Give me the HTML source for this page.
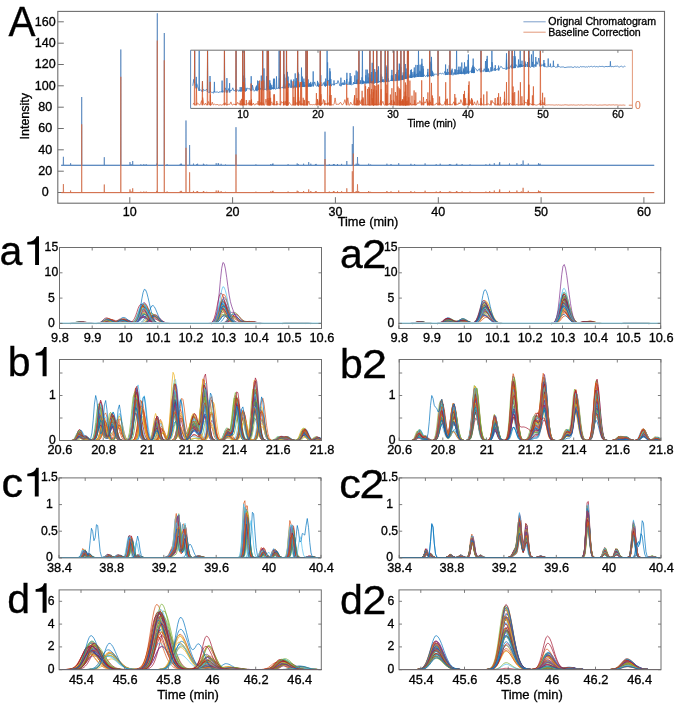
<!DOCTYPE html><html><head><meta charset="utf-8"><style>html,body{margin:0;padding:0;background:#fff;width:675px;height:703px;overflow:hidden}svg{display:block;will-change:transform;filter:blur(.35px)}text{font-family:"Liberation Sans",sans-serif;stroke:#000;stroke-width:.32px}</style></head><body>
<svg width="675" height="703" viewBox="0 0 675 703">
<rect width="675" height="703" fill="#fff"/>
<rect x="57.8" y="11.4" width="606.7" height="191.8" fill="none" stroke="#6e6e6e" stroke-width="1.1"/>
<path d="M57.8 192.5h6" stroke="#6e6e6e"/>
<text x="45.3" y="196.4" font-size="12.5" text-anchor="middle">0</text>
<path d="M57.8 171.2h6" stroke="#6e6e6e"/>
<text x="45.3" y="175.1" font-size="12.5" text-anchor="middle">20</text>
<path d="M57.8 149.8h6" stroke="#6e6e6e"/>
<text x="45.3" y="153.7" font-size="12.5" text-anchor="middle">40</text>
<path d="M57.8 128.5h6" stroke="#6e6e6e"/>
<text x="45.3" y="132.4" font-size="12.5" text-anchor="middle">60</text>
<path d="M57.8 107.2h6" stroke="#6e6e6e"/>
<text x="45.3" y="111.1" font-size="12.5" text-anchor="middle">80</text>
<path d="M57.8 85.8h6" stroke="#6e6e6e"/>
<text x="45.3" y="89.7" font-size="12.5" text-anchor="middle">100</text>
<path d="M57.8 64.5h6" stroke="#6e6e6e"/>
<text x="45.3" y="68.4" font-size="12.5" text-anchor="middle">120</text>
<path d="M57.8 43.2h6" stroke="#6e6e6e"/>
<text x="45.3" y="47.1" font-size="12.5" text-anchor="middle">140</text>
<path d="M57.8 21.8h6" stroke="#6e6e6e"/>
<text x="45.3" y="25.7" font-size="12.5" text-anchor="middle">160</text>
<path d="M129.8 203.2v-6" stroke="#6e6e6e"/>
<text x="129.8" y="215.8" font-size="12.5" text-anchor="middle">10</text>
<path d="M232.6 203.2v-6" stroke="#6e6e6e"/>
<text x="232.6" y="215.8" font-size="12.5" text-anchor="middle">20</text>
<path d="M335.4 203.2v-6" stroke="#6e6e6e"/>
<text x="335.4" y="215.8" font-size="12.5" text-anchor="middle">30</text>
<path d="M438.3 203.2v-6" stroke="#6e6e6e"/>
<text x="438.3" y="215.8" font-size="12.5" text-anchor="middle">40</text>
<path d="M541.1 203.2v-6" stroke="#6e6e6e"/>
<text x="541.1" y="215.8" font-size="12.5" text-anchor="middle">50</text>
<path d="M643.9 203.2v-6" stroke="#6e6e6e"/>
<text x="643.9" y="215.8" font-size="12.5" text-anchor="middle">60</text>
<text x="368" y="226.4" font-size="12.8" text-anchor="middle">Time (min)</text>
<text transform="translate(29.2 116.2) rotate(-90)" x="0" y="0" font-size="12.5" text-anchor="middle">Intensity</text>
<path d="M61.2 165.3l2 0 .2-8.5 .2 8.5 6.8 0 .2-2.1 .2 2.1 10.7 0 .2-68.3 .2 68.3 22.2 0 .2-8.1 .2 8.1 16.1 0 .2-115.8 .2 115.8 8.8 0 .2-3.2 .2 3.2 .7 0 .2-1.2 .2 1.2 1.2 0 .2-4.3 .2 4.3 7.7 0 .2-.9 .2 .9 2.6 0 .2-1.1 .2 1.1 2 0 .2-1.1 .2 1.1 10.2 0 .2-1.7 .2 1.7 .1 0 .2-152 .2 152 6.6 0 .2-132.3 .2 132.3 2.4 0 .2-1.1 .2 1.1 12.7 0 .2-1.3 .2 1.3 .5 0 .2-1.8 .2 1.8 .1 0 .2-1.1 .2 1.1 4 0 .2-44.8 .2 44.8 3.2 0 .2-20.3 .2 20.3 3.5 0 .2-1.7 .2 1.7 2.7 0 .2-1.1 .2 1.1 .6 0 .2-1.6 .2 1.6 5.4 0 .2-1.6 .2 1.6 .3 0 .2-.9 .2 .9 2.2 0 .2-.8 .2 .8 9.1 0 .2-2.1 .2 2.1 1.6 0 .2-2.1 .2 2.1 0 0 .2-1.7 .2 1.7 2.1 0 .2-1.5 .2 1.5 4 0 .2-.8 .2 .8 10.1 0 .2-38.1 .2 38.1 19.5 0 .2-.9 .2 .9 14.5 0 .2-1.3 .2 1.3 1.2 0 .2-1.4 .2 1.4 .2 0 .2-1.8 .2 1.8 14.7 0 .2-1.1 .2 1.1 8.7 0 .2-1.9 .2 1.9 .7 0 .2-1.2 .2 1.2 4.9 0 .2-1.6 .2 1.6 4.7 0 .2-3.2 .2 3.2 1.7 0 .2-1.6 .2 1.6 4.2 0 .2-1.2 .2 1.2 .4 0 .2-1.4 .2 1.4 8.4 0 .2-33.6 .2 33.6 3.9 0 .2-1.1 .2 1.1 3.7 0 .2-1.3 .2 1.3 0 0 .2-1.3 .2 1.3 .2 0 .2-.9 .2 .9 2.7 0 .2-1.1 .2 1.1-.4 0 .2-1 .2 1 3.7 0 .2-1.4 .2 1.4 4.8 0 .2-4.3 .2 4.3 5.1 0 .2-21.3 .2 21.3 .6 0 .2-39 .2 39 2.5 0 .2-1.6 .2 1.6 .9 0 .2-8.3 .2 8.3 .8 0 .2-1.5 .2 1.5 9.6 0 .2-1.6 .2 1.6 1.5 0 .2-.8 .2 .8 15.9 0 .2-1.6 .2 1.6 3.7 0 .2-1.3 .2 1.3 7.3 0 .2-2.1 .2 2.1 11.8 0 .2-1.5 .2 1.5 3.3 0 .2-1.1 .2 1.1 10.1 0 .2-1.9 .2 1.9 10.7 0 .2-1.1 .2 1.1 3.6 0 .2-1.6 .2 1.6 8.8 0 .2-1.2 .2 1.2 .9 0 .2-1 .2 1 5.2 0 .2-1 .2 1 .1 0 .2-1.6 .2 1.6 4.9 0 .2-1.3 .2 1.3 7.5 0 .2-1 .2 1 15.5 0 .2-1 .2 1 3.4 0 .2-1.5 .2 1.5 4.2 0 .2-2.1 .2 2.1 4.7 0 .2-1.9 .2 1.9-.1 0 .2-3.2 .2 3.2 9.4 0 .2-1.8 .2 1.8 7 0 .2-2.1 .2 2.1 4 0 .2-1.2 .2 1.2 1.4 0 .2-4.8 .2 4.8 4.8 0 .2-1.8 .2 1.8 9.8 0 .2-2.1 .2 2.1 .1 0 .2-1.2 .2 1.2 .7 0 .2-1.6 .2 1.6 113.9 0" fill="none" stroke="#4a7db8" stroke-width=".7" stroke-linejoin="round"/>
<path d="M61.2 165.3H654.2" stroke="#4a7db8" stroke-width=".9"/>
<path d="M61.2 192.6l2 0 .2-8.5 .2 8.5 6.8 0 .2-2.1 .2 2.1 10.7 0 .2-68.3 .2 68.3 22.2 0 .2-8.1 .2 8.1 16.1 0 .2-115.8 .2 115.8 8.8 0 .2-3.2 .2 3.2 .7 0 .2-1.2 .2 1.2 1.2 0 .2-4.3 .2 4.3 7.7 0 .2-.9 .2 .9 2.6 0 .2-1.1 .2 1.1 2 0 .2-1.1 .2 1.1 10.2 0 .2-1.7 .2 1.7 .1 0 .2-152 .2 152 6.6 0 .2-132.3 .2 132.3 2.4 0 .2-1.1 .2 1.1 12.7 0 .2-1.3 .2 1.3 .5 0 .2-1.8 .2 1.8 .1 0 .2-1.1 .2 1.1 4 0 .2-44.8 .2 44.8 3.2 0 .2-20.3 .2 20.3 3.5 0 .2-1.7 .2 1.7 2.7 0 .2-1.1 .2 1.1 .6 0 .2-1.6 .2 1.6 5.4 0 .2-1.6 .2 1.6 .3 0 .2-.9 .2 .9 2.2 0 .2-.8 .2 .8 9.1 0 .2-2.1 .2 2.1 1.6 0 .2-2.1 .2 2.1 0 0 .2-1.7 .2 1.7 2.1 0 .2-1.5 .2 1.5 4 0 .2-.8 .2 .8 10.1 0 .2-38.1 .2 38.1 19.5 0 .2-.9 .2 .9 14.5 0 .2-1.3 .2 1.3 1.2 0 .2-1.4 .2 1.4 .2 0 .2-1.8 .2 1.8 14.7 0 .2-1.1 .2 1.1 8.7 0 .2-1.9 .2 1.9 .7 0 .2-1.2 .2 1.2 4.9 0 .2-1.6 .2 1.6 4.7 0 .2-3.2 .2 3.2 1.7 0 .2-1.6 .2 1.6 4.2 0 .2-1.2 .2 1.2 .4 0 .2-1.4 .2 1.4 8.4 0 .2-33.6 .2 33.6 3.9 0 .2-1.1 .2 1.1 3.7 0 .2-1.3 .2 1.3 0 0 .2-1.3 .2 1.3 .2 0 .2-.9 .2 .9 2.7 0 .2-1.1 .2 1.1-.4 0 .2-1 .2 1 3.7 0 .2-1.4 .2 1.4 4.8 0 .2-4.3 .2 4.3 5.1 0 .2-21.3 .2 21.3 .6 0 .2-39 .2 39 2.5 0 .2-1.6 .2 1.6 .9 0 .2-8.3 .2 8.3 .8 0 .2-1.5 .2 1.5 9.6 0 .2-1.6 .2 1.6 1.5 0 .2-.8 .2 .8 15.9 0 .2-1.6 .2 1.6 3.7 0 .2-1.3 .2 1.3 7.3 0 .2-2.1 .2 2.1 11.8 0 .2-1.5 .2 1.5 3.3 0 .2-1.1 .2 1.1 10.1 0 .2-1.9 .2 1.9 10.7 0 .2-1.1 .2 1.1 3.6 0 .2-1.6 .2 1.6 8.8 0 .2-1.2 .2 1.2 .9 0 .2-1 .2 1 5.2 0 .2-1 .2 1 .1 0 .2-1.6 .2 1.6 4.9 0 .2-1.3 .2 1.3 7.5 0 .2-1 .2 1 15.5 0 .2-1 .2 1 3.4 0 .2-1.5 .2 1.5 4.2 0 .2-2.1 .2 2.1 4.7 0 .2-1.9 .2 1.9-.1 0 .2-3.2 .2 3.2 9.4 0 .2-1.8 .2 1.8 7 0 .2-2.1 .2 2.1 4 0 .2-1.2 .2 1.2 1.4 0 .2-4.8 .2 4.8 4.8 0 .2-1.8 .2 1.8 9.8 0 .2-2.1 .2 2.1 .1 0 .2-1.2 .2 1.2 .7 0 .2-1.6 .2 1.6 113.9 0" fill="none" stroke="#d06a45" stroke-width=".7" stroke-linejoin="round"/>
<path d="M61.2 192.6H654.2" stroke="#d06a45" stroke-width=".9"/>
<rect x="190.6" y="50.2" width="441.8" height="58.2" fill="#fff"/>
<clipPath id="ci"><rect x="190.6" y="50.7" width="441.8" height="57.7"/></clipPath>
<g clip-path="url(#ci)" fill="none" stroke-width=".8" stroke-linejoin="round">
<path d="M192.8 85.8l1-6.5 .6 3.8 .3-35.9 .3 35.9-.2-.4 1 3.2 .2 2.5 .3-11.5 .3 11.5 .1-4.8 1 3.1 1 2.9 .2 1.2 .3-43.6 .3 43.6 .2-.5 .9-.4 1 .5 .6 1.5 .3-10.7 .3 10.7-.2-.5 1-2 .9 1.1 1-.1 1-1.2 1 1.9-.2 .9 .3-44.8 .3 44.8 .5 .1 1 1 .3-1.1 .3-16 .3 16 .1-.7 1 1 .9 0 1 1 1-2.2-.2 1.1 .3-10.3 .3 10.3 .6-.1 .9 .2 1-.8 1 1.3 1-1.1 .9 .8 1-1.2 .7 1 .3-11.7 .3 11.7-.3-1.1 1-.5 .9 1.1 .2 .6 .3-45.2 .3 45.2 .2-4.6 1 1.9 .6 2.8 .3-14.4 .3 14.4-.2-1.5 .9-.1 1-2.5 .4 4 .3-9.2 .3 9.2 0-2.2 1 .5 .9-.3 1-2.6 1 3 1-.3 .9-1.3 .1 2.5 .3-44.5 .3 44.5 .3-.9 1-1.1 .9 1.7 1-1.5 .3 1.4 .3-4.2 .3 4.2 .1-.4 .7 .3 .3-4 .3 4-.3-.1 .9-.7 0 .6 .3-43.8 .3 43.8-.6 0 .3-8.8 .3 8.8-.4 0 .3-2.5 .3 2.5 .2-2.7 0 2.7 .3-15.4 .3 15.4 .4-.8-.3 .7 .3-43.7 .3 43.7-.5 0 .3-7.3 .3 7.3-.5 0 .3-13 .3 13 .5 .6 .3-.7 .3-2.9 .3 2.9 0-.5 1-2.2 1 .6 1-.3 .9 1.7 .5 .4 .3-2.1 .3 2.1-.5 0 .3-14.3 .3 14.3-.2 .6 .1-.7 .3-4.6 .3 4.6 .3-5.4 1 3.7 .9 2.6 1-1.2 .5 0 .3-2.5 .3 2.5-.1-1.2-.3 1.2 .3-3.6 .3 3.6-.3 0 .3-3.9 .3 3.9-.4 0 .3-2.7 .3 2.7-.6 0 .3-4.6 .3 4.6 .2 1.1 .1-1.2 .3-9.4 .3 9.4 .2-.6 .4 .5 .3-2.3 .3 2.3-.5 0 .3-8.9 .3 8.9-.1-3.3 1 2.2 1-.3-.1 1.3 .3-14.2 .3 14.2 .4-3.1 .5 3 .3-42.5 .3 42.5-.1 .5 1-.3-.3-.3 .3-21.2 .3 21.2 .7-.3 .9 0 .3 .1 .3-13.2 .3 13.2 .1 1.1 .1-1.1 .3-42.2 .3 42.2 .3-.5 .3 .4 .3-42.1 .3 42.1 .1 .6-.2-.6 .3-3.5 .3 3.5-.2-.1 .3-2.6 .3 2.6-.2 0 .3-8.9 .3 8.9-.3 1 .4-1 .3-5.9 .3 5.9-.4 0 .3-4.9 .3 4.9-.2 .7 1-4.7-.1 3.9 .3-2 .3 2 .5-1.3 .4 1.2 .3-10.3 .3 10.3-.5 0 .3-7.3 .3 7.3-.2 0 .5-.1 .3-10.2 .3 10.2-.1-.5 1 .9 .5-.6 .3-12.3 .3 12.3-.1-.1 .9-.2 1-1.1 .2 1.3 .3-41.4 .3 41.4-.3-.1 .3-10.1 .3 10.1-.1-2.9 .2 2.9 .3-41.3 .3 41.3 .2 0 .9-.9 1 0 1-1.2-.3 1.8 .3-3.6 .3 3.6-.4 0 .3-41 .3 41 .4-1.3-.2 1.3 .3-13.8 .3 13.8 .6 0 .5-.2 .3-10.3 .3 10.3-.1-1.9-.3 1.9 .3-40.8 .3 40.8 .7-2.7-.3 2.6 .3-16 .3 16 .1 0 .3-11.3 .3 11.3-.1-4.3-.2 4.3 .3-4.5 .3 4.5 .6-4.4 1 3.3 .5 .9 .3-8.1 .3 8.1-.1-6.9 .9 5.1 1 2.4 .3-.8 .3-8.1 .3 8.1 .1-1 1-1.2-.3 2.1 .3-14 .3 14 .6-6.2 .1 6.1 .3-9.1 .3 9.1 .3-.6 .2 .5 .3-40 .3 40-.1 0 .3-2.5 .3 2.5-.3-1.9-.1 1.8 .3-14.6 .3 14.6-.4 0 .3-5.7 .3 5.7-.4 0 .3-13.1 .3 13.1 .1-1.3-.3 1.3 .3-2.9 .3 2.9 .6-4.7 1 3.6 .2 .9 .3-19.3 .3 19.3 .2 .1 0-.1 .3-10.3 .3 10.3-.1-.1 .3-6 .3 6-.1-.1 .1 .1 .3-4.8 .3 4.8 .2-8.2-.1 8.1 .3-4.7 .3 4.7-.5 0 .3-2.1 .3 2.1 .4-1 1-.1-.2 1 .3-39.4 .3 39.4 .1 0 .3-10.7 .3 10.7-.1-.3-.1 .3 .3-3.3 .3 3.3-.4 0 .3-39.4 .3 39.4 .2-.9-.3 .9 .3-3.9 .3 3.9-.3-.1 .3-7.1 .3 7.1 .4-2 .2 2 .3-2.3 .3 2.3 .2-3.5 .2 3.4 .3-2 .3 2-.2 0 .3-4.5 .3 4.5-.2-1.7-.1 1.7 .3-2 .3 2 .4-2.1 1-1.8 .2 3.8 .3-14.9 .3 14.9 .2-.9 1-3.5 .9 3.3 1 1.1 .6-.2 .3-5.2 .3 5.2-.2-2.5 .2 2.4 .3-3.5 .3 3.5 .2 .9 .9-3 .5 2 .3-38.7 .3 38.7-.1 .1 0-.1 .3-10.7 .3 10.7 .4-.6 1 .1 .9-2.8 1 3.2 .1-.1 .3-4.1 .3 4.1-.3 0 .3-2.1 .3 2.1 0 1-.1-1.1 .3-2 .3 2-.5 0 .3-7 .3 7 .4-.8 .4 .8 .3-38.4 .3 38.4-.1-2 0 1.9 .3-23.1 .3 23.1 .4-5.2 1 1.3 0 3.8 .3-5.2 .3 5.2-.4 0 .3-17.1 .3 17.1-.5 0 .3-6.8 .3 6.8-.3 0 .3-14 .3 14-.2-2.9 .3 2.9 .3-6.2 .3 6.2 0 .8 1-2.4 1 1 .5 .4 .3-4.8 .3 4.8-.2-1.2 1 .2 1-1.1 1 .7 .9-3.3 1 2.6 1 2.9 .6-1.1 .3-7.2 .3 7.2-.2 1.4 .9-3.3 1 1.2-.2 .6 .3-2.4 .3 2.4 .6-1.5 .3 1.4 .3-4.7 .3 4.7 .1-.4 .9-.6 1-4.7-.2 5.6 .3-11.8 .3 11.8 .6-.3 1-.3 .1 .4 .3-2.7 .3 2.7 .2-.2 .1 .2 .3-11.4 .3 11.4-.4-.1 .3-6 .3 6 .1-3.3 0 3.3 .3-8.2 .3 8.2 .4 .8 1-.9 .5-.1 .3-2.1 .3 2.1-.2 0 1-.8-.1 .7 .3-8.6 .3 8.6 .5-.8 .3 .8 .3-13.4 .3 13.4 .1-1.5 .1 1.4 .3-3.9 .3 3.9-.5 0 .3-4.3 .3 4.3 .1-3.9-.1 3.9 .3-3.4 .3 3.4-.5-.1 .3-12.2 .3 12.2 .4-2.2 .2 2.2 .3-36.6 .3 36.6 .2-.3 1-1.1-.2 1.3 .3-3.4 .3 3.4 .5 .5 .3-.6 .3-6.3 .3 6.3-.2-.1 .3-36.3 .3 36.3-.3 .1 0-.1 .3-2.2 .3 2.2-.4 0 .3-2.9 .3 2.9 .2-2.7 .4 2.6 .3-2.1 .3 2.1 0-1.4 .9-.4 .2 1.7 .3-8 .3 8-.4 0 .3-13.7 .3 13.7 0-1 1-.9-.3 1.8 .3-13.5 .3 13.5 0 0 .3-2.1 .3 2.1 .1-.7 .3 .6 .3-9.7 .3 9.7 0-6.2-.2 6.2 .3-5.1 .3 5.1-.3 0 .3-8.9 .3 8.9-.4-.1 .3-35.8 .3 35.8 .1-2.1-.1 2.1 .3-2.3 .3 2.3 0 0 .3-4.9 .3 4.9-.5 0 .3-8.4 .3 8.4-.2-.6-.1 .5 .3-10.9 .3 10.9-.4 0 .3-3.2 .3 3.2-.4 0 .3-3.3 .3 3.3 .1-.3-.3 .3 .3-20.1 .3 20.1 .6 .8 0-.9 .3-35.6 .3 35.6-.6 0 .3-12 .3 12-.5 0 .3-6.9 .3 6.9-.6 0 .3-13.4 .3 13.4 .3 .9 .3-1 .3-13.5 .3 13.5 .1-.7 .3 .7 .3-10.8 .3 10.8 .1-.4 .4 .3 .3-3.2 .3 3.2-.6 0 .3-35.4 .3 35.4-.4 0 .3-3.7 .3 3.7-.3-5.4 .5 5.3 .3-12.4 .3 12.4-.1-.6 .2 .5 .3-16 .3 16 .2-1.1 .9 .4 1-1.9-.3 2.4 .3-35 .3 35-.5 0 .3-7.8 .3 7.8 .6-5.5 .2 5.3 .3-2.1 .3 2.1 .2-2.4 0 2.3 .3-2.6 .3 2.6 .3 .4 1-.9 0 .3 .3-34.5 .3 34.5-.3 0 .3-5 .3 5-.4 0 .3-12.5 .3 12.5-.1-2-.2 1.9 .3-16.3 .3 16.3-.2 0 .3-8.6 .3 8.6 .2-.1-.2 0 .3-5.8 .3 5.8-.6 0 .3-14.8 .3 14.8-.1-.1 .3-12.6 .3 12.6-.4 0 .3-2.7 .3 2.7-.2 .3-.1-.3 .3-34.2 .3 34.2-.3 0 .3-3 .3 3 .2 .2 1-.6 1-.7 .4 .7 .3-5.5 .3 5.5-.1-.3 0 .3 .3-11.1 .3 11.1-.3-.1 .3-5.6 .3 5.6 .1-3 1 1.2-.1 1.6 .3-33.5 .3 33.5 .5-.4 .9 .5-.1-.3 .3-6.5 .3 6.5 .5-.9-.2 .8 .3-5.2 .3 5.2-.3 0 .3-8 .3 8-.2 0 .3-33.2 .3 33.2-.1-.3 .4 .2 .3-10.4 .3 10.4 0-2-.2 1.9 .3-4.3 .3 4.3 .1-.1 .3-16.5 .3 16.5-.5 0 .3-3.1 .3 3.1-.3-5.1 0 5.1 .3-2.3 .3 2.3-.2-.1 .3-13.6 .3 13.6-.6 0 .3-15.7 .3 15.7 0-2.3 .1 2.2 .3-12.8 .3 12.8-.5 0 .3-32.7 .3 32.7 .2-1.7-.3 1.6 .3-3.9 .3 3.9-.4-.1 .3-3.4 .3 3.4 0-.1 .3-4.1 .3 4.1-.5-.1 .3-3.6 .3 3.6-.2-1.1 .3 .9 .3-3.9 .3 3.9-.5 0 .3-2.3 .3 2.3-.5 0 .3-6.9 .3 6.9-.2-1.5-.1 1.4 .3-4.8 .3 4.8 .1-.2 .3-31.8 .3 31.8-.2-.2 .7 0 .3-6.8 .3 6.8-.3-.9-.3 .9 .3-14.8 .3 14.8-.2-.1 .3-6.6 .3 6.6-.3-.1 .3-2 .3 2-.4-.1 .3-10 .3 10-.2-.1 .9-1.9 .1 1.7 .3-31 .3 31-.6 0 .3-3.9 .3 3.9 .3-.7-.3 .5 .3-30.8 .3 30.8 0-.1 .3-3.6 .3 3.6 .1-1.8 1 0 .2 1.4 .3-2.1 .3 2.1-.5 0 .3-7.5 .3 7.5 0-2.3 0 2.2 .3-8 .3 8-.5 0 .3-4.9 .3 4.9-.3 0 .3-3.6 .3 3.6-.4 0 .3-5.4 .3 5.4-.2-1.1 1-.1 .7 1 .3-5.6 .3 5.6-.3-2.8-.1 2.8 .3-9.7 .3 9.7-.2 0 .3-4.8 .3 4.8 0-2.3 .6 2.2 .3-12.2 .3 12.2-.2-2.5 1-.4 .4 2.8 .3-12 .3 12 0-3.9 .2 3.8 .3-29.7 .3 29.7 .1-2 1-4.1-.1 6 .3-12.1 .3 12.1-.1-.1 .3-5.1 .3 5.1 0-1 .3 1 .3-7.5 .3 7.5-.3-.1 .3-12.9 .3 12.9-.2-2.6-.3 2.6 .3-17.8 .3 17.8 .6-4.2-.1 4.2 .3-10.6 .3 10.6-.3-.1 .3-7.8 .3 7.8 .2-2 1 1.3 .9 .8 1-1.2 .6 .8 .3-3.8 .3 3.8-.2 .9-.1-.9 .3-7.3 .3 7.3 .5-1.2 .9 1.9-.1-.9 .3-28.8 .3 28.8-.3 0 .3-14.3 .3 14.3 .2-1.8 .5 1.7 .3-12.2 .3 12.2-.5 0 .3-19 .3 19-.2 .6 .4-.6 .3-5.1 .3 5.1 0-3.4 .1 3.3 .3-3.2 .3 3.2 .2 .4 1-2.2 1 .2 1 0 .9 .7 .4 .6 .3-28.3 .3 28.3 0-1.6 1-.2 1-.6 .9 1 1-.9 1 .8 1-.8 .9-2.1 .1 3.9 .3-10.5 .3 10.5-.3 0 .3-2.3 .3 2.3 0-2.8 1 2.5 0 .2 .3-6 .3 6 .4-2.8 .9 2-.1 .6 .3-9.4 .3 9.4 0 0 .3-27.5 .3 27.5-.1-1.1 .4 1 .3-3 .3 3 0 .1-.1-.1 .3-4.4 .3 4.4 .5-5.9 .9 6.6 1-2.8 .6 1.9 .3-5.2 .3 5.2-.2-1.3 .4 1.2 .3-4.6 .3 4.6 0-.1 .3 .1 .3-27.1 .3 27.1 0 0 1-1.7-.2 1.6 .3-4.3 .3 4.3 .2-.1 .3-7.4 .3 7.4-.2-3.4 1-1 0 4.3 .3-7.3 .3 7.3 .3-1.8 .6 1.7 .3-3.2 .3 3.2-.5 0 .3-11.4 .3 11.4-.3-2.1 1 1.8 .6 .1 .3-5.2 .3 5.2-.2-3.8 .4 3.7 .3-2.8 .3 2.8-.6 0 .3-11.2 .3 11.2-.1 .8 1-.8-.2-.1 .3-6.7 .3 6.7-.2 0 .3-6.8 .3 6.8 .2-1.1 1-1.7 0 2.6 .3-13.4 .3 13.4-.2 0 .3-18.8 .3 18.8-.6 0 .3-7.8 .3 7.8-.1-1 1-.2 1-1.2 1-.7-.2 2.7 .3-3.3 .3 3.3-.3 0 .3-5.4 .3 5.4 .2-3.5 0 3.5 .3-7.3 .3 7.3-.2-.1 .3-14.2 .3 14.2-.5 0 .3-5.5 .3 5.5-.1-3.9 .3 3.8 .3-5.9 .3 5.9-.5 0 .3-2.7 .3 2.7 0-3 .9-1 1 .7 1 1.8 1-1.5 .9-1 1 2.9 .3 .5 .3-24.9 .3 24.9-.4 0 .3-4.2 .3 4.2-.1-1.6 1 .1 .9 1.1 1-3 1 2.6 0 .4 .3-10.7 .3 10.7 .4-.3-.1 .2 .3-4.9 .3 4.9-.5 0 .3-2.2 .3 2.2-.3-.1 .3-12.4 .3 12.4 0-.2-.2 .2 .3-15.6 .3 15.6 .6-.2 0 .1 .3-2.9 .3 2.9-.4 0 .3-2.2 .3 2.2 .2 .4 1 0 .5-.6 .3-4 .3 4-.2 0 .6-.1 .3-23.9 .3 23.9-.2-9 1 7 1 1.5 .9-2.6 .1 2.7 .3-5.5 .3 5.5 .3-.5 1-1.1 1-.3 .4 1.6 .3-4.8 .3 4.8-.1-.4 1-2 1-1.7 1 .6 .9 1.6 1 0 1-.2 1 1.1 .5-.2 .3-15.9 .3 15.9-.6 0 .3-9.7 .3 9.7-.2-.2 1-.8 1-1.4 0 2 .3-21.6 .3 21.6 .4-1.2 .9-.5 1-2.6 .3 3.8 .3-21.1 .3 21.1 .1-.5 .1 .4 .3-12.2 .3 12.2 .3-1.4 .9-.6-.1 1.7 .3-20.7 .3 20.7-.3 0 .3-10.4 .3 10.4-.5 0 .3-11.8 .3 11.8 .1-3.2 1 .1 1 2.4 .9-.6-.1 .7 .3-7.8 .3 7.8 .5-1.8 .4 1.6 .3-3 .3 3-.4-.1 .3-18.2 .3 18.2-.2-.6 .1 .6 .3-3 .3 3-.4 0 .3-2.4 .3 2.4 0-2.7 .5 2.7 .3-6.3 .3 6.3-.1-.4 1-1.6 1 1.3-.2 .6 .3-19.7 .3 19.7 .2 0 .3-5.4 .3 5.4-.3-.9-.2 .9 .3-3.3 .3 3.3 .6-2.6 1 1.3 .1 1.2 .3-4.8 .3 4.8 .3-1.4 .3 1.3 .3-17.3 .3 17.3-.4 0 .3-19.5 .3 19.5-.6 0 .3-8.9 .3 8.9-.2-1 1 1.6 1-.2 .2-.4 .3-12.2 .3 12.2 .2-.4 .3 .3 .3-4.7 .3 4.7 0-.7 0 .7 .3-16.2 .3 16.2 .4 .9 1-3.1 .6 2.1 .3-9.5 .3 9.5-.2-.8 .9-4 1 2.6 1-6.3 1 5.5 .2 2.9 .3-19.2 .3 19.2-.3 0 .3-3.3 .3 3.3-.2 .2 1-1.8 1 .5 1-1.5-.1 2.5 .3-6.3 .3 6.3 .4 .8-.2-.7 .3-3.2 .3 3.2 .6 .2 1 .3 1-.1 .3-.3 .3-8 .3 8 0 .2 1-.2 .6 .1 .3-3 .3 3-.2 .1 1 .4 .9-.4 .7 0 .3-6 .3 6-.3-.4 1 .1 1 .9 .9-.3 1 .3 .3-.4 .3-3 .3 3 .1-.3 1 0 .9 .6 1-.2 1 0 1-.2 .9 .6 1 .1 1-.1 .9-.3 1 0 1-.1 1 .1 .9-.2 1 .1 1 .5 1-.2 .9-.7 1 .5 1 .2 1-.5 .9 .5 1 0 1-.9 1 .5 .9-.2 1 0 1 .1 1 .3 .9-.3 1 .3 1-.7 1 .5 .9-.4 1-.2 1 .6 1-.3 .9-.4 1 .7 1-.4 1 .2 .9 .3 1-.7 1 .2 1 0 .9-.2 1 .2 1 .5 1-.3 .9-.4 1 .4 1-.1 1-.2 .9 .3 .2-.2 .3-5.2 .3 5.2 .2-.1 1 .4 .9-.4 1 .4 1-.5 1-.1 .9 .1 1-.2 1 .8 1 .1 .9-.6 1-.2 1 .7 1 0 .9-.7 .9 .3" stroke="#3a78bd"/>
<path d="M192.8 104.1l1-.9 .5 2 .3-58 .3 58-.1-.1 1-.2 .4 .3 .3-17.6 .3 17.6-.1-2.1 1 .2 1 .6 1 1.3 .9-1.5 1-3.1 .5 4.6 .3-24 .3 24-.1-7.7 1 6.3 .9 1.3 1-2.1 1 1.9 1-.9-.3 1.2 .3-58 .3 58 .6-3.7 1 2.2 .5 1.5 .3-23.3 .3 23.3-.4 0 .3-10.5 .3 10.5-.3-.2 1-.2 .9-2.6 1 2.8 1-.9 1 .5 .9 .4 1-1 1 1.1 1 0 .9-.5 1 .5 1 0 1-.9 .9-.6 .1 1.6 .3-58 .3 58 .3-2.5 1 2.3 .6 .2 .3-15 .3 15-.2-.7 .9 .2 1-.6 1 .3 1-2.5 .9 2.7 1 .5 1-1.3 1 1.2 .9-1 0 1.2 .3-58 .3 58 .4-.8 1-2.1 .9 1.9 1-.9 .4 1.9 .3-4.7 .3 4.7 0-.6 .6 .6 .3-6.3 .3 6.3-.2-1.6 .9 1-.1 .6 .3-58 .3 58-.4 0 .3-13 .3 13-.6 0 .3-5.9 .3 5.9 .3-2.8-.2 2.8 .3-23.1 .3 23.1 .1 0 .3-58 .3 58-.1-1.5 1 1.2 .5 .3 .3-5.2 .3 5.2-.2-.5 1-.4 1-1.8 .6 2.7 .3-4.9 .3 4.9-.2-.4 .9-2.1 .5 2.5 .3-4.8 .3 4.8-.6 0 .3-21.7 .3 21.7-.1-2.1-.1 2.1 .3-5.9 .3 5.9 .5-.2 1-2 .9 2 1-.1 1-1.5 1 1.3 .9-3.7 .7 4.2 .3-21.7 .3 21.7-.3-1.3 .3 1.3 .3-24.7 .3 24.7 .1-.8 1-2.4-.2 3.2 .3-15.8 .3 15.8-.2 0 .3-24 .3 24 .1-.1 .3 .1 .3-58 .3 58 .1-2.6 .5 2.6 .3-24.8 .3 24.8-.1-.1 1-.2 .9-5.8 1 3.8 0 2.3 .3-58 .3 58 .4-.5-.2 .5 .3-7.2 .3 7.2-.3 0 .3-58 .3 58-.1 0 .3-5.2 .3 5.2-.2-.2-.1 .2 .3-4.3 .3 4.3 .1 0 .3-13.8 .3 13.8-.6 0 .3-15.8 .3 15.8-.3-7.2 .5 7.2 .3-7.4 .3 7.4-.1-2.2 1-1.2 1 3.1 .9-1.7-.2 2 .3-10.8 .3 10.8 .1 0 .3-10.8 .3 10.8-.1-.9 1 .4 1-.3-.2 .8 .3-4.2 .3 4.2 .5-1.9 1 1 1-.1 .4 1 .3-58 .3 58 0-.3 .9-3.3 1 1.5 1-1.2-.1 3.3 .3-4.1 .3 4.1-.4 0 .3-58 .3 58 .2-1.1 1-2.7 .6 3.8 .3-20.8 .3 20.8-.6 0 .3-19 .3 19-.2-1.5-.1 1.5 .3-58 .3 58 0 0 .3-13.2 .3 13.2-.6 0 .3-4.2 .3 4.2-.1-1.8-.1 1.8 .3-24.4 .3 24.4-.2 0 .3-18.1 .3 18.1 0-1.7 1-1 1 1.7 1 .8 .9 .1 .5 .1 .3-24 .3 24-.1-.5 .3 .5 .3-8.2 .3 8.2 .1-.1 .7 .1 .3-18.7 .3 18.7-.3-4.4-.1 4.4 .3-17.8 .3 17.8 .4-1.3 1-1.6 .3 2.9 .3-58 .3 58 .1 0 0 0 .3-21.3 .3 21.3-.6 0 .3-24.1 .3 24.1-.4 0 .3-7.9 .3 7.9 .2-1.3 .9-3.1 .4 4.4 .3-23.2 .3 23.2 0-1.9 .3 1.9 .3-23.4 .3 23.4 .1-1.1 1-.2-.1 1.3 .3-7.4 .3 7.4 .4-.2-.1 .2 .3-5.4 .3 5.4-.5 0 .3-5 .3 5 .4-.3 1 0-.2 .3 .3-58 .3 58 .1 0 .3-25.9 .3 25.9-.1-.9-.1 .9 .3-4.2 .3 4.2-.4 0 .3-58 .3 58 .2-1 1-3.2 1 3.9 1-.3 .9 0 1 .2 1-.3 1 .2 .9-.8 .5 1.3 .3-12.1 .3 12.1-.1-.1 .6 .1 .3-6.2 .3 6.2-.2-5.2 1 4.3 .5 .9 .3-20.2 .3 20.2-.2-5.6 .4 5.6 .3-58 .3 58 0-2.3-.1 2.3 .3-9.5 .3 9.5-.5 0 .3-23.1 .3 23.1-.5 0 .3-11.1 .3 11.1 .3-2.2 1 .9 .9-4.5 1 5.5 .1 .3 .3-4.8 .3 4.8 .3-2.2 1 1.5 .9-1.5 0 2.2 .3-24.3 .3 24.3 .4-2.6 1 2.2 .2 .4 .3-19 .3 19-.4 0 .3-9.8 .3 9.8 0-.4-.3 .4 .3-20.8 .3 20.8 .2 0 .3-10.2 .3 10.2-.2-.1 1-.4 1 .3 .9-.8 1-6.3 1 6.4 1 .2 .9-.6 1 .6 1-1.9 1 .1 .9 2.1 1-.2 1-1.6 1-3.4 .9 3.5 .6 2.1 .3-21 .3 21-.2-1.1 1-6.3 1 7.4 .9-.1 1-2.9 1 1.9 1 1 .9-1.5 1-7.5-.3 9.1 .3-10.2 .3 10.2 .7-1.5 .2 1.5 .3-17.3 .3 17.3 .2-.9 0 .9 .3-7.1 .3 7.1 .3-.2-.3 .2 .3-5 .3 5 0 0 .3-25.6 .3 25.6 .1-.1 .1 .1 .3-58 .3 58 .3-4.6 1 3.2 .9-4.1 .4 5.5 .3-14.4 .3 14.4 0-.1 .3 .1 .3-7.9 .3 7.9-.5 0 .3-6.7 .3 6.7 0-.6 1 .5 .3 .1 .3-21.5 .3 21.5 0-1 0 1 .3-19 .3 19 .4-.1 1-.5-.1 .6 .3-16.3 .3 16.3 .5-1 .2 1 .3-18.2 .3 18.2 .1-.7-.1 .7 .3-16.6 .3 16.6-.2 0 .3-10.9 .3 10.9-.4 0 .3-58 .3 58-.1-.1 1 0 .1 .1 .3-16.2 .3 16.2-.1 0 .3-24.1 .3 24.1-.2-7.1 .9 6.7 0 .4 .3-13.2 .3 13.2-.6 0 .3-12.4 .3 12.4-.6 0 .3-58 .3 58-.3 0 .3-15.6 .3 15.6 .1-1.4 .1 1.4 .3-19.9 .3 19.9 .3-1 .4 1 .3-19.3 .3 19.3 0-1.5 0 1.5 .3-14.9 .3 14.9-.2 0 .3-58 .3 58-.1-.2 1-.6-.3 .8 .3-20.3 .3 20.3 0 0 .3-20.7 .3 20.7 .1-.2 .9-1.4 1-3.5-.2 5.1 .3-58 .3 58-.5 0 .3-16.1 .3 16.1 .5-1.8 1-2.1 .9 3.4 1 .5 .2 0 .3-58 .3 58-.1 0 .3-24.5 .3 24.5-.3-1.6 .6 1.6 .3-12 .3 12-.2-1.3-.2 1.3 .3-20.5 .3 20.5 .5-1.7-.2 1.7 .3-58 .3 58 .6-.9 1-1.1 .4 2 .3-10.7 .3 10.7 0-2.6 .9-2.3 0 4.9 .3-17 .3 17 .4-.7 .6 .7 .3-5.3 .3 5.3-.2-1.2-.1 1.2 .3-58 .3 58 .5-3.5 .5 3.5 .3-13.2 .3 13.2-.2-.5 1 .3 0 .2 .3-9.5 .3 9.5-.2 0 .3-58 .3 58 0-.7 .2 .7 .3-18.6 .3 18.6 .2-.2 .4 .2 .3-17 .3 17-.5 0 .3-5.2 .3 5.2-.2-3 .3 3 .3-15 .3 15-.3 0 .3-16 .3 16-.2-3.4 .2 3.4 .3-58 .3 58 .2-.8-.1 .8 .3-4.1 .3 4.1 .2 0 .3-6 .3 6-.3-.3-.3 .3 .3-4.9 .3 4.9-.1 0 .3-5.4 .3 5.4-.3 0 .3-4.1 .3 4.1-.2-.2 .4 .2 .3-8.7 .3 8.7-.6 0 .3-58 .3 58 0-.6 .5 .6 .3-13.5 .3 13.5-.1-.2-.1 .2 .3-22.7 .3 22.7-.6 0 .3-9.2 .3 9.2-.2 0 .3-9.3 .3 9.3-.5 0 .3-20.4 .3 20.4 0-1.1 0 1.1 .3-4.1 .3 4.1 .3-1.7-.1 1.7 .3-58 .3 58-.2 0 .3-4.5 .3 4.5 .1-.6-.1 .6 .3-58 .3 58-.2 0 .3-7.9 .3 7.9 .1-.1 .4 .1 .3-24.6 .3 24.6 0-2.4 .9 2.3 .6 .1 .3-9.5 .3 9.5-.2-.4 1-.3 1-.2-.3 .9 .3-14.8 .3 14.8 0 0 .3-5 .3 5 0-.2 .5 .2 .3-12.8 .3 12.8-.1-1.1 1 .3 1-2 .9 1.2 1-2.9 1 2.4 .5 2.1 .3-24.9 .3 24.9-.1-2.9 .9 1.2 .4 1.7 .3-8.1 .3 8.1 0-1.2 1-2.2 .9 1.3 1-4.1 .7 6.2 .3-4 .3 4-.3-2.6-.1 2.6 .3-12.8 .3 12.8 .5-2.4 .9 1.8-.2 .6 .3-5 .3 5-.6 0 .3-58 .3 58 .6-3.3 .6 3.3 .3-22.3 .3 22.3-.2-1 .5 1 .3-9.7 .3 9.7-.1-.3 0 .3 .3-7.1 .3 7.1 .3-.1 1-.3 1-.2 1-1.7 .9 1.6 .3 .7 .3-58 .3 58 .1-.1 1-2.8-.1 2.9 .3-8.7 .3 8.7 .5-1.6 .9 1.5 1 0 1-.2 1-.6 .9-3 .2 3.9 .3-23 .3 23 .2-6 1 4.1-.1 1.9 .3-6.5 .3 6.5 .5-.5 .9-.6 .6 1.1 .3-58 .3 58-.2-.9 1 .1 1 .8 .9-1.8 1-1.7 .5 3.5 .3-11.2 .3 11.2-.1-2.6 .5 2.6 .3-7.5 .3 7.5-.1-.2 .9-1.3 1 1.1 1-2.1 1 1.3 .9-4.4 1 2.4 1 2.9 .5 .3 .3-11.1 .3 11.1-.1-.8 .2 .8 .3-10.7 .3 10.7-.4 0 .3-14.3 .3 14.3-.1-4.9 .6 4.9 .3-7.1 .3 7.1-.2-1.2 1 .1 1-.1 .5 1.2 .3-20.2 .3 20.2-.6 0 .3-12 .3 12-.2-2.9 .2 2.9 .3-23.8 .3 23.8 .2-5.5 1 4 1-5.5 0 7 .3-6.3 .3 6.3 0 0 .3-5.1 .3 5.1-.3-1.8 1 1.6 1-3.2 .9 2.7 1 .6 1-4.5 1 4.6 .9-1 1 .2 .3 .8 .3-7.1 .3 7.1-.4 0 .3-58 .3 58-.1-2.6 1 2 .9 .3 .2 .3 .3-10.7 .3 10.7 .2-.4 1 .1 1-.7 .4 1 .3-13.8 .3 13.8-.1-.5 1-1.2 1 1.4 1-.2 .5 .5 .3-4.7 .3 4.7-.2-.3 1-4.5 1 2.6 1-.1 .9 1.1 0 1.2 .3-7.2 .3 7.2 .4-.6 1 .4 .3 .2 .3-7.8 .3 7.8 .1-2.1 .4 2.1 .3-12 .3 12-.1-.8 1 .8 .3 0 .3-8.3 .3 8.3 .1-.2 1 .1 .9-1.4 1-1.3 .5 2.8 .3-13.5 .3 13.5-.5 0 .3-6.4 .3 6.4-.2-.3 1-1.6 .5 1.9 .3-23.1 .3 23.1-.2-.5 1-.9 1-1 0 2.4 .3-58 .3 58 .4-1.2 .9-.7 1 1.3 .4 .6 .3-58 .3 58 0 0 .2 0 .3-12.3 .3 12.3-.5 0 .3-18.7 .3 18.7 .1-.9 .9-.2 0 1.1 .3-13.1 .3 13.1 .4-.2 1-.4 1 .1 .9 .5-.2 0 .3-14.6 .3 14.6 .6-.4 1-.2-.2 .6 .3-23 .3 23 .5-.8 .4 .8 .3-8.9 .3 8.9 0-1.5 1 .9 .7 .6 .3-58 .3 58-.3-4.8 .9 2.8 1-1.1 1 1.7 .2 1.4 .3-5.6 .3 5.6 .2-1.3 .2 1.3 .3-20.3 .3 20.3-.5 0 .3-58 .3 58-.4 0 .3-20.5 .3 20.5-.2-.9 1-1 1 1.4 1-.6 .1 1.1 .3-9.8 .3 9.8 .2-1.4 .2 1.4 .3-18.8 .3 18.8 .2-.9 1 .5 1 .3 .9 0 1-.4 1-.5 1-.7 .3 1.7 .3-58 .3 58-.3 0 .3-5 .3 5-.3-1.5 1 1.1 .6 .4 .3-12.4 .3 12.4-.2-3.2 1 2.8 .9-1.1-.2 1.5 .3-7.7 .3 7.7 .6 0 1-.3 1 0 .9-.1 1 0 1 .1 1 0 .9 0 1 .1 1 .1 1-.1 .9-.2 1 .3 1-.3 1 .2 .9 0 1 .2 1-.2 1 .1 .9-.2 1-.1 1 0 .9 .2 1 0 1 .2 1-.3 .9 .1 1-.1 1 .2 1-.3 .9 .3 1 0 1 0 1-.1 .9-.2 1 .3 1-.2 1 0 .9 .2 1 .1 1-.2 1-.1 .9-.1 1 .1 1 .1 1 0 .9 0 1-.2 1 .3 1 0 .9-.1 1-.2 1 .3 1 .1 .9 0 1-.2 1 0 1 .1 .9 0 1-.1 1-.1 1 0 .9 0 1 .3 1-.2 1-.1 .9-.1 1 .3 1-.2 .9 0 1-.1 1 .3 1-.2 .9 0 1 .1 1 .2 1-.1 .9 0 1 .1 1-.1 1-.1 .9 .2 .9 0" stroke="#d4572a" stroke-width=".7"/>
</g>
<path d="M190.6 50.2H632.4M190.6 108.4H632.4" stroke="#6e6e6e"/>
<path d="M190.6 50.2V108.4" stroke="#5f86b4"/>
<path d="M632.4 50.2V108.4" stroke="#e49a7a"/>
<path d="M243.1 108.4v-2.6M243.1 50.2v2.6" stroke="#6e6e6e" stroke-width=".9"/>
<text x="243.1" y="117.8" font-size="10.3" text-anchor="middle">10</text>
<path d="M318 108.4v-2.6M318 50.2v2.6" stroke="#6e6e6e" stroke-width=".9"/>
<text x="318" y="117.8" font-size="10.3" text-anchor="middle">20</text>
<path d="M393 108.4v-2.6M393 50.2v2.6" stroke="#6e6e6e" stroke-width=".9"/>
<text x="393" y="117.8" font-size="10.3" text-anchor="middle">30</text>
<path d="M468 108.4v-2.6M468 50.2v2.6" stroke="#6e6e6e" stroke-width=".9"/>
<text x="468" y="117.8" font-size="10.3" text-anchor="middle">40</text>
<path d="M542.9 108.4v-2.6M542.9 50.2v2.6" stroke="#6e6e6e" stroke-width=".9"/>
<text x="542.9" y="117.8" font-size="10.3" text-anchor="middle">50</text>
<path d="M617.9 108.4v-2.6M617.9 50.2v2.6" stroke="#6e6e6e" stroke-width=".9"/>
<text x="617.9" y="117.8" font-size="10.3" text-anchor="middle">60</text>
<path d="M628.8 105.2H632.4" stroke="#dd8a66"/>
<text x="635" y="108.6" font-size="10.3" text-anchor="start" style="fill:#dc7f58;stroke:#dc7f58;stroke-width:.1px">0</text>
<text x="431.8" y="127.2" font-size="10.3" text-anchor="middle">Time (min)</text>
<path d="M523.4 21.8H545.7" stroke="#7c9fca"/>
<path d="M523.4 32.2H545.7" stroke="#e3987a"/>
<text x="548.3" y="25.3" font-size="10.6" text-anchor="start">Orignal Chromatogram</text>
<text x="548.3" y="35.8" font-size="10.6" text-anchor="start">Baseline Correction</text>
<clipPath id="ca1"><rect x="59.5" y="248" width="262" height="80.5"/></clipPath>
<g clip-path="url(#ca1)"><g transform="translate(59.5 323.50) scale(1.2476 -.2)" fill="none" stroke-width="0.7" stroke-linejoin="round">
<path d="M0 0h11l1 1 1 0 1 1 1 1 1 1 1 0 1 0 1 0 1-1 1-1 1 0 1-1 1 0 1-1h8l1 1 1 0 1 1 1 1 1 1 1 1 1 0 1 0 1-1 1 0 1-1 1-1 1 0 1 0 1 1 1 1 1 1 1 0 1 0 1 0 1-1 1-1 1-1 1 0 1-1 1 0 1 0 1 1 1 2 1 3 1 5 1 7 1 6 1 6 1 4 1 0 1-3 1-3 1-5 1-5 1-5 1-4 1-4 1-2 1-2 1-1 1 0 1-1h41l1 1 1 1 1 3 1 6 1 10 1 14 1 17 1 15 1 10 1 2 1-4 1-9 1-12 1-13 1-12 1-10 1-7 1-5 1-3 1-2 1-1 1 0 1 0 1 0 1 1 1 0 1 0 1 1 1 0 1 0 1 0 1 0 1 0 1 0 1-1 1 0 1-1 1 0 1 0 1-1h19l1 1 1 0 1 0 1 0 1 1 1 0 1 0 1 0 1 1 1-1 1 0 1 0 1 0 1 0 1 0 1-1 1 0 1 0 1 0 1-1h9" stroke="#0072BD" vector-effect="non-scaling-stroke"/>
<path d="M0 0h10l1 1 1 0 1 1 1 1 1 1 1 1 1 0 1 0 1-1 1-1 1 0 1-1 1-1 1 0 1-1h9l1 1 1 0 1 1 1 0 1 1 1 0 1-1 1 0 1 0 1-1 1 0 1 0 1 0 1 1 1 0 1 0 1 1 1-1 1 0 1 0 1 0 1-1 1 0 1 0 1 0 1 1 1 2 1 4 1 7 1 8 1 9 1 9 1 6 1 1 1-2 1-4 1-7 1-7 1-7 1-6 1-5 1-4 1-2 1-2 1-1 1 0 1-1h41l1 1 1 1 1 2 1 4 1 5 1 8 1 8 1 7 1 3 1-1 1-3 1-6 1-6 1-6 1-5 1-4 1-3 1-2 1-2 1 0 1 0 1 0 1 0 1 1 1 0 1 1 1 1 1 0 1 0 1 0 1 0 1-1 1 0 1 0 1-1 1 0 1-1 1 0 1-1h20l1 1 1 0 1 0 1 0 1 0 1 1 1 0 1 0 1 0 1 0 1 0 1-1 1 0 1 0 1 0 1 0 1 0 1-1h11" stroke="#D95319" vector-effect="non-scaling-stroke"/>
<path d="M0 0h12l1 1 1 0 1 1 1 1 1 1 1 1 1 0 1 0 1 0 1-1 1-1 1-1 1 0 1-1 1 0 1-1h4l1 1 1 0 1 2 1 2 1 2 1 3 1 3 1 1 1 0 1-1 1-2 1-2 1-1 1-1 1 2 1 2 1 4 1 3 1 2 1 0 1-1 1-3 1-3 1-3 1-3 1-2 1-2 1 0 1 1 1 4 1 7 1 11 1 14 1 16 1 15 1 9 1 2 1-3 1-8 1-11 1-13 1-11 1-11 1-8 1-7 1-4 1-3 1-1 1-1 1-1h40l1 1 1 2 1 3 1 7 1 12 1 16 1 20 1 20 1 12 1 3 1-5 1-11 1-14 1-16 1-14 1-12 1-9 1-6 1-4 1-3 1-1 1 0 1 0 1 1 1 1 1 1 1 2 1 1 1 1 1 0 1 1 1 0 1 0 1-1 1-2 1-1 1-2 1-1 1-1 1 0 1-1h18l1 1 1 0 1 0 1 1 1 0 1 0 1 1 1 0 1 0 1 0 1 0 1 0 1-1 1 0 1 0 1 0 1-1 1 0 1 0 1 0 1-1h8" stroke="#EDB120" vector-effect="non-scaling-stroke"/>
<path d="M0 0h10l1 1 1 1 1 1 1 1 1 1 1 1 1 0 1 0 1-1 1-1 1-1 1-1 1-1 1 0 1 0 1-1h5l1 1 1 1 1 2 1 3 1 4 1 4 1 4 1 2 1 0 1-2 1-2 1-3 1-3 1-2 1-1 1 2 1 2 1 3 1 2 1 1 1-1 1-2 1-3 1-2 1-3 1-2 1-1 1 0 1 1 1 5 1 8 1 14 1 18 1 20 1 19 1 13 1 3 1-5 1-10 1-13 1-16 1-15 1-13 1-11 1-8 1-6 1-4 1-2 1-1 1 0 1-1h39l1 1 1 1 1 4 1 7 1 13 1 19 1 24 1 25 1 19 1 7 1-4 1-11 1-17 1-19 1-19 1-16 1-12 1-9 1-6 1-3 1-2 1-1 1 0 1 1 1 1 1 1 1 1 1 1 1 1 1 0 1 0 1 1 1-1 1 0 1-1 1-2 1-1 1-1 1-1 1 0 1-1h17l1 1 1 0 1 0 1 1 1 0 1 1 1 0 1 0 1 0 1 0 1 0 1 0 1 0 1-1 1 0 1 0 1-1 1 0 1 0 1 0 1-1h10" stroke="#7E2F8E" vector-effect="non-scaling-stroke"/>
<path d="M0 0h11l1 1 1 0 1 1 1 2 1 1 1 1 1 0 1 0 1-1 1-1 1-1 1-1 1 0 1-1 1 0 1-1h5l1 1 1 0 1 2 1 1 1 3 1 2 1 2 1 1 1-1 1-1 1-1 1-2 1-1 1 0 1 0 1 2 1 2 1 2 1 1 1 0 1-1 1-2 1-2 1-2 1-1 1-1 1 0 1 1 1 5 1 8 1 12 1 16 1 17 1 15 1 9 1 1 1-5 1-9 1-12 1-14 1-12 1-11 1-9 1-6 1-4 1-3 1-1 1-1 1-1h41l1 1 1 1 1 4 1 6 1 9 1 14 1 15 1 14 1 9 1 0 1-5 1-9 1-11 1-12 1-11 1-8 1-7 1-4 1-3 1-1 1-1 1 0 1 1 1 0 1 2 1 1 1 1 1 0 1 0 1 1 1 0 1 0 1 0 1-1 1-1 1-1 1-1 1-1 1-1 1-1h19l1 1 1 0 1 0 1 1 1 0 1 0 1 1 1 0 1 0 1 0 1 0 1-1 1 0 1 0 1 0 1-1 1 0 1 0 1 0 1 0 1-1h8" stroke="#77AC30" vector-effect="non-scaling-stroke"/>
<path d="M0 0h9l1 1 1 0 1 2 1 1 1 2 1 1 1 0 1 0 1-1 1-1 1-1 1-1 1-1 1-1 1 0 1-1h5l1 1 1 1 1 2 1 3 1 4 1 5 1 5 1 3 1 0 1-1 1-3 1-4 1-3 1-3 1-1 1 0 1 2 1 3 1 3 1 2 1 0 1-1 1-3 1-3 1-3 1-2 1-2 1-1 1 1 1 3 1 6 1 11 1 15 1 18 1 18 1 13 1 6 1-3 1-8 1-11 1-14 1-14 1-12 1-11 1-8 1-5 1-4 1-2 1-2 1 0 1-1h39l1 1 1 1 1 3 1 6 1 11 1 18 1 22 1 23 1 19 1 8 1-2 1-11 1-15 1-18 1-17 1-16 1-12 1-8 1-6 1-3 1-2 1-1 1 0 1 1 1 1 1 2 1 1 1 2 1 1 1 0 1 1 1 0 1 0 1-1 1-1 1-2 1-2 1-1 1-1 1-1 1-1h18l1 1 1 0 1 0 1 1 1 0 1 0 1 1 1 0 1 0 1 0 1 0 1 0 1-1 1 0 1 0 1 0 1-1 1 0 1 0 1 0 1-1h10" stroke="#4DBEEE" vector-effect="non-scaling-stroke"/>
<path d="M0 0h9l1 1 1 1 1 1 1 1 1 1 1 0 1 0 1 0 1-1 1-1 1-1 1 0 1-1 1 0 1-1h6l1 1 1 0 1 1 1 2 1 2 1 3 1 2 1 0 1 0 1-1 1-2 1-1 1-2 1-1 1 0 1 0 1 2 1 2 1 2 1 1 1 0 1 0 1-2 1-1 1-2 1-2 1-1 1 0 1 1 1 2 1 4 1 6 1 8 1 7 1 6 1 3 1-1 1-3 1-4 1-6 1-6 1-5 1-5 1-4 1-2 1-2 1-1 1 0 1-1h41l1 1 1 1 1 2 1 6 1 9 1 13 1 17 1 17 1 13 1 4 1-4 1-8 1-12 1-13 1-13 1-11 1-8 1-6 1-3 1-3 1-1 1 0 1 0 1 0 1 1 1 1 1 0 1 1 1 0 1 0 1 0 1 0 1 0 1 0 1-1 1 0 1-1 1-1 1 0 1-1h21l1 1 1 0 1 0 1 0 1 0 1 0 1 0 1 0 1 0 1 0 1 0 1 0 1 0 1 0 1 0 1-1h13" stroke="#A2142F" vector-effect="non-scaling-stroke"/>
<path d="M0 0h11l1 1 1 0 1 1 1 1 1 1 1 1 1 0 1-1 1 0 1-1 1-1 1 0 1-1 1 0 1-1h7l1 1 1 0 1 1 1 1 1 2 1 1 1 0 1 0 1 0 1-1 1-1 1-1 1 0 1 0 1 0 1 1 1 0 1 1 1 0 1 0 1-1 1-1 1 0 1-1 1-1 1 0 1 0 1 1 1 3 1 4 1 6 1 8 1 8 1 8 1 5 1 0 1-2 1-5 1-6 1-7 1-6 1-5 1-5 1-3 1-2 1-1 1-1 1-1h42l1 1 1 0 1 2 1 4 1 6 1 8 1 10 1 8 1 5 1 0 1-3 1-6 1-6 1-8 1-6 1-5 1-4 1-3 1-1 1-1 1 0 1 0 1 0 1 1 1 1 1 0 1 1 1 0 1 0 1 0 1 0 1 1 1-1 1 0 1-1 1-1 1-1 1 0 1-1h21l1 1 1 0 1 0 1 0 1 0 1 0 1 0 1 0 1 0 1 0 1 0 1 0 1 0 1 0 1 0 1-1h11" stroke="#0072BD" vector-effect="non-scaling-stroke"/>
<path d="M0 0h10l1 1 1 0 1 1 1 1 1 1 1 0 1 1 1-1 1 0 1-1 1-1 1 0 1-1 1 0 1-1h7l1 1 1 0 1 1 1 1 1 2 1 1 1 1 1 0 1-1 1 0 1-1 1-1 1-1 1 0 1 0 1 2 1 2 1 2 1 2 1 1 1 0 1-1 1-2 1-2 1-1 1-2 1 0 1 0 1 3 1 5 1 8 1 10 1 11 1 10 1 5 1 0 1-3 1-6 1-8 1-8 1-8 1-7 1-6 1-4 1-2 1-2 1-1 1 0 1-1h41l1 1 1 1 1 2 1 4 1 7 1 10 1 13 1 12 1 8 1 1 1-3 1-6 1-9 1-10 1-9 1-7 1-6 1-4 1-2 1-1 1-1 1 0 1 1 1 1 1 1 1 0 1 1 1 0 1 0 1-1 1 0 1 0 1-1 1 0 1-1 1 0 1-1 1 0 1-1h21l1 1 1 0 1 0 1 0 1 0 1 1 1 0 1 0 1 0 1 0 1-1 1 0 1 0 1 0 1 0 1 0 1 0 1-1h10" stroke="#D95319" vector-effect="non-scaling-stroke"/>
<path d="M0 0h11l1 1 1 0 1 1 1 1 1 1 1 0 1 0 1 0 1-1 1 0 1-1 1-1 1 0 1 0 1-1h6l1 1 1 1 1 1 1 2 1 2 1 1 1 0 1 0 1-1 1-1 1-1 1-1 1-1 1 0 1 0 1 2 1 1 1 2 1 1 1 0 1 0 1-1 1-2 1-1 1-1 1-1 1 0 1 1 1 3 1 5 1 7 1 8 1 9 1 7 1 4 1-1 1-4 1-5 1-7 1-7 1-6 1-5 1-5 1-2 1-2 1-2 1 0 1-1h42l1 1 1 2 1 5 1 8 1 13 1 18 1 21 1 18 1 10 1 0 1-7 1-12 1-15 1-16 1-13 1-12 1-8 1-6 1-3 1-2 1-1 1 0 1 1 1 0 1 1 1 1 1 0 1 0 1 0 1 1 1 0 1 1 1 0 1-1 1-1 1-1 1-1 1-1 1 0 1-1h18l1 1 1 0 1 0 1 0 1 1 1 0 1 0 1 0 1 0 1 0 1 0 1 0 1 0 1 0 1-1 1 0 1 0 1 0 1 0 1-1h10" stroke="#EDB120" vector-effect="non-scaling-stroke"/>
<path d="M0 0h10l1 1 1 0 1 1 1 1 1 1 1 1 1 0 1 0 1-1 1 0 1-1 1-1 1-1 1 0 1 0 1-1h7l1 1 1 1 1 1 1 2 1 1 1 1 1 0 1-1 1 0 1-1 1-1 1-1 1 1 1 1 1 1 1 2 1 2 1 1 1 0 1-1 1-2 1-1 1-2 1-1 1-1 1 1 1 3 1 5 1 9 1 12 1 14 1 12 1 9 1 2 1-3 1-6 1-10 1-10 1-10 1-9 1-7 1-6 1-4 1-2 1-1 1-1 1-1h42l1 1 1 2 1 4 1 8 1 13 1 19 1 22 1 21 1 14 1 3 1-7 1-12 1-16 1-17 1-16 1-13 1-10 1-7 1-4 1-2 1-1 1-1 1 1 1 0 1 1 1 1 1 0 1 0 1 1 1 0 1 1 1 0 1 0 1-1 1-1 1-1 1-1 1-1 1 0 1-1h18l1 1 1 0 1 0 1 1 1 0 1 0 1 1 1 0 1 0 1 0 1 0 1-1 1 0 1 0 1 0 1-1 1 0 1 0 1 0 1-1h10" stroke="#7E2F8E" vector-effect="non-scaling-stroke"/>
<path d="M0 0h10l1 1 1 1 1 1 1 1 1 2 1 1 1 1 1 0 1-1 1-1 1-1 1-2 1-1 1-1 1 0 1-1h6l1 1 1 0 1 2 1 3 1 3 1 4 1 4 1 2 1 0 1-1 1-2 1-3 1-3 1-1 1-1 1 1 1 2 1 3 1 2 1 1 1-1 1-2 1-2 1-3 1-2 1-2 1-1 1 1 1 4 1 7 1 11 1 16 1 19 1 17 1 13 1 4 1-3 1-9 1-12 1-14 1-14 1-13 1-10 1-8 1-5 1-4 1-2 1-1 1 0 1-1h40l1 1 1 0 1 3 1 5 1 8 1 13 1 18 1 18 1 14 1 7 1-2 1-8 1-12 1-14 1-13 1-12 1-9 1-7 1-4 1-3 1-1 1-1 1 0 1 1 1 1 1 1 1 1 1 1 1 1 1 1 1 1 1 0 1 0 1-2 1-1 1-2 1-1 1-1 1-1 1-1h18l1 1 1 0 1 0 1 1 1 0 1 0 1 1 1 0 1 0 1 0 1 0 1-1 1 0 1 0 1 0 1-1 1 0 1 0 1 0 1 0 1-1h9" stroke="#77AC30" vector-effect="non-scaling-stroke"/>
<path d="M0 0h10l1 1 1 0 1 1 1 1 1 1 1 2 1 0 1 0 1 0 1-1 1-1 1-1 1-1 1-1 1 0 1-1h5l1 1 1 0 1 2 1 2 1 3 1 3 1 3 1 1 1 0 1-1 1-2 1-2 1-3 1-1 1-1 1 0 1 1 1 1 1 1 1 0 1 0 1-1 1-1 1-1 1-1 1-1 1-1 1 0 1 1 1 2 1 4 1 6 1 8 1 10 1 9 1 5 1 2 1-2 1-5 1-6 1-7 1-8 1-6 1-5 1-4 1-2 1-2 1-1 1 0 1-1h40l1 1 1 1 1 2 1 5 1 10 1 14 1 19 1 21 1 17 1 8 1-2 1-9 1-13 1-15 1-15 1-14 1-11 1-7 1-5 1-3 1-2 1 0 1 0 1 1 1 1 1 1 1 1 1 1 1 0 1 0 1 0 1 0 1 0 1-1 1-1 1-1 1-1 1-1 1-1 1 0 1-1h18l1 1 1 0 1 0 1 0 1 1 1 0 1 0 1 0 1 0 1 0 1 0 1 0 1 0 1-1 1 0 1 0 1 0 1 0 1-1h11" stroke="#4DBEEE" vector-effect="non-scaling-stroke"/>
<path d="M0 0h9l1 1 1 0 1 1 1 1 1 1 1 1 1 0 1 0 1-1 1 0 1-1 1-1 1-1 1 0 1 0 1-1h7l1 1 1 0 1 1 1 1 1 1 1 0 1 0 1 0 1 0 1-1 1-1 1 0 1 0 1 0 1 1 1 1 1 1 1 1 1 0 1 0 1-1 1 0 1-1 1-1 1-1 1 0 1 0 1 2 1 2 1 5 1 5 1 6 1 5 1 3 1 0 1-2 1-3 1-4 1-4 1-5 1-3 1-3 1-3 1-1 1-1 1 0 1-1h43l1 1 1 2 1 4 1 7 1 10 1 14 1 14 1 12 1 6 1-2 1-6 1-9 1-11 1-11 1-10 1-7 1-6 1-3 1-3 1-1 1 0 1 0 1 1 1 1 1 1 1 1 1 0 1 0 1 0 1 0 1 0 1-1 1-1 1 0 1-1 1-1 1 0 1-1h22l1 1 1 0 1 0 1 0 1 0 1 1 1 0 1 0 1 0 1 0 1 0 1-1 1 0 1 0 1 0 1 0 1 0 1-1h10" stroke="#A2142F" vector-effect="non-scaling-stroke"/>
<path d="M0 0h12l1 1 1 0 1 1 1 0 1 0 1 1 1-1 1 0 1 0 1-1 1 0 1 0 1-1h6l1 1 1 0 1 2 1 1 1 3 1 2 1 2 1 0 1 0 1-1 1-2 1-2 1-1 1-1 1-1 1 1 1 1 1 2 1 3 1 2 1 1 1 0 1-2 1-1 1-2 1-2 1-2 1-1 1 0 1 2 1 3 1 6 1 8 1 9 1 8 1 5 1 1 1-2 1-4 1-6 1-7 1-6 1-6 1-5 1-3 1-3 1-1 1-1 1-1h43l1 1 1 1 1 2 1 4 1 7 1 8 1 8 1 6 1 2 1-1 1-4 1-6 1-6 1-6 1-5 1-4 1-3 1-2 1-1 1 0 1 0 1 0 1 1 1 1 1 1 1 1 1 0 1 0 1 1 1 0 1 0 1 0 1-1 1-1 1-1 1-1 1-1 1 0 1-1h19l1 1 1 0 1 0 1 0 1 0 1 1 1 0 1 0 1 0 1 0 1-1 1 0 1 0 1 0 1 0 1 0 1 0 1-1h11" stroke="#0072BD" vector-effect="non-scaling-stroke"/>
<path d="M0 0h11l1 1 1 1 1 1 1 1 1 1 1 1 1 0 1 0 1-1 1-1 1-1 1-1 1-1 1 0 1 0 1-1h5l1 1 1 0 1 1 1 1 1 1 1 0 1 0 1 0 1 0 1-1 1 0 1 0 1 0 1 1 1 2 1 1 1 2 1 0 1 0 1-1 1-2 1-1 1-1 1-2 1 0 1-1 1-1h6l1 1 1 1 1 2 1 3 1 5 1 6 1 6 1 4 1 2 1 0 1-2 1-4 1-4 1-5 1-4 1-3 1-3 1-2 1-1 1-1 1-1h44l1 1 1 1 1 3 1 4 1 5 1 5 1 5 1 2 1 0 1-2 1-4 1-3 1-4 1-4 1-2 1-1 1-1 1 0 1 0 1 0 1 0 1 0 1 0 1-1 1 0 1-1 1-1 1-1 1 0 1-1h21l1 1 1 0 1 0 1 0 1 1 1 0 1 0 1 0 1 0 1 0 1 0 1 0 1 0 1 0 1-1 1 0 1 0 1 0 1 0 1-1h9" stroke="#D95319" vector-effect="non-scaling-stroke"/>
<path d="M0 0h8l1 1 1 0 1 1 1 1 1 1 1 1 1 1 1 0 1-1 1-1 1-1 1 0 1-1 1-1 1 0 1-1h6l1 1 1 1 1 1 1 3 1 2 1 3 1 2 1 1 1 0 1-2 1-2 1-2 1-2 1-1 1 0 1 2 1 2 1 4 1 4 1 2 1 1 1-1 1-2 1-3 1-3 1-3 1-2 1 0 1 2 1 4 1 9 1 12 1 15 1 15 1 11 1 4 1-2 1-6 1-10 1-11 1-11 1-11 1-9 1-6 1-5 1-3 1-2 1-1 1 0 1-1h41l1 1 1 2 1 5 1 9 1 15 1 20 1 24 1 21 1 13 1 1 1-8 1-13 1-17 1-18 1-16 1-13 1-10 1-7 1-4 1-2 1-1 1 0 1 1 1 1 1 1 1 1 1 1 1 1 1 0 1 0 1 0 1-1 1 0 1-1 1-2 1-1 1-1 1-1 1 0 1-1h18l1 1 1 0 1 0 1 0 1 1 1 0 1 0 1 0 1 0 1 0 1 0 1 0 1 0 1 0 1-1 1 0 1 0 1 0 1 0 1-1h11" stroke="#EDB120" vector-effect="non-scaling-stroke"/>
<path d="M0 0h11l1 1 1 0 1 1 1 0 1 1 1 0 1 0 1 0 1-1 1 0 1-1 1 0 1 0 1-1h6l1 1 1 0 1 1 1 2 1 2 1 2 1 1 1 1 1-1 1-1 1-1 1-2 1-1 1-1 1 0 1 0 1 1 1 1 1 0 1 0 1-1 1 0 1-1 1-1 1 0 1-1 1 0 1 0 1 1 1 2 1 3 1 5 1 6 1 7 1 5 1 3 1 0 1-3 1-3 1-5 1-5 1-4 1-4 1-3 1-3 1-1 1-1 1 0 1-1h42l1 1 1 2 1 3 1 8 1 11 1 16 1 17 1 16 1 10 1 0 1-6 1-10 1-13 1-14 1-12 1-10 1-7 1-5 1-3 1-2 1-1 1 0 1 1 1 0 1 1 1 2 1 0 1 1 1 0 1 1 1 0 1 0 1-1 1-1 1-1 1-1 1-1 1-1 1 0 1-1h19l1 1 1 0 1 0 1 0 1 0 1 1 1 0 1 0 1 0 1 0 1 0 1 0 1-1 1 0 1 0 1 0 1 0 1-1h11" stroke="#7E2F8E" vector-effect="non-scaling-stroke"/>
<path d="M0 0h10l1 1 1 0 1 2 1 1 1 2 1 2 1 1 1 0 1-1 1-1 1-1 1-2 1-1 1-1 1-1 1 0 1-1h4l1 1 1 1 1 2 1 3 1 3 1 3 1 2 1 0 1 0 1-2 1-3 1-2 1-2 1-1 1 1 1 2 1 3 1 5 1 4 1 2 1 1 1-2 1-3 1-3 1-4 1-3 1-3 1-2 1-1 1-1 1 0 1-1 1 1 1 0 1 2 1 3 1 6 1 7 1 10 1 10 1 9 1 4 1 0 1-4 1-6 1-7 1-8 1-7 1-6 1-5 1-3 1-3 1-1 1-1 1-1h45l1 1 1 1 1 4 1 5 1 8 1 11 1 12 1 9 1 4 1-1 1-4 1-7 1-8 1-8 1-6 1-5 1-3 1-2 1-1 1-1 1 0 1 0 1-1 1-1 1-2 1-1 1-2 1-1 1 0 1-1h19l1 1 1 0 1 0 1 0 1 1 1 0 1 1 1 0 1 0 1 0 1 0 1 0 1-1 1 0 1 0 1 0 1-1 1 0 1 0 1 0 1-1h9" stroke="#77AC30" vector-effect="non-scaling-stroke"/>
<path d="M0 0h9l1 1 1 0 1 1 1 2 1 1 1 1 1 1 1 0 1-1 1 0 1-2 1-1 1-1 1-1 1 0 1 0 1-1h5l1 1 1 0 1 1 1 2 1 3 1 2 1 2 1 1 1 0 1-1 1-2 1-2 1-1 1-1 1-1 1 1 1 2 1 2 1 3 1 1 1 0 1-1 1-2 1-2 1-2 1-1 1-1 1 0 1 2 1 5 1 8 1 11 1 15 1 14 1 12 1 6 1-1 1-6 1-9 1-11 1-11 1-11 1-9 1-7 1-4 1-4 1-2 1-1 1 0 1-1h40l1 1 1 1 1 2 1 5 1 10 1 15 1 20 1 21 1 18 1 10 1-2 1-8 1-14 1-16 1-16 1-15 1-11 1-8 1-6 1-3 1-2 1-1 1 0 1 1 1 1 1 1 1 1 1 0 1 1 1 0 1 0 1 0 1 0 1-1 1-1 1-1 1-1 1-1 1 0 1-1h20l1 1 1 0 1 0 1 1 1 0 1 0 1 0 1 1 1 0 1 0 1-1 1 0 1 0 1 0 1-1 1 0 1 0 1 0 1 0 1-1h9" stroke="#4DBEEE" vector-effect="non-scaling-stroke"/>
<path d="M0 0h10l1 1 1 1 1 1 1 1 1 1 1 0 1 0 1 0 1-1 1-1 1 0 1-1 1-1 1 0 1-1h6l1 1 1 1 1 1 1 2 1 2 1 3 1 1 1 0 1 0 1-1 1-2 1-2 1-1 1 0 1 1 1 2 1 3 1 2 1 2 1 0 1-1 1-2 1-3 1-2 1-2 1-2 1-1 1-1 1 0 1-1h6l1 1 1 2 1 2 1 5 1 5 1 7 1 7 1 5 1 2 1-1 1-3 1-4 1-5 1-6 1-5 1-4 1-3 1-2 1-1 1-1 1-1h43l1 1 1 0 1 2 1 4 1 5 1 6 1 8 1 6 1 2 1 0 1-3 1-4 1-5 1-5 1-4 1-2 1-2 1-1 1 0 1 0 1 0 1-1 1 0 1-1 1-2 1-1 1-1 1-1 1 0 1-1h19l1 1 1 0 1 0 1 1 1 0 1 0 1 0 1 1 1 0 1 0 1-1 1 0 1 0 1 0 1 0 1-1 1 0 1 0 1 0 1-1h10" stroke="#A2142F" vector-effect="non-scaling-stroke"/>
<path d="M0 0h11l1 1 1 1 1 0 1 1 1 1 1 1 1 0 1-1 1 0 1-1 1-1 1-1 1 0 1 0 1-1h5l1 1 1 1 1 1 1 2 1 2 1 2 1 2 1 0 1-1 1-1 1-1 1-2 1-1 1-1 1 0 1 2 1 2 1 3 1 3 1 2 1 0 1-1 1-2 1-2 1-3 1-2 1-1 1 0 1 2 1 5 1 8 1 13 1 16 1 17 1 13 1 6 1-1 1-6 1-10 1-12 1-13 1-11 1-10 1-8 1-5 1-4 1-2 1-2 1 0 1-1h40l1 1 1 2 1 4 1 8 1 13 1 19 1 23 1 21 1 15 1 3 1-6 1-13 1-16 1-17 1-16 1-14 1-10 1-7 1-5 1-2 1-1 1-1 1 1 1 1 1 1 1 2 1 1 1 1 1 0 1 0 1 0 1 1 1 0 1-1 1-2 1-1 1-1 1-2 1-1 1 0 1-1h18l1 1 1 0 1 0 1 0 1 1 1 0 1 0 1 0 1 0 1 0 1 0 1 0 1 0 1 0 1-1 1 0 1 0 1 0 1 0 1-1h10" stroke="#0072BD" vector-effect="non-scaling-stroke"/>
<path d="M0 0h9l1 1 1 0 1 1 1 1 1 1 1 1 1 0 1 0 1-1 1-1 1 0 1-1 1-1 1 0 1-1h6l1 1 1 0 1 1 1 2 1 2 1 3 1 1 1 1 1-1 1-1 1-1 1-2 1-1 1-2 1 0 1 0 1 1 1 1 1 2 1 0 1 0 1 0 1-1 1-2 1-1 1-1 1 0 1-1 1 0 1-1h6l1 1 1 1 1 1 1 3 1 4 1 6 1 6 1 6 1 3 1 0 1-2 1-3 1-4 1-5 1-4 1-4 1-3 1-2 1-2 1-1 1 0 1-1h42l1 1 1 2 1 2 1 5 1 7 1 7 1 7 1 4 1 0 1-2 1-4 1-5 1-5 1-5 1-3 1-2 1-1 1 0 1-1 1 0 1 0 1 0 1 0 1-1 1-1 1-1 1-1 1-1 1-1 1 0 1-1h18l1 1 1 0 1 0 1 1 1 0 1 0 1 0 1 1 1 0 1-1 1 0 1 0 1 0 1 0 1-1 1 0 1 0 1 0 1 0 1-1h11" stroke="#D95319" vector-effect="non-scaling-stroke"/>
<path d="M0 0h8l1 1 1 0 1 1 1 1 1 2 1 1 1 1 1 0 1-1 1 0 1-1 1-2 1-1 1 0 1-1 1 0 1-1h6l1 1 1 0 1 2 1 2 1 2 1 2 1 2 1 0 1 0 1-1 1-2 1-1 1-1 1-1 1 1 1 1 1 2 1 1 1 1 1-1 1-1 1-1 1-2 1-1 1-2 1 0 1 0 1 2 1 4 1 8 1 12 1 16 1 18 1 15 1 10 1 1 1-4 1-9 1-12 1-14 1-12 1-12 1-9 1-6 1-5 1-3 1-1 1-1 1-1h41l1 1 1 2 1 5 1 9 1 14 1 21 1 24 1 23 1 14 1 2 1-7 1-13 1-18 1-18 1-17 1-14 1-11 1-7 1-5 1-2 1-1 1-1 1 1 1 1 1 1 1 1 1 0 1 1 1 0 1 0 1 0 1 0 1-1 1-1 1-1 1-1 1 0 1-1 1-1h19l1 1 1 0 1 0 1 0 1 1 1 0 1 1 1 0 1 0 1 0 1 0 1 0 1-1 1 0 1 0 1 0 1-1 1 0 1 0 1 0 1-1h10" stroke="#EDB120" vector-effect="non-scaling-stroke"/>
<path d="M0 0h12l1 1 1 1 1 0 1 1 1 1 1 0 1 0 1-1 1 0 1-1 1-1 1 0 1 0 1-1h7l1 1 1 0 1 1 1 1 1 1 1 1 1 0 1-1 1 0 1-1 1 0 1-1 1 0 1 0 1 1 1 1 1 1 1 0 1 0 1 0 1-1 1-1 1-1 1 0 1-1 1 0 1-1h7l1 1 1 0 1 2 1 2 1 4 1 4 1 4 1 3 1 2 1 0 1-2 1-3 1-3 1-3 1-3 1-3 1-1 1-2 1-1 1 0 1-1h41l1 1 1 0 1 1 1 3 1 2 1 4 1 2 1 2 1 0 1-1 1-2 1-2 1-3 1-2 1-1 1-1 1 0 1 0 1 1 1 0 1 1 1 0 1 0 1 0 1 0 1 0 1-1 1-1 1-1 1-1 1 0 1-1h20l1 1 1 0 1 0 1 0 1 1 1 0 1 0 1 0 1 0 1 0 1 0 1 0 1 0 1-1 1 0 1 0 1 0 1 0 1-1h10" stroke="#7E2F8E" vector-effect="non-scaling-stroke"/>
<path d="M0 0h10l1 1 1 0 1 1 1 1 1 1 1 0 1 0 1-1 1 0 1-1 1 0 1-1 1 0 1-1h6l1 1 1 0 1 2 1 2 1 3 1 3 1 2 1 1 1 0 1-1 1-2 1-2 1-2 1-2 1-1 1 1 1 1 1 3 1 2 1 2 1 0 1 0 1-2 1-2 1-2 1-2 1-1 1 1 1 2 1 5 1 9 1 13 1 16 1 17 1 14 1 7 1 0 1-7 1-10 1-12 1-13 1-13 1-10 1-8 1-6 1-4 1-2 1-2 1 0 1-1h40l1 1 1 1 1 2 1 5 1 8 1 11 1 13 1 13 1 9 1 2 1-3 1-8 1-9 1-11 1-9 1-9 1-6 1-4 1-3 1-1 1-1 1 0 1 0 1 1 1 1 1 0 1 1 1 1 1 0 1 1 1 0 1 0 1 0 1 0 1-1 1-2 1-1 1 0 1-1 1-1h21l1 1 1 0 1 0 1 0 1 1 1 0 1 0 1 0 1 0 1 0 1 0 1-1 1 0 1 0 1 0 1 0 1 0 1-1h11" stroke="#77AC30" vector-effect="non-scaling-stroke"/>
<path d="M0 0h10l1 1 1 1 1 1 1 1 1 1 1 1 1 0 1 0 1-1 1-1 1-1 1-1 1-1 1 0 1 0 1-1h4l1 1 1 0 1 2 1 2 1 3 1 3 1 3 1 1 1-1 1-1 1-2 1-2 1-2 1-2 1 0 1 0 1 2 1 2 1 2 1 1 1 0 1 0 1-2 1-2 1-2 1-1 1-2 1 0 1 0 1 2 1 4 1 7 1 9 1 12 1 12 1 9 1 4 1-1 1-5 1-7 1-9 1-9 1-9 1-7 1-5 1-4 1-3 1-1 1-1 1-1h41l1 1 1 2 1 4 1 7 1 12 1 17 1 20 1 19 1 12 1 1 1-5 1-11 1-15 1-15 1-14 1-12 1-9 1-6 1-4 1-2 1-1 1 0 1 1 1 1 1 1 1 2 1 1 1 1 1 0 1 1 1 0 1 0 1-1 1-1 1-2 1-1 1-1 1-2 1 0 1-1h19l1 1 1 0 1 0 1 1 1 0 1 0 1 0 1 0 1 0 1 0 1 0 1 0 1 0 1 0 1-1 1 0 1 0 1 0 1 0 1-1h10" stroke="#4DBEEE" vector-effect="non-scaling-stroke"/>
<path d="M0 0h10l1 1 1 1 1 1 1 1 1 1 1 1 1 0 1 0 1-1 1-1 1-1 1-1 1 0 1-1 1 0 1-1h5l1 1 1 1 1 2 1 2 1 4 1 4 1 3 1 2 1-1 1-1 1-3 1-3 1-2 1-1 1-1 1 2 1 2 1 3 1 2 1 1 1-1 1-2 1-2 1-3 1-2 1-2 1-1 1 1 1 4 1 7 1 11 1 15 1 17 1 16 1 11 1 2 1-3 1-9 1-11 1-13 1-13 1-11 1-10 1-6 1-5 1-3 1-2 1-1 1-1h41l1 1 1 1 1 4 1 7 1 12 1 18 1 23 1 22 1 17 1 5 1-5 1-11 1-16 1-17 1-17 1-14 1-11 1-8 1-5 1-3 1-1 1 0 1 1 1 1 1 2 1 1 1 1 1 0 1 1 1 0 1 0 1 0 1 0 1-1 1-2 1-1 1-2 1-1 1-1 1 0 1-1h16l1 1 1 0 1 0 1 0 1 1 1 0 1 1 1 0 1 0 1 0 1 0 1 0 1 0 1 0 1-1 1 0 1 0 1-1 1 0 1 0 1 0 1-1h10" stroke="#A2142F" vector-effect="non-scaling-stroke"/>
<path d="M0 0h9l1 1 1 0 1 2 1 1 1 1 1 1 1 1 1 0 1-1 1-1 1-1 1-1 1-1 1-1 1 0 1-1h6l1 1 1 1 1 1 1 3 1 3 1 4 1 3 1 2 1 0 1-2 1-2 1-2 1-2 1-1 1 1 1 2 1 4 1 2 1 2 1-1 1-1 1-3 1-3 1-3 1-3 1-2 1 0 1 1 1 3 1 7 1 11 1 15 1 18 1 18 1 14 1 5 1-3 1-8 1-12 1-14 1-14 1-12 1-11 1-8 1-6 1-3 1-2 1-2 1 0 1-1h39l1 1 1 1 1 2 1 6 1 10 1 15 1 20 1 20 1 17 1 7 1-3 1-9 1-14 1-15 1-16 1-13 1-10 1-8 1-5 1-3 1-1 1-1 1 0 1 1 1 1 1 1 1 1 1 1 1 1 1 0 1 1 1 0 1 0 1-1 1-1 1-2 1-1 1-1 1-1 1 0 1-1h19l1 1 1 0 1 0 1 1 1 0 1 0 1 0 1 0 1 0 1 0 1 0 1 0 1 0 1 0 1-1 1 0 1 0 1 0 1 0 1-1h10" stroke="#0072BD" vector-effect="non-scaling-stroke"/>
<path d="M0 0h9l1 1 1 0 1 1 1 1 1 1 1 1 1 1 1 0 1-1 1-1 1-1 1 0 1-1 1-1 1 0 1-1h6l1 1 1 1 1 2 1 2 1 2 1 2 1 1 1 0 1-1 1-2 1-1 1-2 1-1 1 0 1 1 1 2 1 3 1 3 1 2 1 0 1 0 1-2 1-2 1-3 1-2 1-2 1-1 1-1 1-1 1-1h4l1 1 1 1 1 3 1 4 1 6 1 7 1 9 1 6 1 4 1 0 1-2 1-5 1-6 1-6 1-6 1-5 1-4 1-2 1-2 1-2 1 0 1-1h43l1 1 1 2 1 3 1 5 1 8 1 9 1 7 1 5 1 1 1-3 1-4 1-6 1-7 1-5 1-4 1-3 1-1 1-1 1-1 1 0 1 0 1 1 1 0 1 0 1-1 1-1 1-1 1-2 1-1 1 0 1-1h18l1 1 1 0 1 0 1 0 1 1 1 0 1 1 1 0 1 0 1 0 1 0 1 0 1-1 1 0 1 0 1 0 1-1 1 0 1 0 1 0 1-1h10" stroke="#D95319" vector-effect="non-scaling-stroke"/>
<path d="M0 0h10l1 1 1 0 1 1 1 1 1 1 1 1 1 0 1 0 1-1 1-1 1 0 1-1 1-1 1 0 1-1h6l1 1 1 1 1 2 1 3 1 4 1 3 1 2 1 0 1-1 1-2 1-2 1-2 1-2 1 0 1 0 1 2 1 2 1 1 1 1 1-1 1-1 1-2 1-2 1-2 1-2 1 0 1 0 1 1 1 3 1 7 1 10 1 14 1 16 1 15 1 11 1 3 1-3 1-8 1-10 1-12 1-12 1-11 1-9 1-7 1-4 1-3 1-2 1-1 1-1h42l1 1 1 3 1 4 1 8 1 12 1 16 1 16 1 13 1 6 1-2 1-7 1-11 1-12 1-13 1-11 1-8 1-6 1-4 1-2 1-1 1-1 1 1 1 1 1 1 1 2 1 1 1 0 1 1 1 0 1 0 1 0 1-1 1-1 1-2 1-1 1-1 1-1 1 0 1-1h18l1 1 1 0 1 0 1 1 1 0 1 1 1 0 1 0 1 0 1 0 1 0 1 0 1 0 1-1 1 0 1 0 1-1 1 0 1 0 1 0 1-1h10" stroke="#EDB120" vector-effect="non-scaling-stroke"/>
<path d="M0 0h9l1 1 1 0 1 1 1 1 1 0 1 1 1 0 1 0 1-1 1-1 1 0 1-1 1 0 1 0 1-1h7l1 1 1 0 1 1 1 2 1 1 1 2 1 0 1 0 1 0 1-1 1-1 1-1 1 0 1 0 1 1 1 2 1 2 1 1 1 1 1-1 1-1 1-1 1-2 1-2 1-1 1-1 1 0 1 0 1 2 1 3 1 5 1 6 1 6 1 6 1 4 1 0 1-2 1-4 1-4 1-5 1-5 1-4 1-4 1-2 1-2 1-1 1 0 1-1h40l1 1 1 1 1 2 1 5 1 9 1 13 1 17 1 17 1 13 1 5 1-3 1-8 1-12 1-13 1-13 1-11 1-8 1-6 1-4 1-3 1-1 1 0 1 0 1 0 1 1 1 0 1 1 1 1 1 1 1 0 1 0 1 0 1 0 1 0 1-1 1-1 1 0 1-1 1-1 1 0 1-1h21l1 1 1 0 1 0 1 0 1 0 1 0 1 0 1 0 1 0 1 0 1 0 1 0 1 0 1 0 1 0 1-1h13" stroke="#7E2F8E" vector-effect="non-scaling-stroke"/>
<path d="M0 0h11l1 1 1 0 1 1 1 1 1 0 1 0 1 0 1 0 1-1 1 0 1-1 1 0 1-1h8l1 1 1 1 1 1 1 2 1 2 1 1 1 1 1 0 1-1 1-1 1-1 1-2 1-1 1 0 1 0 1 1 1 1 1 0 1 0 1 0 1-1 1 0 1-1 1-1 1 0 1-1 1 1 1 2 1 3 1 6 1 8 1 10 1 9 1 8 1 3 1-1 1-4 1-6 1-7 1-8 1-7 1-6 1-4 1-3 1-2 1-2 1 0 1-1h42l1 1 1 1 1 3 1 4 1 8 1 9 1 9 1 8 1 3 1-1 1-4 1-6 1-8 1-7 1-6 1-5 1-4 1-2 1-1 1-1 1 0 1 0 1 0 1 1 1 0 1 1 1 0 1 0 1 0 1 0 1 0 1 0 1 0 1-1 1 0 1-1 1 0 1-1h22l1 1 1 0 1 0 1 0 1 0 1 0 1 0 1 0 1 0 1 0 1 0 1 0 1 0 1 0 1 0 1-1h12" stroke="#77AC30" vector-effect="non-scaling-stroke"/>
<path d="M0 0h9l1 1 1 1 1 1 1 2 1 1 1 1 1 0 1 0 1-1 1-1 1-1 1-1 1-1 1-1 1 0 1-1h4l1 1 1 0 1 2 1 3 1 4 1 5 1 5 1 4 1 1 1-1 1-3 1-3 1-4 1-3 1-2 1 0 1 2 1 2 1 3 1 1 1 0 1-1 1-2 1-3 1-3 1-2 1-2 1-1 1 1 1 2 1 6 1 10 1 15 1 18 1 19 1 16 1 9 1-1 1-7 1-11 1-14 1-14 1-14 1-12 1-9 1-7 1-4 1-3 1-1 1-1 1-1h40l1 1 1 1 1 4 1 7 1 13 1 18 1 23 1 24 1 18 1 6 1-4 1-12 1-16 1-18 1-18 1-15 1-12 1-8 1-5 1-4 1-1 1-1 1 1 1 0 1 2 1 1 1 2 1 1 1 1 1 1 1 0 1 1 1-1 1-1 1-1 1-2 1-2 1-1 1-1 1-1 1-1h18l1 1 1 0 1 0 1 1 1 0 1 1 1 0 1 0 1 0 1 0 1 0 1 0 1 0 1-1 1 0 1 0 1-1 1 0 1 0 1 0 1-1h10" stroke="#4DBEEE" vector-effect="non-scaling-stroke"/>
<path d="M0 0h11l1 1 1 0 1 1 1 1 1 2 1 1 1 1 1 0 1 0 1-1 1-1 1-2 1-1 1 0 1-1 1 0 1-1h5l1 1 1 1 1 1 1 3 1 4 1 4 1 4 1 2 1 0 1-2 1-2 1-3 1-3 1-2 1-2 1 1 1 2 1 2 1 3 1 2 1 0 1-1 1-1 1-3 1-2 1-3 1-2 1-2 1-1 1 0 1-1h2l1 1 1 0 1 2 1 3 1 5 1 7 1 9 1 8 1 7 1 2 1-1 1-3 1-6 1-6 1-7 1-6 1-4 1-4 1-3 1-2 1-1 1 0 1-1h43l1 1 1 1 1 3 1 5 1 7 1 10 1 9 1 8 1 3 1-2 1-4 1-7 1-7 1-7 1-5 1-4 1-3 1-1 1-1 1 0 1 0 1 0 1 0 1 0 1 0 1-1 1-1 1-1 1-1 1-1 1 0 1-1h19l1 1 1 0 1 0 1 1 1 0 1 0 1 1 1 0 1 0 1 0 1-1 1 0 1 0 1 0 1-1 1 0 1 0 1 0 1 0 1-1h7" stroke="#A2142F" vector-effect="non-scaling-stroke"/>
<path d="M0 0h12l1 1 1 1 1 1 1 1 1 1 1 1 1 0 1-1 1 0 1-1 1-1 1-1 1-1 1 0 1-1h5l1 1 1 0 1 2 1 2 1 2 1 3 1 3 1 1 1 0 1-1 1-2 1-2 1-2 1-1 1 1 1 1 1 3 1 3 1 2 1 1 1-1 1-1 1-3 1-2 1-3 1-2 1-1 1 0 1 2 1 5 1 8 1 12 1 15 1 15 1 12 1 6 1-2 1-5 1-10 1-11 1-11 1-11 1-9 1-7 1-5 1-4 1-2 1-1 1 0 1-1h40l1 1 1 2 1 4 1 9 1 14 1 22 1 26 1 27 1 19 1 6 1-6 1-13 1-19 1-21 1-20 1-16 1-13 1-9 1-6 1-3 1-1 1-1 1 1 1 1 1 2 1 2 1 1 1 0 1 0 1 1 1 0 1 0 1-1 1-1 1-2 1-2 1-1 1-1 1-1 1-1h18l1 1 1 0 1 0 1 1 1 0 1 1 1 0 1 0 1 1 1 0 1 0 1 0 1-1 1 0 1 0 1-1 1 0 1 0 1-1 1 0 1 0 1 0 1-1h7" stroke="#0072BD" vector-effect="non-scaling-stroke"/>
<path d="M0 0h10l1 1 1 0 1 1 1 2 1 1 1 1 1 1 1 0 1-1 1-1 1-1 1-1 1-1 1-1 1 0 1-1h5l1 1 1 1 1 1 1 2 1 3 1 3 1 2 1 1 1 0 1-2 1-1 1-3 1-1 1-1 1 0 1 2 1 3 1 3 1 2 1 1 1-1 1-2 1-2 1-3 1-2 1-2 1-1 1 0 1 1 1 4 1 7 1 11 1 13 1 13 1 10 1 5 1-1 1-5 1-8 1-9 1-11 1-9 1-8 1-6 1-4 1-3 1-2 1-1 1 0 1-1h41l1 1 1 2 1 3 1 7 1 12 1 16 1 19 1 18 1 11 1 1 1-6 1-10 1-14 1-14 1-14 1-11 1-8 1-5 1-4 1-1 1-1 1 0 1 1 1 2 1 1 1 2 1 0 1 0 1 0 1 0 1 0 1 0 1 0 1-1 1-2 1-1 1-1 1-1 1-1 1-1h18l1 1 1 0 1 0 1 1 1 0 1 1 1 0 1 0 1 0 1 0 1 0 1 0 1 0 1-1 1 0 1 0 1-1 1 0 1 0 1 0 1-1h9" stroke="#D95319" vector-effect="non-scaling-stroke"/>
<path d="M0 0h10l1 1 1 0 1 1 1 0 1 1 1 0 1 0 1 0 1 0 1-1 1 0 1-1 1 0 1-1h6l1 1 1 1 1 1 1 3 1 2 1 3 1 2 1 0 1-1 1-1 1-2 1-2 1-2 1-1 1-1 1 0 1 1 1 1 1 1 1 0 1 0 1 0 1-1 1-1 1-1 1-1 1 0 1 0 1 2 1 3 1 5 1 9 1 10 1 12 1 11 1 6 1 1 1-3 1-7 1-8 1-9 1-9 1-7 1-6 1-5 1-3 1-2 1-1 1 0 1-1h41l1 1 1 2 1 4 1 7 1 10 1 14 1 14 1 11 1 4 1-2 1-6 1-9 1-11 1-10 1-9 1-8 1-5 1-3 1-2 1-1 1 0 1 0 1 1 1 1 1 1 1 1 1 0 1 0 1 0 1 0 1 0 1 0 1 0 1-1 1-1 1-1 1-1 1 0 1-1h19l1 1 1 0 1 0 1 0 1 1 1 0 1 0 1 0 1 0 1 0 1 0 1 0 1 0 1 0 1-1 1 0 1 0 1 0 1 0 1-1h11" stroke="#EDB120" vector-effect="non-scaling-stroke"/>
<path d="M0 0h11l1 1 1 1 1 1 1 2 1 1 1 2 1 0 1 0 1-1 1-1 1-1 1-1 1-2 1 0 1-1 1 0 1-1h5l1 1 1 1 1 2 1 3 1 3 1 3 1 2 1 1 1-1 1-2 1-2 1-2 1-1 1 0 1 2 1 3 1 4 1 3 1 2 1-1 1-2 1-2 1-4 1-3 1-3 1-3 1-1 1-2 1 0 1-1h3l1 1 1 0 1 2 1 3 1 4 1 7 1 7 1 8 1 7 1 2 1 0 1-3 1-5 1-6 1-6 1-6 1-5 1-3 1-3 1-2 1-1 1 0 1-1h40l1 1 1 1 1 3 1 4 1 8 1 11 1 12 1 10 1 6 1 0 1-4 1-7 1-9 1-8 1-8 1-6 1-4 1-2 1 0 1 0 1 0 1 0 1 0 1 0 1 0 1 0 1 0 1-1 1-1 1-2 1-1 1-1 1-1 1-1h18l1 1 1 0 1 0 1 1 1 0 1 0 1 1 1 0 1 0 1 0 1 0 1 0 1 0 1-1 1 0 1 0 1-1 1 0 1 0 1 0 1-1h8" stroke="#7E2F8E" vector-effect="non-scaling-stroke"/>
<path d="M0 0h7l1 1 1 0 1 1 1 2 1 1 1 1 1 1 1-1 1 0 1-1 1-1 1-1 1-1 1-1 1 0 1-1h7l1 1 1 1 1 2 1 3 1 4 1 4 1 2 1 1 1-1 1-2 1-2 1-2 1-2 1-1 1 2 1 2 1 3 1 3 1 1 1-1 1-2 1-2 1-3 1-3 1-2 1-2 1-2 1-1 1 0 1-1h6l1 1 1 2 1 3 1 4 1 7 1 8 1 9 1 6 1 4 1-1 1-3 1-5 1-6 1-7 1-6 1-5 1-4 1-3 1-2 1-1 1 0 1-1h41l1 1 1 0 1 2 1 3 1 5 1 6 1 7 1 6 1 3 1 0 1-3 1-4 1-5 1-5 1-3 1-3 1-2 1-1 1 0 1 0 1 0 1 0 1 0 1-1 1-1 1-1 1-1 1-1 1-1 1 0 1-1h18l1 1 1 0 1 0 1 1 1 0 1 1 1 0 1 0 1 0 1 0 1 0 1 0 1 0 1-1 1 0 1 0 1-1 1 0 1 0 1 0 1-1h11" stroke="#77AC30" vector-effect="non-scaling-stroke"/>
<path d="M0 0h10l1 1 1 0 1 1 1 1 1 1 1 1 1 1 1 0 1-1 1-1 1-1 1 0 1-1 1-1 1 0 1-1h4l1 1 1 0 1 2 1 2 1 4 1 4 1 4 1 2 1 1 1-2 1-2 1-3 1-3 1-2 1-2 1 0 1 1 1 2 1 2 1 2 1 0 1 0 1-2 1-1 1-3 1-1 1-2 1 0 1 1 1 3 1 7 1 12 1 16 1 20 1 19 1 14 1 6 1-3 1-8 1-13 1-14 1-15 1-14 1-11 1-9 1-6 1-4 1-2 1-2 1 0 1-1h41l1 1 1 2 1 4 1 8 1 12 1 16 1 18 1 15 1 8 1-1 1-7 1-11 1-13 1-13 1-12 1-10 1-6 1-5 1-2 1-2 1 0 1 1 1 2 1 1 1 1 1 1 1 1 1-1 1 0 1 0 1 1 1-1 1 0 1-2 1-1 1-1 1-2 1-1 1 0 1-1h18l1 1 1 0 1 0 1 1 1 0 1 1 1 0 1 0 1 0 1 0 1 0 1 0 1 0 1-1 1 0 1 0 1-1 1 0 1 0 1 0 1-1h9" stroke="#4DBEEE" vector-effect="non-scaling-stroke"/>
<path d="M0 0h8l1 1 1 0 1 2 1 1 1 1 1 1 1 1 1-1 1 0 1-1 1-1 1-1 1-1 1-1 1 0 1-1h5l1 1 1 1 1 2 1 3 1 5 1 6 1 6 1 3 1 1 1-2 1-3 1-4 1-4 1-3 1-1 1 0 1 3 1 3 1 4 1 2 1-1 1-1 1-3 1-4 1-3 1-3 1-2 1 0 1 2 1 6 1 10 1 14 1 18 1 19 1 14 1 7 1-2 1-7 1-11 1-14 1-14 1-13 1-11 1-9 1-6 1-4 1-2 1-2 1 0 1-1h40l1 1 1 1 1 3 1 8 1 13 1 21 1 29 1 32 1 28 1 15 1-1 1-12 1-19 1-24 1-24 1-21 1-18 1-12 1-9 1-5 1-3 1-1 1 0 1 1 1 1 1 2 1 1 1 1 1 1 1 0 1 1 1 0 1 0 1 0 1-2 1-1 1-2 1-2 1-1 1-1 1 0 1-1h17l1 1 1 0 1 0 1 1 1 0 1 0 1 1 1 0 1 0 1 0 1 0 1 0 1-1 1 0 1 0 1 0 1-1 1 0 1 0 1 0 1-1h11" stroke="#A2142F" vector-effect="non-scaling-stroke"/>
<path d="M0 0h8l1 1 1 0 1 1 1 1 1 2 1 1 1 0 1 0 1 0 1-1 1-1 1-1 1-1 1-1 1 0 1-1h6l1 1 1 1 1 2 1 4 1 4 1 4 1 3 1 1 1-1 1-2 1-2 1-3 1-3 1-1 1 0 1 2 1 2 1 3 1 2 1 0 1-1 1-2 1-2 1-3 1-3 1-2 1-1 1-1 1-1 1-1h6l1 1 1 1 1 2 1 4 1 5 1 7 1 7 1 5 1 3 1 0 1-2 1-4 1-5 1-6 1-5 1-4 1-3 1-2 1-2 1-1 1 0 1-1h42l1 1 1 1 1 3 1 5 1 7 1 9 1 10 1 8 1 3 1-1 1-5 1-6 1-7 1-6 1-5 1-4 1-3 1-1 1-1 1 0 1 0 1 0 1-1 1-1 1-2 1-1 1-1 1-1 1 0 1-1h18l1 1 1 0 1 0 1 1 1 0 1 0 1 1 1 0 1 0 1 0 1 0 1 0 1 0 1 0 1-1 1 0 1 0 1-1 1 0 1 0 1 0 1-1h10" stroke="#0072BD" vector-effect="non-scaling-stroke"/>
<path d="M0 0h11l1 1 1 1 1 1 1 1 1 2 1 1 1 0 1-1 1-1 1-1 1-1 1-1 1 0 1-1 1 0 1-1h4l1 1 1 1 1 3 1 4 1 5 1 5 1 4 1 2 1-1 1-2 1-3 1-4 1-3 1-2 1 0 1 2 1 4 1 4 1 2 1 1 1-1 1-3 1-3 1-4 1-3 1-3 1-2 1 0 1 1 1 4 1 8 1 12 1 17 1 19 1 18 1 12 1 4 1-4 1-9 1-13 1-14 1-15 1-13 1-10 1-8 1-5 1-4 1-2 1-1 1 0 1-1h39l1 1 1 1 1 2 1 7 1 11 1 19 1 27 1 30 1 28 1 18 1 1 1-9 1-18 1-22 1-23 1-22 1-17 1-13 1-9 1-5 1-3 1-1 1 0 1 1 1 1 1 2 1 1 1 1 1 0 1 0 1 0 1 1 1 0 1-1 1-1 1-2 1-1 1-2 1-1 1-1 1-1h18l1 1 1 0 1 0 1 1 1 0 1 1 1 0 1 0 1 1 1 0 1-1 1 0 1 0 1 0 1-1 1 0 1 0 1-1 1 0 1 0 1 0 1-1h8" stroke="#D95319" vector-effect="non-scaling-stroke"/>
<path d="M0 0h43l1 1 1 1 1 3 1 4 1 6 1 7 1 6 1 2 1 0 1-3 1-5 1-5 1-4 1-5 1-3 1-1 1-1 1 3 1 7 1 15 1 24 1 33 1 38 1 32 1 16 1-3 1-15 1-24 1-28 1-28 1-24 1-19 1-13 1-8 1-4 1-3 1-1 1-1h42l1 1 1 3 1 6 1 11 1 17 1 21 1 19 1 10 1-2 1-9 1-14 1-16 1-15 1-12 1-9 1-5 1-3 1-2 1-1h68" stroke="#0072BD" vector-effect="non-scaling-stroke"/>
<path d="M0 0h63l1 1 1 2 1 5 1 7 1 9 1 9 1 8 1 10 1 12 1 14 1 11 1 2 1-6 1-12 1-15 1-15 1-14 1-11 1-7 1-5 1-3 1-1 1-1h40l1 1 1 1 1 4 1 6 1 8 1 9 1 7 1 2 1-2 1-5 1-7 1-6 1-6 1-5 1-3 1-2 1-1 1-1h66" stroke="#0072BD" vector-effect="non-scaling-stroke"/>
<path d="M0 0h58l1 1 1 1 1 2 1 5 1 8 1 11 1 14 1 13 1 7 1 1 1-5 1-8 1-11 1-10 1-9 1-8 1-5 1-3 1-2 1-1 1-1h42l1 1 1 2 1 6 1 14 1 26 1 43 1 60 1 67 1 57 1 29 1-5 1-27 1-42 1-47 1-42 1-33 1-22 1-18 1-16 1-15 1-13 1-10 1-7 1-4 1-2 1-1 1-1h62" stroke="#7E2F8E" vector-effect="non-scaling-stroke"/>
<path d="M0 0h58l1 1 1 1 1 3 1 5 1 10 1 14 1 17 1 15 1 9 1 0 1-6 1-10 1-12 1-12 1-11 1-9 1-6 1-4 1-3 1-1 1-1h42l1 1 1 1 1 4 1 8 1 15 1 26 1 36 1 41 1 35 1 17 1-3 1-17 1-25 1-31 1-30 1-26 1-19 1-14 1-9 1-5 1-3 1-1 1-1h66" stroke="#4DBEEE" vector-effect="non-scaling-stroke"/>
</g></g>
<path d="M59.5 322.50H321.5M59.5 323.50H321.5" stroke="#c4e4f0" stroke-width=".8"/>
<path d="M59.5 323.50H321.5" stroke="#6d9aa6" stroke-width=".8"/>
<rect x="59.5" y="247.5" width="262" height="81" fill="none" stroke="#6e6e6e"/>
<text x="59.9" y="342.3" font-size="12.8" text-anchor="middle">9.8</text>
<text x="92.6" y="342.3" font-size="12.8" text-anchor="middle">9.9</text>
<text x="125.4" y="342.3" font-size="12.8" text-anchor="middle">10</text>
<text x="158.2" y="342.3" font-size="12.8" text-anchor="middle">10.1</text>
<text x="190.9" y="342.3" font-size="12.8" text-anchor="middle">10.2</text>
<text x="223.7" y="342.3" font-size="12.8" text-anchor="middle">10.3</text>
<text x="256.4" y="342.3" font-size="12.8" text-anchor="middle">10.4</text>
<text x="289.2" y="342.3" font-size="12.8" text-anchor="middle">10.5</text>
<text x="321.9" y="342.3" font-size="12.8" text-anchor="middle">10.6</text>
<text x="51.4" y="326.8" font-size="12.2" text-anchor="middle">0</text>
<text x="51.4" y="301.5" font-size="12.2" text-anchor="middle">5</text>
<text x="51.4" y="276.2" font-size="12.2" text-anchor="middle">10</text>
<text x="51.4" y="250.9" font-size="12.2" text-anchor="middle">15</text>
<path d="M59.5 328.5v-3M59.5 247.5v3M92.2 328.5v-3M92.2 247.5v3M125 328.5v-3M125 247.5v3M157.8 328.5v-3M157.8 247.5v3M190.5 328.5v-3M190.5 247.5v3M223.3 328.5v-3M223.3 247.5v3M256 328.5v-3M256 247.5v3M288.8 328.5v-3M288.8 247.5v3M321.5 328.5v-3M321.5 247.5v3M59.5 323.4h3M321.5 323.4h-3M59.5 298.1h3M321.5 298.1h-3M59.5 272.8h3M321.5 272.8h-3M59.5 247.5h3M321.5 247.5h-3" stroke="#6e6e6e" stroke-width=".9"/>
<clipPath id="ca2"><rect x="398.9" y="248" width="261.8" height="80.5"/></clipPath>
<g clip-path="url(#ca2)"><g transform="translate(398.9 323.50) scale(1.2526 -.2)" fill="none" stroke-width="0.7" stroke-linejoin="round">
<path d="M0 0h10l1 1 1 0 1 1 1 2 1 1 1 1 1 1 1 0 1-1 1-1 1-1 1-1 1-1 1-1 1 0 1-1h5l1 1 1 1 1 3 1 4 1 5 1 6 1 5 1 3 1-1 1-2 1-4 1-4 1-3 1-3 1 0 1 1 1 2 1 2 1 2 1 0 1-2 1-2 1-3 1-2 1-3 1-2 1-1 1 0 1 1 1 3 1 7 1 11 1 17 1 20 1 20 1 16 1 7 1-2 1-8 1-13 1-15 1-15 1-15 1-12 1-9 1-6 1-4 1-3 1-2 1 0 1-1h40l1 1 1 3 1 5 1 10 1 17 1 23 1 26 1 24 1 14 1 0 1-8 1-16 1-19 1-20 1-18 1-14 1-11 1-7 1-5 1-2 1 0 1 0 1 1 1 2 1 1 1 1 1 0 1 0 1 0 1 1 1 0 1 0 1 0 1-2 1-1 1-2 1-1 1-2 1 0 1-1h16l1 1 1 0 1 0 1 1 1 0 1 1 1 0 1 0 1 1 1 0 1 0 1-1 1 0 1 0 1 0 1-1 1 0 1-1 1 0 1 0 1 0 1-1h9" stroke="#0072BD" vector-effect="non-scaling-stroke"/>
<path d="M0 0h11l1 1 1 0 1 1 1 1 1 0 1 1 1 0 1-1 1 0 1-1 1 0 1-1 1 0 1-1h7l1 1 1 1 1 1 1 2 1 2 1 2 1 1 1 0 1-1 1-2 1-1 1-1 1-1 1 0 1 0 1 2 1 1 1 2 1 0 1 0 1-1 1-1 1-1 1-2 1-1 1-1 1 0 1 1 1 2 1 5 1 7 1 10 1 13 1 12 1 9 1 4 1-2 1-5 1-8 1-10 1-9 1-9 1-7 1-6 1-3 1-3 1-1 1-1 1-1h41l1 1 1 1 1 2 1 4 1 9 1 12 1 14 1 16 1 11 1 3 1-3 1-7 1-11 1-12 1-11 1-9 1-8 1-5 1-3 1-2 1 0 1 0 1 0 1 1 1 0 1 1 1 0 1 0 1 0 1 1 1 0 1 0 1-1 1 0 1-1 1-1 1-1 1 0 1-1h19l1 1 1 0 1 0 1 0 1 1 1 0 1 0 1 0 1 0 1 0 1 0 1 0 1-1 1 0 1 0 1 0 1 0 1-1h11" stroke="#D95319" vector-effect="non-scaling-stroke"/>
<path d="M0 0h9l1 1 1 0 1 1 1 2 1 2 1 2 1 1 1 0 1-1 1-1 1-1 1-2 1-1 1-1 1-1 1 0 1-1h5l1 1 1 1 1 2 1 4 1 4 1 6 1 5 1 2 1 1 1-2 1-3 1-4 1-3 1-2 1-1 1 2 1 3 1 3 1 3 1 1 1-2 1-2 1-4 1-3 1-3 1-3 1-2 1-1 1 0 1 1 1 5 1 8 1 14 1 18 1 22 1 22 1 16 1 5 1-3 1-10 1-14 1-17 1-17 1-15 1-12 1-10 1-6 1-5 1-2 1-2 1 0 1-1h39l1 1 1 1 1 3 1 7 1 12 1 20 1 28 1 31 1 28 1 16 1-1 1-11 1-18 1-23 1-24 1-21 1-17 1-13 1-8 1-5 1-2 1 0 1 0 1 2 1 1 1 1 1 0 1 0 1 1 1 0 1 1 1-1 1-1 1-1 1-2 1-2 1-1 1-1 1 0 1-1h17l1 1 1 0 1 0 1 1 1 0 1 0 1 1 1 0 1 0 1 0 1 0 1 0 1 0 1-1 1 0 1 0 1-1 1 0 1 0 1 0 1 0 1-1h8" stroke="#EDB120" vector-effect="non-scaling-stroke"/>
<path d="M0 0h9l1 1 1 1 1 1 1 2 1 2 1 1 1 1 1 0 1-1 1-1 1-2 1-1 1-1 1-1 1-1 1 0 1-1h4l1 1 1 0 1 2 1 3 1 4 1 6 1 5 1 5 1 1 1-1 1-2 1-4 1-4 1-3 1-2 1 0 1 2 1 3 1 3 1 1 1 0 1-2 1-2 1-3 1-4 1-2 1-3 1-1 1-1 1 1 1 3 1 6 1 10 1 14 1 18 1 17 1 14 1 6 1-2 1-7 1-11 1-13 1-14 1-12 1-10 1-8 1-6 1-3 1-2 1-2 1 0 1-1h40l1 1 1 2 1 5 1 10 1 18 1 24 1 31 1 29 1 21 1 5 1-7 1-16 1-22 1-23 1-22 1-19 1-14 1-10 1-6 1-3 1-1 1-1 1 1 1 1 1 2 1 1 1 1 1 1 1 1 1 1 1 0 1-1 1-2 1-2 1-2 1-1 1-2 1 0 1-1h18l1 1 1 0 1 0 1 1 1 0 1 0 1 1 1 0 1 0 1 0 1 0 1 0 1 0 1 0 1-1 1 0 1 0 1-1 1 0 1 0 1 0 1-1h8" stroke="#7E2F8E" vector-effect="non-scaling-stroke"/>
<path d="M0 0h9l1 1 1 0 1 1 1 1 1 1 1 2 1 0 1 0 1 0 1-1 1-1 1-1 1-1 1-1 1 0 1-1h6l1 1 1 1 1 1 1 3 1 3 1 3 1 2 1 0 1-1 1-1 1-2 1-2 1-2 1 0 1 0 1 2 1 3 1 3 1 3 1 0 1-1 1-1 1-3 1-3 1-2 1-2 1-2 1-1 1 1 1 1 1 5 1 7 1 11 1 15 1 16 1 13 1 9 1 0 1-4 1-9 1-11 1-12 1-11 1-10 1-8 1-6 1-4 1-2 1-2 1 0 1-1h40l1 1 1 3 1 5 1 10 1 16 1 22 1 25 1 23 1 12 1 0 1-8 1-15 1-18 1-19 1-17 1-14 1-10 1-7 1-4 1-2 1-1 1 1 1 1 1 1 1 2 1 0 1 1 1-1 1 0 1 0 1 0 1-1 1-1 1-1 1-1 1-1 1-1 1 0 1-1h18l1 1 1 0 1 0 1 1 1 0 1 0 1 1 1 0 1 0 1 0 1 0 1-1 1 0 1 0 1 0 1-1 1 0 1 0 1 0 1-1h10" stroke="#77AC30" vector-effect="non-scaling-stroke"/>
<path d="M0 0h10l1 1 1 1 1 1 1 1 1 2 1 0 1 0 1 0 1-1 1-1 1-1 1-1 1-1 1 0 1 0 1-1h5l1 1 1 1 1 1 1 3 1 4 1 4 1 4 1 2 1-1 1-1 1-3 1-3 1-2 1-2 1-1 1 0 1 2 1 2 1 3 1 2 1 0 1-1 1-2 1-3 1-2 1-2 1-2 1-1 1 1 1 2 1 6 1 10 1 15 1 19 1 20 1 18 1 9 1 1 1-7 1-11 1-15 1-15 1-15 1-13 1-10 1-7 1-4 1-3 1-2 1-1 1-1h40l1 1 1 2 1 3 1 8 1 13 1 19 1 23 1 22 1 16 1 4 1-5 1-12 1-17 1-17 1-17 1-15 1-10 1-8 1-4 1-3 1-1 1 0 1 1 1 2 1 1 1 2 1 0 1 1 1 0 1 0 1 0 1-1 1-1 1-1 1-2 1-1 1-1 1-1 1 0 1-1h17l1 1 1 0 1 0 1 1 1 0 1 1 1 0 1 0 1 0 1 0 1 0 1 0 1 0 1 0 1-1 1 0 1 0 1-1 1 0 1 0 1 0 1-1h8" stroke="#4DBEEE" vector-effect="non-scaling-stroke"/>
<path d="M0 0h12l1 1 1 0 1 1 1 0 1 1 1 0 1 0 1-1 1 0 1-1 1 0 1 0 1-1h8l1 1 1 0 1 1 1 1 1 0 1 0 1 0 1 0 1-1 1 0 1 0 1-1 1 0 1 1 1 0 1 0 1 1 1 0 1-1 1 0 1 0 1-1 1 0 1 0 1 0 1 0 1 1 1 1 1 4 1 7 1 9 1 12 1 13 1 12 1 6 1 1 1-4 1-8 1-9 1-10 1-9 1-8 1-7 1-5 1-3 1-2 1-1 1 0 1-1h40l1 1 1 0 1 2 1 5 1 6 1 10 1 12 1 12 1 8 1 2 1-3 1-7 1-8 1-10 1-8 1-8 1-5 1-4 1-2 1-1 1-1 1 1 1 0 1 1 1 1 1 0 1 1 1 0 1 0 1 0 1-1 1 0 1-1 1-1 1 0 1-1 1 0 1-1h21l1 1 1 0 1 0 1 0 1 0 1 0 1 0 1 0 1 0 1 0 1 0 1 0 1 0 1 0 1-1h13" stroke="#A2142F" vector-effect="non-scaling-stroke"/>
<path d="M0 0h10l1 1 1 1 1 1 1 1 1 2 1 1 1 1 1 0 1-1 1-1 1-1 1-1 1-1 1-1 1-1 1 0 1-1h3l1 1 1 0 1 2 1 3 1 4 1 5 1 4 1 3 1 0 1-1 1-2 1-4 1-3 1-3 1-2 1-1 1 1 1 2 1 3 1 3 1 1 1 0 1-1 1-3 1-2 1-3 1-2 1-2 1-1 1 0 1 1 1 2 1 6 1 8 1 13 1 15 1 16 1 13 1 6 1-1 1-6 1-10 1-11 1-13 1-11 1-10 1-7 1-5 1-3 1-3 1-1 1 0 1-1h38l1 1 1 1 1 2 1 6 1 11 1 15 1 21 1 22 1 18 1 7 1-2 1-10 1-14 1-17 1-16 1-14 1-11 1-8 1-6 1-3 1-1 1-1 1 1 1 0 1 1 1 2 1 1 1 1 1 0 1 1 1 0 1 1 1-1 1-1 1-2 1-1 1-1 1-1 1-1 1-1h19l1 1 1 0 1 0 1 1 1 0 1 0 1 0 1 1 1 0 1 0 1-1 1 0 1 0 1 0 1-1 1 0 1 0 1 0 1 0 1-1h9" stroke="#0072BD" vector-effect="non-scaling-stroke"/>
<path d="M0 0h10l1 1 1 0 1 1 1 2 1 1 1 2 1 1 1 0 1-1 1-1 1-1 1-1 1-1 1-1 1-1 1 0 1-1h4l1 1 1 1 1 2 1 3 1 4 1 4 1 3 1 1 1-1 1-2 1-3 1-2 1-3 1-1 1 0 1 1 1 2 1 3 1 2 1 1 1-1 1-2 1-2 1-3 1-2 1-2 1-1 1-1 1 1 1 2 1 4 1 8 1 12 1 15 1 16 1 15 1 8 1 1 1-5 1-9 1-12 1-12 1-12 1-11 1-8 1-6 1-4 1-2 1-1 1-1 1-1h40l1 1 1 2 1 6 1 10 1 17 1 25 1 31 1 30 1 21 1 6 1-7 1-17 1-22 1-24 1-22 1-19 1-14 1-10 1-7 1-3 1-2 1 0 1 1 1 1 1 1 1 2 1 1 1 1 1 1 1 1 1 1 1-1 1-1 1-2 1-2 1-2 1-2 1-1 1 0 1-1h17l1 1 1 0 1 0 1 1 1 0 1 1 1 0 1 0 1 0 1 0 1 0 1 0 1-1 1 0 1 0 1-1 1 0 1 0 1 0 1 0 1-1h9" stroke="#D95319" vector-effect="non-scaling-stroke"/>
<path d="M0 0h10l1 1 1 0 1 1 1 2 1 1 1 1 1 1 1 0 1-1 1-1 1-1 1-1 1-1 1-1 1 0 1-1h5l1 1 1 1 1 2 1 2 1 3 1 3 1 2 1 1 1-1 1-2 1-2 1-2 1-2 1-1 1 0 1 1 1 3 1 2 1 2 1 1 1 0 1-2 1-2 1-2 1-2 1-2 1-1 1-1 1 0 1 1 1 4 1 5 1 9 1 12 1 12 1 11 1 6 1 1 1-4 1-6 1-9 1-9 1-9 1-8 1-6 1-5 1-3 1-2 1-1 1 0 1-1h40l1 1 1 1 1 2 1 6 1 10 1 16 1 21 1 23 1 19 1 10 1-2 1-9 1-15 1-17 1-17 1-15 1-12 1-9 1-6 1-3 1-2 1 0 1 0 1 1 1 1 1 1 1 1 1 0 1 1 1 0 1 0 1-1 1-1 1-1 1-1 1-1 1-1 1 0 1-1h19l1 1 1 0 1 0 1 1 1 0 1 0 1 0 1 0 1 0 1 0 1 0 1 0 1 0 1 0 1-1 1 0 1 0 1 0 1 0 1-1h9" stroke="#EDB120" vector-effect="non-scaling-stroke"/>
<path d="M0 0h10l1 1 1 1 1 1 1 1 1 1 1 1 1 1 1-1 1-1 1-1 1-1 1-1 1 0 1-1 1 0 1-1h6l1 1 1 1 1 1 1 3 1 2 1 3 1 2 1 0 1-1 1-1 1-1 1-2 1 0 1 1 1 2 1 2 1 2 1 1 1-1 1-1 1-2 1-3 1-2 1-2 1-2 1-1 1 0 1 2 1 4 1 6 1 10 1 13 1 15 1 13 1 8 1 1 1-4 1-7 1-10 1-12 1-10 1-9 1-8 1-5 1-4 1-2 1-2 1 0 1-1h41l1 1 1 2 1 4 1 8 1 12 1 16 1 17 1 16 1 8 1-1 1-7 1-11 1-13 1-14 1-11 1-10 1-7 1-4 1-3 1-1 1 0 1 1 1 0 1 2 1 1 1 0 1 0 1 0 1 0 1 0 1 0 1-1 1-1 1-1 1-1 1-1 1 0 1-1h18l1 1 1 0 1 0 1 0 1 1 1 0 1 1 1 0 1 0 1 0 1 0 1 0 1-1 1 0 1 0 1 0 1-1 1 0 1 0 1 0 1-1h10" stroke="#7E2F8E" vector-effect="non-scaling-stroke"/>
<path d="M0 0h10l1 1 1 1 1 1 1 2 1 1 1 2 1 0 1 0 1-1 1-1 1-1 1-2 1-1 1-1 1 0 1-1h6l1 1 1 0 1 2 1 3 1 4 1 4 1 5 1 2 1 1 1-1 1-3 1-3 1-3 1-1 1-1 1 1 1 2 1 1 1 1 1 0 1-2 1-2 1-2 1-2 1-2 1-2 1-1 1 1 1 2 1 4 1 8 1 12 1 17 1 18 1 16 1 10 1 2 1-5 1-9 1-13 1-13 1-14 1-11 1-9 1-7 1-5 1-2 1-2 1-1 1-1h40l1 1 1 2 1 5 1 9 1 16 1 25 1 32 1 32 1 25 1 10 1-6 1-15 1-22 1-25 1-25 1-20 1-17 1-11 1-7 1-4 1-2 1 0 1 0 1 2 1 1 1 1 1 1 1 1 1 0 1 0 1 0 1 0 1-1 1-2 1-2 1-1 1-1 1-1 1 0 1-1h17l1 1 1 0 1 0 1 1 1 0 1 0 1 1 1 0 1 0 1 0 1 0 1 0 1 0 1 0 1-1 1 0 1 0 1-1 1 0 1 0 1 0 1-1h8" stroke="#77AC30" vector-effect="non-scaling-stroke"/>
<path d="M0 0h11l1 1 1 1 1 1 1 1 1 1 1 0 1 0 1 0 1-1 1-1 1-1 1 0 1-1 1 0 1-1h7l1 1 1 0 1 1 1 0 1 1 1 0 1 0 1 0 1-1 1 0 1 0 1 0 1 1 1 1 1 2 1 1 1 1 1 0 1 0 1-1 1-1 1-2 1-1 1-1 1 0 1 0 1 0 1 2 1 4 1 6 1 8 1 9 1 9 1 5 1 2 1-3 1-4 1-6 1-7 1-7 1-6 1-5 1-3 1-3 1-1 1-1 1-1h42l1 1 1 1 1 2 1 5 1 7 1 12 1 13 1 13 1 9 1 2 1-3 1-7 1-10 1-11 1-9 1-9 1-6 1-4 1-3 1-1 1-1 1 0 1 1 1 0 1 1 1 0 1 0 1 1 1 0 1 0 1 1 1 0 1-1 1-1 1-1 1 0 1-1 1 0 1-1h19l1 1 1 0 1 0 1 0 1 1 1 0 1 0 1 0 1 0 1 0 1 0 1 0 1 0 1-1 1 0 1 0 1 0 1 0 1-1h10" stroke="#4DBEEE" vector-effect="non-scaling-stroke"/>
<path d="M0 0h11l1 1 1 1 1 1 1 1 1 0 1 0 1 0 1 0 1-1 1-1 1 0 1-1 1 0 1-1h6l1 1 1 0 1 1 1 2 1 1 1 2 1 0 1 0 1 0 1-1 1-1 1-1 1-1 1 0 1 0 1 1 1 1 1 1 1 0 1 0 1-1 1-1 1-1 1-1 1 0 1-1 1 0 1 0 1 0 1 1 1 2 1 4 1 5 1 7 1 8 1 6 1 4 1 0 1-2 1-4 1-6 1-5 1-6 1-4 1-4 1-3 1-2 1-1 1 0 1-1h40l1 1 1 1 1 3 1 5 1 9 1 12 1 15 1 13 1 9 1 0 1-4 1-8 1-11 1-11 1-10 1-8 1-6 1-4 1-3 1-1 1-1 1 0 1 1 1 0 1 1 1 1 1 1 1 0 1 0 1 1 1 0 1 0 1-1 1 0 1-1 1-1 1-1 1-1 1 0 1-1h19l1 1 1 0 1 0 1 0 1 0 1 0 1 1 1 0 1-1 1 0 1 0 1 0 1 0 1 0 1 0 1 0 1-1h12" stroke="#A2142F" vector-effect="non-scaling-stroke"/>
<path d="M0 0h10l1 1 1 0 1 1 1 1 1 2 1 1 1 0 1 0 1 0 1-1 1-1 1-1 1-1 1-1 1 0 1-1h4l1 1 1 0 1 2 1 3 1 4 1 4 1 4 1 2 1 1 1-2 1-2 1-3 1-3 1-3 1-2 1 0 1 0 1 1 1 2 1 1 1 0 1-1 1-1 1-2 1-1 1-2 1-1 1 0 1-1 1 1 1 1 1 4 1 6 1 9 1 12 1 14 1 13 1 7 1 2 1-4 1-7 1-9 1-11 1-10 1-9 1-7 1-5 1-3 1-2 1-2 1 0 1-1h40l1 1 1 2 1 4 1 7 1 13 1 17 1 22 1 20 1 13 1 2 1-6 1-12 1-15 1-16 1-15 1-13 1-9 1-6 1-4 1-3 1 0 1-1 1 1 1 1 1 0 1 1 1 1 1 1 1 0 1 1 1 0 1 0 1 0 1-1 1-2 1-1 1-1 1-1 1 0 1-1h17l1 1 1 0 1 0 1 0 1 1 1 0 1 0 1 1 1 0 1 0 1 0 1-1 1 0 1 0 1 0 1-1 1 0 1 0 1 0 1 0 1-1h9" stroke="#0072BD" vector-effect="non-scaling-stroke"/>
<path d="M0 0h10l1 1 1 0 1 1 1 1 1 1 1 1 1 0 1 0 1 0 1-1 1-1 1-1 1 0 1-1 1 0 1-1h5l1 1 1 0 1 1 1 2 1 3 1 2 1 2 1 1 1-1 1-1 1-1 1-2 1-2 1-1 1 0 1 1 1 0 1 1 1 1 1-1 1 0 1-1 1-1 1-1 1-1 1-1 1 0 1 0 1 1 1 2 1 4 1 7 1 10 1 13 1 13 1 12 1 7 1 0 1-5 1-7 1-10 1-11 1-9 1-9 1-7 1-4 1-4 1-2 1-1 1 0 1-1h40l1 1 1 1 1 3 1 6 1 9 1 12 1 13 1 11 1 6 1-1 1-5 1-8 1-10 1-10 1-9 1-6 1-5 1-4 1-2 1-1 1 0 1 0 1 1 1 1 1 0 1 1 1 1 1 0 1 1 1 0 1 0 1 0 1-1 1-1 1-1 1-1 1-1 1 0 1-1h19l1 1 1 0 1 0 1 0 1 1 1 0 1 0 1 0 1 0 1 0 1 0 1 0 1 0 1-1 1 0 1 0 1 0 1 0 1-1h10" stroke="#D95319" vector-effect="non-scaling-stroke"/>
<path d="M0 0h10l1 1 1 1 1 1 1 2 1 1 1 1 1 0 1 0 1-1 1-1 1-1 1-1 1-1 1-1 1 0 1-1h5l1 1 1 0 1 2 1 3 1 4 1 5 1 5 1 3 1 1 1-1 1-3 1-3 1-3 1-3 1 0 1 1 1 3 1 3 1 4 1 1 1-1 1-2 1-3 1-4 1-3 1-3 1-2 1-1 1 0 1 3 1 6 1 10 1 15 1 17 1 17 1 14 1 6 1-3 1-7 1-11 1-13 1-14 1-12 1-10 1-8 1-6 1-3 1-3 1-1 1 0 1-1h40l1 1 1 2 1 5 1 10 1 17 1 24 1 29 1 28 1 19 1 5 1-7 1-16 1-21 1-22 1-21 1-18 1-13 1-9 1-6 1-3 1-2 1 0 1 1 1 2 1 1 1 2 1 1 1 1 1 1 1 0 1 0 1-1 1-1 1-2 1-2 1-2 1-1 1-1 1 0 1-1h16l1 1 1 0 1 0 1 1 1 0 1 1 1 0 1 0 1 1 1 0 1 0 1 0 1-1 1 0 1 0 1-1 1 0 1 0 1-1 1 0 1 0 1-1h9" stroke="#EDB120" vector-effect="non-scaling-stroke"/>
<path d="M0 0h11l1 1 1 1 1 1 1 2 1 1 1 1 1 0 1 0 1-1 1-1 1-1 1-1 1-1 1-1 1 0 1-1h4l1 1 1 0 1 2 1 3 1 3 1 5 1 4 1 2 1 0 1-1 1-3 1-2 1-3 1-2 1-1 1 0 1 2 1 2 1 2 1 1 1-1 1-1 1-2 1-3 1-2 1-2 1-1 1 0 1 1 1 3 1 6 1 10 1 14 1 17 1 17 1 13 1 6 1-3 1-7 1-11 1-13 1-13 1-12 1-10 1-8 1-5 1-3 1-3 1-1 1 0 1-1h40l1 1 1 2 1 3 1 7 1 12 1 16 1 20 1 18 1 12 1 2 1-6 1-11 1-14 1-15 1-13 1-12 1-8 1-6 1-4 1-2 1 0 1 0 1 1 1 1 1 2 1 1 1 1 1 0 1 1 1 0 1 0 1 0 1-1 1-1 1-2 1-1 1-2 1-1 1 0 1-1h17l1 1 1 0 1 0 1 1 1 0 1 0 1 1 1 0 1 0 1 0 1 0 1 0 1 0 1 0 1-1 1 0 1 0 1-1 1 0 1 0 1 0 1-1h8" stroke="#7E2F8E" vector-effect="non-scaling-stroke"/>
<path d="M0 0h9l1 1 1 1 1 1 1 2 1 2 1 1 1 0 1 0 1-1 1-1 1-2 1-1 1-1 1-1 1 0 1-1h6l1 1 1 1 1 2 1 2 1 4 1 3 1 2 1 0 1 0 1-2 1-2 1-2 1-1 1 0 1 0 1 2 1 2 1 2 1 0 1-1 1-2 1-2 1-2 1-2 1-2 1-1 1 0 1 1 1 2 1 5 1 9 1 13 1 18 1 19 1 17 1 10 1 1 1-5 1-11 1-13 1-14 1-14 1-12 1-10 1-7 1-4 1-3 1-2 1-1 1-1h40l1 1 1 2 1 5 1 9 1 15 1 23 1 29 1 29 1 21 1 6 1-6 1-15 1-20 1-22 1-22 1-18 1-14 1-9 1-6 1-4 1-1 1-1 1 1 1 1 1 1 1 1 1 0 1 1 1 0 1 0 1 0 1 0 1-1 1-1 1-2 1-1 1-1 1 0 1-1h18l1 1 1 0 1 0 1 1 1 0 1 0 1 1 1 0 1 0 1 0 1 0 1 0 1-1 1 0 1 0 1 0 1-1 1 0 1 0 1 0 1-1h10" stroke="#77AC30" vector-effect="non-scaling-stroke"/>
<path d="M0 0h10l1 1 1 0 1 1 1 1 1 2 1 1 1 1 1 0 1-1 1-1 1-1 1-1 1-1 1 0 1-1 1 0 1-1h4l1 1 1 1 1 3 1 4 1 5 1 6 1 5 1 3 1-1 1-2 1-4 1-4 1-4 1-2 1-1 1 1 1 3 1 3 1 3 1 1 1-1 1-2 1-3 1-3 1-3 1-3 1-2 1 0 1 1 1 3 1 8 1 12 1 17 1 21 1 20 1 16 1 6 1-3 1-9 1-13 1-16 1-16 1-14 1-12 1-9 1-7 1-4 1-2 1-2 1 0 1-1h40l1 1 1 2 1 5 1 10 1 17 1 23 1 28 1 27 1 18 1 3 1-8 1-15 1-20 1-22 1-20 1-16 1-13 1-8 1-6 1-3 1-1 1 0 1 1 1 1 1 1 1 1 1 1 1 1 1 0 1 0 1 1 1-1 1-1 1-1 1-2 1-1 1-1 1-1 1-1h17l1 1 1 0 1 0 1 1 1 0 1 0 1 1 1 0 1 0 1 1 1-1 1 0 1 0 1 0 1-1 1 0 1 0 1-1 1 0 1 0 1 0 1-1h9" stroke="#4DBEEE" vector-effect="non-scaling-stroke"/>
<path d="M0 0h10l1 1 1 1 1 1 1 2 1 2 1 1 1 0 1 0 1-1 1-1 1-2 1-1 1-1 1-1 1 0 1-1h4l1 1 1 0 1 2 1 3 1 4 1 5 1 5 1 4 1 1 1-1 1-3 1-3 1-4 1-3 1-2 1-1 1 1 1 3 1 2 1 2 1 0 1-1 1-2 1-2 1-3 1-2 1-2 1-1 1 0 1 1 1 3 1 7 1 11 1 15 1 17 1 17 1 12 1 4 1-3 1-7 1-12 1-13 1-13 1-12 1-10 1-7 1-6 1-3 1-2 1-1 1 0 1-1h39l1 1 1 1 1 3 1 7 1 12 1 19 1 26 1 28 1 23 1 11 1-2 1-11 1-17 1-21 1-21 1-18 1-15 1-10 1-7 1-4 1-2 1 0 1 1 1 1 1 2 1 1 1 1 1 0 1 0 1 0 1 0 1-1 1 0 1-2 1-1 1-1 1-2 1-1 1 0 1-1h18l1 1 1 0 1 0 1 1 1 0 1 0 1 1 1 0 1 0 1 0 1 0 1 0 1-1 1 0 1 0 1-1 1 0 1 0 1 0 1 0 1-1h9" stroke="#A2142F" vector-effect="non-scaling-stroke"/>
<path d="M0 0h9l1 1 1 1 1 1 1 1 1 1 1 1 1 1 1-1 1 0 1-1 1-1 1-1 1-1 1-1 1 0 1-1h6l1 1 1 1 1 1 1 3 1 3 1 2 1 2 1 1 1-1 1-1 1-2 1-2 1-2 1 0 1 1 1 3 1 3 1 3 1 2 1 0 1-1 1-2 1-3 1-3 1-3 1-2 1-1 1-1 1 0 1 2 1 5 1 8 1 12 1 16 1 19 1 17 1 11 1 3 1-4 1-10 1-12 1-14 1-14 1-12 1-10 1-7 1-5 1-3 1-2 1-1 1-1h39l1 1 1 2 1 4 1 8 1 15 1 21 1 26 1 25 1 19 1 5 1-6 1-13 1-18 1-21 1-19 1-16 1-13 1-8 1-5 1-4 1-1 1-1 1 1 1 0 1 1 1 2 1 1 1 0 1 1 1 1 1 0 1 0 1-1 1-1 1-1 1-2 1-1 1-1 1 0 1-1h18l1 1 1 0 1 0 1 1 1 0 1 0 1 1 1 0 1 0 1 0 1 0 1 0 1 0 1-1 1 0 1 0 1-1 1 0 1 0 1 0 1-1h9" stroke="#0072BD" vector-effect="non-scaling-stroke"/>
<path d="M0 0h10l1 1 1 1 1 1 1 1 1 2 1 0 1 1 1-1 1-1 1-1 1-1 1-1 1-1 1 0 1 0 1-1h5l1 1 1 1 1 2 1 4 1 4 1 4 1 4 1 1 1-1 1-2 1-3 1-3 1-2 1-2 1 0 1 2 1 3 1 4 1 3 1 1 1-1 1-2 1-3 1-3 1-3 1-3 1-2 1-1 1 0 1 2 1 4 1 8 1 11 1 15 1 15 1 13 1 7 1-1 1-5 1-9 1-11 1-11 1-11 1-9 1-8 1-5 1-3 1-2 1-2 1 0 1-1h39l1 1 1 1 1 3 1 7 1 13 1 19 1 24 1 26 1 20 1 9 1-4 1-11 1-17 1-20 1-19 1-16 1-13 1-10 1-6 1-3 1-2 1 0 1 0 1 1 1 1 1 2 1 1 1 0 1 1 1 0 1 0 1 0 1-1 1-1 1-1 1-1 1-2 1-1 1 0 1-1h18l1 1 1 0 1 0 1 1 1 0 1 1 1 0 1 0 1 0 1 0 1 0 1 0 1-1 1 0 1 0 1-1 1 0 1 0 1 0 1 0 1-1h9" stroke="#D95319" vector-effect="non-scaling-stroke"/>
<path d="M0 0h10l1 1 1 0 1 2 1 1 1 2 1 1 1 1 1 0 1-1 1-1 1-1 1-2 1-1 1-1 1 0 1-1h5l1 1 1 1 1 2 1 3 1 4 1 4 1 4 1 2 1 0 1-2 1-2 1-4 1-3 1-2 1-2 1 0 1 2 1 2 1 3 1 2 1 0 1 0 1-2 1-2 1-3 1-2 1-2 1-1 1-1 1 1 1 3 1 5 1 10 1 15 1 19 1 21 1 18 1 10 1 1 1-6 1-12 1-14 1-16 1-15 1-13 1-10 1-7 1-5 1-3 1-2 1-1 1-1h39l1 1 1 1 1 4 1 8 1 13 1 21 1 27 1 28 1 21 1 9 1-4 1-13 1-19 1-21 1-20 1-18 1-14 1-10 1-6 1-4 1-2 1 0 1 0 1 1 1 1 1 2 1 1 1 1 1 1 1 1 1 0 1 0 1-1 1-1 1-2 1-2 1-1 1-1 1-1 1-1h17l1 1 1 0 1 0 1 1 1 0 1 1 1 0 1 0 1 1 1 0 1-1 1 0 1 0 1 0 1-1 1 0 1 0 1-1 1 0 1 0 1 0 1-1h8" stroke="#EDB120" vector-effect="non-scaling-stroke"/>
<path d="M0 0h10l1 1 1 0 1 1 1 1 1 1 1 1 1 0 1 0 1 0 1-1 1-1 1-1 1 0 1-1 1 0 1-1h6l1 1 1 0 1 1 1 3 1 2 1 4 1 3 1 1 1 0 1-1 1-1 1-3 1-1 1-2 1 1 1 1 1 2 1 2 1 1 1 0 1-2 1-1 1-2 1-3 1-2 1-1 1-1 1 0 1 0 1 2 1 4 1 6 1 11 1 14 1 16 1 14 1 10 1 2 1-4 1-8 1-11 1-12 1-12 1-10 1-8 1-6 1-4 1-3 1-1 1-1 1-1h39l1 1 1 1 1 3 1 7 1 12 1 19 1 24 1 25 1 19 1 8 1-3 1-12 1-16 1-19 1-19 1-16 1-12 1-9 1-6 1-3 1-2 1 0 1 0 1 1 1 1 1 1 1 0 1 0 1 0 1 1 1 0 1-1 1 0 1-1 1-1 1-1 1-1 1 0 1-1h20l1 1 1 0 1 0 1 0 1 1 1 0 1 0 1 0 1 0 1 0 1 0 1 0 1 0 1-1 1 0 1 0 1 0 1 0 1-1h9" stroke="#7E2F8E" vector-effect="non-scaling-stroke"/>
<path d="M0 0h11l1 1 1 0 1 1 1 1 1 1 1 1 1 0 1 0 1 0 1-1 1-1 1-1 1 0 1-1 1 0 1-1h5l1 1 1 1 1 2 1 3 1 4 1 4 1 3 1 1 1-1 1-2 1-2 1-3 1-3 1-2 1-1 1 0 1 0 1 2 1 1 1 0 1 0 1-1 1-1 1-1 1-1 1-1 1-1 1 0 1 0 1 2 1 3 1 6 1 9 1 12 1 12 1 10 1 6 1-1 1-4 1-6 1-9 1-9 1-9 1-8 1-5 1-4 1-3 1-2 1-1 1-1h41l1 1 1 1 1 3 1 7 1 12 1 19 1 23 1 24 1 19 1 8 1-4 1-11 1-16 1-19 1-18 1-16 1-12 1-8 1-6 1-3 1-1 1 0 1 0 1 1 1 1 1 0 1 1 1 0 1 0 1 0 1 0 1-1 1 0 1-1 1-1 1-1 1-1 1 0 1-1h19l1 1 1 0 1 0 1 0 1 1 1 0 1 0 1 0 1 0 1 0 1 0 1 0 1 0 1 0 1-1 1 0 1 0 1 0 1 0 1-1h8" stroke="#77AC30" vector-effect="non-scaling-stroke"/>
<path d="M0 0h10l1 1 1 0 1 1 1 1 1 1 1 0 1 1 1-1 1 0 1-1 1-1 1 0 1-1 1 0 1-1h6l1 1 1 1 1 1 1 3 1 3 1 4 1 3 1 1 1 0 1-1 1-3 1-2 1-3 1-2 1-1 1 0 1 1 1 1 1 1 1 0 1 0 1-1 1-1 1-2 1-1 1-1 1 0 1-1 1 1 1 2 1 4 1 6 1 9 1 10 1 10 1 8 1 3 1-2 1-4 1-7 1-8 1-8 1-7 1-6 1-4 1-3 1-2 1-2 1 0 1-1h41l1 1 1 1 1 3 1 6 1 10 1 14 1 17 1 16 1 10 1 2 1-4 1-10 1-12 1-13 1-12 1-10 1-7 1-5 1-3 1-2 1 0 1 0 1 0 1 1 1 1 1 0 1 1 1 0 1 0 1 0 1 0 1 0 1-1 1-1 1 0 1-1 1-1 1 0 1-1h19l1 1 1 0 1 0 1 0 1 1 1 0 1 0 1 0 1 0 1 0 1 0 1 0 1-1 1 0 1 0 1 0 1 0 1 0 1-1h10" stroke="#4DBEEE" vector-effect="non-scaling-stroke"/>
<path d="M0 0h10l1 1 1 1 1 1 1 1 1 1 1 1 1-1 1 0 1-1 1-1 1-1 1 0 1-1 1 0 1-1h8l1 1 1 1 1 1 1 1 1 1 1 0 1 0 1 0 1-1 1-1 1 0 1 0 1 0 1 1 1 1 1 2 1 2 1 0 1 0 1-1 1-1 1-2 1-1 1-1 1-1 1 0 1 1 1 2 1 5 1 7 1 11 1 13 1 12 1 9 1 4 1-2 1-6 1-8 1-9 1-10 1-9 1-7 1-6 1-3 1-3 1-1 1-1 1-1h40l1 1 1 2 1 3 1 7 1 11 1 16 1 17 1 16 1 10 1 0 1-6 1-10 1-13 1-14 1-12 1-10 1-7 1-5 1-3 1-1 1-1 1 0 1 0 1 0 1 1 1 1 1 1 1 1 1 0 1 0 1 1 1-1 1 0 1-1 1-1 1-1 1-1 1 0 1-1h19l1 1 1 0 1 0 1 0 1 1 1 0 1 0 1 0 1 0 1 0 1 0 1 0 1 0 1 0 1-1 1 0 1 0 1 0 1 0 1-1h10" stroke="#A2142F" vector-effect="non-scaling-stroke"/>
<path d="M0 0h9l1 1 1 0 1 1 1 2 1 2 1 1 1 1 1 0 1-1 1-1 1-1 1-1 1-2 1 0 1-1 1 0 1-1h5l1 1 1 1 1 3 1 4 1 4 1 5 1 4 1 1 1 0 1-3 1-3 1-3 1-3 1-2 1 0 1 1 1 2 1 2 1 0 1 0 1-2 1-1 1-3 1-2 1-2 1-1 1-1 1 0 1 1 1 2 1 6 1 8 1 13 1 16 1 15 1 13 1 6 1-1 1-6 1-10 1-12 1-12 1-11 1-10 1-7 1-5 1-4 1-2 1-1 1 0 1-1h39l1 1 1 1 1 3 1 7 1 12 1 20 1 27 1 29 1 26 1 13 1-2 1-11 1-18 1-22 1-22 1-20 1-15 1-12 1-7 1-5 1-2 1-1 1 0 1 1 1 1 1 1 1 1 1 0 1 1 1 1 1 0 1 0 1 0 1-2 1-1 1-2 1-1 1-1 1 0 1-1h18l1 1 1 0 1 0 1 0 1 1 1 0 1 0 1 0 1 0 1 0 1 0 1 0 1 0 1 0 1-1 1 0 1 0 1 0 1-1h11" stroke="#0072BD" vector-effect="non-scaling-stroke"/>
<path d="M0 0h12l1 1 1 0 1 1 1 0 1 0 1 1 1-1 1 0 1 0 1-1 1 0 1 0 1-1h9l1 1 1 0 1 0 1 1 1 0 1 1 1-1 1 0 1 0 1 0 1-1 1 0 1 1 1 1 1 1 1 2 1 1 1 1 1 0 1 0 1-1 1-2 1-1 1-1 1-1 1 0 1 0 1 1 1 2 1 5 1 7 1 9 1 10 1 10 1 6 1 1 1-3 1-5 1-7 1-8 1-8 1-6 1-6 1-4 1-2 1-2 1-1 1 0 1-1h41l1 1 1 2 1 3 1 4 1 7 1 8 1 8 1 4 1 1 1-3 1-4 1-6 1-6 1-6 1-4 1-4 1-2 1-1 1-1 1 0 1 1 1 0 1 1 1 1 1 0 1 0 1 0 1 0 1 0 1 0 1 0 1-1 1 0 1-1 1-1 1 0 1-1h21l1 1 1 0 1 0 1 0 1 0 1 0 1 0 1 0 1 0 1 0 1 0 1 0 1 0 1 0 1 0 1-1h11" stroke="#D95319" vector-effect="non-scaling-stroke"/>
<path d="M0 0h11l1 1 1 1 1 0 1 1 1 1 1 1 1 0 1-1 1 0 1-1 1-1 1-1 1 0 1 0 1-1h6l1 1 1 0 1 2 1 2 1 3 1 2 1 2 1 1 1 0 1-2 1-1 1-2 1-2 1-1 1 0 1 1 1 1 1 2 1 1 1-1 1 0 1-1 1-2 1-1 1-2 1-1 1-1 1 0 1 1 1 1 1 3 1 4 1 7 1 8 1 9 1 6 1 4 1-1 1-3 1-5 1-7 1-6 1-6 1-5 1-4 1-3 1-2 1-1 1 0 1-1h41l1 1 1 1 1 3 1 6 1 9 1 12 1 14 1 12 1 7 1 0 1-5 1-8 1-10 1-11 1-9 1-8 1-5 1-4 1-2 1-1 1-1 1 0 1 1 1 0 1 1 1 1 1 0 1 0 1 0 1 0 1 1 1 0 1-1 1-1 1-1 1 0 1-1 1 0 1-1h19l1 1 1 0 1 0 1 1 1 0 1 0 1 0 1 1 1-1 1 0 1 0 1 0 1 0 1 0 1-1 1 0 1 0 1 0 1 0 1-1h8" stroke="#EDB120" vector-effect="non-scaling-stroke"/>
<path d="M0 0h10l1 1 1 1 1 1 1 2 1 1 1 1 1 0 1 0 1-1 1-1 1-1 1-1 1-1 1-1 1 0 1-1h5l1 1 1 1 1 2 1 3 1 4 1 5 1 3 1 1 1-1 1-2 1-2 1-3 1-3 1-1 1-1 1 1 1 2 1 3 1 2 1 0 1-1 1-2 1-2 1-2 1-3 1-1 1-2 1 0 1 0 1 2 1 4 1 6 1 10 1 12 1 14 1 11 1 7 1 0 1-4 1-8 1-9 1-10 1-10 1-8 1-7 1-5 1-3 1-2 1-1 1 0 1-1h39l1 1 1 1 1 3 1 6 1 11 1 17 1 21 1 21 1 17 1 5 1-3 1-11 1-14 1-17 1-16 1-14 1-10 1-7 1-5 1-3 1-1 1 0 1 0 1 1 1 2 1 1 1 1 1 1 1 0 1 1 1 0 1 0 1-2 1-1 1-1 1-2 1-1 1-1 1 0 1-1h18l1 1 1 0 1 0 1 0 1 1 1 0 1 0 1 0 1 0 1 0 1 0 1 0 1 0 1 0 1-1 1 0 1 0 1 0 1 0 1-1h10" stroke="#7E2F8E" vector-effect="non-scaling-stroke"/>
<path d="M0 0h10l1 1 1 0 1 2 1 1 1 2 1 1 1 1 1 0 1-1 1-1 1-1 1-2 1-1 1 0 1-1 1 0 1-1h4l1 1 1 1 1 2 1 3 1 4 1 5 1 4 1 3 1 0 1-2 1-3 1-3 1-3 1-3 1-1 1 1 1 2 1 3 1 2 1 1 1 0 1-2 1-2 1-3 1-3 1-2 1-2 1-1 1 0 1 1 1 4 1 6 1 9 1 13 1 16 1 15 1 10 1 4 1-3 1-7 1-10 1-12 1-12 1-10 1-9 1-6 1-5 1-2 1-2 1-1 1-1h40l1 1 1 1 1 2 1 6 1 12 1 18 1 25 1 28 1 26 1 14 1 0 1-9 1-17 1-21 1-22 1-19 1-16 1-11 1-8 1-4 1-2 1-1 1 1 1 1 1 1 1 1 1 1 1 1 1 0 1 0 1 0 1-1 1-1 1-2 1-1 1-2 1-1 1 0 1-1h19l1 1 1 0 1 0 1 1 1 0 1 0 1 0 1 1 1 0 1-1 1 0 1 0 1 0 1 0 1-1 1 0 1 0 1 0 1 0 1-1h9" stroke="#77AC30" vector-effect="non-scaling-stroke"/>
<path d="M0 0h9l1 1 1 0 1 1 1 2 1 1 1 2 1 1 1 0 1-1 1-1 1-1 1-1 1-1 1-1 1-1 1 0 1-1h4l1 1 1 0 1 2 1 2 1 3 1 4 1 3 1 2 1 0 1-1 1-2 1-2 1-2 1-2 1 0 1 1 1 3 1 3 1 3 1 1 1-1 1-2 1-2 1-3 1-3 1-3 1-1 1-1 1 0 1 2 1 6 1 9 1 15 1 20 1 21 1 20 1 12 1 3 1-6 1-11 1-15 1-16 1-16 1-14 1-11 1-9 1-5 1-4 1-2 1-1 1-1h40l1 1 1 1 1 4 1 7 1 14 1 23 1 30 1 33 1 28 1 15 1-2 1-12 1-21 1-24 1-25 1-22 1-18 1-13 1-8 1-5 1-2 1-1 1 1 1 1 1 1 1 1 1 0 1 0 1 0 1 0 1 1 1-1 1 0 1-2 1-1 1-1 1-1 1-1 1 0 1-1h17l1 1 1 0 1 0 1 1 1 0 1 0 1 1 1 0 1 0 1 0 1 0 1 0 1-1 1 0 1 0 1-1 1 0 1 0 1 0 1 0 1-1h10" stroke="#4DBEEE" vector-effect="non-scaling-stroke"/>
<path d="M0 0h9l1 1 1 0 1 1 1 2 1 1 1 2 1 0 1 0 1 0 1-1 1-1 1-1 1-1 1-1 1-1 1 0 1-1h4l1 1 1 1 1 3 1 3 1 5 1 6 1 4 1 2 1 0 1-2 1-3 1-4 1-4 1-3 1-2 1 0 1 1 1 3 1 2 1 2 1 0 1 0 1-2 1-2 1-3 1-2 1-2 1-1 1 0 1 1 1 4 1 8 1 13 1 17 1 20 1 20 1 14 1 5 1-3 1-9 1-13 1-16 1-15 1-14 1-12 1-8 1-6 1-4 1-2 1-2 1 0 1-1h40l1 1 1 1 1 3 1 7 1 12 1 18 1 24 1 26 1 21 1 10 1-3 1-11 1-17 1-19 1-19 1-17 1-14 1-9 1-6 1-3 1-1 1 0 1 1 1 1 1 1 1 1 1 0 1 0 1 0 1 1 1 0 1-1 1-2 1-1 1-2 1-1 1-1 1 0 1-1h17l1 1 1 0 1 0 1 1 1 0 1 0 1 1 1 0 1 1 1 0 1 0 1-1 1 0 1 0 1 0 1-1 1 0 1-1 1 0 1 0 1 0 1-1h9" stroke="#A2142F" vector-effect="non-scaling-stroke"/>
<path d="M0 0h10l1 1 1 0 1 2 1 1 1 2 1 1 1 1 1 0 1-1 1-1 1-1 1-2 1-1 1 0 1-1 1-1h6l1 1 1 1 1 2 1 3 1 3 1 4 1 3 1 1 1-1 1-2 1-2 1-3 1-2 1-1 1 0 1 2 1 2 1 3 1 2 1 0 1-1 1-2 1-3 1-2 1-2 1-2 1-1 1-1 1 1 1 2 1 5 1 9 1 12 1 16 1 17 1 14 1 7 1 0 1-6 1-10 1-12 1-13 1-12 1-10 1-8 1-5 1-4 1-2 1-2 1 0 1-1h39l1 1 1 1 1 4 1 7 1 12 1 18 1 22 1 21 1 15 1 4 1-5 1-11 1-15 1-17 1-16 1-14 1-10 1-7 1-5 1-2 1-1 1 0 1 0 1 1 1 2 1 1 1 1 1 0 1 1 1 0 1 0 1-1 1-1 1-1 1-1 1-2 1-1 1 0 1-1h19l1 1 1 0 1 0 1 1 1 0 1 0 1 1 1 0 1 0 1 0 1-1 1 0 1 0 1 0 1-1 1 0 1 0 1 0 1 0 1-1h9" stroke="#0072BD" vector-effect="non-scaling-stroke"/>
<path d="M0 0h9l1 1 1 1 1 1 1 1 1 2 1 1 1 0 1 0 1-1 1-1 1-1 1-1 1-1 1-1 1 0 1-1h6l1 1 1 1 1 2 1 2 1 3 1 4 1 2 1 1 1-1 1-1 1-2 1-3 1-2 1-1 1-1 1 1 1 2 1 2 1 2 1 1 1 0 1-1 1-2 1-2 1-2 1-2 1-1 1-1 1 1 1 2 1 4 1 6 1 10 1 12 1 13 1 9 1 5 1-1 1-5 1-8 1-9 1-9 1-9 1-7 1-6 1-4 1-3 1-1 1-1 1-1h40l1 1 1 1 1 3 1 6 1 11 1 17 1 21 1 22 1 17 1 7 1-4 1-10 1-14 1-17 1-17 1-14 1-11 1-8 1-5 1-3 1-1 1 0 1 0 1 1 1 2 1 1 1 0 1 0 1 0 1 0 1 1 1 0 1-1 1-1 1-1 1-1 1-1 1-1 1 0 1-1h17l1 1 1 0 1 0 1 0 1 1 1 0 1 0 1 1 1 0 1 0 1 0 1-1 1 0 1 0 1 0 1-1 1 0 1 0 1 0 1 0 1-1h10" stroke="#D95319" vector-effect="non-scaling-stroke"/>
<path d="M0 0h11l1 1 1 0 1 1 1 1 1 1 1 0 1 0 1 0 1-1 1 0 1-1 1-1 1 0 1 0 1-1h6l1 1 1 0 1 1 1 2 1 2 1 1 1 1 1 1 1-1 1-1 1-1 1-1 1-1 1-1 1 0 1 0 1 1 1 1 1 1 1 0 1 0 1-1 1-1 1-1 1-1 1 0 1-1 1 0 1 1 1 3 1 4 1 8 1 10 1 13 1 12 1 9 1 3 1-2 1-5 1-8 1-9 1-10 1-8 1-7 1-6 1-3 1-3 1-1 1-1 1-1h40l1 1 1 2 1 3 1 7 1 11 1 14 1 16 1 13 1 8 1-1 1-6 1-10 1-11 1-12 1-11 1-9 1-6 1-4 1-2 1-1 1-1 1 0 1 1 1 1 1 1 1 1 1 0 1 0 1 0 1 0 1 0 1-1 1-1 1-1 1 0 1-1 1 0 1-1h21l1 1 1 0 1 0 1 0 1 1 1 0 1 0 1 0 1 0 1 0 1 0 1 0 1 0 1-1 1 0 1 0 1 0 1 0 1-1h9" stroke="#EDB120" vector-effect="non-scaling-stroke"/>
<path d="M0 0h9l1 1 1 0 1 1 1 1 1 1 1 1 1 0 1 0 1-1 1 0 1-1 1-1 1-1 1 0 1 0 1-1h6l1 1 1 1 1 1 1 3 1 3 1 2 1 2 1 0 1-1 1-1 1-2 1-2 1-2 1-1 1 0 1 0 1 1 1 1 1 1 1 0 1 0 1-1 1-1 1-1 1-1 1-1 1-1 1 0 1 1 1 1 1 3 1 4 1 7 1 8 1 7 1 6 1 3 1-1 1-3 1-5 1-6 1-6 1-6 1-4 1-4 1-2 1-2 1-1 1 0 1-1h41l1 1 1 2 1 5 1 8 1 13 1 17 1 19 1 16 1 8 1-2 1-7 1-12 1-14 1-14 1-12 1-10 1-7 1-5 1-3 1-1 1 0 1 0 1 1 1 1 1 1 1 0 1 0 1-1 1 0 1 0 1 0 1 0 1-1 1 0 1-1 1-1 1 0 1-1h19l1 1 1 0 1 0 1 0 1 1 1 0 1 0 1 0 1 0 1 0 1 0 1 0 1 0 1-1 1 0 1 0 1 0 1 0 1-1h11" stroke="#7E2F8E" vector-effect="non-scaling-stroke"/>
<path d="M0 0h11l1 1 1 1 1 1 1 1 1 0 1 1 1 0 1-1 1 0 1-1 1-1 1 0 1-1 1 0 1-1h5l1 1 1 1 1 1 1 2 1 4 1 3 1 3 1 1 1 0 1-1 1-2 1-3 1-2 1-2 1-1 1 0 1 1 1 2 1 2 1 1 1 0 1 0 1-2 1-1 1-2 1-2 1-1 1-1 1 0 1 1 1 2 1 4 1 7 1 10 1 11 1 10 1 7 1 2 1-2 1-5 1-8 1-8 1-8 1-7 1-6 1-5 1-3 1-2 1-1 1 0 1-1h41l1 1 1 2 1 5 1 8 1 12 1 16 1 18 1 15 1 8 1-2 1-7 1-11 1-14 1-13 1-12 1-9 1-7 1-4 1-3 1-1 1 0 1 0 1 1 1 1 1 1 1 0 1 1 1 0 1 1 1 0 1-1 1-1 1-1 1-1 1-1 1-1 1 0 1-1h18l1 1 1 0 1 0 1 0 1 1 1 0 1 0 1 0 1 0 1 0 1 0 1 0 1 0 1 0 1-1 1 0 1 0 1 0 1 0 1-1h10" stroke="#77AC30" vector-effect="non-scaling-stroke"/>
<path d="M0 0h11l1 1 1 0 1 1 1 1 1 0 1 1 1 0 1-1 1 0 1-1 1 0 1-1 1 0 1-1h7l1 1 1 0 1 1 1 1 1 2 1 1 1 1 1 0 1-1 1-1 1-1 1-1 1 0 1 0 1 0 1 2 1 2 1 2 1 1 1 1 1-1 1-1 1-1 1-2 1-2 1-1 1-1 1 0 1 1 1 2 1 4 1 8 1 10 1 13 1 12 1 10 1 4 1-2 1-6 1-8 1-9 1-10 1-9 1-7 1-5 1-4 1-3 1-1 1-1 1-1h40l1 1 1 1 1 2 1 5 1 9 1 14 1 17 1 18 1 14 1 6 1-3 1-8 1-12 1-14 1-13 1-12 1-9 1-7 1-4 1-2 1-1 1-1 1 1 1 0 1 1 1 1 1 0 1 0 1 0 1 0 1 0 1 0 1-1 1 0 1-1 1-1 1 0 1-1h20l1 1 1 0 1 0 1 0 1 1 1 0 1 0 1 0 1 0 1 0 1 0 1 0 1-1 1 0 1 0 1 0 1 0 1 0 1-1h10" stroke="#4DBEEE" vector-effect="non-scaling-stroke"/>
<path d="M0 0h9l1 1 1 0 1 2 1 1 1 2 1 1 1 1 1-1 1 0 1-1 1-2 1-1 1-1 1-1 1 0 1-1h6l1 1 1 1 1 2 1 3 1 4 1 6 1 4 1 3 1 1 1-2 1-3 1-3 1-4 1-2 1-1 1 0 1 2 1 2 1 2 1 0 1-1 1-2 1-2 1-3 1-2 1-2 1-1 1 0 1 3 1 5 1 10 1 15 1 20 1 23 1 21 1 13 1 3 1-5 1-12 1-15 1-17 1-17 1-15 1-12 1-9 1-6 1-3 1-3 1-1 1 0 1-1h39l1 1 1 1 1 2 1 6 1 12 1 18 1 27 1 31 1 29 1 18 1 2 1-9 1-18 1-22 1-24 1-22 1-18 1-13 1-9 1-5 1-2 1-1 1 0 1 2 1 1 1 1 1 0 1 0 1 0 1 0 1 1 1 0 1 0 1-1 1-2 1-1 1-2 1-1 1-1 1-1h17l1 1 1 0 1 0 1 1 1 0 1 1 1 0 1 0 1 1 1 0 1 0 1-1 1 0 1 0 1-1 1 0 1 0 1-1 1 0 1 0 1 0 1-1h9" stroke="#A2142F" vector-effect="non-scaling-stroke"/>
<path d="M0 0h9l1 1 1 1 1 1 1 1 1 0 1 1 1-1 1 0 1-1 1 0 1-1 1-1 1 0 1-1h8l1 1 1 0 1 2 1 1 1 3 1 2 1 2 1 1 1-1 1-1 1-2 1-1 1-2 1-1 1 0 1 1 1 1 1 1 1 1 1 0 1-1 1-1 1-1 1-1 1-1 1-1 1 0 1 0 1 1 1 3 1 5 1 7 1 8 1 9 1 6 1 3 1-1 1-3 1-5 1-7 1-6 1-6 1-5 1-4 1-3 1-2 1-1 1 0 1-1h42l1 1 1 1 1 2 1 4 1 6 1 9 1 10 1 8 1 4 1 0 1-4 1-6 1-7 1-7 1-7 1-5 1-3 1-3 1-1 1-1 1 0 1 1 1 0 1 0 1 1 1 0 1 0 1 0 1 1 1 0 1 0 1-1 1 0 1-1 1-1 1 0 1-1h20l1 1 1 0 1 0 1 0 1 1 1 0 1 0 1 0 1 0 1 0 1 0 1 0 1-1 1 0 1 0 1 0 1 0 1 0 1-1h11" stroke="#0072BD" vector-effect="non-scaling-stroke"/>
<path d="M0 0h12l1 1 1 0 1 1 1 0 1 1 1 0 1 0 1 0 1-1 1 0 1-1 1 0 1 0 1-1h6l1 1 1 0 1 1 1 2 1 1 1 1 1 1 1-1 1 0 1-1 1-1 1-1 1-1 1 0 1 1 1 1 1 2 1 2 1 2 1 1 1 0 1-1 1-2 1-1 1-2 1-2 1-1 1-1 1 0 1 1 1 1 1 3 1 4 1 5 1 6 1 6 1 3 1 0 1-1 1-3 1-5 1-4 1-4 1-4 1-3 1-2 1-2 1-1 1 0 1-1h41l1 1 1 1 1 2 1 4 1 7 1 10 1 11 1 10 1 6 1 0 1-3 1-7 1-8 1-8 1-8 1-6 1-5 1-3 1-2 1-1 1 0 1 0 1 1 1 1 1 0 1 1 1 0 1 0 1 0 1 0 1 0 1 0 1-1 1 0 1-1 1-1 1 0 1-1h22l1 1 1 0 1 0 1 0 1 0 1 0 1 0 1 0 1 0 1 0 1 0 1 0 1 0 1 0 1-1h11" stroke="#D95319" vector-effect="non-scaling-stroke"/>
<path d="M0 0h43l1 1 1 0 1 3 1 3 1 6 1 6 1 5 1 1 1-1 1-3 1-4 1-5 1-4 1-3 1-2 1-1 1 0 1 1 1 5 1 11 1 19 1 29 1 37 1 35 1 25 1 5 1-10 1-20 1-27 1-28 1-26 1-21 1-15 1-10 1-6 1-3 1-2 1 0 1-1h41l1 1 1 2 1 4 1 8 1 15 1 20 1 21 1 14 1 3 1-6 1-13 1-16 1-15 1-14 1-10 1-6 1-4 1-2 1-1 1-1h66" stroke="#0072BD" vector-effect="non-scaling-stroke"/>
<path d="M0 0h60l1 1 1 2 1 4 1 7 1 11 1 14 1 13 1 9 1 2 1-4 1-7 1-10 1-11 1-9 1-8 1-6 1-4 1-2 1-1 1-1h41l1 1 1 1 1 4 1 9 1 19 1 34 1 52 1 63 1 62 1 42 1 8 1-18 1-37 1-47 1-49 1-45 1-36 1-26 1-16 1-11 1-5 1-3 1-1 1-1h64" stroke="#7E2F8E" vector-effect="non-scaling-stroke"/>
<path d="M0 0h60l1 1 1 3 1 4 1 9 1 13 1 16 1 16 1 11 1 3 1-5 1-9 1-12 1-13 1-11 1-9 1-7 1-5 1-2 1-2 1 0 1-1h41l1 1 1 2 1 6 1 11 1 21 1 31 1 38 1 37 1 25 1 4 1-10 1-22 1-28 1-30 1-27 1-21 1-16 1-10 1-6 1-3 1-2 1 0 1-1h64" stroke="#4DBEEE" vector-effect="non-scaling-stroke"/>
</g></g>
<path d="M398.9 322.50H660.7M398.9 323.50H660.7" stroke="#c4e4f0" stroke-width=".8"/>
<path d="M398.9 323.50H660.7" stroke="#6d9aa6" stroke-width=".8"/>
<rect x="398.9" y="247.5" width="261.8" height="81" fill="none" stroke="#6e6e6e"/>
<text x="399.3" y="342.3" font-size="12.8" text-anchor="middle">9.8</text>
<text x="432" y="342.3" font-size="12.8" text-anchor="middle">9.9</text>
<text x="464.7" y="342.3" font-size="12.8" text-anchor="middle">10</text>
<text x="497.5" y="342.3" font-size="12.8" text-anchor="middle">10.1</text>
<text x="530.2" y="342.3" font-size="12.8" text-anchor="middle">10.2</text>
<text x="562.9" y="342.3" font-size="12.8" text-anchor="middle">10.3</text>
<text x="595.7" y="342.3" font-size="12.8" text-anchor="middle">10.4</text>
<text x="628.4" y="342.3" font-size="12.8" text-anchor="middle">10.5</text>
<text x="661.1" y="342.3" font-size="12.8" text-anchor="middle">10.6</text>
<text x="390.8" y="326.8" font-size="12.2" text-anchor="middle">0</text>
<text x="390.8" y="301.5" font-size="12.2" text-anchor="middle">5</text>
<text x="390.8" y="276.2" font-size="12.2" text-anchor="middle">10</text>
<text x="390.8" y="250.9" font-size="12.2" text-anchor="middle">15</text>
<path d="M398.9 328.5v-3M398.9 247.5v3M431.6 328.5v-3M431.6 247.5v3M464.3 328.5v-3M464.3 247.5v3M497.1 328.5v-3M497.1 247.5v3M529.8 328.5v-3M529.8 247.5v3M562.5 328.5v-3M562.5 247.5v3M595.3 328.5v-3M595.3 247.5v3M628 328.5v-3M628 247.5v3M660.7 328.5v-3M660.7 247.5v3M398.9 323.4h3M660.7 323.4h-3M398.9 298.1h3M660.7 298.1h-3M398.9 272.8h3M660.7 272.8h-3M398.9 247.5h3M660.7 247.5h-3" stroke="#6e6e6e" stroke-width=".9"/>
<clipPath id="cb1"><rect x="59.5" y="360" width="262" height="80.5"/></clipPath>
<g clip-path="url(#cb1)"><g transform="translate(59.5 440.50) scale(1.2476 -.2)" fill="none" stroke-width="0.7" stroke-linejoin="round">
<path d="M0 0h10l1 1 1 3 1 7 1 10 1 6 1-2 1-7 1-8 1-4 1 0 1 1 1-1 1-3 1-2 1 0 1 0 1 2 1 8 1 16 1 24 1 24 1 9 1-9 1-20 1-21 1-16 1-8 1 3 1 13 1 21 1 19 1 5 1-9 1-17 1-18 1-14 1-8 1-3 1-2h5l1 3 1 7 1 22 1 43 1 61 1 53 1 14 1-28 1-50 1-52 1-38 1-21 1-9 1-4 1-1h2l1 1 1 3 1 9 1 20 1 25 1 11 1-10 1-21 1-19 1-12 1-5 1-2h2l1 2 1 8 1 18 1 37 1 49 1 40 1 6 1-25 1-41 1-41 1-28 1-15 1-7 1-1 1 1 1 4 1 8 1 13 1 17 1 17 1 13 1 2 1-6 1-12 1-13 1-7 1 10 1 35 1 52 1 45 1 7 1-29 1-48 1-47 1-34 1-18 1-8 1-3 1-1h5l1 2 1 3 1 4 1 6 1 4 1 1 1 1 1 10 1 28 1 45 1 45 1 16 1-18 1-39 1-43 1-32 1-20 1-8 1-4 1-1 1 1 1 2 1 7 1 16 1 30 1 34 1 23 1-4 1-22 1-30 1-26 1-17 1-9 1-3 1-2h7l1 1 1 3 1 3 1 4 1 2 1-1 1-1 1 0 1 1 1 1 1-1 1-3 1-3 1-3 1-2 1 0 1-1h1l1 1 1 3 1 7 1 9 1 10 1 3 1-3 1-8 1-9 1-6 1-4 1-1 1 0 1 3 1 3 1 2 1 0 1-2 1-2 1-3 1-2" stroke="#0072BD" vector-effect="non-scaling-stroke"/>
<path d="M0 0h11l1 1 1 4 1 9 1 13 1 10 1-1 1-10 1-10 1-4 1 3 1 3 1-3 1-6 1-5 1-3 1-1h3l1 2 1 6 1 16 1 30 1 42 1 35 1 7 1-21 1-35 1-35 1-25 1-13 1-4 1 3 1 14 1 26 1 34 1 25 1 1 1-18 1-29 1-27 1-18 1-10 1-4 1-2h2l1 2 1 5 1 17 1 36 1 57 1 59 1 26 1-18 1-46 1-53 1-42 1-25 1-12 1-4 1-2h2l1 2 1 8 1 21 1 36 1 34 1 4 1-25 1-33 1-26 1-14 1-5 1-2h4l1 1 1 4 1 13 1 32 1 55 1 65 1 41 1-7 1-41 1-55 1-44 1-22 1 1 1 19 1 28 1 28 1 15 1-2 1-16 1-24 1-27 1-23 1-18 1-11 1-3 1 7 1 25 1 50 1 68 1 53 1 7 1-36 1-56 1-55 1-38 1-21 1-9 1-3 1 0 1 2 1 7 1 12 1 17 1 13 1 3 1-9 1-14 1-13 1-10 1-5 1 1 1 10 1 24 1 39 1 44 1 25 1-9 1-31 1-39 1-32 1-21 1-10 1-3 1-2 1 1 1 2 1 8 1 23 1 46 1 64 1 55 1 12 1-30 1-53 1-54 1-38 1-22 1-9 1-4 1-1h1l1 1 1 3 1 4 1 5 1 4 1 0 1-1 1-1 1 2 1 2 1-1 1-3 1-5 1-4 1-3 1-2 1-1h1l1 1 1 2 1 6 1 13 1 18 1 16 1 4 1-8 1-15 1-15 1-11 1-6 1-2 1 1 1 3 1 4 1 1 1-1 1-3 1-3" stroke="#D95319" vector-effect="non-scaling-stroke"/>
<path d="M0 0h10l1 1 1 2 1 7 1 14 1 13 1 3 1-7 1-9 1-3 1 1 1-2 1-7 1-7 1-4 1-1 1 1 1 4 1 14 1 30 1 45 1 44 1 18 1-16 1-37 1-40 1-31 1-14 1 4 1 19 1 28 1 23 1 2 1-16 1-25 1-23 1-17 1-9 1-3 1-2h5l1 2 1 7 1 20 1 45 1 68 1 68 1 28 1-23 1-55 1-62 1-49 1-29 1-13 1-5 1-2h3l1 2 1 6 1 19 1 30 1 27 1 1 1-20 1-28 1-21 1-11 1-4 1-1h1l1 2 1 8 1 22 1 44 1 66 1 60 1 19 1-27 1-54 1-56 1-43 1-24 1-11 1-4 1 1 1 3 1 9 1 16 1 23 1 28 1 25 1 14 1-3 1-13 1-19 1-12 1 10 1 42 1 65 1 50 1 0 1-42 1-64 1-60 1-40 1-22 1-9 1-3 1-1h4l1 2 1 4 1 9 1 14 1 14 1 6 1-3 1-5 1 6 1 31 1 55 1 57 1 22 1-22 1-49 1-55 1-43 1-25 1-12 1-4 1-1 1 0 1 4 1 14 1 35 1 63 1 75 1 51 1-4 1-46 1-65 1-58 1-39 1-19 1-8 1-3 1-1h6l1 2 1 2 1 4 1 5 1 2 1 0 1-1 1 0 1 1 1 2 1-1 1-3 1-4 1-4 1-3 1-1 1-1h1l1 1 1 2 1 7 1 12 1 18 1 14 1 3 1-8 1-14 1-15 1-10 1-6 1-1 1 2 1 4 1 3 1 2 1-2 1-3 1-3 1-3" stroke="#EDB120" vector-effect="non-scaling-stroke"/>
<path d="M0 0h11l1 2 1 4 1 7 1 6 1 0 1-5 1-5 1-1 1 1 1 0 1-2 1-3 1-3 1 0 1 0 1 4 1 11 1 24 1 37 1 37 1 15 1-13 1-30 1-33 1-26 1-13 1 0 1 13 1 25 1 26 1 12 1-7 1-20 1-24 1-19 1-12 1-5 1-2 1-1h4l1 1 1 5 1 14 1 34 1 57 1 64 1 37 1-11 1-44 1-56 1-48 1-30 1-15 1-6 1-1 1-1h2l1 1 1 5 1 14 1 21 1 18 1-1 1-14 1-20 1-14 1-7 1-2 1-1h1l1 1 1 3 1 12 1 29 1 52 1 64 1 42 1-3 1-38 1-55 1-48 1-33 1-16 1-7 1-1 1 1 1 4 1 8 1 12 1 16 1 15 1 10 1 1 1-7 1-10 1-9 1 4 1 27 1 52 1 58 1 27 1-17 1-48 1-55 1-44 1-27 1-13 1-5 1-2h5l1 1 1 3 1 6 1 10 1 9 1 4 1-1 1 2 1 14 1 36 1 51 1 41 1 2 1-30 1-47 1-44 1-31 1-16 1-7 1-2 1 0 1 2 1 10 1 23 1 44 1 55 1 40 1 1 1-32 1-47 1-43 1-29 1-16 1-6 1-2 1-1h7l1 2 1 2 1 4 1 4 1 3 1 0 1-1 1 0 1 0 1 0 1-2 1-3 1-4 1-2 1-2 1-1h2l1 1 1 3 1 7 1 10 1 11 1 5 1-3 1-8 1-10 1-8 1-4 1-2 1-1 1 2 1 2 1 2 1 1 1-1 1-1 1-3" stroke="#7E2F8E" vector-effect="non-scaling-stroke"/>
<path d="M0 0h10l1 1 1 2 1 5 1 6 1 4 1-1 1-5 1-4 1 0 1 1 1-1 1-3 1-2 1-2 1-1h4l1 1 1 2 1 7 1 15 1 27 1 28 1 16 1-5 1-21 1-25 1-22 1-13 1-6 1-1 1 4 1 11 1 20 1 24 1 16 1-2 1-15 1-21 1-18 1-12 1-6 1-3 1-1h3l1 1 1 2 1 8 1 19 1 32 1 37 1 22 1-6 1-25 1-32 1-27 1-17 1-9 1-4 1-1h3l1 1 1 2 1 7 1 13 1 13 1 3 1-7 1-13 1-10 1-6 1-2 1-1h1l1 1 1 1 1 5 1 11 1 16 1 15 1 5 1-6 1-12 1-14 1-8 1-3 1 5 1 11 1 13 1 13 1 7 1-1 1-7 1-11 1-12 1-11 1-7 1-6 1-2 1 0 1 7 1 17 1 34 1 45 1 35 1 3 1-23 1-38 1-36 1-25 1-14 1-5 1-2 1 2 1 4 1 6 1 7 1 3 1-2 1-5 1-6 1-5 1-3 1 0 1 2 1 10 1 20 1 33 1 33 1 14 1-10 1-26 1-30 1-24 1-14 1-6 1-3 1-1h2l1 2 1 6 1 14 1 26 1 32 1 21 1-1 1-19 1-27 1-24 1-17 1-8 1-3 1-2h1l1 1 1 1 1 2 1 2 1 1 1 0 1-1 1 1 1 2 1 2 1 1 1-2 1-3 1-3 1-2 1-1 1-1 1 1 1 1 1 3 1 7 1 10 1 8 1 2 1-4 1-8 1-9 1-5 1-4 1-1 1 1 1 2 1 3 1 3 1 1 1-1 1-3 1-3 1-2" stroke="#77AC30" vector-effect="non-scaling-stroke"/>
<path d="M0 0h10l1 1 1 4 1 10 1 16 1 13 1-2 1-11 1-12 1-5 1 1 1 1 1-4 1-5 1-4 1-2 1 0 1 1 1 7 1 17 1 32 1 41 1 31 1 2 1-23 1-34 1-32 1-20 1-2 1 15 1 30 1 31 1 13 1-11 1-25 1-29 1-22 1-13 1-7 1-2 1-1h4l1 1 1 3 1 11 1 29 1 58 1 77 1 62 1 10 1-39 1-65 1-63 1-44 1-25 1-10 1-4 1-1h2l1 2 1 9 1 23 1 40 1 35 1 2 1-26 1-36 1-28 1-14 1-5 1-2h1l1 1 1 5 1 15 1 40 1 75 1 95 1 71 1 3 1-53 1-81 1-75 1-52 1-27 1-11 1-2 1 3 1 8 1 14 1 21 1 24 1 20 1 9 1-4 1-14 1-18 1-15 1 0 1 23 1 49 1 54 1 24 1-18 1-46 1-53 1-42 1-25 1-12 1-4 1-2h4l1 1 1 2 1 6 1 11 1 14 1 10 1 0 1-4 1 2 1 22 1 49 1 63 1 40 1-7 1-43 1-57 1-50 1-33 1-17 1-6 1-2 1 0 1 5 1 15 1 39 1 70 1 86 1 59 1-3 1-51 1-74 1-66 1-44 1-23 1-10 1-3 1-1h6l1 1 1 2 1 4 1 5 1 4 1 1 1-2 1-1 1 1 1 2 1 1 1-2 1-4 1-5 1-3 1-2 1-1 1-1 1 1 1 1 1 5 1 10 1 14 1 14 1 5 1-6 1-12 1-13 1-9 1-6 1-1 1 1 1 3 1 3 1 2 1-1 1-3 1-3 1-2" stroke="#4DBEEE" vector-effect="non-scaling-stroke"/>
<path d="M0 0h10l1 1 1 2 1 8 1 14 1 14 1 4 1-8 1-12 1-8 1 1 1 1 1-2 1-6 1-5 1-3 1 0 1 2 1 7 1 18 1 35 1 42 1 32 1 0 1-25 1-36 1-33 1-21 1-5 1 13 1 30 1 36 1 24 1-4 1-23 1-32 1-28 1-18 1-10 1-3 1-2h4l1 1 1 3 1 10 1 27 1 47 1 60 1 42 1-1 1-35 1-51 1-46 1-31 1-16 1-7 1-2 1-1h2l1 2 1 8 1 21 1 33 1 26 1-2 1-23 1-29 1-21 1-10 1-4 1-1h1l1 1 1 4 1 12 1 32 1 60 1 76 1 55 1 2 1-43 1-64 1-60 1-41 1-21 1-9 1-2 1 0 1 2 1 5 1 8 1 12 1 12 1 9 1 3 1-3 1-8 1-7 1 0 1 17 1 39 1 51 1 34 1-4 1-34 1-47 1-41 1-28 1-14 1-5 1-2 1-1h4l1 1 1 1 1 5 1 8 1 9 1 7 1 1 1 0 1 10 1 29 1 48 1 45 1 13 1-23 1-44 1-45 1-33 1-19 1-9 1-3 1 0 1 2 1 9 1 24 1 46 1 64 1 53 1 9 1-31 1-53 1-53 1-37 1-21 1-9 1-3 1-1h7l1 1 1 3 1 3 1 4 1 2 1 1 1-1 1 1 1 1 1 0 1-3 1-3 1-4 1-2 1-2 1-1h2l1 1 1 4 1 7 1 10 1 11 1 5 1-3 1-9 1-10 1-8 1-5 1-1 1 0 1 2 1 3 1 2 1 1 1-1 1-2 1-3" stroke="#A2142F" vector-effect="non-scaling-stroke"/>
<path d="M0 0h11l1 1 1 3 1 7 1 11 1 9 1-1 1-8 1-7 1-2 1 4 1 0 1-4 1-6 1-4 1-2 1 2 1 9 1 21 1 41 1 51 1 38 1 1 1-29 1-43 1-41 1-26 1-10 1 6 1 24 1 36 1 32 1 9 1-15 1-31 1-31 1-23 1-13 1-6 1-2 1-1h3l1 1 1 3 1 11 1 29 1 54 1 69 1 51 1 2 1-38 1-59 1-54 1-37 1-20 1-8 1-3 1-1h2l1 1 1 3 1 12 1 29 1 41 1 26 1-8 1-31 1-35 1-23 1-10 1-4 1-1 1 1 1 3 1 10 1 29 1 54 1 72 1 56 1 7 1-37 1-61 1-58 1-40 1-22 1-9 1-3 1 1 1 4 1 8 1 13 1 18 1 19 1 14 1 4 1-6 1-12 1-14 1-4 1 16 1 48 1 71 1 60 1 8 1-39 1-64 1-63 1-44 1-25 1-10 1-4 1-1h4l1 1 1 4 1 8 1 13 1 13 1 7 1-2 1-8 1-4 1 14 1 39 1 59 1 50 1 10 1-31 1-52 1-51 1-37 1-20 1-9 1-2 1 1 1 10 1 25 1 49 1 68 1 56 1 11 1-33 1-57 1-56 1-40 1-22 1-9 1-4 1-1h7l1 2 1 2 1 5 1 6 1 3 1 0 1-1 1-1 1 0 1 0 1-2 1-3 1-4 1-3 1-2 1-1 1-1h1l1 1 1 2 1 4 1 10 1 13 1 10 1 2 1-7 1-11 1-10 1-7 1-3 1 0 1 3 1 5 1 4 1 0 1-2 1-4 1-5" stroke="#0072BD" vector-effect="non-scaling-stroke"/>
<path d="M0 0h10l1 2 1 5 1 10 1 12 1 5 1-4 1-10 1-7 1-1 1 5 1 1 1-5 1-6 1-4 1-2 1 1 1 5 1 15 1 33 1 51 1 49 1 20 1-17 1-41 1-46 1-34 1-17 1 2 1 19 1 30 1 25 1 5 1-15 1-25 1-26 1-18 1-10 1-5 1-1 1-1h4l1 3 1 8 1 25 1 51 1 77 1 73 1 26 1-29 1-63 1-68 1-52 1-30 1-14 1-5 1-2h3l1 2 1 6 1 18 1 32 1 30 1 5 1-21 1-30 1-23 1-13 1-4 1-2h1l1 2 1 7 1 20 1 41 1 61 1 58 1 20 1-24 1-50 1-54 1-41 1-24 1-10 1-3 1 1 1 5 1 10 1 18 1 26 1 28 1 22 1 8 1-6 1-17 1-18 1-5 1 26 1 65 1 85 1 55 1-10 1-61 1-81 1-71 1-46 1-23 1-10 1-3 1-1h4l1 1 1 3 1 8 1 13 1 16 1 11 1 0 1-6 1 1 1 23 1 52 1 64 1 39 1-10 1-46 1-60 1-51 1-33 1-16 1-6 1-2 1 1 1 5 1 18 1 40 1 68 1 74 1 40 1-15 1-52 1-66 1-54 1-34 1-17 1-6 1-2 1-1h6l1 2 1 3 1 4 1 6 1 3 1 0 1-2 1-1 1 1 1 2 1 1 1-3 1-5 1-4 1-4 1-2 1-1h1l1 1 1 2 1 6 1 12 1 15 1 14 1 2 1-8 1-13 1-13 1-9 1-5 1-1 1 2 1 5 1 5 1 2 1-1 1-4 1-5 1-3" stroke="#D95319" vector-effect="non-scaling-stroke"/>
<path d="M0 0h11l1 2 1 4 1 10 1 11 1 4 1-5 1-9 1-7 1-1 1 1 1-1 1-2 1-4 1-2 1 0 1 0 1 5 1 10 1 21 1 28 1 22 1 3 1-14 1-23 1-23 1-14 1-4 1 9 1 20 1 26 1 17 1-1 1-17 1-22 1-20 1-13 1-7 1-3 1-1h4l1 1 1 5 1 15 1 34 1 58 1 64 1 37 1-12 1-45 1-56 1-48 1-30 1-15 1-6 1-1 1-1h3l1 2 1 7 1 14 1 20 1 10 1-6 1-15 1-16 1-10 1-4 1-2h1l1 1 1 2 1 8 1 21 1 40 1 53 1 41 1 4 1-28 1-44 1-43 1-29 1-16 1-7 1-1 1 1 1 3 1 6 1 11 1 13 1 13 1 8 1 1 1-6 1-9 1-7 1 1 1 19 1 41 1 47 1 26 1-10 1-37 1-44 1-38 1-23 1-12 1-4 1-2h5l1 1 1 3 1 5 1 6 1 6 1 1 1-3 1-1 1 7 1 23 1 41 1 45 1 21 1-12 1-35 1-41 1-32 1-20 1-10 1-3 1-1 1 3 1 10 1 24 1 43 1 51 1 34 1-3 1-32 1-45 1-39 1-26 1-13 1-6 1-1 1-1h7l1 1 1 2 1 3 1 3 1 2 1-1 1-1 1 0 1-1 1 0 1-1 1-2 1-2 1-1 1-1 1-1h2l1 1 1 2 1 5 1 8 1 9 1 5 1-2 1-7 1-8 1-6 1-4 1-2 1 0 1 1 1 2 1 2 1 0 1-1 1-1 1-2" stroke="#EDB120" vector-effect="non-scaling-stroke"/>
<path d="M0 0h11l1 2 1 4 1 10 1 14 1 8 1-4 1-10 1-7 1 0 1 3 1-3 1-6 1-6 1-3 1-1 1 1 1 5 1 14 1 28 1 39 1 33 1 7 1-19 1-32 1-32 1-21 1-6 1 10 1 23 1 28 1 15 1-6 1-20 1-25 1-20 1-13 1-7 1-2 1-1h4l1 1 1 2 1 8 1 22 1 45 1 62 1 52 1 11 1-29 1-51 1-52 1-37 1-21 1-9 1-3 1-1h2l1 1 1 6 1 16 1 31 1 32 1 9 1-18 1-30 1-25 1-14 1-6 1-2h2l1 1 1 5 1 16 1 33 1 54 1 55 1 26 1-16 1-42 1-50 1-40 1-24 1-11 1-4 1 2 1 6 1 12 1 21 1 26 1 28 1 19 1 3 1-10 1-19 1-21 1-13 1 10 1 41 1 66 1 56 1 10 1-37 1-61 1-60 1-43 1-24 1-10 1-4 1-1h4l1 1 1 4 1 8 1 14 1 17 1 11 1 0 1-4 1 5 1 28 1 53 1 52 1 18 1-24 1-50 1-53 1-41 1-23 1-11 1-3 1-1 1 1 1 5 1 17 1 41 1 68 1 76 1 43 1-13 1-53 1-67 1-56 1-36 1-17 1-7 1-2 1-1h5l1 1 1 1 1 3 1 5 1 5 1 2 1 0 1-2 1 1 1 1 1 1 1-1 1-4 1-5 1-4 1-2 1-1 1-1h1l1 1 1 2 1 6 1 11 1 13 1 9 1 0 1-7 1-12 1-10 1-7 1-3 1 0 1 3 1 5 1 3 1 1 1-2 1-4 1-4" stroke="#7E2F8E" vector-effect="non-scaling-stroke"/>
<path d="M0 0h9l1 1 1 2 1 8 1 13 1 12 1 1 1-8 1-10 1-4 1 3 1 2 1-4 1-6 1-6 1-3 1 0 1 3 1 11 1 27 1 47 1 57 1 37 1-4 1-36 1-48 1-42 1-22 1 1 1 25 1 41 1 35 1 8 1-21 1-35 1-36 1-25 1-15 1-6 1-2 1-1h3l1 1 1 2 1 10 1 25 1 51 1 70 1 59 1 12 1-34 1-58 1-58 1-42 1-23 1-10 1-4 1-1h3l1 2 1 7 1 19 1 32 1 29 1 3 1-22 1-29 1-23 1-12 1-5 1-1h1l1 1 1 6 1 15 1 37 1 59 1 65 1 35 1-14 1-47 1-58 1-47 1-30 1-14 1-5 1 0 1 3 1 7 1 13 1 20 1 23 1 20 1 11 1-3 1-12 1-16 1-12 1 6 1 38 1 71 1 76 1 32 1-26 1-65 1-72 1-58 1-34 1-17 1-6 1-1 1-1h3l1 1 1 2 1 6 1 12 1 15 1 11 1 2 1-4 1-1 1 19 1 46 1 61 1 42 1-4 1-40 1-57 1-50 1-34 1-17 1-7 1-2 1 0 1 4 1 14 1 35 1 65 1 80 1 58 1-1 1-47 1-68 1-63 1-42 1-23 1-9 1-3 1-1h6l1 2 1 3 1 5 1 6 1 3 1 0 1-3 1-2 1-1 1 1 1 0 1-2 1-3 1-3 1-3 1-2 1-1h1l1 1 1 1 1 6 1 10 1 15 1 12 1 4 1-7 1-12 1-12 1-9 1-5 1-1 1 2 1 5 1 5 1 3 1-1 1-4 1-5 1-4 1-2" stroke="#77AC30" vector-effect="non-scaling-stroke"/>
<path d="M0 0h12l1 2 1 6 1 14 1 19 1 11 1-5 1-12 1-10 1-2 1-1 1-5 1-7 1-6 1-3 1 0 1 1 1 7 1 18 1 37 1 54 1 47 1 13 1-23 1-44 1-45 1-29 1-7 1 18 1 38 1 40 1 17 1-14 1-33 1-37 1-29 1-18 1-8 1-3 1-1h4l1 1 1 3 1 11 1 30 1 61 1 84 1 72 1 16 1-40 1-70 1-70 1-51 1-29 1-12 1-4 1-2h2l1 3 1 10 1 28 1 44 1 36 1-2 1-31 1-39 1-28 1-14 1-5 1-2h1l1 2 1 6 1 19 1 46 1 77 1 86 1 49 1-14 1-60 1-75 1-64 1-41 1-20 1-7 1-2 1 2 1 6 1 12 1 18 1 24 1 23 1 15 1 1 1-9 1-15 1-11 1 8 1 43 1 75 1 72 1 21 1-36 1-69 1-74 1-55 1-32 1-14 1-5 1-2h4l1 1 1 2 1 6 1 11 1 15 1 11 1 1 1-4 1-2 1 16 1 42 1 59 1 44 1 1 1-37 1-54 1-50 1-33 1-18 1-8 1-2 1 0 1 4 1 14 1 36 1 69 1 91 1 71 1 8 1-49 1-76 1-73 1-51 1-28 1-12 1-4 1-1h6l1 1 1 2 1 5 1 6 1 5 1 1 1-1 1-3 1 0 1 0 1-1 1-3 1-3 1-4 1-2 1-2 1-1h2l1 1 1 3 1 8 1 14 1 18 1 11 1-1 1-10 1-15 1-13 1-8 1-4 1 0 1 4 1 5 1 3 1 0 1-4 1-4" stroke="#4DBEEE" vector-effect="non-scaling-stroke"/>
<path d="M0 0h10l1 1 1 1 1 5 1 6 1 4 1-1 1-4 1-2 1 1 1 1 1-2 1-4 1-3 1-2 1-1h4l1 1 1 1 1 7 1 15 1 26 1 30 1 19 1-3 1-20 1-26 1-23 1-15 1-7 1 1 1 8 1 17 1 23 1 18 1 3 1-12 1-19 1-19 1-13 1-7 1-4 1-1h5l1 2 1 5 1 15 1 30 1 45 1 41 1 12 1-19 1-36 1-39 1-28 1-17 1-7 1-3 1-1h2l1 1 1 2 1 8 1 17 1 19 1 7 1-8 1-17 1-15 1-9 1-4 1-1h1l1 2 1 6 1 15 1 28 1 35 1 26 1 0 1-20 1-29 1-27 1-16 1-4 1 6 1 15 1 18 1 18 1 9 1-1 1-10 1-15 1-17 1-14 1-11 1-7 1-4 1-1 1 1 1 7 1 16 1 28 1 30 1 17 1-6 1-21 1-27 1-22 1-14 1-7 1-2 1 1 1 4 1 9 1 12 1 9 1 1 1-6 1-10 1-9 1-7 1-4 1-1 1 2 1 7 1 17 1 29 1 36 1 22 1-4 1-22 1-30 1-27 1-17 1-9 1-3 1 0 1 3 1 12 1 26 1 41 1 40 1 17 1-13 1-33 1-37 1-29 1-17 1-8 1-3 1-1h2l1 1 1 2 1 3 1 3 1 3 1 0 1-1 1-2 1 0 1 0 1-1 1-1 1-2 1-2 1-2 1 0 1-1h1l1 1 1 2 1 5 1 10 1 12 1 8 1-1 1-7 1-10 1-9 1-6 1-3 1-1 1 1 1 2 1 2 1 1 1-1 1-1 1-2 1-2" stroke="#A2142F" vector-effect="non-scaling-stroke"/>
<path d="M0 0h11l1 1 1 2 1 9 1 17 1 17 1 6 1-9 1-14 1-8 1-2 1-2 1-5 1-6 1-4 1-1 1 0 1 4 1 11 1 27 1 45 1 49 1 27 1-9 1-35 1-43 1-35 1-18 1 2 1 25 1 40 1 38 1 13 1-17 1-35 1-36 1-27 1-16 1-7 1-3 1-1h4l1 2 1 8 1 22 1 49 1 75 1 74 1 31 1-25 1-61 1-68 1-53 1-32 1-14 1-6 1-2h2l1 1 1 3 1 13 1 29 1 39 1 23 1-11 1-31 1-32 1-21 1-9 1-3 1-1h1l1 2 1 6 1 17 1 37 1 55 1 53 1 19 1-20 1-45 1-49 1-38 1-22 1-10 1-3 1 0 1 4 1 7 1 15 1 21 1 27 1 25 1 14 1-1 1-12 1-19 1-14 1 4 1 36 1 66 1 67 1 21 1-31 1-63 1-68 1-51 1-30 1-13 1-5 1-2h4l1 1 1 1 1 5 1 11 1 14 1 14 1 4 1-5 1-7 1 4 1 26 1 50 1 52 1 23 1-19 1-45 1-50 1-39 1-23 1-11 1-4 1-1 1 4 1 14 1 35 1 62 1 75 1 50 1-4 1-46 1-65 1-57 1-38 1-20 1-8 1-2 1-1h6l1 1 1 2 1 4 1 5 1 4 1 1 1-2 1-1 1 1 1 3 1 1 1-2 1-5 1-4 1-4 1-2 1-1 1-1 1 1 1 2 1 5 1 11 1 17 1 15 1 5 1-7 1-13 1-15 1-10 1-7 1-2 1 1 1 3 1 5 1 3 1 1 1-2 1-4" stroke="#0072BD" vector-effect="non-scaling-stroke"/>
<path d="M0 0h11l1 1 1 3 1 7 1 9 1 5 1-2 1-6 1-4 1 0 1 1 1-2 1-5 1-4 1-2 1-1h4l1 1 1 3 1 8 1 18 1 27 1 25 1 10 1-10 1-22 1-24 1-18 1-9 1 1 1 10 1 20 1 25 1 14 1-3 1-16 1-21 1-18 1-12 1-6 1-2 1-1h5l1 2 1 7 1 17 1 35 1 47 1 40 1 8 1-23 1-40 1-39 1-28 1-16 1-7 1-2 1-1h1l1 1 1 5 1 13 1 23 1 24 1 5 1-14 1-23 1-19 1-10 1-4 1-1h2l1 1 1 3 1 9 1 21 1 34 1 37 1 20 1-8 1-27 1-33 1-26 1-16 1-6 1 1 1 5 1 6 1 5 1 1 1-1 1-4 1-6 1-5 1-4 1-3 1 1 1 5 1 15 1 26 1 29 1 16 1-6 1-20 1-25 1-22 1-13 1-6 1-3 1-1h1l1 1 1 3 1 6 1 9 1 9 1 3 1-3 1-7 1-9 1-6 1-3 1 1 1 8 1 20 1 32 1 36 1 19 1-7 1-26 1-31 1-26 1-17 1-8 1-3 1-1 1 1 1 2 1 6 1 17 1 29 1 34 1 22 1-3 1-22 1-29 1-26 1-17 1-9 1-3 1-2h3l1 1 1 1 1 2 1 3 1 2 1 0 1 0 1 0 1 0 1 0 1-2 1-2 1-2 1-1 1-1 1-1h2l1 2 1 3 1 7 1 9 1 9 1 3 1-4 1-8 1-9 1-6 1-4 1-1 1 0 1 2 1 1 1 2 1 0 1-1 1-2 1-1" stroke="#D95319" vector-effect="non-scaling-stroke"/>
<path d="M0 0h12l1 2 1 3 1 5 1 5 1-1 1-3 1-4 1-1 1-1 1-1 1-1 1-2 1-1h5l1 2 1 5 1 10 1 16 1 15 1 6 1-5 1-13 1-14 1-11 1-6 1-3 1 0 1 2 1 7 1 11 1 12 1 6 1-2 1-9 1-10 1-9 1-6 1-3 1-1h5l1 2 1 5 1 13 1 23 1 27 1 18 1-1 1-17 1-24 1-21 1-14 1-7 1-3 1-1h3l1 1 1 4 1 10 1 13 1 9 1-3 1-11 1-11 1-7 1-4 1-1h3l1 2 1 4 1 8 1 14 1 13 1 6 1-4 1-11 1-12 1-8 1-3 1 3 1 9 1 13 1 14 1 11 1 4 1-4 1-10 1-12 1-12 1-10 1-7 1-4 1-1 1 1 1 7 1 14 1 21 1 17 1 4 1-9 1-17 1-17 1-13 1-7 1-3 1 0 1 0 1 1 1 2 1 3 1 3 1 1 1-1 1-3 1-3 1-2 1-1 1 0 1 0 1 4 1 10 1 21 1 28 1 24 1 6 1-13 1-24 1-24 1-17 1-10 1-4 1-1 1 0 1 1 1 5 1 11 1 19 1 21 1 12 1-3 1-15 1-18 1-16 1-10 1-5 1-2 1-1h1l1 1 1 1 1 2 1 4 1 3 1 0 1-1 1-2 1-2 1 0 1-1 1 0 1-2 1-1 1-1 1 0 1-1h2l1 1 1 2 1 4 1 9 1 10 1 8 1 0 1-7 1-9 1-8 1-5 1-3 1 0 1 1 1 2 1 1 1 0 1-1 1-1 1-2" stroke="#EDB120" vector-effect="non-scaling-stroke"/>
<path d="M0 0h11l1 2 1 5 1 12 1 15 1 7 1-5 1-11 1-9 1-3 1 1 1-2 1-5 1-4 1-2 1 0 1 1 1 5 1 14 1 28 1 38 1 31 1 5 1-18 1-32 1-30 1-20 1-4 1 15 1 31 1 36 1 20 1-6 1-26 1-32 1-27 1-17 1-8 1-4 1-1h4l1 1 1 3 1 10 1 29 1 57 1 76 1 64 1 11 1-38 1-64 1-63 1-45 1-25 1-11 1-4 1-1h3l1 3 1 8 1 23 1 36 1 28 1-2 1-26 1-31 1-23 1-11 1-4 1-1h1l1 3 1 8 1 25 1 53 1 81 1 81 1 32 1-28 1-66 1-74 1-57 1-34 1-16 1-5 1 0 1 4 1 8 1 12 1 16 1 14 1 10 1 0 1-6 1-10 1-7 1 8 1 34 1 59 1 58 1 20 1-25 1-53 1-58 1-44 1-25 1-12 1-4 1-2h4l1 1 1 1 1 5 1 9 1 11 1 9 1 1 1-5 1-4 1 7 1 30 1 52 1 56 1 24 1-17 1-45 1-52 1-41 1-24 1-12 1-4 1-1 1 2 1 9 1 24 1 48 1 66 1 57 1 12 1-31 1-55 1-56 1-40 1-22 1-10 1-4 1-1h6l1 1 1 1 1 3 1 5 1 3 1 2 1-1 1-1 1 0 1 0 1-1 1-2 1-3 1-3 1-2 1-1 1-1h2l1 2 1 3 1 9 1 15 1 15 1 9 1-4 1-11 1-14 1-11 1-7 1-3 1 1 1 3 1 4 1 3 1-1 1-3 1-4 1-3" stroke="#7E2F8E" vector-effect="non-scaling-stroke"/>
<path d="M0 0h10l1 1 1 3 1 11 1 17 1 17 1 3 1-11 1-14 1-7 1 0 1-1 1-6 1-6 1-4 1-2 1 0 1 4 1 13 1 30 1 50 1 55 1 30 1-10 1-39 1-49 1-38 1-19 1 4 1 26 1 40 1 32 1 3 1-22 1-34 1-33 1-24 1-12 1-6 1-1 1-1h3l1 1 1 3 1 10 1 29 1 56 1 76 1 62 1 10 1-38 1-63 1-62 1-44 1-25 1-10 1-4 1-1h2l1 1 1 3 1 11 1 27 1 37 1 23 1-9 1-29 1-31 1-20 1-9 1-3 1-1 1 1 1 2 1 10 1 29 1 58 1 85 1 77 1 24 1-36 1-70 1-73 1-55 1-31 1-14 1-4 1 0 1 4 1 10 1 17 1 25 1 29 1 26 1 12 1-3 1-16 1-21 1-15 1 5 1 38 1 66 1 61 1 13 1-36 1-63 1-65 1-46 1-27 1-11 1-4 1-2h4l1 2 1 5 1 11 1 18 1 18 1 9 1-3 1-7 1 4 1 31 1 61 1 64 1 27 1-24 1-55 1-63 1-48 1-29 1-14 1-5 1-1 1 0 1 3 1 12 1 30 1 60 1 79 1 63 1 9 1-41 1-66 1-65 1-45 1-24 1-11 1-4 1-1h6l1 2 1 2 1 5 1 5 1 2 1 0 1-2 1-1 1 1 1 2 1 0 1-2 1-4 1-4 1-3 1-2 1-1h1l1 1 1 2 1 7 1 13 1 19 1 16 1 5 1-9 1-15 1-16 1-12 1-6 1-2 1 1 1 4 1 3 1 2 1-1 1-3 1-3 1-3" stroke="#77AC30" vector-effect="non-scaling-stroke"/>
<path d="M0 0h11l1 1 1 2 1 4 1 4 1 1 1-2 1-2 1-1 1 2 1 1 1-2 1-3 1-3 1-1 1-1 1 2 1 5 1 12 1 22 1 27 1 20 1 0 1-16 1-24 1-20 1-12 1 1 1 16 1 26 1 27 1 10 1-11 1-23 1-24 1-19 1-11 1-5 1-2 1-1h4l1 1 1 5 1 13 1 27 1 40 1 39 1 13 1-15 1-33 1-36 1-27 1-16 1-7 1-3 1-1h3l1 2 1 7 1 17 1 26 1 19 1-3 1-20 1-22 1-15 1-8 1-2 1-1h1l1 1 1 2 1 9 1 19 1 33 1 36 1 20 1-7 1-25 1-32 1-26 1-17 1-8 1-4 1 0 1 0 1 2 1 3 1 4 1 5 1 5 1 2 1-1 1-3 1-3 1-3 1 1 1 10 1 22 1 30 1 22 1 1 1-17 1-26 1-24 1-17 1-9 1-3 1-2h5l1 1 1 1 1 2 1 4 1 4 1 2 1-1 1 2 1 10 1 25 1 39 1 36 1 11 1-17 1-33 1-35 1-26 1-15 1-7 1-2 1 0 1 2 1 10 1 24 1 43 1 56 1 40 1 1 1-32 1-47 1-43 1-30 1-16 1-6 1-2 1-1h7l1 1 1 2 1 2 1 1 1 0 1 0 1 0 1 2 1 2 1 0 1-1 1-3 1-2 1-2 1-1 1-1h1l1 1 1 1 1 4 1 7 1 10 1 8 1 2 1-6 1-8 1-8 1-6 1-3 1 0 1 1 1 2 1 3 1 1 1 0 1-3 1-2 1-2" stroke="#4DBEEE" vector-effect="non-scaling-stroke"/>
<path d="M0 0h10l1 1 1 5 1 9 1 13 1 8 1-4 1-10 1-8 1-3 1 2 1 0 1-4 1-4 1-3 1-2h3l1 1 1 4 1 9 1 19 1 28 1 24 1 7 1-12 1-23 1-23 1-18 1-9 1-5 1 0 1 4 1 9 1 17 1 19 1 13 1-2 1-13 1-17 1-15 1-9 1-5 1-2 1-1h3l1 2 1 6 1 16 1 30 1 39 1 29 1 3 1-21 1-33 1-31 1-22 1-11 1-5 1-1 1-1h3l1 1 1 3 1 11 1 20 1 19 1 4 1-12 1-18 1-15 1-9 1-3 1-1h1l1 1 1 3 1 9 1 18 1 26 1 22 1 6 1-12 1-21 1-21 1-16 1-7 1-2 1 4 1 9 1 11 1 13 1 10 1 3 1-4 1-8 1-11 1-11 1-9 1-6 1-3 1 0 1 6 1 16 1 32 1 42 1 30 1 2 1-23 1-35 1-32 1-23 1-12 1-5 1-1 1 1 1 2 1 6 1 8 1 7 1 1 1-4 1-7 1-6 1-5 1-2 1-1 1 1 1 6 1 17 1 32 1 43 1 34 1 5 1-22 1-36 1-35 1-24 1-14 1-5 1-2 1 3 1 9 1 23 1 40 1 48 1 31 1-4 1-31 1-41 1-36 1-24 1-12 1-5 1-1 1-1h1l1 1 1 3 1 4 1 4 1 3 1 0 1-2 1-1 1 0 1 2 1 0 1-2 1-4 1-3 1-3 1-1 1-1h1l1 1 1 2 1 6 1 11 1 13 1 10 1 0 1-8 1-12 1-10 1-7 1-4 1-1 1 1 1 2 1 2 1 2 1 1 1-2 1-2 1-2" stroke="#A2142F" vector-effect="non-scaling-stroke"/>
<path d="M0 0h11l1 1 1 2 1 5 1 7 1 4 1-2 1-5 1-3 1 0 1 1 1-1 1-4 1-3 1-1 1 0 1 2 1 6 1 17 1 28 1 33 1 20 1-3 1-22 1-28 1-24 1-13 1 1 1 16 1 28 1 27 1 11 1-11 1-23 1-26 1-20 1-12 1-5 1-2 1-1h4l1 1 1 5 1 14 1 31 1 48 1 48 1 22 1-16 1-38 1-44 1-35 1-21 1-10 1-4 1-1h3l1 2 1 5 1 17 1 29 1 27 1 4 1-19 1-27 1-21 1-11 1-5 1-1h1l1 1 1 5 1 13 1 31 1 52 1 57 1 31 1-11 1-41 1-50 1-42 1-26 1-13 1-5 1-1 1 1 1 2 1 5 1 9 1 10 1 11 1 8 1 2 1-4 1-7 1-7 1 2 1 17 1 39 1 48 1 31 1-6 1-34 1-44 1-39 1-25 1-13 1-5 1-1 1-1h4l1 2 1 4 1 8 1 12 1 10 1 3 1-4 1-7 1 0 1 18 1 42 1 56 1 40 1 0 1-34 1-49 1-45 1-31 1-15 1-7 1-1 1 2 1 11 1 27 1 51 1 64 1 48 1 1 1-36 1-55 1-51 1-35 1-18 1-8 1-2 1-1h7l1 1 1 3 1 3 1 3 1 1 1-1 1-1 1 0 1 1 1 0 1-1 1-2 1-3 1-2 1-1 1-1h1l1 1 1 1 1 4 1 8 1 11 1 10 1 2 1-5 1-9 1-10 1-6 1-4 1-1 1 1 1 2 1 4 1 2 1 0 1-2 1-3 1-3" stroke="#0072BD" vector-effect="non-scaling-stroke"/>
<path d="M0 0h10l1 1 1 4 1 7 1 7 1 2 1-3 1-6 1-3 1 0 1 0 1-2 1-3 1-2 1-1 1 0 1 1 1 5 1 12 1 21 1 24 1 15 1-4 1-16 1-20 1-17 1-9 1 4 1 16 1 26 1 24 1 6 1-12 1-22 1-22 1-17 1-10 1-4 1-1 1-1h4l1 1 1 4 1 10 1 25 1 42 1 44 1 24 1-10 1-32 1-40 1-33 1-20 1-10 1-3 1-2h3l1 1 1 5 1 12 1 20 1 18 1 0 1-14 1-18 1-14 1-7 1-2 1-1h1l1 2 1 8 1 21 1 44 1 66 1 61 1 21 1-26 1-53 1-58 1-44 1-25 1-11 1-4 1-1 1 2 1 4 1 9 1 13 1 17 1 17 1 12 1 1 1-6 1-12 1-12 1-4 1 13 1 31 1 37 1 19 1-11 1-31 1-37 1-30 1-19 1-9 1-4 1-1h5l1 1 1 3 1 5 1 6 1 4 1 0 1-2 1 1 1 11 1 30 1 44 1 41 1 11 1-20 1-39 1-39 1-29 1-17 1-7 1-3 1 0 1 1 1 7 1 19 1 37 1 54 1 46 1 12 1-25 1-44 1-45 1-32 1-19 1-8 1-3 1-1h7l1 1 1 2 1 3 1 3 1 1 1 0 1 0 1 1 1 2 1-1 1-2 1-3 1-3 1-2 1-1 1-1h2l1 1 1 2 1 5 1 8 1 8 1 3 1-2 1-6 1-7 1-6 1-3 1-1 1 0 1 3 1 2 1 1 1 0 1-2 1-2 1-2 1-1" stroke="#D95319" vector-effect="non-scaling-stroke"/>
<path d="M0 0h10l1 1 1 3 1 9 1 14 1 13 1 0 1-9 1-11 1-3 1 3 1 1 1-5 1-7 1-6 1-2 1 1 1 4 1 15 1 32 1 49 1 48 1 20 1-17 1-39 1-44 1-31 1-12 1 11 1 29 1 35 1 19 1-9 1-26 1-31 1-27 1-16 1-8 1-3 1-1h5l1 2 1 6 1 18 1 40 1 64 1 66 1 32 1-19 1-51 1-60 1-48 1-29 1-14 1-5 1-2h2l1 1 1 5 1 18 1 39 1 49 1 23 1-18 1-40 1-39 1-24 1-10 1-3 1-1 1 2 1 7 1 22 1 52 1 90 1 104 1 64 1-14 1-69 1-90 1-78 1-51 1-25 1-9 1-3 1 1 1 5 1 11 1 19 1 27 1 31 1 26 1 13 1-5 1-17 1-20 1-10 1 20 1 61 1 85 1 60 1-6 1-58 1-82 1-73 1-50 1-25 1-10 1-4 1-1h4l1 2 1 5 1 10 1 15 1 16 1 7 1-4 1-8 1-3 1 19 1 46 1 60 1 40 1-6 1-40 1-54 1-48 1-32 1-16 1-6 1-2 1 0 1 5 1 17 1 43 1 76 1 94 1 65 1-2 1-57 1-80 1-73 1-49 1-25 1-10 1-4 1-1h5l1 1 1 1 1 3 1 5 1 6 1 2 1-1 1-2 1-1 1 1 1 2 1-1 1-3 1-4 1-4 1-3 1-1 1-1 1 1 1 2 1 6 1 12 1 18 1 16 1 5 1-8 1-14 1-16 1-11 1-7 1-2 1 0 1 2 1 3 1 4 1 2 1-1 1-2 1-4 1-3" stroke="#EDB120" vector-effect="non-scaling-stroke"/>
<path d="M0 0h10l1 1 1 4 1 9 1 13 1 7 1-2 1-9 1-8 1-1 1 2 1-2 1-4 1-5 1-3 1-1 1 0 1 4 1 12 1 24 1 34 1 30 1 9 1-14 1-28 1-29 1-20 1-6 1 9 1 22 1 27 1 17 1-4 1-19 1-25 1-20 1-14 1-6 1-3 1-1h4l1 1 1 2 1 8 1 21 1 44 1 61 1 52 1 13 1-28 1-51 1-51 1-37 1-21 1-10 1-3 1-1h3l1 3 1 9 1 23 1 34 1 25 1-5 1-25 1-30 1-20 1-10 1-3 1-1h1l1 1 1 5 1 12 1 27 1 40 1 39 1 15 1-15 1-33 1-36 1-27 1-17 1-7 1-3 1 0 1 2 1 3 1 7 1 11 1 14 1 15 1 9 1 2 1-5 1-7 1 0 1 19 1 44 1 53 1 33 1-11 1-41 1-53 1-45 1-29 1-14 1-6 1-1 1-1h4l1 1 1 1 1 4 1 6 1 8 1 5 1 1 1-1 1 6 1 24 1 44 1 50 1 26 1-12 1-38 1-46 1-38 1-23 1-12 1-4 1-1 1 1 1 6 1 17 1 39 1 59 1 61 1 26 1-19 1-48 1-55 1-43 1-26 1-13 1-4 1-2h7l1 1 1 2 1 4 1 4 1 4 1 0 1-1 1 0 1 0 1 1 1-2 1-3 1-3 1-3 1-2 1-1 1-1h2l1 2 1 3 1 8 1 10 1 8 1 2 1-5 1-8 1-8 1-6 1-4 1-1 1 1 1 2 1 2 1 0 1 0 1-2 1-1 1-2" stroke="#7E2F8E" vector-effect="non-scaling-stroke"/>
<path d="M0 0h13l1 1 1 2 1 4 1 4 1 0 1-2 1-2 1 1 1 2 1 0 1-2 1-4 1-2 1-1 1 1 1 5 1 14 1 26 1 33 1 25 1 1 1-18 1-28 1-26 1-17 1-6 1 3 1 12 1 13 1 7 1-4 1-10 1-12 1-9 1-7 1-2 1-2h6l1 2 1 5 1 14 1 29 1 43 1 39 1 11 1-18 1-35 1-36 1-28 1-15 1-8 1-2 1-1h3l1 2 1 6 1 13 1 17 1 7 1-6 1-14 1-13 1-7 1-4 1-1h2l1 1 1 5 1 11 1 22 1 31 1 25 1 4 1-15 1-25 1-25 1-18 1-10 1-4 1-1 1-1 1 1 1 0 1 2 1 2 1 2 1 3 1 1 1 0 1-1 1-1 1 2 1 8 1 21 1 31 1 29 1 8 1-14 1-26 1-28 1-20 1-12 1-5 1-2 1-1h4l1 1 1 2 1 6 1 10 1 10 1 6 1-2 1-5 1-3 1 9 1 29 1 41 1 35 1 4 1-22 1-37 1-36 1-26 1-13 1-6 1-2 1 0 1 4 1 12 1 28 1 43 1 46 1 22 1-12 1-35 1-41 1-33 1-20 1-10 1-4 1-1h8l1 1 1 2 1 2 1 1 1 1 1-1 1 0 1-1 1 0 1 0 1-1 1-1 1-2 1 0 1-1h3l1 1 1 3 1 5 1 7 1 6 1 1 1-3 1-6 1-6 1-4 1-2 1-1 1 0 1 1 1 0 1 0 1 0 1-1" stroke="#77AC30" vector-effect="non-scaling-stroke"/>
<path d="M0 0h10l1 2 1 5 1 11 1 17 1 11 1-4 1-12 1-9 1-1 1 3 1-1 1-7 1-8 1-4 1-2 1-1h3l1 1 1 2 1 7 1 18 1 31 1 37 1 23 1-3 1-24 1-32 1-27 1-18 1-9 1 0 1 8 1 22 1 36 1 41 1 22 1-8 1-29 1-35 1-30 1-19 1-9 1-4 1-1h4l1 1 1 3 1 10 1 28 1 52 1 69 1 54 1 6 1-36 1-59 1-55 1-39 1-21 1-9 1-3 1 0 1 2 1 9 1 23 1 31 1 21 1-7 1-24 1-27 1-17 1-9 1-2 1-1h2l1 2 1 6 1 18 1 40 1 60 1 58 1 24 1-21 1-48 1-52 1-38 1-16 1 2 1 15 1 20 1 15 1 6 1-6 1-14 1-17 1-18 1-14 1-10 1-5 1 2 1 15 1 36 1 56 1 60 1 27 1-17 1-45 1-54 1-42 1-26 1-12 1-5 1-1 1 1 1 6 1 11 1 17 1 16 1 6 1-6 1-14 1-15 1-11 1-6 1-1 1 8 1 22 1 40 1 47 1 32 1-4 1-30 1-41 1-36 1-24 1-12 1-5 1-1 1 0 1 1 1 7 1 19 1 37 1 51 1 43 1 9 1-24 1-42 1-43 1-31 1-17 1-7 1-3 1-1h1l1 1 1 2 1 3 1 6 1 6 1 2 1-2 1-3 1-3 1 1 1 1 1 1 1-2 1-3 1-4 1-3 1-2 1-1h1l1 1 1 3 1 7 1 13 1 15 1 10 1-1 1-9 1-13 1-12 1-8 1-3 1-1 1 3 1 4 1 4 1 2 1-2 1-3 1-4 1-3" stroke="#4DBEEE" vector-effect="non-scaling-stroke"/>
<path d="M0 0h10l1 1 1 2 1 8 1 16 1 20 1 9 1-7 1-16 1-11 1-1 1 2 1-3 1-8 1-6 1-4 1-1 1 1 1 6 1 17 1 37 1 56 1 55 1 21 1-20 1-46 1-49 1-36 1-13 1 12 1 33 1 39 1 21 1-9 1-29 1-36 1-29 1-18 1-9 1-4 1-1h4l1 1 1 3 1 11 1 30 1 60 1 83 1 69 1 14 1-39 1-69 1-69 1-49 1-27 1-12 1-4 1-2h2l1 1 1 6 1 18 1 36 1 42 1 16 1-19 1-37 1-33 1-19 1-8 1-2 1-1 1 2 1 5 1 17 1 41 1 68 1 76 1 43 1-14 1-53 1-67 1-56 1-35 1-17 1-7 1-1 1 3 1 6 1 13 1 20 1 26 1 26 1 18 1 3 1-10 1-18 1-18 1-4 1 25 1 62 1 76 1 47 1-14 1-56 1-73 1-63 1-40 1-20 1-8 1-2 1-1h4l1 2 1 4 1 10 1 16 1 18 1 9 1-3 1-8 1-2 1 22 1 54 1 71 1 50 1-4 1-46 1-65 1-58 1-38 1-20 1-8 1-2 1 3 1 14 1 36 1 70 1 93 1 72 1 8 1-48 1-78 1-74 1-52 1-28 1-12 1-5 1-1h6l1 1 1 1 1 3 1 4 1 5 1 3 1 0 1-1 1-1 1 1 1 0 1-2 1-4 1-3 1-4 1-2 1 0 1-1h1l1 2 1 4 1 9 1 16 1 17 1 8 1-3 1-13 1-15 1-12 1-7 1-3 1 1 1 4 1 5 1 4 1 0 1-3 1-5 1-4" stroke="#A2142F" vector-effect="non-scaling-stroke"/>
<path d="M0 0h11l1 1 1 3 1 6 1 10 1 7 1-2 1-7 1-7 1-1 1 3 1 1 1-3 1-4 1-4 1-2 1 0 1 3 1 9 1 20 1 30 1 28 1 11 1-11 1-24 1-26 1-20 1-8 1 3 1 18 1 27 1 25 1 7 1-11 1-23 1-24 1-18 1-10 1-5 1-1 1-1h4l1 2 1 6 1 19 1 40 1 61 1 59 1 22 1-22 1-49 1-54 1-42 1-25 1-11 1-4 1-2h3l1 2 1 6 1 17 1 29 1 28 1 3 1-20 1-27 1-21 1-11 1-5 1-1h1l1 1 1 4 1 11 1 25 1 39 1 38 1 15 1-13 1-30 1-35 1-27 1-16 1-8 1-2 1 0 1 4 1 7 1 13 1 18 1 20 1 16 1 8 1-4 1-12 1-15 1-12 1 3 1 25 1 47 1 47 1 17 1-21 1-44 1-47 1-36 1-21 1-10 1-4 1-1h4l1 2 1 4 1 8 1 13 1 11 1 4 1-5 1-7 1-2 1 16 1 40 1 55 1 43 1 3 1-32 1-48 1-46 1-32 1-17 1-7 1-2 1 0 1 4 1 12 1 28 1 44 1 46 1 23 1-12 1-35 1-42 1-33 1-21 1-10 1-3 1-2h7l1 1 1 1 1 2 1 4 1 2 1 1 1 0 1-1 1 0 1 0 1-1 1-2 1-3 1-2 1-1 1-1h2l1 1 1 3 1 7 1 10 1 12 1 5 1-2 1-9 1-10 1-8 1-5 1-2 1-1 1 1 1 1 1 2 1 1 1 0 1-2 1-1" stroke="#0072BD" vector-effect="non-scaling-stroke"/>
<path d="M0 0h11l1 1 1 3 1 8 1 10 1 6 1-3 1-7 1-7 1-2 1 2 1 0 1-3 1-4 1-2 1-2h3l1 2 1 6 1 15 1 28 1 35 1 25 1 0 1-20 1-30 1-27 1-18 1-8 1 0 1 12 1 25 1 33 1 26 1 3 1-17 1-28 1-27 1-18 1-11 1-4 1-1 1-1h4l1 2 1 5 1 17 1 36 1 56 1 57 1 25 1-18 1-45 1-52 1-41 1-24 1-12 1-4 1-2h2l1 1 1 3 1 10 1 21 1 21 1 7 1-12 1-19 1-17 1-10 1-4 1-1h2l1 2 1 6 1 16 1 33 1 46 1 41 1 11 1-21 1-38 1-40 1-28 1-13 1-3 1 7 1 13 1 16 1 15 1 8 1-2 1-8 1-13 1-15 1-12 1-9 1-6 1-2 1 3 1 12 1 27 1 40 1 39 1 15 1-15 1-33 1-36 1-28 1-17 1-7 1-3 1 0 1 2 1 5 1 8 1 10 1 6 1-1 1-7 1-8 1-7 1-5 1-2 1 3 1 10 1 26 1 41 1 45 1 25 1-10 1-32 1-40 1-34 1-20 1-10 1-4 1-1 1 0 1 4 1 13 1 27 1 42 1 43 1 18 1-14 1-34 1-39 1-30 1-18 1-9 1-3 1-1h1l1 1 1 1 1 2 1 5 1 4 1 3 1-1 1-2 1-1 1 0 1 0 1-2 1-2 1-3 1-2 1-2 1-1h2l1 1 1 3 1 7 1 14 1 17 1 12 1 0 1-10 1-15 1-13 1-8 1-5 1 0 1 1 1 4 1 3 1 1 1-1 1-3 1-3" stroke="#D95319" vector-effect="non-scaling-stroke"/>
<path d="M0 0h11l1 2 1 6 1 12 1 15 1 6 1-6 1-11 1-10 1-1 1 3 1 0 1-5 1-5 1-4 1-1 1-1h1l1 1 1 3 1 9 1 20 1 32 1 33 1 16 1-9 1-26 1-29 1-25 1-14 1-7 1-2 1 3 1 10 1 23 1 35 1 35 1 15 1-12 1-28 1-32 1-25 1-15 1-7 1-3 1-1h2l1 1 1 2 1 8 1 21 1 39 1 50 1 38 1 2 1-28 1-42 1-40 1-28 1-14 1-6 1-2 1-1h2l1 3 1 9 1 23 1 37 1 27 1-4 1-26 1-31 1-22 1-11 1-4 1-1h2l1 1 1 3 1 9 1 22 1 37 1 41 1 23 1-7 1-28 1-36 1-28 1-15 1 0 1 13 1 23 1 27 1 23 1 11 1-5 1-16 1-23 1-23 1-20 1-14 1-9 1-5 1-1 1 3 1 13 1 31 1 52 1 58 1 33 1-10 1-41 1-51 1-43 1-27 1-13 1-3 1 4 1 10 1 16 1 14 1 4 1-7 1-13 1-14 1-10 1-5 1-1 1 3 1 12 1 27 1 41 1 40 1 16 1-15 1-33 1-37 1-28 1-17 1-8 1-3 1 0 1 2 1 8 1 21 1 39 1 53 1 40 1 4 1-27 1-44 1-42 1-30 1-15 1-7 1-2 1-1h1l1 1 1 2 1 3 1 6 1 4 1 2 1-2 1-2 1 0 1 2 1 2 1-1 1-3 1-5 1-4 1-3 1-1 1-1 1 1 1 1 1 4 1 9 1 13 1 13 1 4 1-6 1-10 1-12 1-8 1-5 1-2 1 0 1 3 1 3 1 3 1 0 1-2 1-3 1-3" stroke="#EDB120" vector-effect="non-scaling-stroke"/>
<path d="M0 0h11l1 1 1 1 1 4 1 6 1 4 1-1 1-3 1-3 1-1 1-1 1-2 1-2 1-2 1-1 1 1 1 2 1 7 1 17 1 31 1 38 1 27 1-2 1-23 1-32 1-30 1-18 1-6 1 5 1 16 1 20 1 12 1-2 1-13 1-18 1-15 1-9 1-5 1-2 1-1h4l1 1 1 3 1 10 1 22 1 37 1 41 1 23 1-8 1-29 1-37 1-30 1-19 1-9 1-4 1-1h3l1 1 1 5 1 15 1 27 1 28 1 7 1-16 1-27 1-22 1-12 1-4 1-2h1l1 1 1 2 1 7 1 21 1 40 1 55 1 46 1 8 1-27 1-46 1-46 1-32 1-18 1-7 1-3 1 1 1 1 1 5 1 7 1 9 1 11 1 8 1 3 1-3 1-6 1-7 1-2 1 10 1 26 1 34 1 24 1-3 1-24 1-32 1-29 1-19 1-9 1-4 1-2h5l1 1 1 3 1 5 1 9 1 11 1 5 1-1 1-3 1 3 1 22 1 41 1 46 1 22 1-13 1-37 1-43 1-34 1-21 1-11 1-3 1-1 1 1 1 4 1 14 1 29 1 44 1 43 1 17 1-16 1-36 1-40 1-31 1-17 1-9 1-3 1-1h7l1 1 1 2 1 4 1 3 1 1 1-1 1-2 1-1 1 0 1 0 1 0 1-2 1-1 1-2 1-1 1-1h2l1 1 1 3 1 7 1 10 1 11 1 6 1-3 1-9 1-10 1-8 1-4 1-2 1 0 1 2 1 3 1 2 1 1 1-2 1-2 1-3" stroke="#7E2F8E" vector-effect="non-scaling-stroke"/>
<path d="M0 0h10l1 1 1 4 1 9 1 10 1 5 1-4 1-8 1-7 1-2 1 1 1-1 1-2 1-3 1-2 1 0 1 2 1 9 1 19 1 31 1 35 1 20 1-7 1-25 1-31 1-25 1-14 1-1 1 12 1 25 1 30 1 18 1-5 1-20 1-26 1-23 1-14 1-7 1-3 1-1h5l1 1 1 6 1 15 1 36 1 58 1 62 1 31 1-14 1-46 1-55 1-45 1-28 1-14 1-5 1-1 1-1h2l1 3 1 7 1 18 1 25 1 14 1-6 1-19 1-20 1-13 1-6 1-2 1-1 1 2 1 5 1 15 1 31 1 45 1 42 1 13 1-18 1-38 1-39 1-29 1-17 1-8 1-3 1 0 1 2 1 5 1 10 1 16 1 21 1 22 1 16 1 4 1-7 1-15 1-16 1-8 1 13 1 42 1 61 1 48 1 1 1-37 1-57 1-54 1-36 1-20 1-8 1-3 1-1h4l1 1 1 3 1 6 1 9 1 9 1 5 1-1 1-1 1 10 1 29 1 46 1 41 1 9 1-23 1-42 1-42 1-31 1-17 1-7 1-3 1-1 1 1 1 5 1 14 1 33 1 53 1 57 1 29 1-14 1-42 1-50 1-42 1-25 1-12 1-5 1-2h6l1 1 1 1 1 2 1 4 1 4 1 1 1 0 1-1 1 1 1 1 1 0 1-1 1-4 1-3 1-3 1-2 1-1h2l1 1 1 2 1 6 1 10 1 13 1 9 1-1 1-7 1-11 1-10 1-6 1-3 1-1 1 2 1 4 1 3 1 2 1-2 1-3 1-3 1-3" stroke="#77AC30" vector-effect="non-scaling-stroke"/>
<path d="M0 0h11l1 1 1 3 1 9 1 13 1 11 1-1 1-7 1-7 1-2 1-1 1-5 1-6 1-5 1-2 1 0 1 1 1 7 1 18 1 38 1 55 1 50 1 15 1-23 1-45 1-46 1-32 1-10 1 14 1 29 1 29 1 10 1-13 1-27 1-29 1-21 1-13 1-5 1-2 1-1h4l1 1 1 4 1 13 1 30 1 53 1 60 1 38 1-8 1-40 1-53 1-45 1-30 1-15 1-5 1-2 1-1h2l1 3 1 9 1 23 1 36 1 27 1-3 1-26 1-31 1-22 1-11 1-4 1-1h1l1 1 1 5 1 17 1 39 1 67 1 76 1 47 1-11 1-51 1-67 1-57 1-37 1-19 1-7 1-1 1 2 1 5 1 11 1 19 1 24 1 25 1 18 1 5 1-9 1-16 1-17 1-5 1 22 1 55 1 73 1 47 1-9 1-52 1-69 1-60 1-40 1-19 1-9 1-2 1-1h4l1 2 1 4 1 9 1 14 1 15 1 7 1-2 1-6 1 5 1 28 1 52 1 55 1 21 1-21 1-48 1-53 1-41 1-24 1-11 1-4 1-1 1 2 1 10 1 26 1 51 1 70 1 59 1 12 1-34 1-59 1-58 1-42 1-23 1-10 1-4 1-1h6l1 1 1 1 1 3 1 5 1 3 1 1 1-1 1-2 1-1 1 1 1 2 1-1 1-3 1-3 1-3 1-1 1-1 1-1h1l1 1 1 4 1 7 1 12 1 12 1 6 1-3 1-10 1-11 1-9 1-5 1-2 1 1 1 2 1 5 1 3 1 1 1-2 1-3 1-4" stroke="#4DBEEE" vector-effect="non-scaling-stroke"/>
<path d="M0 0h11l1 1 1 2 1 7 1 10 1 9 1 0 1-6 1-8 1-4 1 0 1-1 1-4 1-3 1-2 1-1 1 1 1 2 1 7 1 14 1 22 1 22 1 9 1-8 1-18 1-20 1-14 1-6 1 3 1 14 1 21 1 18 1 2 1-10 1-18 1-17 1-13 1-7 1-3 1-1h4l1 1 1 2 1 8 1 21 1 44 1 62 1 52 1 13 1-28 1-51 1-52 1-37 1-21 1-10 1-3 1-1h2l1 1 1 3 1 9 1 20 1 22 1 8 1-10 1-20 1-17 1-10 1-4 1-2h2l1 2 1 7 1 19 1 40 1 57 1 53 1 17 1-24 1-47 1-50 1-38 1-21 1-10 1-3 1-1 1 1 1 3 1 5 1 6 1 7 1 6 1 1 1-2 1-4 1-4 1-1 1 10 1 24 1 35 1 28 1 3 1-20 1-31 1-29 1-21 1-11 1-5 1-1 1-1h5l1 1 1 2 1 5 1 6 1 5 1 2 1 1 1 7 1 24 1 44 1 53 1 31 1-9 1-38 1-48 1-40 1-26 1-13 1-5 1-1 1 0 1 3 1 10 1 25 1 48 1 59 1 44 1 1 1-34 1-51 1-47 1-32 1-17 1-7 1-2 1-1h6l1 1 1 1 1 3 1 4 1 3 1 0 1 0 1-2 1-1 1-1 1-2 1-2 1-2 1-1 1-1h4l1 2 1 3 1 6 1 9 1 8 1 1 1-4 1-7 1-8 1-5 1-3 1 0 1 1 1 2 1 3 1 1 1 0 1-2 1-2" stroke="#A2142F" vector-effect="non-scaling-stroke"/>
<path d="M0 0h12l1 2 1 4 1 7 1 8 1 2 1-4 1-5 1-2 1 0 1-1 1-4 1-4 1-2 1 0 1 1 1 5 1 14 1 27 1 35 1 29 1 4 1-18 1-30 1-29 1-20 1-9 1 3 1 13 1 21 1 21 1 7 1-8 1-18 1-20 1-15 1-8 1-4 1-1 1-1h4l1 3 1 7 1 21 1 40 1 56 1 48 1 10 1-27 1-47 1-46 1-34 1-19 1-8 1-3 1-1h3l1 2 1 6 1 14 1 17 1 10 1-6 1-14 1-14 1-9 1-4 1-2h2l1 1 1 4 1 9 1 20 1 29 1 25 1 7 1-12 1-24 1-24 1-18 1-10 1-5 1-1 1 1 1 2 1 6 1 10 1 15 1 17 1 15 1 7 1-3 1-9 1-14 1-11 1-2 1 16 1 39 1 50 1 34 1-5 1-34 1-46 1-41 1-26 1-14 1-6 1-1 1-1h3l1 1 1 2 1 6 1 10 1 11 1 7 1-1 1-6 1-3 1 10 1 31 1 48 1 44 1 10 1-23 1-43 1-43 1-32 1-17 1-8 1-3 1 0 1 3 1 11 1 28 1 49 1 59 1 40 1-3 1-36 1-51 1-46 1-30 1-16 1-6 1-2 1-1h6l1 1 1 2 1 3 1 4 1 4 1 0 1-1 1-1 1 0 1 2 1 0 1-3 1-3 1-3 1-3 1-1 1-1h1l1 1 1 3 1 6 1 11 1 13 1 7 1-2 1-8 1-11 1-10 1-5 1-3 1-1 1 1 1 1 1 2 1 1 1-1 1-1 1-1" stroke="#0072BD" vector-effect="non-scaling-stroke"/>
<path d="M0 0h10l1 1 1 3 1 8 1 9 1 6 1-3 1-7 1-6 1-1 1 4 1 1 1-3 1-6 1-4 1-1 1-1h4l1 1 1 2 1 7 1 15 1 23 1 22 1 9 1-8 1-18 1-20 1-12 1 2 1 16 1 26 1 22 1 3 1-14 1-24 1-22 1-16 1-9 1-3 1-2h5l1 1 1 2 1 9 1 22 1 41 1 54 1 41 1 3 1-30 1-45 1-43 1-30 1-15 1-7 1-2 1-1h3l1 2 1 7 1 16 1 19 1 10 1-6 1-16 1-16 1-10 1-4 1-2h3l1 1 1 3 1 10 1 22 1 32 1 32 1 13 1-11 1-26 1-27 1-17 1-5 1 8 1 14 1 15 1 8 1-1 1-8 1-13 1-15 1-13 1-9 1-6 1-4 1 0 1 5 1 16 1 37 1 57 1 59 1 26 1-18 1-46 1-53 1-42 1-26 1-12 1-3 1 0 1 5 1 9 1 12 1 9 1 0 1-6 1-11 1-9 1-6 1-3 1 1 1 7 1 20 1 35 1 44 1 30 1-1 1-26 1-38 1-34 1-22 1-12 1-5 1-1 1-1 1 1 1 3 1 9 1 23 1 38 1 44 1 26 1-7 1-29 1-39 1-32 1-21 1-10 1-4 1-1 1-1 1 1 1 2 1 3 1 4 1 2 1 0 1-2 1 0 1 0 1 2 1 0 1-2 1-2 1-4 1-2 1-1 1-1h1l1 1 1 1 1 5 1 9 1 14 1 12 1 4 1-6 1-12 1-11 1-9 1-4 1-1 1 1 1 3 1 4 1 1 1-1 1-3 1-3 1-2" stroke="#D95319" vector-effect="non-scaling-stroke"/>
<path d="M0 0h11l1 1 1 2 1 5 1 4 1 1 1-3 1-4 1-1 1 0 1 1 1-1 1-2 1-2 1-1h4l1 2 1 5 1 12 1 21 1 23 1 14 1-3 1-16 1-21 1-17 1-11 1-6 1-1 1 2 1 8 1 16 1 22 1 18 1 4 1-11 1-18 1-18 1-13 1-7 1-4 1-1h4l1 1 1 3 1 8 1 19 1 31 1 33 1 16 1-8 1-25 1-29 1-24 1-14 1-7 1-3 1-1h4l1 2 1 4 1 11 1 16 1 9 1-3 1-12 1-13 1-8 1-4 1-2h1l1 1 1 3 1 9 1 17 1 22 1 17 1 2 1-11 1-19 1-17 1-13 1-6 1-1 1 1 1 2 1 2 1 2 1 0 1-1 1-2 1-2 1-2 1-2 1-1 1 0 1 1 1 3 1 10 1 19 1 26 1 21 1 4 1-13 1-22 1-22 1-15 1-8 1-3 1-1 1 1 1 2 1 6 1 6 1 5 1 1 1-4 1-6 1-5 1-4 1-2 1-1 1 1 1 2 1 7 1 18 1 29 1 33 1 20 1-6 1-22 1-29 1-25 1-16 1-8 1-3 1 0 1 2 1 6 1 15 1 23 1 25 1 13 1-6 1-19 1-22 1-18 1-12 1-5 1-2 1-1h2l1 1 1 1 1 2 1 1 1 0 1 1 1 1 1 2 1 1 1-1 1-2 1-2 1-3 1-1 1-1h3l1 1 1 2 1 4 1 6 1 4 1 1 1-3 1-4 1-5 1-3 1-2 1 0 1 1 1 1 1 2 1 0 1 0 1-1 1-2 1-1" stroke="#EDB120" vector-effect="non-scaling-stroke"/>
<path d="M0 0h11l1 1 1 3 1 5 1 6 1 2 1-3 1-5 1-2 1 3 1 4 1 1 1-5 1-5 1-3 1-1 1 1 1 4 1 12 1 20 1 26 1 19 1 0 1-15 1-22 1-20 1-12 1 0 1 10 1 19 1 19 1 7 1-8 1-16 1-18 1-14 1-8 1-3 1-1 1-1h4l1 2 1 7 1 21 1 41 1 61 1 56 1 17 1-25 1-50 1-52 1-40 1-23 1-10 1-4 1-1h3l1 2 1 7 1 17 1 27 1 20 1-2 1-20 1-23 1-16 1-8 1-3 1-1h1l1 1 1 5 1 15 1 32 1 51 1 53 1 25 1-15 1-41 1-48 1-38 1-23 1-11 1-4 1-1 1 2 1 3 1 7 1 11 1 14 1 14 1 9 1 1 1-6 1-10 1-9 1-2 1 14 1 30 1 34 1 17 1-10 1-29 1-34 1-28 1-17 1-8 1-3 1-1h5l1 2 1 3 1 7 1 11 1 11 1 4 1-1 1 0 1 14 1 38 1 53 1 42 1 2 1-32 1-49 1-46 1-32 1-17 1-7 1-2 1 0 1 3 1 12 1 27 1 47 1 55 1 34 1-6 1-36 1-48 1-41 1-27 1-13 1-6 1-1 1-1h6l1 1 1 1 1 2 1 4 1 3 1 1 1 0 1-2 1-1 1-1 1-1 1-1 1-2 1-2 1-1 1-1h3l1 1 1 2 1 5 1 8 1 10 1 6 1-1 1-6 1-9 1-7 1-5 1-2 1 0 1 2 1 3 1 2 1 0 1-2 1-2 1-3" stroke="#7E2F8E" vector-effect="non-scaling-stroke"/>
<path d="M0 0h11l1 2 1 6 1 13 1 18 1 9 1-5 1-14 1-11 1-4 1 1 1-1 1-4 1-5 1-3 1-1 1 0 1 4 1 10 1 23 1 33 1 31 1 12 1-13 1-27 1-29 1-22 1-9 1 6 1 21 1 35 1 32 1 10 1-14 1-29 1-30 1-23 1-13 1-6 1-2 1-1h4l1 2 1 8 1 21 1 42 1 61 1 55 1 16 1-27 1-50 1-52 1-39 1-22 1-10 1-4 1-1h2l1 1 1 2 1 10 1 23 1 30 1 18 1-8 1-24 1-25 1-17 1-7 1-2 1-1 1 1 1 2 1 10 1 25 1 51 1 70 1 60 1 13 1-34 1-58 1-59 1-42 1-24 1-10 1-3 1-1 1 3 1 5 1 10 1 16 1 21 1 21 1 15 1 3 1-8 1-13 1-9 1 8 1 36 1 57 1 49 1 5 1-35 1-57 1-55 1-39 1-21 1-9 1-3 1-1h4l1 1 1 4 1 7 1 14 1 15 1 10 1 0 1-4 1 5 1 29 1 54 1 58 1 24 1-22 1-50 1-57 1-44 1-26 1-12 1-4 1-1 1 0 1 3 1 11 1 28 1 50 1 63 1 44 1-1 1-37 1-54 1-48 1-33 1-17 1-7 1-2 1-1h6l1 1 1 2 1 4 1 4 1 2 1 0 1-1 1 0 1 1 1 2 1 0 1-3 1-4 1-3 1-3 1-1 1-1h1l1 1 1 3 1 6 1 12 1 16 1 11 1 0 1-9 1-13 1-12 1-8 1-4 1 0 1 2 1 4 1 5 1 1 1-2 1-3 1-4" stroke="#77AC30" vector-effect="non-scaling-stroke"/>
<path d="M0 0h10l1 1 1 1 1 6 1 9 1 8 1 0 1-5 1-5 1-2 1 1 1-2 1-4 1-4 1-3 1 0 1 1 1 7 1 19 1 35 1 47 1 37 1 5 1-25 1-39 1-38 1-26 1-11 1 1 1 15 1 25 1 24 1 9 1-9 1-21 1-22 1-18 1-10 1-5 1-1 1-1h3l1 1 1 3 1 11 1 29 1 52 1 68 1 49 1 2 1-38 1-57 1-53 1-36 1-19 1-8 1-3 1-1h3l1 3 1 10 1 25 1 39 1 30 1-3 1-28 1-34 1-25 1-12 1-4 1-1h1l1 2 1 6 1 19 1 43 1 70 1 75 1 38 1-18 1-55 1-67 1-54 1-34 1-16 1-6 1 0 1 2 1 6 1 10 1 12 1 12 1 9 1 1 1-5 1-8 1-8 1 0 1 18 1 42 1 54 1 37 1-4 1-35 1-49 1-44 1-29 1-15 1-6 1-2 1-1h4l1 1 1 2 1 6 1 12 1 14 1 11 1 2 1-4 1 1 1 17 1 40 1 48 1 26 1-12 1-38 1-46 1-39 1-23 1-12 1-4 1-1 1 0 1 3 1 11 1 26 1 45 1 52 1 33 1-5 1-35 1-45 1-40 1-26 1-13 1-5 1-1 1-1h6l1 1 1 2 1 4 1 3 1 2 1 0 1-2 1-1 1 1 1 2 1 0 1-2 1-3 1-3 1-2 1-1 1-1h1l1 1 1 1 1 5 1 8 1 10 1 7 1 0 1-6 1-8 1-8 1-5 1-3 1 0 1 3 1 4 1 4 1 1 1-1 1-3 1-4 1-3" stroke="#4DBEEE" vector-effect="non-scaling-stroke"/>
<path d="M0 0h11l1 1 1 4 1 9 1 14 1 11 1-1 1-9 1-9 1-3 1 2 1-3 1-5 1-6 1-3 1-1 1 1 1 6 1 19 1 39 1 58 1 57 1 21 1-21 1-48 1-52 1-40 1-20 1-1 1 19 1 35 1 37 1 16 1-11 1-29 1-33 1-26 1-16 1-8 1-3 1-1h3l1 1 1 2 1 9 1 24 1 51 1 72 1 65 1 18 1-31 1-59 1-62 1-46 1-27 1-11 1-4 1-2h2l1 1 1 3 1 11 1 30 1 44 1 33 1-5 1-33 1-39 1-26 1-13 1-5 1-1 1 1 1 4 1 15 1 38 1 70 1 88 1 63 1 1 1-50 1-75 1-69 1-47 1-24 1-10 1-3 1 1 1 6 1 11 1 19 1 27 1 32 1 26 1 11 1-6 1-18 1-21 1-13 1 15 1 57 1 90 1 79 1 14 1-50 1-84 1-84 1-60 1-33 1-14 1-5 1-2h3l1 1 1 1 1 5 1 11 1 14 1 12 1 3 1-5 1-8 1 2 1 25 1 51 1 63 1 39 1-9 1-44 1-57 1-48 1-32 1-15 1-6 1-2 1 1 1 6 1 21 1 49 1 84 1 95 1 56 1-15 1-65 1-82 1-71 1-45 1-22 1-9 1-3 1-1h6l1 1 1 3 1 5 1 6 1 5 1 1 1-1 1-2 1 0 1-1 1-2 1-4 1-4 1-3 1-2 1-1 1-1h2l1 2 1 5 1 10 1 15 1 16 1 7 1-5 1-13 1-14 1-11 1-7 1-2 1 1 1 4 1 4 1 3 1-1 1-3 1-4" stroke="#A2142F" vector-effect="non-scaling-stroke"/>
<path d="M0 0h11l1 1 1 3 1 6 1 8 1 4 1-3 1-6 1-5 1 0 1 4 1 0 1-2 1-5 1-3 1-1 1 0 1 2 1 8 1 18 1 28 1 29 1 13 1-8 1-22 1-26 1-19 1-6 1 7 1 20 1 23 1 13 1-6 1-17 1-22 1-17 1-11 1-5 1-2 1-1h4l1 1 1 3 1 11 1 25 1 43 1 50 1 31 1-6 1-33 1-44 1-37 1-25 1-12 1-5 1-1 1-1h2l1 1 1 2 1 9 1 17 1 19 1 6 1-10 1-16 1-15 1-8 1-4 1-1h1l1 1 1 3 1 10 1 26 1 49 1 64 1 48 1 3 1-35 1-54 1-50 1-35 1-19 1-7 1-3 1 0 1 2 1 5 1 7 1 11 1 11 1 10 1 5 1-3 1-7 1-8 1-5 1 6 1 22 1 36 1 32 1 7 1-18 1-33 1-34 1-24 1-14 1-6 1-2 1-1h4l1 1 1 3 1 6 1 8 1 7 1 3 1-2 1-2 1 7 1 26 1 45 1 48 1 21 1-16 1-39 1-44 1-36 1-21 1-10 1-3 1-1 1 2 1 7 1 20 1 36 1 46 1 35 1 1 1-26 1-39 1-37 1-25 1-13 1-6 1-1 1-1h7l1 1 1 2 1 3 1 3 1 2 1 0 1 0 1 0 1 1 1 1 1-2 1-2 1-4 1-2 1-2 1-1h2l1 1 1 1 1 5 1 8 1 9 1 6 1-1 1-6 1-8 1-7 1-4 1-2 1 1 1 2 1 3 1 3 1 0 1-1 1-3 1-3" stroke="#0072BD" vector-effect="non-scaling-stroke"/>
<path d="M0 0h10l1 1 1 1 1 6 1 11 1 10 1 2 1-7 1-9 1-5 1-1 1 1 1-1 1-3 1-3 1-2 1 0 1 3 1 10 1 22 1 37 1 39 1 21 1-9 1-29 1-35 1-28 1-15 1-1 1 14 1 27 1 30 1 15 1-8 1-22 1-27 1-22 1-13 1-7 1-2 1-1h4l1 1 1 4 1 13 1 32 1 54 1 63 1 38 1-8 1-41 1-55 1-47 1-30 1-15 1-6 1-2 1-1h2l1 3 1 9 1 25 1 39 1 33 1-2 1-27 1-35 1-26 1-13 1-5 1-1h1l1 1 1 2 1 8 1 21 1 36 1 45 1 30 1-2 1-27 1-38 1-35 1-22 1-12 1-4 1-1 1 2 1 6 1 10 1 17 1 22 1 21 1 14 1 2 1-10 1-15 1-17 1-9 1 10 1 35 1 53 1 41 1 3 1-32 1-49 1-46 1-32 1-17 1-8 1-2 1-1h4l1 2 1 4 1 9 1 14 1 14 1 6 1-4 1-7 1 0 1 20 1 48 1 62 1 40 1-5 1-41 1-56 1-48 1-32 1-17 1-6 1-1 1 3 1 11 1 27 1 44 1 48 1 27 1-10 1-34 1-43 1-36 1-22 1-11 1-4 1-2h8l1 1 1 2 1 4 1 4 1 2 1 0 1-1 1 0 1 0 1 1 1-1 1-3 1-3 1-3 1-2 1 0 1-1h1l1 1 1 3 1 7 1 12 1 15 1 10 1-2 1-9 1-13 1-11 1-6 1-3 1 2 1 3 1 3 1 1 1-2 1-4 1-3 1-2" stroke="#D95319" vector-effect="non-scaling-stroke"/>
<path d="M0 0h23l1 2 1 8 1 28 1 63 1 81 1 43 1-27 1-66 1-64 1-35 1 9 1 58 1 78 1 22 1-45 1-71 1-51 1-24 1-7 1-1 1 5 1 23 1 57 1 70 1 22 1-39 1-62 1-47 1-22 1-6 1-2h7l1 1 1 3 1 16 1 45 1 77 1 70 1 7 1-51 1-71 1-54 1-29 1-10 1-3 1-1h16l1 1 1 7 1 24 1 54 1 73 1 43 1-20 1-58 1-60 1-39 1-18 1-5 1-2h11l1 1 1 6 1 24 1 59 1 87 1 60 1-13 1-65 1-74 1-50 1-24 1-9 1-2h13l1 3 1 11 1 31 1 57 1 56 1 10 1-36 1-53 1-43 1-24 1-9 1-2 1-1h2l1 2 1 8 1 27 1 61 1 79 1 41 1-26 1-64 1-63 1-40 1-18 1-5 1-2h41" stroke="#0072BD" vector-effect="non-scaling-stroke"/>
</g></g>
<rect x="59.5" y="359.5" width="262" height="81" fill="none" stroke="#6e6e6e"/>
<text x="59.9" y="454.3" font-size="12.8" text-anchor="middle">20.6</text>
<text x="103.6" y="454.3" font-size="12.8" text-anchor="middle">20.8</text>
<text x="147.2" y="454.3" font-size="12.8" text-anchor="middle">21</text>
<text x="190.9" y="454.3" font-size="12.8" text-anchor="middle">21.2</text>
<text x="234.6" y="454.3" font-size="12.8" text-anchor="middle">21.4</text>
<text x="278.2" y="454.3" font-size="12.8" text-anchor="middle">21.6</text>
<text x="321.9" y="454.3" font-size="12.8" text-anchor="middle">21.8</text>
<text x="52.5" y="443.9" font-size="12.2" text-anchor="middle">0</text>
<text x="52.5" y="398.9" font-size="12.2" text-anchor="middle">1</text>
<path d="M59.5 440.5v-3M59.5 359.5v3M103.2 440.5v-3M103.2 359.5v3M146.8 440.5v-3M146.8 359.5v3M190.5 440.5v-3M190.5 359.5v3M234.2 440.5v-3M234.2 359.5v3M277.8 440.5v-3M277.8 359.5v3M321.5 440.5v-3M321.5 359.5v3M59.5 440.5h3M321.5 440.5h-3M59.5 418h3M321.5 418h-3M59.5 395.5h3M321.5 395.5h-3M59.5 373h3M321.5 373h-3" stroke="#6e6e6e" stroke-width=".9"/>
<clipPath id="cb2"><rect x="399.2" y="360" width="261.7" height="80.5"/></clipPath>
<g clip-path="url(#cb2)"><g transform="translate(399.2 440.50) scale(1.2522 -.2)" fill="none" stroke-width="0.7" stroke-linejoin="round">
<path d="M0 0h11l1 1 1 3 1 6 1 7 1 5 1-3 1-5 1-4 1-2 1-1 1-2 1-3 1-1 1-1h3l1 2 1 7 1 18 1 34 1 44 1 32 1 2 1-24 1-37 1-34 1-19 1-1 1 19 1 32 1 31 1 9 1-15 1-28 1-30 1-21 1-13 1-5 1-2 1-1h2l1 1 1 2 1 8 1 20 1 39 1 49 1 35 1 1 1-28 1-41 1-39 1-25 1-14 1-6 1-1 1-1h1l1 1 1 2 1 9 1 19 1 24 1 12 1-9 1-20 1-20 1-11 1-5 1-2h2l1 3 1 8 1 22 1 46 1 65 1 58 1 15 1-30 1-54 1-55 1-41 1-22 1-10 1-4 1-1h1l1 1 1 3 1 5 1 10 1 14 1 17 1 14 1 8 1 0 1-2 1 5 1 22 1 35 1 29 1-1 1-29 1-41 1-40 1-27 1-14 1-6 1-2 1-1h4l1 1 1 2 1 4 1 7 1 7 1 3 1 0 1 0 1 10 1 31 1 53 1 55 1 24 1-20 1-45 1-52 1-40 1-23 1-11 1-4 1-2h2l1 1 1 5 1 16 1 35 1 58 1 63 1 33 1-14 1-46 1-56 1-46 1-28 1-14 1-5 1-2h5l1 1 1 2 1 3 1 3 1 2 1 0 1-1 1 0 1 0 1 1 1-1 1-2 1-3 1-2 1-2 1-1h3l1 2 1 3 1 6 1 8 1 6 1 1 1-5 1-6 1-7 1-4 1-2 1 0 1 2 1 3 1 3 1 1 1-1 1-3 1-3" stroke="#0072BD" vector-effect="non-scaling-stroke"/>
<path d="M0 0h10l1 2 1 5 1 12 1 14 1 7 1-6 1-11 1-9 1-1 1 2 1-1 1-5 1-5 1-2 1-2h1l1 1 1 2 1 7 1 18 1 32 1 40 1 27 1-1 1-24 1-34 1-31 1-19 1-5 1 8 1 22 1 30 1 22 1 0 1-17 1-26 1-23 1-16 1-8 1-4 1-1h2l1 1 1 2 1 7 1 19 1 37 1 49 1 37 1 3 1-27 1-40 1-39 1-26 1-14 1-6 1-2 1-1h2l1 1 1 3 1 10 1 20 1 23 1 8 1-11 1-20 1-18 1-10 1-4 1-2h1l1 1 1 3 1 9 1 20 1 32 1 33 1 15 1-10 1-25 1-30 1-24 1-14 1-7 1-2 1-1h1l1 1 1 2 1 4 1 7 1 11 1 14 1 13 1 9 1 1 1-2 1 4 1 22 1 43 1 49 1 23 1-19 1-45 1-52 1-42 1-25 1-12 1-4 1-2h6l1 1 1 3 1 6 1 7 1 6 1 2 1 1 1 10 1 27 1 47 1 48 1 18 1-18 1-42 1-46 1-35 1-21 1-9 1-4 1-1h2l1 2 1 6 1 18 1 35 1 49 1 43 1 10 1-23 1-41 1-42 1-30 1-16 1-8 1-2 1-1h4l1 1 1 1 1 2 1 3 1 2 1 1 1 0 1 0 1 1 1 0 1 0 1-2 1-3 1-2 1-2 1-1 1-1h2l1 2 1 4 1 8 1 13 1 13 1 4 1-5 1-10 1-12 1-9 1-4 1-2 1 0 1 1 1 2 1 1 1 0 1-1 1-2 1-1" stroke="#D95319" vector-effect="non-scaling-stroke"/>
<path d="M0 0h10l1 1 1 4 1 9 1 15 1 12 1-1 1-10 1-11 1-5 1 1 1 0 1-4 1-5 1-4 1-1 1-1h1l1 2 1 6 1 18 1 36 1 54 1 50 1 16 1-22 1-45 1-46 1-34 1-13 1 8 1 34 1 53 1 48 1 15 1-23 1-45 1-46 1-34 1-19 1-9 1-3 1-1h1l1 1 1 3 1 10 1 29 1 59 1 81 1 68 1 15 1-39 1-68 1-67 1-48 1-27 1-12 1-4 1-1h2l1 3 1 8 1 21 1 33 1 25 1-4 1-25 1-28 1-19 1-10 1-3 1-1h2l1 3 1 8 1 26 1 55 1 86 1 84 1 34 1-30 1-70 1-77 1-60 1-35 1-16 1-6 1-1 1 0 1 1 1 4 1 7 1 14 1 18 1 22 1 17 1 8 1 0 1 1 1 18 1 50 1 75 1 58 1-1 1-53 1-77 1-72 1-49 1-26 1-11 1-4 1-1h4l1 1 1 4 1 7 1 12 1 13 1 6 1-3 1-5 1 2 1 24 1 48 1 58 1 33 1-12 1-42 1-53 1-45 1-27 1-14 1-5 1-1 1-1 1 1 1 2 1 9 1 26 1 52 1 72 1 61 1 13 1-34 1-60 1-60 1-43 1-24 1-10 1-4 1-1h4l1 1 1 1 1 3 1 3 1 3 1 1 1-1 1-1 1 0 1 2 1 0 1-1 1-2 1-4 1-2 1-2 1-1h2l1 1 1 3 1 7 1 12 1 14 1 9 1-1 1-9 1-13 1-11 1-6 1-4 1 0 1 2 1 3 1 3 1 2 1-1 1-3 1-3" stroke="#EDB120" vector-effect="non-scaling-stroke"/>
<path d="M0 0h11l1 1 1 3 1 8 1 10 1 7 1-3 1-7 1-7 1-2 1 1 1-2 1-3 1-3 1-2 1-1h1l1 1 1 2 1 8 1 21 1 37 1 47 1 32 1-1 1-28 1-39 1-36 1-20 1-3 1 15 1 32 1 33 1 15 1-10 1-27 1-30 1-24 1-15 1-7 1-2 1-1h2l1 1 1 2 1 9 1 23 1 42 1 55 1 41 1 3 1-31 1-47 1-43 1-30 1-16 1-6 1-2 1-1h1l1 1 1 3 1 11 1 26 1 33 1 17 1-10 1-27 1-27 1-17 1-7 1-2 1-1 1 1 1 5 1 16 1 37 1 63 1 71 1 40 1-13 1-49 1-62 1-52 1-32 1-16 1-6 1-2 1-1h1l1 1 1 1 1 4 1 7 1 11 1 16 1 15 1 11 1 3 1-2 1 2 1 18 1 38 1 47 1 25 1-15 1-43 1-51 1-42 1-26 1-13 1-5 1-2h4l1 1 1 1 1 4 1 8 1 10 1 8 1 1 1-4 1-3 1 8 1 30 1 49 1 48 1 16 1-20 1-43 1-46 1-35 1-20 1-9 1-3 1-1 1 1 1 2 1 7 1 22 1 43 1 61 1 53 1 12 1-28 1-51 1-51 1-37 1-21 1-9 1-3 1-1h5l1 1 1 1 1 2 1 3 1 2 1 0 1-1 1 0 1 1 1 1 1 0 1-2 1-2 1-3 1-1 1-1 1-1h1l1 1 1 1 1 4 1 8 1 11 1 8 1 1 1-5 1-9 1-9 1-6 1-3 1 0 1 0 1 2 1 2 1 0 1 0 1-2 1-2" stroke="#7E2F8E" vector-effect="non-scaling-stroke"/>
<path d="M0 0h9l1 1 1 3 1 9 1 16 1 16 1 2 1-10 1-12 1-6 1 2 1 2 1-5 1-8 1-6 1-3 1-1h1l1 2 1 7 1 18 1 40 1 59 1 54 1 18 1-23 1-49 1-51 1-37 1-17 1 5 1 28 1 48 1 48 1 20 1-18 1-39 1-45 1-34 1-20 1-9 1-4 1-1h2l1 1 1 5 1 17 1 41 1 71 1 86 1 54 1-8 1-55 1-74 1-64 1-41 1-21 1-8 1-3 1-1h1l1 1 1 4 1 15 1 35 1 48 1 27 1-13 1-38 1-39 1-25 1-11 1-3 1-1 1 1 1 4 1 13 1 37 1 71 1 95 1 75 1 10 1-50 1-80 1-76 1-54 1-28 1-12 1-4 1-1 1 0 1 3 1 6 1 11 1 20 1 27 1 28 1 21 1 7 1-6 1-8 1 6 1 39 1 68 1 61 1 9 1-45 1-74 1-74 1-52 1-29 1-13 1-4 1-2h4l1 1 1 4 1 8 1 15 1 17 1 10 1 0 1-6 1 4 1 29 1 62 1 73 1 39 1-17 1-55 1-68 1-56 1-34 1-17 1-6 1-2 1-1h1l1 1 1 4 1 15 1 39 1 74 1 94 1 71 1 3 1-53 1-80 1-75 1-50 1-27 1-11 1-4 1-1h4l1 1 1 3 1 5 1 6 1 4 1 1 1-2 1-2 1 0 1 2 1 0 1-3 1-4 1-4 1-4 1-2 1-1h1l1 1 1 2 1 6 1 12 1 14 1 11 1 0 1-8 1-13 1-11 1-7 1-4 1 1 1 3 1 5 1 5 1 1 1-3 1-4 1-5 1-3" stroke="#77AC30" vector-effect="non-scaling-stroke"/>
<path d="M0 0h10l1 1 1 3 1 8 1 11 1 7 1-3 1-8 1-7 1-1 1 2 1 0 1-3 1-5 1-3 1-2h3l1 2 1 5 1 13 1 24 1 30 1 22 1 0 1-18 1-25 1-23 1-14 1-2 1 8 1 13 1 10 1 1 1-9 1-12 1-11 1-8 1-4 1-1 1-1h3l1 1 1 4 1 13 1 31 1 53 1 60 1 35 1-10 1-41 1-52 1-45 1-28 1-13 1-6 1-1 1-1h1l1 1 1 4 1 13 1 26 1 31 1 11 1-14 1-26 1-24 1-14 1-6 1-2h1l1 2 1 7 1 19 1 39 1 59 1 54 1 18 1-24 1-48 1-51 1-38 1-22 1-10 1-4 1-1h2l1 1 1 2 1 3 1 5 1 7 1 7 1 5 1 1 1 0 1 5 1 19 1 42 1 55 1 40 1-1 1-35 1-52 1-46 1-32 1-16 1-7 1-2 1-1h4l1 1 1 1 1 4 1 8 1 10 1 8 1 2 1-1 1 6 1 24 1 43 1 45 1 17 1-18 1-40 1-43 1-34 1-19 1-9 1-4 1-1h2l1 2 1 6 1 14 1 28 1 36 1 27 1 2 1-20 1-30 1-29 1-19 1-11 1-4 1-2h5l1 1 1 1 1 3 1 3 1 2 1 0 1-1 1-1 1 0 1 1 1 1 1-1 1-2 1-3 1-2 1-1 1-1h2l1 1 1 3 1 6 1 7 1 7 1 1 1-4 1-6 1-6 1-5 1-2 1-1 1 0 1 2 1 2 1 2 1 0 1-1 1-2 1-1" stroke="#4DBEEE" vector-effect="non-scaling-stroke"/>
<path d="M0 0h11l1 1 1 2 1 4 1 4 1 0 1-3 1-2 1 0 1 1 1 1 1-2 1-3 1-2 1-1h3l1 1 1 5 1 11 1 21 1 27 1 20 1 2 1-15 1-23 1-20 1-12 1 0 1 9 1 13 1 6 1-3 1-10 1-12 1-10 1-6 1-2 1-2h4l1 1 1 2 1 7 1 17 1 29 1 35 1 20 1-4 1-23 1-30 1-25 1-16 1-9 1-3 1-1h2l1 1 1 4 1 10 1 17 1 15 1 0 1-11 1-16 1-11 1-6 1-2 1-1h1l1 1 1 2 1 7 1 17 1 30 1 36 1 23 1-4 1-23 1-31 1-27 1-17 1-9 1-4 1-1h2l1 1 1 0 1 2 1 4 1 6 1 7 1 6 1 4 1 1 1 0 1 6 1 15 1 25 1 23 1 3 1-15 1-27 1-25 1-19 1-10 1-5 1-1 1-1h4l1 1 1 1 1 4 1 7 1 10 1 6 1 1 1-4 1 1 1 15 1 36 1 51 1 40 1 3 1-30 1-45 1-43 1-29 1-16 1-6 1-2 1-1h1l1 1 1 4 1 12 1 26 1 39 1 38 1 14 1-14 1-32 1-35 1-27 1-15 1-7 1-3 1-1h5l1 1 1 2 1 3 1 3 1 1 1 0 1-2 1-2 1 0 1 0 1-1 1-1 1-1 1-1 1-1 1-1h3l1 1 1 3 1 6 1 8 1 5 1 1 1-4 1-6 1-6 1-4 1-2 1-1 1 1 1 1 1 2 1 0 1 0 1-1 1-2" stroke="#A2142F" vector-effect="non-scaling-stroke"/>
<path d="M0 0h10l1 1 1 2 1 4 1 6 1 4 1-2 1-4 1-4 1 0 1 2 1 0 1-3 1-3 1-2 1-1h2l1 1 1 3 1 9 1 19 1 30 1 28 1 10 1-11 1-24 1-26 1-18 1-6 1 8 1 22 1 29 1 20 1-2 1-18 1-25 1-22 1-15 1-8 1-3 1-1h3l1 2 1 4 1 14 1 28 1 41 1 37 1 10 1-17 1-34 1-35 1-26 1-14 1-7 1-2 1-1h1l1 1 1 5 1 13 1 23 1 24 1 4 1-15 1-23 1-18 1-9 1-4 1-1h2l1 1 1 4 1 11 1 25 1 40 1 40 1 19 1-13 1-32 1-36 1-29 1-18 1-8 1-3 1-1h1l1 1 1 1 1 4 1 7 1 10 1 13 1 13 1 8 1 0 1-4 1-5 1 3 1 21 1 36 1 35 1 7 1-21 1-37 1-38 1-28 1-16 1-7 1-2 1-1h4l1 1 1 3 1 7 1 8 1 8 1 3 1-2 1 0 1 12 1 33 1 50 1 41 1 6 1-27 1-44 1-43 1-30 1-16 1-7 1-2 1-1h1l1 1 1 2 1 7 1 16 1 27 1 30 1 18 1-6 1-21 1-27 1-22 1-14 1-7 1-3 1-1h5l1 1 1 1 1 2 1 3 1 2 1 0 1-1 1-2 1-1 1 0 1 0 1-1 1-1 1-1 1-1 1-1h3l1 1 1 1 1 3 1 5 1 5 1 3 1-1 1-4 1-5 1-4 1-2 1-1 1 0 1 0 1 1 1 0 1 0 1 0 1-1 1 0" stroke="#0072BD" vector-effect="non-scaling-stroke"/>
<path d="M0 0h10l1 1 1 2 1 9 1 15 1 15 1 4 1-9 1-13 1-6 1 2 1 0 1-4 1-7 1-5 1-3 1-1h1l1 2 1 7 1 19 1 41 1 61 1 57 1 20 1-24 1-50 1-53 1-37 1-13 1 13 1 36 1 42 1 24 1-9 1-31 1-39 1-32 1-19 1-10 1-4 1-1h2l1 1 1 3 1 11 1 30 1 56 1 72 1 55 1 4 1-41 1-61 1-57 1-40 1-20 1-9 1-3 1-1h2l1 1 1 3 1 13 1 28 1 36 1 18 1-12 1-30 1-29 1-17 1-8 1-2 1-1 1 2 1 6 1 20 1 50 1 85 1 99 1 61 1-13 1-66 1-86 1-74 1-47 1-24 1-9 1-3 1 0 1 0 1 3 1 5 1 12 1 19 1 26 1 28 1 21 1 8 1-1 1 2 1 23 1 49 1 53 1 17 1-32 1-63 1-67 1-52 1-31 1-14 1-5 1-2h4l1 1 1 2 1 7 1 13 1 16 1 12 1 2 1-7 1-6 1 12 1 42 1 71 1 68 1 22 1-31 1-62 1-66 1-49 1-28 1-13 1-4 1-2h1l1 1 1 4 1 14 1 37 1 68 1 89 1 66 1 3 1-50 1-75 1-70 1-47 1-25 1-10 1-4 1-1h4l1 1 1 2 1 4 1 5 1 5 1 1 1-1 1-1 1 0 1 2 1 0 1-3 1-4 1-5 1-3 1-2 1-1h1l1 1 1 3 1 8 1 14 1 18 1 13 1 0 1-11 1-15 1-14 1-9 1-5 1-1 1 1 1 3 1 4 1 3 1 0 1-2 1-4 1-3" stroke="#D95319" vector-effect="non-scaling-stroke"/>
<path d="M0 0h10l1 1 1 4 1 10 1 16 1 15 1 0 1-11 1-13 1-6 1-2 1-1 1-4 1-4 1-3 1-2h1l1 1 1 3 1 9 1 23 1 39 1 45 1 26 1-8 1-30 1-39 1-31 1-15 1 6 1 30 1 48 1 43 1 13 1-21 1-40 1-42 1-31 1-18 1-7 1-3 1-1h2l1 1 1 3 1 11 1 28 1 52 1 64 1 46 1 0 1-38 1-56 1-50 1-33 1-18 1-7 1-2 1-1h2l1 1 1 5 1 14 1 29 1 32 1 10 1-16 1-29 1-24 1-14 1-6 1-2h1l1 1 1 3 1 11 1 29 1 53 1 68 1 50 1 1 1-39 1-58 1-53 1-36 1-19 1-8 1-2 1-1 1 1 1 2 1 4 1 9 1 14 1 18 1 20 1 14 1 4 1-3 1-1 1 15 1 45 1 67 1 50 1-2 1-47 1-68 1-63 1-43 1-22 1-10 1-3 1-1h3l1 1 1 1 1 5 1 11 1 15 1 14 1 5 1-5 1-7 1 4 1 29 1 55 1 60 1 26 1-19 1-50 1-56 1-44 1-26 1-13 1-4 1-2h1l1 1 1 3 1 12 1 32 1 62 1 82 1 64 1 8 1-44 1-69 1-66 1-45 1-25 1-10 1-4 1-1h4l1 1 1 1 1 3 1 4 1 5 1 3 1 0 1-1 1-1 1-1 1-1 1-2 1-3 1-4 1-2 1-1 1-1h2l1 1 1 4 1 7 1 11 1 10 1 4 1-4 1-8 1-10 1-8 1-4 1-1 1 1 1 3 1 4 1 4 1 0 1-2 1-4 1-3" stroke="#EDB120" vector-effect="non-scaling-stroke"/>
<path d="M0 0h10l1 1 1 3 1 8 1 16 1 13 1 2 1-10 1-12 1-7 1 2 1 2 1-3 1-6 1-5 1-3 1-1h1l1 2 1 6 1 17 1 38 1 57 1 56 1 22 1-20 1-47 1-50 1-35 1-7 1 23 1 48 1 49 1 20 1-19 1-42 1-47 1-36 1-21 1-9 1-4 1-1h3l1 3 1 8 1 23 1 48 1 70 1 62 1 18 1-30 1-58 1-59 1-44 1-25 1-11 1-4 1-1h2l1 2 1 6 1 20 1 38 1 39 1 10 1-23 1-36 1-31 1-16 1-7 1-2h1l1 1 1 3 1 10 1 28 1 53 1 70 1 55 1 5 1-38 1-59 1-56 1-39 1-20 1-9 1-3 1-1 1 1 1 2 1 4 1 8 1 15 1 20 1 23 1 17 1 7 1-3 1-5 1 11 1 43 1 80 1 80 1 27 1-39 1-79 1-85 1-64 1-37 1-17 1-7 1-1 1-1h3l1 1 1 2 1 7 1 11 1 14 1 11 1 2 1-1 1 12 1 37 1 65 1 63 1 20 1-30 1-60 1-62 1-47 1-27 1-12 1-4 1-2h2l1 2 1 6 1 20 1 45 1 76 1 84 1 45 1-18 1-60 1-74 1-60 1-38 1-18 1-7 1-2 1-1h3l1 1 1 2 1 3 1 6 1 5 1 1 1-1 1-1 1 0 1 1 1 0 1-2 1-4 1-4 1-4 1-2 1-1h1l1 1 1 2 1 6 1 11 1 16 1 14 1 3 1-8 1-13 1-14 1-9 1-5 1-2 1 0 1 3 1 4 1 4 1 2 1-2 1-4 1-4" stroke="#7E2F8E" vector-effect="non-scaling-stroke"/>
<path d="M0 0h11l1 1 1 2 1 7 1 10 1 7 1-1 1-7 1-7 1-2 1 1 1 1 1-3 1-4 1-3 1-1 1-1 1 1 1 3 1 10 1 23 1 38 1 42 1 23 1-9 1-30 1-37 1-29 1-13 1 5 1 23 1 33 1 24 1 1 1-20 1-29 1-26 1-18 1-9 1-4 1-2h3l1 1 1 4 1 11 1 29 1 51 1 60 1 39 1-7 1-39 1-52 1-45 1-29 1-15 1-6 1-1 1-1h1l1 1 1 3 1 13 1 30 1 39 1 21 1-12 1-32 1-31 1-20 1-9 1-2 1-1h1l1 1 1 4 1 13 1 27 1 42 1 43 1 18 1-14 1-34 1-39 1-30 1-18 1-9 1-3 1-1h1l1 1 1 2 1 4 1 7 1 11 1 13 1 12 1 6 1-1 1-2 1 5 1 26 1 57 1 71 1 46 1-10 1-52 1-69 1-59 1-38 1-19 1-8 1-2 1-1h3l1 1 1 2 1 6 1 10 1 11 1 8 1 0 1-5 1 0 1 17 1 42 1 57 1 42 1 0 1-36 1-51 1-47 1-31 1-16 1-7 1-2 1-1h1l1 2 1 8 1 22 1 48 1 70 1 67 1 23 1-28 1-58 1-62 1-47 1-27 1-12 1-4 1-2h5l1 2 1 2 1 4 1 5 1 3 1 1 1-1 1 0 1 0 1 0 1-2 1-4 1-4 1-3 1-2 1-1h3l1 2 1 4 1 8 1 12 1 10 1 3 1-5 1-10 1-10 1-7 1-4 1 0 1 2 1 3 1 3 1 0 1-2 1-3 1-3" stroke="#77AC30" vector-effect="non-scaling-stroke"/>
<path d="M0 0h10l1 1 1 3 1 7 1 7 1 3 1-4 1-6 1-4 1 0 1 2 1 1 1-2 1-4 1-2 1-2h2l1 2 1 4 1 12 1 20 1 24 1 16 1-3 1-15 1-21 1-17 1-10 1 1 1 13 1 25 1 26 1 14 1-7 1-20 1-24 1-20 1-11 1-6 1-2 1-1h3l1 1 1 5 1 14 1 30 1 50 1 51 1 24 1-15 1-39 1-46 1-37 1-22 1-11 1-3 1-2h2l1 1 1 5 1 13 1 23 1 19 1 1 1-15 1-20 1-16 1-7 1-3 1-1h1l1 1 1 4 1 12 1 23 1 34 1 30 1 9 1-15 1-28 1-29 1-21 1-12 1-5 1-2 1-1h1l1 1 1 1 1 3 1 5 1 10 1 13 1 15 1 11 1 4 1 1 1 7 1 25 1 46 1 51 1 22 1-22 1-49 1-55 1-44 1-26 1-13 1-4 1-2h5l1 2 1 3 1 7 1 8 1 7 1 1 1-1 1 2 1 18 1 38 1 48 1 31 1-6 1-33 1-43 1-38 1-25 1-12 1-5 1-1 1-1h1l1 1 1 5 1 15 1 34 1 56 1 61 1 31 1-14 1-44 1-54 1-44 1-27 1-13 1-5 1-2h5l1 1 1 1 1 2 1 3 1 3 1 1 1-1 1 0 1 0 1 0 1-1 1-2 1-3 1-2 1-1 1-1h3l1 2 1 3 1 6 1 8 1 6 1 0 1-4 1-7 1-6 1-4 1-3 1 0 1 0 1 1 1 1 1 1 1 0 1-1 1-1 1-1" stroke="#4DBEEE" vector-effect="non-scaling-stroke"/>
<path d="M0 0h11l1 1 1 5 1 11 1 19 1 15 1 0 1-13 1-13 1-5 1 2 1-1 1-6 1-7 1-5 1-2 1-1 1 1 1 2 1 7 1 21 1 40 1 56 1 46 1 9 1-28 1-46 1-44 1-26 1 0 1 30 1 50 1 46 1 11 1-24 1-44 1-45 1-32 1-18 1-8 1-3 1-1h2l1 1 1 3 1 12 1 31 1 60 1 79 1 62 1 7 1-42 1-67 1-64 1-44 1-23 1-10 1-4 1-1h1l1 1 1 5 1 14 1 31 1 35 1 14 1-16 1-31 1-28 1-16 1-7 1-1 1-1 1 1 1 2 1 10 1 29 1 60 1 85 1 77 1 21 1-37 1-71 1-73 1-54 1-30 1-14 1-4 1-1 1 0 1 1 1 5 1 9 1 17 1 24 1 29 1 26 1 14 1-2 1-8 1-1 1 27 1 63 1 74 1 36 1-28 1-71 1-81 1-66 1-40 1-19 1-7 1-2 1-1h3l1 2 1 3 1 9 1 13 1 15 1 7 1-3 1-7 1-2 1 19 1 50 1 69 1 55 1 3 1-40 1-62 1-58 1-39 1-21 1-9 1-3 1-1 1 1 1 2 1 10 1 28 1 61 1 90 1 85 1 30 1-36 1-74 1-79 1-60 1-35 1-15 1-6 1-2h5l1 2 1 2 1 5 1 6 1 4 1 0 1-1 1 0 1 1 1 0 1-3 1-4 1-4 1-4 1-2 1-1 1-1h1l1 2 1 4 1 9 1 16 1 17 1 10 1-4 1-12 1-15 1-13 1-8 1-3 1 0 1 3 1 4 1 2 1 0 1-2 1-3 1-3" stroke="#A2142F" vector-effect="non-scaling-stroke"/>
<path d="M0 0h11l1 1 1 3 1 5 1 6 1 1 1-3 1-4 1-2 1 2 1 1 1-2 1-3 1-3 1-1 1-1h2l1 2 1 5 1 15 1 28 1 38 1 30 1 5 1-19 1-32 1-31 1-20 1-6 1 6 1 14 1 14 1 5 1-6 1-13 1-14 1-11 1-6 1-3 1-1h3l1 1 1 3 1 9 1 23 1 40 1 46 1 28 1-6 1-30 1-41 1-34 1-22 1-11 1-4 1-2h3l1 2 1 5 1 13 1 16 1 9 1-5 1-13 1-14 1-8 1-4 1-1h2l1 1 1 4 1 13 1 30 1 48 1 52 1 26 1-13 1-38 1-46 1-37 1-23 1-11 1-4 1-2h2l1 1 1 0 1 2 1 2 1 3 1 2 1 1 1 1 1 3 1 13 1 31 1 53 1 60 1 32 1-13 1-44 1-54 1-45 1-27 1-14 1-5 1-2h5l1 1 1 1 1 2 1 4 1 3 1 1 1 0 1 5 1 18 1 39 1 54 1 45 1 7 1-29 1-46 1-45 1-32 1-17 1-8 1-2 1-1h1l1 1 1 3 1 9 1 24 1 41 1 49 1 32 1-5 1-32 1-43 1-37 1-23 1-12 1-5 1-2h6l1 1 1 1 1 2 1 1 1 0 1 0 1 1 1 1 1 0 1-1 1-2 1-2 1-1 1-1h4l1 1 1 2 1 5 1 6 1 5 1 1 1-2 1-5 1-6 1-3 1-3 1 0 1 0 1 1 1 1 1 0 1 0 1-1 1-1" stroke="#0072BD" vector-effect="non-scaling-stroke"/>
<path d="M0 0h10l1 2 1 4 1 12 1 18 1 11 1-4 1-12 1-11 1-2 1 4 1 0 1-6 1-8 1-5 1-2 1-1h1l1 1 1 5 1 15 1 31 1 47 1 47 1 19 1-17 1-39 1-42 1-30 1-8 1 20 1 46 1 56 1 36 1-7 1-38 1-50 1-43 1-27 1-14 1-6 1-1 1-1h2l1 2 1 7 1 21 1 45 1 66 1 62 1 21 1-26 1-54 1-58 1-44 1-25 1-11 1-4 1-2h2l1 3 1 9 1 25 1 39 1 30 1-3 1-28 1-34 1-24 1-12 1-4 1-1h1l1 1 1 5 1 17 1 38 1 65 1 74 1 42 1-12 1-51 1-64 1-55 1-34 1-17 1-6 1-2 1-1 1 1 1 3 1 5 1 12 1 21 1 28 1 31 1 25 1 11 1-2 1 1 1 22 1 55 1 69 1 35 1-26 1-69 1-82 1-67 1-42 1-20 1-8 1-2 1-1h4l1 1 1 2 1 5 1 11 1 14 1 12 1 2 1-5 1-2 1 15 1 43 1 64 1 51 1 6 1-36 1-58 1-54 1-38 1-20 1-9 1-3 1-1 1 1 1 5 1 18 1 42 1 74 1 89 1 58 1-8 1-57 1-77 1-67 1-44 1-21 1-9 1-3 1-1h5l1 2 1 3 1 5 1 6 1 4 1 1 1-1 1-1 1 1 1 0 1-3 1-4 1-5 1-4 1-2 1-1 1-1h1l1 2 1 5 1 10 1 16 1 17 1 7 1-5 1-13 1-15 1-12 1-7 1-2 1 1 1 3 1 4 1 2 1 0 1-3 1-3 1-3" stroke="#D95319" vector-effect="non-scaling-stroke"/>
<path d="M0 0h10l1 1 1 2 1 6 1 10 1 7 1 0 1-7 1-7 1-3 1 0 1-1 1-3 1-2 1-2 1-1h1l1 1 1 3 1 9 1 22 1 36 1 39 1 20 1-8 1-29 1-34 1-29 1-16 1-6 1 4 1 10 1 14 1 8 1-1 1-9 1-12 1-10 1-7 1-3 1-1 1-1h3l1 2 1 5 1 14 1 30 1 43 1 39 1 10 1-19 1-35 1-37 1-27 1-15 1-7 1-2 1-1h2l1 2 1 6 1 17 1 27 1 22 1-1 1-19 1-24 1-17 1-9 1-3 1-1h2l1 2 1 7 1 16 1 29 1 37 1 27 1-1 1-21 1-32 1-29 1-19 1-10 1-4 1-1 1-1 1 1 1 1 1 2 1 5 1 7 1 9 1 8 1 5 1 0 1 0 1 6 1 20 1 34 1 35 1 10 1-17 1-35 1-37 1-27 1-16 1-7 1-3 1-1h5l1 1 1 2 1 4 1 6 1 6 1 3 1-1 1 0 1 9 1 24 1 38 1 34 1 8 1-19 1-34 1-34 1-24 1-14 1-6 1-2 1-1h2l1 2 1 7 1 17 1 31 1 40 1 29 1 1 1-23 1-34 1-31 1-21 1-11 1-5 1-1 1-1h4l1 1 1 2 1 3 1 4 1 2 1 0 1-2 1-2 1 0 1 1 1 0 1-1 1-2 1-2 1-2 1-1 1-1h2l1 2 1 3 1 8 1 10 1 10 1 3 1-5 1-9 1-9 1-7 1-3 1-2 1 1 1 1 1 2 1 1 1 0 1-2 1-1 1-1" stroke="#EDB120" vector-effect="non-scaling-stroke"/>
<path d="M0 0h11l1 2 1 6 1 11 1 11 1 3 1-6 1-10 1-7 1-1 1 1 1-2 1-3 1-3 1-1 1-1h1l1 1 1 4 1 12 1 27 1 44 1 48 1 25 1-11 1-35 1-43 1-33 1-17 1 2 1 18 1 27 1 21 1 0 1-17 1-24 1-22 1-15 1-7 1-4 1-1h2l1 1 1 2 1 8 1 21 1 42 1 57 1 47 1 8 1-29 1-48 1-47 1-33 1-18 1-7 1-3 1-1h2l1 1 1 6 1 17 1 31 1 30 1 5 1-20 1-28 1-24 1-12 1-4 1-2h1l1 1 1 4 1 13 1 35 1 65 1 81 1 59 1 1 1-48 1-69 1-64 1-43 1-22 1-9 1-3 1-1 1 1 1 1 1 3 1 7 1 11 1 17 1 18 1 15 1 6 1-1 1-2 1 10 1 36 1 57 1 49 1 6 1-37 1-60 1-59 1-41 1-23 1-9 1-4 1-1h4l1 1 1 2 1 4 1 7 1 8 1 4 1-2 1-2 1 5 1 23 1 46 1 57 1 37 1-7 1-38 1-50 1-44 1-29 1-14 1-6 1-1 1-1h1l1 2 1 7 1 18 1 36 1 50 1 42 1 8 1-24 1-42 1-41 1-30 1-16 1-7 1-2 1-1h5l1 1 1 2 1 3 1 3 1 1 1 0 1-1 1 0 1 1 1 1 1 0 1-2 1-3 1-3 1-1 1-1 1-1h1l1 1 1 2 1 7 1 10 1 14 1 9 1-1 1-8 1-12 1-10 1-7 1-3 1 0 1 2 1 3 1 3 1 1 1-1 1-3 1-2" stroke="#7E2F8E" vector-effect="non-scaling-stroke"/>
<path d="M0 0h11l1 1 1 4 1 9 1 13 1 7 1-4 1-8 1-7 1-2 1 1 1-2 1-5 1-4 1-2 1-1h1l1 1 1 2 1 7 1 19 1 34 1 45 1 32 1 0 1-25 1-38 1-33 1-21 1-2 1 20 1 39 1 47 1 27 1-7 1-33 1-41 1-34 1-22 1-11 1-4 1-2h3l1 2 1 6 1 18 1 37 1 54 1 51 1 15 1-22 1-45 1-48 1-35 1-20 1-9 1-3 1-1h1l1 2 1 7 1 21 1 38 1 35 1 5 1-25 1-35 1-27 1-14 1-5 1-2h1l1 1 1 2 1 8 1 21 1 40 1 54 1 43 1 5 1-29 1-45 1-43 1-31 1-16 1-7 1-2 1-1h1l1 2 1 2 1 6 1 11 1 17 1 21 1 19 1 11 1 0 1-6 1-1 1 20 1 50 1 69 1 45 1-10 1-53 1-70 1-61 1-40 1-20 1-9 1-2 1-1h4l1 1 1 3 1 8 1 12 1 15 1 9 1-1 1-3 1 5 1 30 1 56 1 60 1 24 1-22 1-51 1-57 1-45 1-26 1-12 1-4 1-2h1l1 2 1 6 1 19 1 41 1 65 1 66 1 30 1-21 1-53 1-60 1-47 1-28 1-13 1-5 1-2h5l1 1 1 1 1 3 1 3 1 2 1 0 1 0 1 0 1 1 1 1 1 1 1-2 1-3 1-3 1-3 1-1 1-1h1l1 1 1 2 1 5 1 10 1 13 1 10 1 1 1-7 1-12 1-10 1-7 1-3 1-1 1 1 1 3 1 3 1 0 1-1 1-2 1-2" stroke="#77AC30" vector-effect="non-scaling-stroke"/>
<path d="M0 0h10l1 2 1 6 1 12 1 16 1 9 1-6 1-12 1-9 1-1 1 3 1-3 1-6 1-6 1-3 1-2h1l1 1 1 3 1 11 1 28 1 50 1 62 1 42 1-3 1-37 1-53 1-46 1-26 1 0 1 26 1 45 1 44 1 14 1-20 1-39 1-41 1-31 1-18 1-8 1-3 1-1h2l1 2 1 8 1 21 1 44 1 65 1 60 1 19 1-27 1-54 1-56 1-42 1-24 1-11 1-4 1-1h2l1 1 1 2 1 11 1 26 1 38 1 28 1-6 1-29 1-33 1-23 1-10 1-4 1-1h1l1 2 1 6 1 20 1 49 1 85 1 99 1 61 1-12 1-66 1-86 1-74 1-47 1-24 1-9 1-3 1 0 1 1 1 4 1 7 1 12 1 19 1 21 1 17 1 8 1-3 1-11 1-9 1 8 1 41 1 79 1 86 1 39 1-29 1-73 1-84 1-66 1-40 1-18 1-7 1-2 1-1h2l1 1 1 4 1 7 1 11 1 12 1 5 1-2 1-6 1 1 1 20 1 46 1 60 1 41 1-4 1-39 1-53 1-48 1-31 1-16 1-6 1-2 1-1h1l1 1 1 5 1 16 1 38 1 67 1 78 1 50 1-9 1-51 1-68 1-59 1-38 1-19 1-8 1-2 1-1h4l1 2 1 2 1 4 1 4 1 2 1 0 1 0 1 0 1 2 1 1 1-1 1-4 1-4 1-4 1-2 1-1 1-1h1l1 2 1 4 1 9 1 15 1 15 1 8 1-5 1-11 1-14 1-11 1-7 1-3 1 0 1 2 1 4 1 3 1 1 1-2 1-3 1-3 1-2" stroke="#4DBEEE" vector-effect="non-scaling-stroke"/>
<path d="M0 0h11l1 2 1 7 1 12 1 14 1 6 1-7 1-11 1-8 1-2 1-1 1-3 1-4 1-3 1-1 1-1h1l1 1 1 3 1 10 1 23 1 39 1 45 1 26 1-8 1-31 1-39 1-31 1-17 1 1 1 17 1 26 1 21 1 1 1-14 1-23 1-22 1-15 1-8 1-3 1-2h3l1 2 1 7 1 20 1 43 1 68 1 66 1 27 1-23 1-55 1-61 1-47 1-28 1-12 1-5 1-2h2l1 1 1 4 1 13 1 25 1 27 1 7 1-14 1-25 1-20 1-12 1-4 1-2h1l1 1 1 4 1 13 1 31 1 52 1 58 1 32 1-11 1-40 1-51 1-43 1-26 1-13 1-5 1-1 1-1 1 1 1 1 1 3 1 7 1 10 1 13 1 14 1 9 1 2 1-5 1-5 1 2 1 23 1 50 1 61 1 35 1-12 1-46 1-59 1-49 1-31 1-15 1-7 1-1 1-1h3l1 1 1 3 1 5 1 10 1 11 1 7 1-2 1-5 1-2 1 14 1 36 1 51 1 39 1 2 1-30 1-45 1-42 1-29 1-15 1-6 1-2 1-1 1 1 1 3 1 9 1 26 1 48 1 63 1 46 1 2 1-35 1-53 1-49 1-33 1-17 1-8 1-2 1-1h4l1 1 1 1 1 3 1 4 1 3 1 1 1-1 1-2 1 0 1 1 1 1 1 0 1-3 1-3 1-3 1-1 1-1 1-1h1l1 1 1 1 1 5 1 9 1 13 1 11 1 3 1-5 1-11 1-11 1-8 1-5 1 0 1 1 1 3 1 3 1 1 1-1 1-3 1-3" stroke="#A2142F" vector-effect="non-scaling-stroke"/>
<path d="M0 0h10l1 1 1 2 1 5 1 10 1 9 1 0 1-6 1-8 1-4 1 0 1 1 1-1 1-4 1-3 1-1 1-1h1l1 2 1 4 1 13 1 25 1 35 1 29 1 5 1-17 1-29 1-28 1-19 1-6 1 7 1 22 1 29 1 22 1 0 1-17 1-25 1-23 1-16 1-8 1-4 1-1h2l1 1 1 2 1 8 1 22 1 45 1 60 1 51 1 10 1-30 1-51 1-50 1-36 1-20 1-8 1-3 1-1h2l1 1 1 3 1 12 1 27 1 35 1 18 1-12 1-28 1-28 1-18 1-7 1-2 1-1 1 1 1 2 1 8 1 22 1 39 1 49 1 34 1-1 1-29 1-41 1-38 1-25 1-13 1-6 1-1 1-1 1 1 1 0 1 3 1 4 1 7 1 8 1 9 1 6 1 1 1-1 1 3 1 17 1 45 1 69 1 63 1 15 1-34 1-63 1-63 1-47 1-26 1-11 1-5 1-1h4l1 1 1 4 1 7 1 11 1 12 1 6 1-2 1-4 1 4 1 23 1 41 1 39 1 11 1-19 1-38 1-40 1-29 1-16 1-7 1-3 1-1h1l1 1 1 3 1 10 1 25 1 43 1 50 1 30 1-7 1-33 1-44 1-36 1-24 1-12 1-4 1-2h6l1 1 1 2 1 2 1 3 1 2 1 0 1-1 1 0 1 1 1 0 1-2 1-2 1-2 1-2 1-1 1-1h2l1 1 1 3 1 7 1 11 1 10 1 4 1-3 1-9 1-9 1-8 1-4 1-1 1 0 1 1 1 2 1 1 1-1 1-1 1-1 1-2" stroke="#0072BD" vector-effect="non-scaling-stroke"/>
<path d="M0 0h11l1 2 1 6 1 11 1 13 1 4 1-6 1-7 1-3 1 2 1-1 1-6 1-7 1-5 1-2 1-1h1l1 1 1 4 1 12 1 28 1 47 1 54 1 30 1-10 1-37 1-46 1-37 1-15 1 13 1 41 1 56 1 41 1 1 1-33 1-49 1-45 1-31 1-16 1-6 1-2 1-1h2l1 1 1 6 1 16 1 39 1 67 1 76 1 45 1-12 1-53 1-66 1-56 1-36 1-17 1-7 1-2 1-1h1l1 2 1 8 1 20 1 33 1 26 1-1 1-23 1-29 1-21 1-10 1-4 1-1h1l1 1 1 2 1 9 1 26 1 56 1 82 1 75 1 25 1-34 1-67 1-71 1-53 1-31 1-13 1-5 1-1 1 0 1 1 1 4 1 7 1 13 1 20 1 22 1 20 1 10 1-1 1-2 1 10 1 41 1 69 1 65 1 14 1-42 1-73 1-74 1-54 1-31 1-13 1-5 1-2h4l1 1 1 2 1 7 1 11 1 14 1 10 1 0 1-5 1 1 1 21 1 47 1 59 1 38 1-9 1-42 1-55 1-47 1-30 1-15 1-6 1-1 1-1 1 1 1 2 1 9 1 23 1 46 1 64 1 53 1 10 1-32 1-53 1-53 1-37 1-20 1-9 1-3 1-1h5l1 2 1 2 1 4 1 5 1 3 1 0 1-1 1 0 1 1 1 1 1-1 1-4 1-4 1-4 1-2 1-1 1-1 1 1 1 2 1 5 1 11 1 14 1 12 1 1 1-7 1-12 1-12 1-8 1-4 1-1 1 0 1 3 1 5 1 4 1 1 1-2 1-4 1-4" stroke="#D95319" vector-effect="non-scaling-stroke"/>
<path d="M0 0h11l1 2 1 6 1 12 1 15 1 7 1-5 1-8 1-4 1 0 1-2 1-8 1-8 1-4 1-2 1-1h1l1 3 1 7 1 22 1 43 1 61 1 52 1 13 1-29 1-50 1-50 1-33 1-6 1 22 1 48 1 53 1 27 1-14 1-40 1-49 1-39 1-24 1-11 1-4 1-2h2l1 1 1 4 1 14 1 37 1 67 1 86 1 61 1 0 1-49 1-73 1-66 1-45 1-23 1-10 1-3 1-1h1l1 1 1 3 1 12 1 31 1 47 1 34 1-6 1-35 1-40 1-28 1-13 1-5 1-1h1l1 1 1 6 1 17 1 41 1 71 1 79 1 47 1-13 1-55 1-69 1-59 1-38 1-18 1-7 1-2 1 0 1 0 1 3 1 7 1 12 1 21 1 27 1 29 1 21 1 5 1-6 1-7 1 11 1 45 1 71 1 57 1 0 1-53 1-78 1-73 1-50 1-27 1-11 1-4 1-1h3l1 1 1 1 1 5 1 9 1 14 1 12 1 3 1-5 1-5 1 6 1 32 1 60 1 66 1 33 1-18 1-52 1-61 1-50 1-29 1-15 1-5 1-1 1-1 1 1 1 5 1 17 1 39 1 68 1 80 1 49 1-11 1-52 1-69 1-60 1-38 1-18 1-8 1-2 1-1h4l1 1 1 1 1 4 1 5 1 4 1 2 1 0 1-1 1 1 1 2 1 0 1-3 1-5 1-4 1-4 1-2 1-1h1l1 1 1 1 1 5 1 9 1 13 1 12 1 3 1-6 1-11 1-11 1-8 1-4 1-1 1 2 1 4 1 4 1 2 1-2 1-3 1-4 1-3" stroke="#EDB120" vector-effect="non-scaling-stroke"/>
<path d="M0 0h10l1 1 1 2 1 6 1 14 1 14 1 5 1-8 1-11 1-6 1-1 1 0 1-4 1-6 1-4 1-1 1-1 1 1 1 2 1 8 1 20 1 41 1 54 1 44 1 6 1-29 1-45 1-44 1-28 1-9 1 15 1 40 1 55 1 44 1 5 1-30 1-47 1-45 1-31 1-17 1-7 1-2 1-1h1l1 1 1 4 1 13 1 35 1 65 1 81 1 60 1 0 1-47 1-70 1-63 1-43 1-23 1-9 1-3 1-1h2l1 2 1 8 1 23 1 42 1 39 1 5 1-27 1-38 1-30 1-16 1-6 1-2h1l1 2 1 5 1 19 1 42 1 71 1 78 1 42 1-16 1-56 1-69 1-56 1-36 1-17 1-6 1-2 1-1 1 1 1 2 1 4 1 10 1 16 1 23 1 24 1 20 1 9 1-1 1 2 1 23 1 54 1 69 1 38 1-20 1-62 1-77 1-64 1-40 1-20 1-8 1-2 1-1h4l1 2 1 3 1 9 1 14 1 15 1 7 1-3 1-8 1-2 1 17 1 43 1 59 1 42 1-3 1-38 1-53 1-47 1-31 1-17 1-6 1-2 1-1 1 1 1 3 1 11 1 30 1 59 1 78 1 64 1 9 1-41 1-66 1-64 1-45 1-24 1-10 1-4 1-1h4l1 1 1 1 1 4 1 5 1 5 1 3 1-1 1-2 1 0 1 1 1 1 1-3 1-4 1-4 1-3 1-2 1-1 1-1h1l1 2 1 4 1 9 1 15 1 16 1 8 1-4 1-12 1-14 1-12 1-7 1-2 1 0 1 3 1 4 1 4 1 1 1-2 1-4 1-4" stroke="#7E2F8E" vector-effect="non-scaling-stroke"/>
<path d="M0 0h11l1 2 1 6 1 14 1 17 1 10 1-6 1-13 1-12 1-4 1 1 1-1 1-5 1-5 1-3 1-1h1l1 1 1 3 1 11 1 26 1 45 1 53 1 33 1-6 1-35 1-46 1-38 1-19 1 5 1 28 1 41 1 34 1 3 1-23 1-37 1-34 1-24 1-13 1-6 1-1 1-1h2l1 1 1 3 1 10 1 29 1 58 1 80 1 67 1 14 1-38 1-67 1-67 1-47 1-26 1-12 1-4 1-1h1l1 1 1 3 1 11 1 26 1 37 1 22 1-8 1-29 1-30 1-20 1-9 1-3 1-1h1l1 2 1 6 1 18 1 39 1 62 1 62 1 27 1-21 1-50 1-56 1-44 1-27 1-12 1-4 1-2h1l1 1 1 2 1 5 1 9 1 14 1 20 1 20 1 14 1 4 1-1 1 5 1 25 1 49 1 53 1 18 1-27 1-56 1-61 1-47 1-28 1-12 1-5 1-2h4l1 1 1 2 1 7 1 12 1 15 1 12 1 2 1-4 1 0 1 22 1 51 1 66 1 43 1-8 1-46 1-61 1-53 1-34 1-17 1-7 1-2 1-1 1 1 1 4 1 12 1 32 1 60 1 75 1 53 1 0 1-44 1-63 1-59 1-39 1-20 1-8 1-3 1-1h5l1 1 1 2 1 5 1 5 1 4 1 0 1-2 1-1 1 0 1 0 1-1 1-2 1-4 1-3 1-2 1-1 1-1h1l1 1 1 4 1 9 1 15 1 18 1 10 1-3 1-12 1-15 1-13 1-8 1-3 1-1 1 2 1 4 1 5 1 3 1 0 1-4 1-4" stroke="#77AC30" vector-effect="non-scaling-stroke"/>
<path d="M0 0h11l1 2 1 5 1 10 1 12 1 5 1-5 1-10 1-7 1-2 1 2 1-1 1-4 1-3 1-3 1-1h1l1 1 1 3 1 9 1 23 1 39 1 44 1 26 1-7 1-30 1-39 1-31 1-16 1 3 1 24 1 40 1 38 1 12 1-17 1-34 1-36 1-27 1-15 1-7 1-2 1-1h1l1 1 1 2 1 9 1 24 1 49 1 66 1 55 1 10 1-33 1-55 1-55 1-38 1-22 1-9 1-3 1-1h2l1 3 1 10 1 23 1 35 1 23 1-6 1-26 1-29 1-20 1-9 1-3 1-1h1l1 1 1 2 1 10 1 26 1 53 1 74 1 63 1 13 1-35 1-61 1-62 1-44 1-24 1-11 1-4 1-1h1l1 1 1 2 1 4 1 6 1 10 1 10 1 8 1 4 1-1 1-1 1 8 1 29 1 52 1 54 1 23 1-21 1-49 1-54 1-42 1-25 1-12 1-4 1-2h3l1 1 1 1 1 5 1 10 1 12 1 11 1 2 1-5 1-6 1 4 1 24 1 47 1 51 1 24 1-16 1-41 1-47 1-38 1-23 1-10 1-4 1-2h1l1 1 1 2 1 8 1 22 1 45 1 61 1 52 1 10 1-30 1-51 1-51 1-36 1-20 1-9 1-3 1-1h5l1 1 1 1 1 3 1 3 1 2 1 1 1-1 1 0 1 0 1-1 1-2 1-2 1-2 1-1 1-1 1-1h2l1 1 1 3 1 7 1 11 1 14 1 9 1-1 1-9 1-12 1-11 1-7 1-3 1-1 1 1 1 3 1 2 1 1 1-1 1-2 1-2" stroke="#4DBEEE" vector-effect="non-scaling-stroke"/>
<path d="M0 0h11l1 1 1 4 1 9 1 12 1 7 1-3 1-8 1-5 1-3 1-3 1-4 1-4 1-2 1-1h2l1 2 1 6 1 16 1 27 1 33 1 23 1-2 1-20 1-29 1-25 1-15 1-2 1 11 1 24 1 29 1 16 1-4 1-20 1-25 1-21 1-14 1-6 1-3 1-1h3l1 1 1 4 1 12 1 26 1 41 1 41 1 17 1-13 1-33 1-38 1-29 1-17 1-8 1-3 1-1h2l1 2 1 6 1 15 1 20 1 14 1-5 1-16 1-17 1-12 1-5 1-2h3l1 2 1 6 1 16 1 29 1 36 1 27 1 1 1-22 1-31 1-29 1-19 1-10 1-4 1-2h2l1 1 1 1 1 2 1 4 1 5 1 5 1 4 1 1 1 1 1 5 1 18 1 38 1 52 1 39 1 1 1-32 1-47 1-43 1-30 1-16 1-6 1-2 1-1h4l1 1 1 2 1 4 1 8 1 10 1 7 1 0 1-2 1 4 1 20 1 37 1 40 1 18 1-15 1-34 1-39 1-30 1-18 1-9 1-3 1-1h1l1 1 1 3 1 11 1 25 1 39 1 42 1 20 1-11 1-31 1-37 1-30 1-19 1-8 1-4 1-1h6l1 1 1 3 1 3 1 4 1 1 1 0 1-1 1 0 1 0 1-1 1-1 1-3 1-2 1-2 1-1 1-1h1l1 1 1 1 1 4 1 6 1 8 1 5 1-1 1-5 1-7 1-5 1-4 1-2 1 0 1 0 1 2 1 1 1 2 1-1 1-1 1-1 1-2" stroke="#A2142F" vector-effect="non-scaling-stroke"/>
<path d="M0 0h11l1 1 1 3 1 10 1 18 1 17 1 2 1-10 1-13 1-8 1-3 1-4 1-5 1-5 1-2 1-1h1l1 1 1 4 1 12 1 25 1 40 1 40 1 17 1-14 1-32 1-36 1-27 1-12 1 5 1 24 1 37 1 33 1 9 1-17 1-31 1-33 1-23 1-13 1-6 1-2 1-1h2l1 2 1 7 1 21 1 44 1 67 1 66 1 25 1-24 1-56 1-60 1-46 1-27 1-13 1-4 1-2h2l1 1 1 3 1 12 1 26 1 34 1 16 1-12 1-27 1-27 1-16 1-7 1-2 1-1h1l1 2 1 8 1 23 1 49 1 74 1 71 1 27 1-27 1-61 1-66 1-50 1-30 1-13 1-5 1-1 1 0 1 2 1 5 1 10 1 17 1 23 1 24 1 20 1 6 1-5 1-10 1 0 1 27 1 63 1 76 1 40 1-23 1-65 1-78 1-64 1-40 1-19 1-7 1-2 1-1h3l1 1 1 3 1 7 1 12 1 15 1 11 1 1 1-3 1 8 1 31 1 56 1 55 1 19 1-26 1-52 1-56 1-42 1-24 1-11 1-4 1-1h2l1 1 1 5 1 16 1 35 1 60 1 66 1 36 1-13 1-48 1-58 1-48 1-30 1-14 1-6 1-1 1-1h4l1 1 1 2 1 5 1 5 1 3 1 1 1-1 1-1 1 1 1 1 1 0 1-3 1-4 1-5 1-2 1-2 1-1h1l1 1 1 4 1 7 1 13 1 15 1 7 1-3 1-10 1-12 1-11 1-6 1-3 1 0 1 3 1 4 1 5 1 2 1-2 1-3 1-4" stroke="#0072BD" vector-effect="non-scaling-stroke"/>
<path d="M0 0h10l1 1 1 2 1 7 1 14 1 13 1 3 1-8 1-11 1-6 1 0 1 0 1-3 1-5 1-4 1-2 1-1h1l1 1 1 4 1 11 1 25 1 38 1 38 1 16 1-14 1-30 1-35 1-26 1-11 1 4 1 22 1 34 1 31 1 8 1-15 1-29 1-30 1-22 1-12 1-5 1-2 1-1h2l1 2 1 6 1 19 1 42 1 64 1 63 1 26 1-23 1-52 1-57 1-45 1-27 1-12 1-4 1-2h2l1 1 1 4 1 15 1 29 1 34 1 13 1-16 1-30 1-26 1-16 1-6 1-2h1l1 1 1 3 1 12 1 31 1 59 1 74 1 56 1 2 1-43 1-63 1-59 1-40 1-20 1-9 1-3 1-1 1 1 1 1 1 2 1 6 1 10 1 15 1 18 1 15 1 8 1-2 1-5 1 0 1 22 1 52 1 67 1 44 1-11 1-51 1-67 1-58 1-37 1-19 1-8 1-2 1-1h3l1 1 1 1 1 5 1 7 1 9 1 6 1 0 1-2 1 5 1 25 1 52 1 66 1 45 1-4 1-43 1-59 1-52 1-34 1-18 1-7 1-2 1-1h1l1 1 1 4 1 12 1 28 1 47 1 53 1 30 1-10 1-37 1-46 1-39 1-25 1-11 1-5 1-2h5l1 2 1 2 1 4 1 4 1 1 1 0 1-2 1 0 1 1 1 2 1 0 1-2 1-4 1-3 1-3 1-1 1-1h1l1 1 1 1 1 4 1 9 1 11 1 9 1 1 1-6 1-9 1-9 1-6 1-3 1-1 1 2 1 3 1 3 1 0 1-1 1-3 1-2" stroke="#D95319" vector-effect="non-scaling-stroke"/>
<path d="M0 0h11l1 2 1 6 1 12 1 12 1 3 1-7 1-10 1-6 1 0 1 0 1-3 1-4 1-3 1-1 1-1h1l1 1 1 5 1 13 1 30 1 46 1 49 1 22 1-15 1-38 1-43 1-32 1-12 1 10 1 31 1 38 1 24 1-5 1-27 1-34 1-30 1-18 1-10 1-3 1-2h2l1 1 1 4 1 12 1 30 1 50 1 58 1 33 1-10 1-39 1-50 1-42 1-27 1-13 1-5 1-1 1-1h2l1 2 1 6 1 16 1 29 1 25 1 2 1-20 1-25 1-20 1-10 1-4 1-1h1l1 1 1 5 1 16 1 36 1 61 1 67 1 37 1-14 1-48 1-59 1-49 1-30 1-15 1-6 1-1 1-1 1 1 1 1 1 3 1 5 1 8 1 11 1 10 1 6 1 1 1-1 1 4 1 22 1 49 1 65 1 47 1-2 1-44 1-61 1-57 1-37 1-20 1-7 1-3 1-1h4l1 1 1 3 1 4 1 7 1 7 1 1 1-1 1 3 1 14 1 34 1 47 1 35 1 1 1-28 1-42 1-38 1-26 1-14 1-5 1-2 1-1h1l1 1 1 3 1 12 1 30 1 53 1 65 1 44 1-3 1-40 1-56 1-50 1-32 1-17 1-7 1-2 1-1h5l1 1 1 3 1 4 1 4 1 3 1 0 1-2 1-1 1-1 1-2 1-2 1-2 1-2 1-2 1 0 1-1h2l1 1 1 4 1 8 1 13 1 14 1 7 1-3 1-11 1-12 1-10 1-6 1-3 1 1 1 2 1 4 1 3 1 0 1-2 1-3 1-3" stroke="#EDB120" vector-effect="non-scaling-stroke"/>
<path d="M0 0h10l1 1 1 2 1 6 1 13 1 14 1 5 1-7 1-10 1-6 1 0 1-2 1-4 1-6 1-4 1-1 1-1h1l1 1 1 3 1 10 1 25 1 42 1 48 1 28 1-7 1-32 1-42 1-34 1-16 1 3 1 20 1 28 1 19 1-4 1-19 1-25 1-23 1-14 1-7 1-3 1-1h3l1 2 1 7 1 20 1 43 1 63 1 59 1 20 1-25 1-52 1-56 1-41 1-24 1-11 1-4 1-1h1l1 1 1 2 1 10 1 21 1 28 1 15 1-9 1-22 1-23 1-14 1-7 1-1 1-1h1l1 1 1 2 1 8 1 19 1 33 1 41 1 26 1-3 1-25 1-35 1-31 1-20 1-10 1-4 1-2h2l1 1 1 3 1 5 1 9 1 13 1 14 1 12 1 5 1-1 1-1 1 7 1 26 1 42 1 34 1 3 1-29 1-44 1-43 1-30 1-16 1-7 1-2 1-1h4l1 1 1 3 1 5 1 9 1 8 1 4 1-2 1-3 1 7 1 24 1 45 1 46 1 20 1-16 1-39 1-43 1-34 1-21 1-9 1-4 1-1h1l1 1 1 3 1 10 1 28 1 53 1 71 1 57 1 6 1-37 1-60 1-57 1-40 1-22 1-9 1-3 1-1h5l1 1 1 2 1 3 1 3 1 2 1 0 1-1 1 0 1 1 1 0 1-1 1-3 1-2 1-3 1-1 1-1h1l1 1 1 1 1 4 1 10 1 13 1 12 1 3 1-5 1-11 1-12 1-8 1-5 1-1 1 1 1 2 1 4 1 3 1 0 1-2 1-3 1-3" stroke="#7E2F8E" vector-effect="non-scaling-stroke"/>
<path d="M0 0h11l1 2 1 4 1 7 1 8 1 1 1-5 1-6 1-4 1 1 1 0 1-1 1-3 1-2 1-1 1-1h2l1 2 1 5 1 15 1 27 1 34 1 26 1 2 1-20 1-29 1-26 1-14 1 2 1 18 1 26 1 19 1-1 1-17 1-23 1-21 1-14 1-7 1-3 1-1h3l1 2 1 7 1 20 1 39 1 56 1 48 1 11 1-26 1-46 1-47 1-33 1-19 1-8 1-3 1-1h2l1 1 1 4 1 13 1 23 1 22 1 3 1-15 1-21 1-17 1-9 1-3 1-1h1l1 1 1 4 1 13 1 30 1 53 1 61 1 38 1-8 1-41 1-53 1-46 1-29 1-15 1-6 1-1 1-1 1 1 1 1 1 2 1 4 1 8 1 9 1 9 1 6 1 1 1-2 1-3 1 6 1 24 1 40 1 41 1 15 1-18 1-39 1-42 1-32 1-18 1-9 1-3 1-1h4l1 1 1 1 1 4 1 6 1 6 1 4 1-1 1 0 1 9 1 28 1 50 1 55 1 27 1-15 1-42 1-50 1-41 1-24 1-12 1-4 1-2h2l1 2 1 4 1 14 1 30 1 44 1 42 1 14 1-17 1-36 1-39 1-30 1-17 1-7 1-3 1-1h5l1 1 1 1 1 2 1 4 1 2 1 0 1 0 1 0 1 1 1 2 1-1 1-2 1-3 1-3 1-2 1-1 1-1h1l1 1 1 2 1 5 1 9 1 9 1 5 1-2 1-6 1-9 1-7 1-4 1-1 1 0 1 2 1 2 1 2 1 0 1-2 1-2 1-2" stroke="#77AC30" vector-effect="non-scaling-stroke"/>
<path d="M0 0h11l1 2 1 5 1 12 1 15 1 8 1-5 1-10 1-7 1-2 1-3 1-4 1-6 1-3 1-1 1-1h1l1 1 1 5 1 15 1 31 1 47 1 46 1 17 1-17 1-38 1-43 1-32 1-16 1-2 1 11 1 25 1 27 1 14 1-6 1-19 1-25 1-20 1-12 1-6 1-2 1-1h2l1 2 1 6 1 16 1 34 1 50 1 44 1 13 1-22 1-40 1-43 1-31 1-17 1-8 1-3 1-1h2l1 1 1 5 1 15 1 27 1 26 1 4 1-17 1-25 1-20 1-11 1-4 1-1h1l1 1 1 2 1 10 1 25 1 48 1 63 1 50 1 6 1-34 1-53 1-52 1-35 1-19 1-8 1-3 1-1h1l1 1 1 3 1 5 1 9 1 12 1 14 1 12 1 5 1-2 1-2 1 8 1 32 1 61 1 68 1 32 1-22 1-58 1-67 1-54 1-33 1-16 1-6 1-1 1-1h3l1 1 1 2 1 5 1 9 1 11 1 6 1 0 1-2 1 6 1 25 1 44 1 46 1 17 1-18 1-41 1-44 1-34 1-19 1-9 1-4 1-1h2l1 2 1 6 1 19 1 38 1 55 1 51 1 15 1-24 1-45 1-48 1-36 1-20 1-9 1-3 1-1h4l1 1 1 1 1 3 1 4 1 3 1 0 1-1 1-1 1 0 1 1 1 0 1-1 1-3 1-2 1-3 1-1 1-1h2l1 2 1 3 1 8 1 12 1 12 1 4 1-4 1-10 1-11 1-8 1-5 1-1 1 0 1 3 1 3 1 2 1 0 1-1 1-3 1-3" stroke="#4DBEEE" vector-effect="non-scaling-stroke"/>
<path d="M0 0h10l1 1 1 2 1 6 1 12 1 12 1 2 1-7 1-10 1-5 1-1 1-1 1-3 1-4 1-2 1-2h2l1 2 1 6 1 16 1 33 1 45 1 38 1 7 1-21 1-38 1-37 1-26 1-10 1 6 1 22 1 35 1 32 1 10 1-16 1-29 1-31 1-23 1-13 1-5 1-2 1-1h2l1 2 1 7 1 20 1 43 1 67 1 67 1 27 1-23 1-55 1-61 1-47 1-28 1-12 1-5 1-2h2l1 1 1 6 1 16 1 29 1 29 1 4 1-18 1-28 1-22 1-11 1-5 1-1h1l1 1 1 2 1 7 1 18 1 33 1 41 1 29 1-1 1-25 1-35 1-32 1-21 1-11 1-4 1-1 1-1 1 1 1 1 1 2 1 5 1 8 1 11 1 11 1 8 1 3 1-2 1 0 1 13 1 39 1 64 1 61 1 19 1-31 1-59 1-62 1-47 1-27 1-12 1-4 1-2h4l1 1 1 3 1 5 1 7 1 8 1 3 1-1 1 2 1 16 1 39 1 58 1 50 1 9 1-30 1-51 1-51 1-36 1-19 1-9 1-3 1-1h2l1 2 1 7 1 21 1 46 1 69 1 68 1 26 1-25 1-57 1-62 1-48 1-28 1-13 1-4 1-2h4l1 1 1 1 1 2 1 2 1 2 1 1 1-1 1 0 1 1 1 2 1 1 1-1 1-3 1-3 1-2 1-2 1-1h2l1 1 1 2 1 6 1 11 1 13 1 10 1-1 1-8 1-11 1-11 1-6 1-3 1 0 1 2 1 3 1 3 1 0 1-2 1-2 1-3" stroke="#A2142F" vector-effect="non-scaling-stroke"/>
<path d="M0 0h11l1 2 1 4 1 9 1 10 1 4 1-5 1-8 1-7 1-3 1-1 1-1 1-2 1-1 1-1h3l1 2 1 6 1 13 1 22 1 24 1 15 1-5 1-17 1-21 1-18 1-8 1 3 1 16 1 24 1 21 1 4 1-12 1-20 1-21 1-15 1-8 1-3 1-2h3l1 1 1 3 1 12 1 28 1 48 1 57 1 36 1-7 1-37 1-49 1-43 1-28 1-13 1-6 1-1 1-1h2l1 2 1 8 1 16 1 23 1 14 1-6 1-18 1-19 1-12 1-6 1-1 1-1 1 1 1 2 1 8 1 19 1 37 1 45 1 32 1 0 1-27 1-39 1-35 1-24 1-12 1-5 1-1 1-1 1 1 1 1 1 2 1 5 1 9 1 13 1 15 1 11 1 5 1-2 1-6 1-2 1 11 1 32 1 42 1 28 1-8 1-33 1-43 1-38 1-24 1-12 1-5 1-1 1-1h3l1 1 1 2 1 5 1 9 1 11 1 6 1-1 1-4 1 2 1 19 1 40 1 49 1 30 1-8 1-35 1-45 1-38 1-24 1-12 1-5 1-2h2l1 2 1 7 1 20 1 42 1 59 1 54 1 14 1-26 1-49 1-51 1-37 1-21 1-10 1-3 1-1h5l1 1 1 1 1 3 1 3 1 2 1 0 1-1 1 0 1 0 1-1 1-2 1-2 1-1 1-2 1-1h3l1 1 1 2 1 6 1 9 1 10 1 6 1-2 1-8 1-9 1-7 1-5 1-1 1-1 1 2 1 1 1 2 1 0 1-1 1-2 1-1" stroke="#0072BD" vector-effect="non-scaling-stroke"/>
<path d="M0 0h10l1 2 1 5 1 11 1 15 1 9 1-5 1-10 1-8 1-1 1 2 1-4 1-6 1-6 1-3 1-1h1l1 1 1 2 1 10 1 26 1 49 1 62 1 47 1 3 1-35 1-53 1-48 1-28 1-1 1 27 1 48 1 45 1 14 1-21 1-42 1-43 1-32 1-19 1-8 1-3 1-1h2l1 1 1 4 1 15 1 37 1 66 1 81 1 56 1-4 1-49 1-70 1-63 1-41 1-21 1-8 1-3 1-1h1l1 1 1 4 1 15 1 34 1 44 1 22 1-15 1-36 1-34 1-22 1-9 1-3 1-1h1l1 2 1 8 1 24 1 56 1 92 1 100 1 52 1-22 1-73 1-89 1-72 1-45 1-21 1-9 1-2 1 0 1 1 1 3 1 7 1 12 1 19 1 23 1 22 1 12 1 1 1-4 1 4 1 33 1 70 1 86 1 46 1-24 1-72 1-88 1-73 1-45 1-22 1-9 1-2 1-1h3l1 1 1 2 1 6 1 12 1 14 1 10 1 1 1-6 1-3 1 15 1 46 1 72 1 66 1 17 1-34 1-63 1-65 1-47 1-27 1-11 1-5 1-1h1l1 2 1 6 1 20 1 47 1 79 1 87 1 48 1-18 1-62 1-77 1-63 1-40 1-19 1-7 1-2 1-1h4l1 1 1 2 1 4 1 6 1 5 1 1 1-1 1-2 1 0 1 1 1 0 1-3 1-4 1-4 1-3 1-2 1-1h1l1 1 1 2 1 6 1 12 1 17 1 15 1 4 1-8 1-14 1-15 1-10 1-6 1-1 1 2 1 4 1 5 1 2 1-1 1-4 1-4 1-3" stroke="#D95319" vector-effect="non-scaling-stroke"/>
<path d="M0 0h10l1 1 1 2 1 7 1 10 1 9 1-1 1-7 1-8 1-3 1 1 1 0 1-3 1-3 1-3 1-2h2l1 1 1 4 1 11 1 25 1 42 1 44 1 23 1-11 1-34 1-39 1-31 1-16 1 0 1 16 1 28 1 26 1 9 1-12 1-24 1-25 1-19 1-11 1-5 1-1 1-1h2l1 2 1 6 1 17 1 38 1 55 1 52 1 17 1-22 1-45 1-48 1-37 1-21 1-9 1-4 1-1h2l1 2 1 8 1 20 1 31 1 23 1-3 1-23 1-27 1-18 1-9 1-3 1-1h1l1 2 1 8 1 22 1 48 1 72 1 68 1 25 1-27 1-59 1-63 1-49 1-28 1-13 1-4 1-2h1l1 1 1 3 1 5 1 10 1 17 1 21 1 20 1 14 1 2 1-7 1-9 1 5 1 33 1 64 1 67 1 25 1-30 1-64 1-70 1-54 1-31 1-15 1-5 1-2h4l1 1 1 3 1 6 1 10 1 11 1 5 1-1 1-4 1 4 1 22 1 46 1 53 1 28 1-12 1-40 1-49 1-40 1-25 1-12 1-4 1-2h1l1 1 1 5 1 14 1 37 1 64 1 75 1 49 1-7 1-49 1-65 1-58 1-37 1-18 1-8 1-2 1-1h4l1 1 1 1 1 2 1 3 1 2 1 1 1-1 1 0 1 1 1 3 1 1 1-1 1-3 1-4 1-3 1-2 1-1h2l1 1 1 3 1 7 1 11 1 13 1 6 1-3 1-9 1-10 1-9 1-6 1-2 1 1 1 2 1 2 1 2 1 0 1-2 1-2 1-3" stroke="#EDB120" vector-effect="non-scaling-stroke"/>
<path d="M0 0h11l1 1 1 4 1 9 1 12 1 7 1-4 1-9 1-7 1-3 1-2 1-3 1-2 1-2 1-1h2l1 1 1 4 1 11 1 26 1 41 1 44 1 22 1-11 1-33 1-40 1-30 1-16 1 0 1 16 1 26 1 23 1 5 1-12 1-23 1-23 1-16 1-9 1-4 1-2h3l1 2 1 6 1 19 1 39 1 60 1 56 1 20 1-22 1-49 1-52 1-40 1-23 1-11 1-4 1-1h2l1 1 1 2 1 8 1 16 1 21 1 10 1-9 1-17 1-16 1-10 1-4 1-2h2l1 2 1 5 1 15 1 31 1 47 1 43 1 15 1-19 1-39 1-40 1-31 1-17 1-8 1-3 1-1 1 1 1 1 1 2 1 5 1 9 1 11 1 12 1 9 1 2 1-2 1-1 1 10 1 32 1 51 1 47 1 11 1-28 1-50 1-51 1-37 1-21 1-9 1-3 1-1h4l1 1 1 2 1 5 1 7 1 7 1 3 1-2 1-1 1 7 1 25 1 43 1 44 1 19 1-16 1-37 1-42 1-32 1-20 1-8 1-4 1-1h2l1 1 1 5 1 15 1 34 1 54 1 57 1 29 1-15 1-44 1-51 1-42 1-25 1-12 1-4 1-2h4l1 1 1 0 1 2 1 2 1 1 1 0 1-1 1 0 1 1 1 2 1 1 1-1 1-1 1-3 1-2 1-1 1-1h2l1 1 1 2 1 5 1 8 1 10 1 6 1-1 1-6 1-9 1-7 1-5 1-2 1 0 1 1 1 3 1 2 1 1 1-1 1-2 1-2" stroke="#7E2F8E" vector-effect="non-scaling-stroke"/>
<path d="M0 0h11l1 3 1 7 1 16 1 20 1 10 1-7 1-15 1-11 1-2 1 0 1-4 1-7 1-6 1-3 1-1h1l1 1 1 4 1 12 1 28 1 49 1 55 1 32 1-9 1-38 1-48 1-40 1-23 1-4 1 17 1 37 1 45 1 29 1-4 1-29 1-40 1-34 1-22 1-12 1-4 1-2h2l1 1 1 4 1 13 1 35 1 65 1 82 1 60 1 1 1-47 1-70 1-65 1-43 1-23 1-9 1-3 1-1h1l1 1 1 5 1 17 1 31 1 35 1 10 1-18 1-31 1-27 1-15 1-6 1-2h1l1 1 1 2 1 11 1 30 1 63 1 93 1 86 1 28 1-38 1-77 1-81 1-60 1-35 1-15 1-6 1-1 1 0 1 1 1 4 1 9 1 15 1 23 1 28 1 25 1 14 1-1 1-9 1-4 1 18 1 48 1 59 1 29 1-23 1-57 1-68 1-54 1-33 1-16 1-7 1-1 1-1h3l1 1 1 2 1 6 1 12 1 16 1 14 1 4 1-4 1-2 1 16 1 44 1 59 1 40 1-5 1-41 1-55 1-49 1-32 1-17 1-6 1-2 1-1h1l1 2 1 6 1 19 1 42 1 67 1 70 1 32 1-21 1-54 1-62 1-50 1-30 1-14 1-5 1-2h4l1 1 1 1 1 3 1 5 1 6 1 2 1 0 1-2 1 0 1 2 1 1 1-2 1-4 1-5 1-4 1-2 1-1 1-1h1l1 1 1 3 1 6 1 11 1 13 1 8 1-1 1-8 1-12 1-10 1-6 1-3 1 0 1 1 1 4 1 4 1 2 1-1 1-2 1-4" stroke="#77AC30" vector-effect="non-scaling-stroke"/>
<path d="M0 0h11l1 1 1 5 1 12 1 19 1 17 1-1 1-12 1-13 1-5 1 0 1-3 1-8 1-6 1-4 1-2h1l1 2 1 5 1 15 1 33 1 52 1 52 1 21 1-18 1-42 1-46 1-35 1-14 1 10 1 35 1 51 1 41 1 6 1-27 1-44 1-42 1-29 1-16 1-7 1-2 1-1h1l1 1 1 3 1 12 1 32 1 62 1 81 1 64 1 8 1-43 1-69 1-66 1-45 1-25 1-10 1-4 1-1h2l1 3 1 9 1 26 1 45 1 40 1 2 1-30 1-41 1-31 1-15 1-6 1-2h1l1 2 1 5 1 19 1 42 1 70 1 77 1 41 1-17 1-55 1-68 1-56 1-34 1-17 1-6 1-2 1 0 1 0 1 3 1 7 1 13 1 21 1 28 1 29 1 21 1 5 1-8 1-13 1-1 1 26 1 57 1 59 1 17 1-33 1-64 1-68 1-51 1-29 1-13 1-5 1-2h4l1 1 1 4 1 9 1 14 1 17 1 11 1-2 1-7 1-2 1 19 1 52 1 69 1 50 1-2 1-44 1-63 1-57 1-38 1-20 1-8 1-2 1-1 1 1 1 2 1 9 1 27 1 53 1 75 1 66 1 16 1-34 1-63 1-63 1-47 1-25 1-12 1-4 1-1h5l1 2 1 2 1 5 1 5 1 3 1 0 1-1 1 0 1 2 1 1 1-1 1-5 1-4 1-4 1-3 1-1 1-1h1l1 1 1 3 1 7 1 12 1 15 1 9 1 0 1-10 1-12 1-12 1-7 1-3 1 0 1 4 1 4 1 4 1 1 1-3 1-4 1-4" stroke="#4DBEEE" vector-effect="non-scaling-stroke"/>
<path d="M0 0h10l1 1 1 2 1 7 1 13 1 12 1 1 1-7 1-10 1-3 1 3 1 1 1-4 1-7 1-6 1-2 1-1h1l1 2 1 5 1 16 1 31 1 46 1 40 1 11 1-20 1-38 1-37 1-26 1-6 1 16 1 37 1 43 1 24 1-8 1-31 1-38 1-32 1-20 1-10 1-3 1-2h3l1 2 1 7 1 19 1 42 1 63 1 59 1 21 1-24 1-51 1-56 1-42 1-24 1-11 1-4 1-1h1l1 1 1 3 1 13 1 31 1 46 1 31 1-9 1-35 1-38 1-26 1-12 1-4 1-1h1l1 2 1 9 1 24 1 54 1 85 1 85 1 37 1-27 1-69 1-77 1-61 1-36 1-17 1-7 1-1 1 0 1 0 1 3 1 6 1 11 1 19 1 23 1 23 1 15 1 2 1-8 1-8 1 6 1 37 1 68 1 66 1 19 1-37 1-70 1-72 1-53 1-31 1-13 1-5 1-2h4l1 2 1 3 1 9 1 12 1 12 1 4 1-2 1-1 1 15 1 45 1 70 1 65 1 17 1-34 1-62 1-65 1-47 1-26 1-11 1-5 1-1h1l1 2 1 6 1 19 1 43 1 70 1 75 1 38 1-19 1-56 1-66 1-55 1-33 1-16 1-6 1-1 1-1h4l1 1 1 1 1 2 1 4 1 4 1 1 1-1 1-1 1 0 1 2 1 1 1-1 1-2 1-4 1-3 1-2 1-1 1-1 1 1 1 2 1 5 1 11 1 16 1 14 1 3 1-7 1-13 1-13 1-10 1-5 1-2 1 1 1 2 1 3 1 3 1-1 1-2 1-3 1-2" stroke="#A2142F" vector-effect="non-scaling-stroke"/>
<path d="M0 0h10l1 1 1 1 1 6 1 8 1 7 1 0 1-6 1-6 1-3 1 1 1 0 1-2 1-3 1-2 1-2h2l1 1 1 4 1 10 1 22 1 31 1 27 1 7 1-14 1-25 1-26 1-17 1-5 1 9 1 22 1 29 1 19 1-2 1-19 1-25 1-22 1-15 1-7 1-3 1-1h3l1 2 1 7 1 19 1 37 1 51 1 43 1 7 1-25 1-43 1-42 1-30 1-16 1-7 1-2 1-1h2l1 1 1 4 1 13 1 25 1 28 1 10 1-15 1-25 1-22 1-12 1-5 1-2h2l1 2 1 5 1 11 1 18 1 20 1 11 1-4 1-14 1-18 1-15 1-9 1-5 1-1 1-1h2l1 1 1 1 1 1 1 3 1 4 1 3 1 3 1 1 1 0 1 6 1 18 1 35 1 46 1 32 1-2 1-29 1-41 1-37 1-25 1-13 1-5 1-1 1-1h4l1 1 1 2 1 4 1 8 1 8 1 4 1-1 1-3 1 2 1 17 1 36 1 45 1 28 1-6 1-31 1-40 1-35 1-22 1-11 1-4 1-2h2l1 2 1 6 1 18 1 37 1 52 1 47 1 13 1-23 1-44 1-44 1-33 1-19 1-8 1-3 1-1h5l1 1 1 1 1 1 1 2 1 0 1 0 1-1 1 1 1 1 1 1 1 0 1-1 1-2 1-2 1-1 1-1h2l1 2 1 2 1 5 1 6 1 4 1 0 1-4 1-5 1-5 1-3 1-1 1 0 1 0 1 2 1 1 1 0 1 0 1-1 1-1 1-1" stroke="#0072BD" vector-effect="non-scaling-stroke"/>
<path d="M0 0h11l1 1 1 4 1 10 1 14 1 9 1-3 1-9 1-6 1-1 1 0 1-4 1-7 1-5 1-2 1-1h1l1 1 1 2 1 9 1 23 1 43 1 53 1 37 1-1 1-31 1-45 1-39 1-20 1 4 1 29 1 45 1 36 1 4 1-25 1-39 1-38 1-26 1-13 1-6 1-2 1-1h2l1 3 1 7 1 22 1 45 1 64 1 58 1 15 1-28 1-54 1-55 1-40 1-22 1-10 1-4 1-1h1l1 1 1 3 1 13 1 29 1 42 1 25 1-10 1-32 1-35 1-22 1-10 1-3 1-1h1l1 1 1 5 1 15 1 39 1 69 1 85 1 57 1-5 1-53 1-72 1-65 1-42 1-22 1-8 1-3 1-1 1 1 1 2 1 4 1 8 1 13 1 17 1 17 1 12 1 2 1-5 1-9 1-1 1 20 1 48 1 62 1 37 1-12 1-47 1-60 1-51 1-33 1-16 1-6 1-2 1-1h3l1 2 1 3 1 8 1 14 1 13 1 7 1-3 1-7 1 0 1 20 1 47 1 63 1 43 1-4 1-40 1-57 1-50 1-32 1-17 1-7 1-2 1-1h1l1 2 1 7 1 19 1 41 1 62 1 58 1 20 1-25 1-50 1-54 1-41 1-23 1-11 1-4 1-1h4l1 1 1 1 1 3 1 5 1 5 1 2 1-1 1-1 1-1 1 0 1 0 1-2 1-3 1-4 1-2 1-2 1-1h1l1 1 1 2 1 5 1 11 1 15 1 13 1 4 1-7 1-13 1-13 1-9 1-5 1-2 1 0 1 2 1 4 1 2 1 0 1-2 1-2 1-3" stroke="#D95319" vector-effect="non-scaling-stroke"/>
<path d="M0 0h20l1 1 1 8 1 25 1 60 1 82 1 49 1-14 1-35 1-10 1-5 1-18 1 5 1 38 1 20 1-32 1-61 1-58 1-34 1-12 1 9 1 37 1 65 1 59 1 4 1-43 1-60 1-45 1-24 1-8 1-2 1-1h20l1 1 1 6 1 17 1 30 1 29 1 5 1-19 1-28 1-23 1-12 1-4 1-2h3l1 2 1 5 1 15 1 23 1 20 1 0 1-17 1-21 1-16 1-7 1-3 1-1h111" stroke="#0072BD" vector-effect="non-scaling-stroke"/>
<path d="M0 0h81l1 1 1 0 1 1 1 1 1 3 1 9 1 25 1 52 1 71 1 56 1 6 1-36 1-51 1-41 1-22 1-7 1-1 1 1 1-1 1-2 1-3 1-4 1-5 1-5 1-1 1 9 1 22 1 33 1 25 1 2 1-16 1-16 1-1 1 8 1-2 1-21 1-30 1-28 1-18 1-9 1-4 1-1h86" stroke="#A2142F" vector-effect="non-scaling-stroke"/>
</g></g>
<rect x="399.2" y="359.5" width="261.7" height="81" fill="none" stroke="#6e6e6e"/>
<text x="399.6" y="454.3" font-size="12.8" text-anchor="middle">20.6</text>
<text x="443.2" y="454.3" font-size="12.8" text-anchor="middle">20.8</text>
<text x="486.8" y="454.3" font-size="12.8" text-anchor="middle">21</text>
<text x="530.5" y="454.3" font-size="12.8" text-anchor="middle">21.2</text>
<text x="574.1" y="454.3" font-size="12.8" text-anchor="middle">21.4</text>
<text x="617.7" y="454.3" font-size="12.8" text-anchor="middle">21.6</text>
<text x="661.3" y="454.3" font-size="12.8" text-anchor="middle">21.8</text>
<text x="392.2" y="443.9" font-size="12.2" text-anchor="middle">0</text>
<text x="392.2" y="398.9" font-size="12.2" text-anchor="middle">1</text>
<path d="M399.2 440.5v-3M399.2 359.5v3M442.8 440.5v-3M442.8 359.5v3M486.4 440.5v-3M486.4 359.5v3M530.1 440.5v-3M530.1 359.5v3M573.7 440.5v-3M573.7 359.5v3M617.3 440.5v-3M617.3 359.5v3M660.9 440.5v-3M660.9 359.5v3M399.2 440.5h3M660.9 440.5h-3M399.2 418h3M660.9 418h-3M399.2 395.5h3M660.9 395.5h-3M399.2 373h3M660.9 373h-3" stroke="#6e6e6e" stroke-width=".9"/>
<clipPath id="cc1"><rect x="59" y="478.4" width="262" height="79.5"/></clipPath>
<g clip-path="url(#cc1)"><g transform="translate(59 557.50) scale(1.2476 -.2)" fill="none" stroke-width="0.7" stroke-linejoin="round">
<path d="M0 0h17l1 5 1 20 1 13 1-13 1-15 1 3 1 5 1-6 1-9 1-3h9l1 1 1 4 1 5 1 1 1-3 1-5 1-2 1-1 1 1 1 3 1 6 1 2 1-3 1-5 1-3 1-1 1 1 1 4 1 22 1 43 1 21 1-24 1-37 1-22 1-6 1 0 1 5 1 2 1-4 1-3 1-2h19l1 1 1 2 1 6 1 9 1 12 1 10 1 19 1 47 1 45 1-20 1-58 1-35 1 29 1 69 1 16 1-53 1-60 1-29 1-9 1-1h3l1 2 1 3 1 2 1-1 1-2 1-3 1-1h29l1 1 1 7 1 40 1 95 1 74 1-38 1-90 1-62 1-22 1-4 1-1h3l1 1 1 3 1 14 1 18 1 1 1-14 1-14 1-7 1-2h1l1 2 1 10 1 18 1 10 1-8 1-16 1-11 1-4 1-1h4l1 1 1 10 1 37 1 61 1 18 1-41 1-50 1-27 1-8 1-1h6l1 1 1 1 1 3 1 1 1-2 1-2 1-1 1-1h4" stroke="#0072BD" vector-effect="non-scaling-stroke"/>
<path d="M0 0h18l1 3 1 11 1 13 1-7 1-12 1-1 1 3 1-3 1-5 1-2h9l1 2 1 4 1 5 1 0 1-4 1-4 1-2 1-1 1 1 1 2 1 5 1 2 1-2 1-4 1-3 1-1h1l1 2 1 13 1 33 1 32 1-9 1-33 1-25 1-10 1-2 1 1 1 1 1-1 1-1 1-1h19l1 1 1 2 1 5 1 8 1 9 1 7 1 15 1 36 1 28 1-21 1-42 1-19 1 26 1 38 1-6 1-38 1-32 1-14 1-3h4l1 2 1 3 1 1 1-1 1-3 1-1 1-1h29l1 1 1 12 1 53 1 97 1 43 1-57 1-84 1-48 1-14 1-3h5l1 2 1 8 1 15 1 7 1-9 1-13 1-7 1-3h1l1 1 1 4 1 8 1 5 1-3 1-7 1-5 1-2 1-1h4l1 2 1 11 1 43 1 61 1 9 1-45 1-50 1-24 1-6 1-1h6l1 1 1 1 1 2 1-1 1-1 1-1 1-1h4" stroke="#D95319" vector-effect="non-scaling-stroke"/>
<path d="M0 0h17l1 2 1 7 1 10 1-4 1-8 1 1 1 3 1-4 1-5 1-2h9l1 1 1 4 1 5 1 1 1-4 1-4 1-2 1-1 1 1 1 2 1 4 1 4 1-2 1-4 1-3 1-2h1l1 4 1 16 1 39 1 29 1-16 1-37 1-24 1-9 1 0 1 3 1 1 1-2 1-3 1-1h19l1 1 1 3 1 6 1 10 1 10 1 8 1 21 1 59 1 57 1-23 1-68 1-39 1 27 1 56 1 0 1-51 1-49 1-22 1-5 1-1h3l1 1 1 2 1 1 1-1 1-1 1-2h30l1 1 1 10 1 49 1 109 1 73 1-50 1-99 1-66 1-22 1-4 1-1h4l1 2 1 9 1 13 1 3 1-9 1-11 1-5 1-2h1l1 2 1 6 1 12 1 5 1-6 1-10 1-6 1-3h5l1 1 1 10 1 36 1 55 1 10 1-39 1-44 1-22 1-6 1-1h7l1 1 1 1 1-1 1 0 1-1h6" stroke="#EDB120" vector-effect="non-scaling-stroke"/>
<path d="M0 0h17l1 1 1 5 1 15 1 5 1-11 1-2 1 8 1-4 1-11 1-5 1-1h8l1 1 1 2 1 5 1 3 1-2 1-4 1-3 1-2h1l1 1 1 4 1 5 1 1 1-4 1-4 1-2 1-1 1 2 1 10 1 34 1 45 1 3 1-37 1-36 1-16 1-4 1 2 1 3 1 0 1-3 1-2 1-1h18l1 1 1 1 1 5 1 8 1 12 1 10 1 11 1 39 1 82 1 44 1-54 1-81 1-26 1 51 1 58 1-21 1-66 1-50 1-19 1-4 1-1h2l1 1 1 2 1 4 1 0 1-2 1-3 1-1 1-1h29l1 6 1 34 1 96 1 99 1-20 1-96 1-79 1-32 1-7 1-1h4l1 1 1 6 1 15 1 11 1-6 1-14 1-9 1-3 1-1 1 1 1 5 1 14 1 14 1-2 1-13 1-12 1-5 1-2h5l1 4 1 21 1 64 1 74 1-8 1-66 1-58 1-24 1-6 1-1h5l1 1 1 1 1 3 1 0 1-2 1-2 1-1h5" stroke="#7E2F8E" vector-effect="non-scaling-stroke"/>
<path d="M0 0h17l1 3 1 13 1 10 1-9 1-10 1 3 1 4 1-5 1-6 1-3h9l1 1 1 4 1 6 1 2 1-4 1-5 1-3 1-1 1 1 1 3 1 5 1 3 1-3 1-5 1-3 1-1h1l1 4 1 20 1 42 1 26 1-21 1-38 1-23 1-8 1 0 1 2 1 1 1-2 1-2 1-1h19l1 1 1 2 1 6 1 10 1 12 1 11 1 20 1 51 1 49 1-21 1-61 1-29 1 35 1 47 1-18 1-54 1-42 1-15 1-4h4l1 2 1 3 1 1 1-1 1-2 1-2 1-1h29l1 2 1 19 1 71 1 114 1 29 1-79 1-93 1-47 1-14 1-2h4l1 1 1 5 1 12 1 11 1-4 1-12 1-9 1-3 1-1h1l1 2 1 8 1 16 1 8 1-7 1-14 1-9 1-3 1-1h4l1 1 1 8 1 33 1 58 1 23 1-36 1-50 1-27 1-8 1-2h6l1 1 1 2 1 1 1 0 1-2 1-1 1-1h5" stroke="#77AC30" vector-effect="non-scaling-stroke"/>
<path d="M0 0h17l1 5 1 11 1 4 1-9 1-6 1 3 1 0 1-4 1-3 1-1h8l1 1 1 2 1 4 1 2 1-2 1-4 1-2 1-1h1l1 1 1 2 1 3 1 0 1-2 1-3 1-1h1l1 1 1 10 1 30 1 39 1 2 1-33 1-31 1-14 1-3 1 0 1 0 1 0 1 0 1-1h20l1 2 1 3 1 6 1 7 1 5 1 6 1 26 1 57 1 34 1-34 1-56 1-19 1 26 1 22 1-19 1-34 1-23 1-7 1-2h4l1 1 1 1 1 1 1-1 1-1 1-1h29l1 1 1 6 1 34 1 79 1 59 1-33 1-74 1-50 1-18 1-4h5l1 1 1 5 1 11 1 7 1-5 1-10 1-6 1-3h2l1 3 1 5 1 5 1-1 1-5 1-5 1-1 1-1h4l1 1 1 5 1 25 1 52 1 30 1-27 1-46 1-29 1-9 1-2h19" stroke="#4DBEEE" vector-effect="non-scaling-stroke"/>
<path d="M0 0h17l1 3 1 13 1 18 1-6 1-17 1-3 1 5 1-3 1-6 1-3 1-1h8l1 1 1 3 1 5 1 4 1-3 1-5 1-3 1-2h1l1 2 1 4 1 3 1-1 1-4 1-2 1-2h1l1 3 1 15 1 38 1 33 1-13 1-37 1-27 1-9 1-1 1 4 1 3 1-3 1-4 1-2h19l1 1 1 1 1 4 1 8 1 9 1 8 1 15 1 48 1 65 1 0 1-61 1-54 1-1 1 44 1 22 1-31 1-44 1-25 1-8 1-1h3l1 2 1 2 1 2 1-1 1-2 1-2 1-1h29l1 1 1 6 1 37 1 101 1 96 1-27 1-99 1-78 1-30 1-6 1-1h4l1 2 1 9 1 16 1 5 1-10 1-13 1-7 1-2h1l1 1 1 6 1 14 1 11 1-4 1-12 1-11 1-4 1-1h4l1 1 1 9 1 35 1 63 1 24 1-40 1-53 1-29 1-8 1-2h6l1 1 1 2 1 2 1 1 1-2 1-2 1-2h5" stroke="#A2142F" vector-effect="non-scaling-stroke"/>
<path d="M0 0h18l1 1 1 7 1 11 1-2 1-8 1 2 1 3 1-6 1-6 1-2h9l1 1 1 3 1 6 1 2 1-3 1-5 1-3 1-1 1 1 1 3 1 4 1 2 1-2 1-4 1-3 1-1h1l1 2 1 12 1 37 1 40 1-6 1-37 1-31 1-13 1-3 1 3 1 2 1-2 1-3 1-1h19l1 1 1 2 1 4 1 8 1 9 1 9 1 16 1 54 1 73 1 0 1-67 1-56 1 4 1 40 1 3 1-38 1-39 1-18 1-4 1-1h3l1 1 1 3 1 3 1-1 1-3 1-2 1-1h29l1 1 1 11 1 51 1 102 1 56 1-55 1-90 1-55 1-17 1-4h5l1 3 1 9 1 15 1 5 1-10 1-13 1-7 1-2h1l1 1 1 7 1 14 1 12 1-4 1-14 1-10 1-5 1-1h4l1 2 1 11 1 39 1 55 1 8 1-43 1-44 1-22 1-5 1-1h7l1 1 1 1 1 0 1-1 1-1h5" stroke="#0072BD" vector-effect="non-scaling-stroke"/>
<path d="M0 0h16l1 4 1 18 1 23 1-9 1-18 1 2 1 0 1-11 1-7 1-2h9l1 1 1 4 1 7 1 2 1-4 1-5 1-4 1-1 1 2 1 4 1 5 1 1 1-5 1-4 1-2 1-1h1l1 3 1 16 1 44 1 44 1-11 1-44 1-35 1-13 1 1 1 5 1 0 1-5 1-4 1-1h18l1 1 1 1 1 5 1 9 1 14 1 14 1 15 1 42 1 83 1 36 1-61 1-85 1-32 1 46 1 77 1 3 1-67 1-64 1-29 1-7 1-1h2l1 1 1 2 1 3 1 1 1-3 1-2 1-1 1-1h29l1 4 1 29 1 99 1 138 1 14 1-107 1-110 1-52 1-13 1-2h4l1 1 1 8 1 21 1 20 1-6 1-21 1-15 1-7 1-1h1l1 3 1 10 1 17 1 7 1-10 1-15 1-8 1-3 1-1h4l1 5 1 28 1 77 1 75 1-19 1-76 1-60 1-24 1-5 1-1h6l1 1 1 3 1 3 1-1 1-3 1-2 1-1h6" stroke="#D95319" vector-effect="non-scaling-stroke"/>
<path d="M0 0h16l1 2 1 11 1 14 1-7 1-10 1 3 1 6 1-7 1-9 1-3h9l1 1 1 3 1 5 1 2 1-2 1-5 1-3 1-1 1 1 1 2 1 5 1 2 1-2 1-4 1-3 1-1h1l1 3 1 15 1 40 1 37 1-11 1-40 1-30 1-11 1 0 1 5 1 3 1-4 1-5 1-2h19l1 1 1 2 1 5 1 9 1 10 1 7 1 12 1 44 1 72 1 11 1-58 1-52 1 15 1 53 1-2 1-52 1-49 1-22 1-5 1-1h3l1 1 1 2 1 2 1 0 1-2 1-2 1-1h29l1 2 1 15 1 64 1 117 1 47 1-71 1-99 1-55 1-17 1-3h4l1 1 1 4 1 14 1 19 1 1 1-15 1-15 1-7 1-2h1l1 3 1 10 1 18 1 10 1-9 1-16 1-11 1-4 1-1h4l1 2 1 15 1 49 1 63 1 2 1-52 1-50 1-23 1-5 1-1h7l1 2 1 1 1 0 1-1 1-1 1-1h6" stroke="#EDB120" vector-effect="non-scaling-stroke"/>
<path d="M0 0h17l1 2 1 9 1 17 1-3 1-13 1-1 1 3 1-5 1-6 1-3h9l1 1 1 3 1 5 1 2 1-3 1-4 1-3 1-1h1l1 2 1 4 1 4 1-1 1-4 1-3 1-2h1l1 1 1 10 1 31 1 41 1 2 1-34 1-32 1-15 1-2 1 2 1 2 1-2 1-3 1-1h19l1 1 1 1 1 4 1 8 1 9 1 8 1 14 1 46 1 66 1 3 1-60 1-53 1 5 1 52 1 20 1-38 1-50 1-27 1-8 1-1h3l1 1 1 3 1 2 1-1 1-2 1-2 1-1h29l1 1 1 9 1 45 1 100 1 69 1-46 1-92 1-61 1-20 1-5h5l1 2 1 8 1 17 1 10 1-9 1-15 1-9 1-3 1-1 1 1 1 3 1 8 1 7 1-3 1-7 1-6 1-2 1-1h4l1 1 1 7 1 34 1 64 1 30 1-37 1-55 1-32 1-10 1-2h7l1 2 1 2 1 1 1-2 1-2 1-1h5" stroke="#7E2F8E" vector-effect="non-scaling-stroke"/>
<path d="M0 0h17l1 1 1 7 1 21 1 10 1-16 1-10 1 2 1-3 1-8 1-3 1-1h8l1 1 1 2 1 5 1 3 1-2 1-5 1-3 1-1h1l1 1 1 4 1 5 1 1 1-4 1-4 1-2 1-1 1 1 1 8 1 31 1 46 1 11 1-34 1-38 1-19 1-5 1 2 1 3 1 0 1-3 1-2 1-1h18l1 1 1 1 1 5 1 10 1 13 1 11 1 14 1 45 1 86 1 33 1-63 1-83 1-26 1 42 1 42 1-22 1-54 1-38 1-14 1-3h3l1 2 1 3 1 2 1-1 1-3 1-2 1-1h30l1 5 1 31 1 92 1 102 1-12 1-94 1-81 1-34 1-8 1-1h4l1 2 1 7 1 14 1 9 1-8 1-13 1-8 1-2 1-1 1 1 1 6 1 15 1 15 1-2 1-14 1-13 1-6 1-2h5l1 4 1 22 1 61 1 59 1-15 1-60 1-48 1-18 1-4 1-1h5l1 1 1 1 1 3 1 1 1-2 1-2 1-2h5" stroke="#77AC30" vector-effect="non-scaling-stroke"/>
<path d="M0 0h16l1 1 1 5 1 16 1 5 1-12 1-8 1 4 1 0 1-6 1-4 1-1h9l1 2 1 3 1 3 1-1 1-3 1-3 1-1h1l1 1 1 3 1 4 1 1 1-3 1-3 1-2 1-1 1 1 1 4 1 21 1 43 1 22 1-23 1-37 1-22 1-7 1-1 1 1 1 0 1-1 1-1h20l1 1 1 3 1 4 1 6 1 6 1 9 1 32 1 61 1 23 1-43 1-55 1-20 1 29 1 43 1-5 1-40 1-35 1-15 1-3 1-1h2l1 1 1 1 1 2 1 0 1-1 1-2 1-1h30l1 5 1 28 1 84 1 94 1-11 1-86 1-75 1-31 1-7 1-1h4l1 1 1 2 1 8 1 8 1-2 1-8 1-6 1-2 1-1h1l1 2 1 8 1 13 1 5 1-7 1-11 1-7 1-2 1-1h4l1 2 1 11 1 37 1 46 1 1 1-39 1-37 1-16 1-4 1-1h6l1 1 1 1 1 1 1 0 1-2 1-1h6" stroke="#4DBEEE" vector-effect="non-scaling-stroke"/>
<path d="M0 0h18l1 3 1 15 1 16 1-9 1-12 1 3 1-1 1-8 1-6 1-1h9l1 2 1 4 1 6 1 0 1-4 1-5 1-2 1-1 1 1 1 2 1 6 1 2 1-2 1-5 1-3 1-1h1l1 4 1 20 1 47 1 37 1-19 1-45 1-30 1-10 1 3 1 6 1-2 1-6 1-4 1-1h19l1 2 1 3 1 8 1 12 1 13 1 18 1 50 1 84 1 22 1-68 1-78 1-19 1 49 1 48 1-24 1-59 1-42 1-16 1-3h4l1 2 1 3 1 1 1-1 1-3 1-1 1-1h29l1 3 1 20 1 72 1 107 1 20 1-79 1-87 1-43 1-11 1-2h4l1 2 1 11 1 22 1 14 1-11 1-20 1-13 1-4 1-1h1l1 3 1 9 1 14 1 5 1-10 1-11 1-7 1-3h5l1 2 1 16 1 54 1 70 1 5 1-57 1-56 1-26 1-7 1-1h6l1 2 1 2 1 2 1-2 1-2 1-1 1-1h4" stroke="#A2142F" vector-effect="non-scaling-stroke"/>
<path d="M0 0h17l1 1 1 4 1 14 1 4 1-10 1-2 1 3 1-4 1-7 1-3h10l1 2 1 3 1 4 1-1 1-4 1-2 1-2h1l1 1 1 4 1 3 1 0 1-3 1-3 1-2h1l1 1 1 7 1 27 1 43 1 9 1-29 1-35 1-17 1-4 1 1 1 3 1-2 1-2 1-2h19l1 1 1 2 1 5 1 9 1 12 1 10 1 8 1 27 1 58 1 25 1-43 1-55 1-3 1 49 1 25 1-36 1-53 1-30 1-9 1-2h3l1 1 1 2 1 2 1 1 1-2 1-3 1-1h29l1 1 1 5 1 36 1 96 1 93 1-25 1-95 1-75 1-29 1-6 1-1h4l1 2 1 8 1 13 1 6 1-8 1-12 1-7 1-2h1l1 1 1 5 1 11 1 8 1-4 1-9 1-8 1-3 1-1h5l1 4 1 21 1 51 1 41 1-19 1-48 1-34 1-13 1-3h7l1 1 1 1 1 0 1-1 1 0 1-1h5" stroke="#0072BD" vector-effect="non-scaling-stroke"/>
<path d="M0 0h18l1 3 1 12 1 9 1-8 1-8 1 4 1 1 1-7 1-5 1-1h9l1 1 1 4 1 5 1 1 1-4 1-4 1-2 1-1 1 1 1 2 1 4 1 1 1-2 1-3 1-2 1-1h1l1 4 1 17 1 44 1 36 1-16 1-42 1-29 1-10 1 1 1 3 1-2 1-3 1-2 1-1h19l1 1 1 1 1 4 1 6 1 7 1 7 1 21 1 47 1 31 1-27 1-47 1-17 1 28 1 29 1-16 1-37 1-26 1-10 1-2h4l1 2 1 2 1 2 1-1 1-3 1-1 1-1h29l1 2 1 19 1 66 1 97 1 18 1-72 1-79 1-39 1-10 1-2h5l1 2 1 8 1 11 1 2 1-8 1-9 1-5 1-1h1l1 2 1 8 1 13 1 6 1-7 1-12 1-7 1-2 1-1h4l1 2 1 16 1 52 1 67 1 2 1-55 1-53 1-24 1-6 1-1h7l1 1 1 0 1 0 1 0 1-1h5" stroke="#D95319" vector-effect="non-scaling-stroke"/>
<path d="M0 0h18l1 4 1 14 1 7 1-9 1-8 1 3 1 0 1-6 1-4 1-1h9l1 3 1 5 1 4 1-1 1-5 1-4 1-2h1l1 1 1 3 1 4 1 0 1-3 1-3 1-2h1l1 1 1 6 1 26 1 44 1 14 1-28 1-37 1-19 1-6 1 1 1 2 1-1 1-1 1-2h20l1 2 1 3 1 6 1 10 1 10 1 17 1 52 1 75 1 6 1-66 1-65 1-11 1 37 1 24 1-25 1-40 1-25 1-8 1-2h3l1 1 1 1 1 2 1 0 1-2 1-1 1-1h30l1 4 1 27 1 82 1 98 1-5 1-86 1-77 1-34 1-8 1-1h4l1 2 1 6 1 14 1 7 1-7 1-12 1-7 1-3h1l1 1 1 5 1 13 1 15 1-1 1-13 1-13 1-5 1-2h4l1 1 1 5 1 27 1 55 1 30 1-29 1-48 1-30 1-9 1-2h7l1 1 1 1 1 0 1 0 1-1 1-1h5" stroke="#EDB120" vector-effect="non-scaling-stroke"/>
<path d="M0 0h17l1 2 1 9 1 13 1-4 1-10 1 1 1 2 1-6 1-5 1-2h9l1 1 1 1 1 3 1 0 1-1 1-2 1-2h2l1 2 1 3 1 2 1-1 1-3 1-2 1-1h1l1 3 1 14 1 36 1 31 1-12 1-34 1-26 1-10 1-1 1 0 1 1 1-1 1 0 1-1h20l1 1 1 3 1 3 1 5 1 5 1 14 1 37 1 31 1-16 1-40 1-23 1 11 1 29 1 6 1-24 1-25 1-13 1-3 1-1h3l1 1 1 2 1 1 1-1 1-2 1-1h30l1 1 1 7 1 38 1 87 1 62 1-38 1-80 1-54 1-19 1-4h4l1 1 1 4 1 12 1 13 1-3 1-12 1-10 1-4 1-1h1l1 2 1 7 1 11 1 3 1-7 1-9 1-5 1-2h5l1 1 1 8 1 32 1 48 1 12 1-34 1-40 1-20 1-6 1-1h6l1 1 1 1 1 1 1 0 1-2 1-1h6" stroke="#7E2F8E" vector-effect="non-scaling-stroke"/>
<path d="M0 0h17l1 5 1 19 1 15 1-13 1-15 1 2 1 4 1-7 1-7 1-3h9l1 1 1 4 1 5 1 1 1-4 1-4 1-2 1-1 1 1 1 3 1 4 1 2 1-2 1-4 1-3 1-1 1 1 1 4 1 21 1 44 1 23 1-23 1-38 1-23 1-7 1 2 1 6 1 1 1-5 1-4 1-2h19l1 1 1 3 1 5 1 9 1 10 1 11 1 31 1 65 1 34 1-43 1-66 1-28 1 36 1 76 1 17 1-55 1-64 1-32 1-8 1-2h3l1 2 1 3 1 2 1-1 1-3 1-2 1-1h29l1 1 1 12 1 55 1 112 1 61 1-59 1-99 1-60 1-19 1-4h5l1 4 1 11 1 17 1 4 1-13 1-14 1-7 1-2h1l1 3 1 11 1 19 1 9 1-11 1-16 1-11 1-3 1-1h4l1 2 1 12 1 48 1 76 1 19 1-53 1-62 1-32 1-8 1-2h6l1 1 1 1 1 2 1 0 1-2 1-1 1-1h5" stroke="#77AC30" vector-effect="non-scaling-stroke"/>
<path d="M0 0h15l1 1 1 7 1 20 1 9 1-15 1-10 1 3 1-4 1-7 1-3 1-1h9l1 2 1 5 1 5 1-1 1-4 1-4 1-2 1 0 1 1 1 5 1 4 1-2 1-4 1-3 1-2h1l1 1 1 9 1 32 1 52 1 14 1-36 1-43 1-22 1-5 1 2 1 5 1 0 1-5 1-3 1-1h18l1 1 1 1 1 4 1 8 1 9 1 10 1 16 1 56 1 86 1 14 1-71 1-73 1-4 1 65 1 44 1-38 1-68 1-43 1-14 1-3h3l1 1 1 2 1 2 1 0 1-2 1-2 1-1h29l1 1 1 7 1 43 1 114 1 103 1-34 1-111 1-83 1-32 1-7 1-1h4l1 2 1 8 1 17 1 10 1-8 1-15 1-10 1-3 1-1 1 1 1 3 1 11 1 14 1 1 1-11 1-11 1-6 1-2h4l1 1 1 8 1 37 1 71 1 35 1-40 1-62 1-36 1-12 1-2h7l1 1 1 2 1 1 1-1 1-1 1-1 1-1h6" stroke="#4DBEEE" vector-effect="non-scaling-stroke"/>
<path d="M0 0h17l1 1 1 5 1 17 1 7 1-11 1-4 1 1 1-6 1-7 1-3h9l1 1 1 2 1 4 1 1 1-3 1-3 1-1 1-1 1 1 1 2 1 4 1 3 1-2 1-4 1-3 1-1h1l1 2 1 13 1 34 1 33 1-9 1-34 1-26 1-10 1-2 1 2 1 0 1-1 1-1 1-1h19l1 1 1 2 1 5 1 7 1 7 1 6 1 22 1 61 1 58 1-22 1-68 1-44 1 13 1 57 1 26 1-37 1-53 1-30 1-9 1-2h3l1 1 1 3 1 2 1-1 1-2 1-2 1-1h29l1 1 1 11 1 48 1 85 1 36 1-52 1-73 1-41 1-13 1-2h5l1 3 1 11 1 13 1 2 1-11 1-11 1-5 1-2h1l1 2 1 5 1 12 1 7 1-5 1-11 1-7 1-2 1-1h4l1 1 1 6 1 29 1 54 1 25 1-32 1-47 1-26 1-8 1-2h7l1 1 1 1 1 0 1-1 1 0 1-1h5" stroke="#A2142F" vector-effect="non-scaling-stroke"/>
<path d="M0 0h17l1 5 1 18 1 13 1-13 1-14 1 3 1 5 1-6 1-8 1-3h9l1 2 1 5 1 4 1 0 1-5 1-4 1-1 1-1 1 1 1 2 1 5 1 2 1-2 1-4 1-3 1-1 1 1 1 5 1 24 1 45 1 21 1-26 1-39 1-23 1-6 1 1 1 5 1 0 1-4 1-3 1-1h19l1 1 1 2 1 5 1 7 1 8 1 8 1 24 1 51 1 30 1-33 1-53 1-21 1 35 1 60 1 5 1-49 1-50 1-23 1-6 1-1h2l1 1 1 1 1 3 1 2 1-2 1-3 1-1 1-1h29l1 1 1 8 1 41 1 95 1 67 1-41 1-87 1-59 1-20 1-5h5l1 4 1 11 1 18 1 3 1-13 1-14 1-7 1-2h1l1 2 1 8 1 15 1 9 1-8 1-13 1-9 1-3 1-1h4l1 2 1 12 1 46 1 73 1 17 1-51 1-59 1-30 1-9 1-1h6l1 1 1 3 1 1 1-1 1-2 1-1 1-1h5" stroke="#0072BD" vector-effect="non-scaling-stroke"/>
<path d="M0 0h16l1 1 1 5 1 19 1 9 1-13 1-10 1 7 1 2 1-10 1-8 1-2h9l1 1 1 4 1 6 1 2 1-4 1-5 1-3 1-1 1 1 1 3 1 5 1 2 1-3 1-4 1-3 1-1 1 1 1 5 1 24 1 46 1 20 1-27 1-39 1-22 1-6 1 1 1 6 1 2 1-4 1-5 1-2h18l1 1 1 2 1 4 1 10 1 12 1 11 1 7 1 24 1 65 1 51 1-35 1-72 1-34 1 37 1 58 1-9 1-57 1-49 1-21 1-4 1-1h2l1 1 1 3 1 3 1 0 1-2 1-3 1-2h30l1 2 1 15 1 62 1 110 1 42 1-69 1-93 1-51 1-15 1-3h4l1 1 1 6 1 16 1 13 1-5 1-15 1-11 1-4 1-1h1l1 3 1 11 1 20 1 9 1-11 1-17 1-10 1-4 1-1h4l1 5 1 25 1 59 1 46 1-23 1-55 1-40 1-14 1-3h7l1 2 1 2 1 0 1-1 1-2 1-1h6" stroke="#D95319" vector-effect="non-scaling-stroke"/>
<path d="M0 0h16l1 4 1 13 1 8 1-9 1-8 1 3 1 0 1-6 1-4 1-1h9l1 1 1 3 1 3 1 0 1-2 1-3 1-2h1l1 1 1 2 1 4 1 2 1-3 1-3 1-2 1-1h1l1 3 1 16 1 38 1 27 1-16 1-35 1-23 1-8 1 0 1 4 1 0 1-3 1-2 1-1h19l1 1 1 1 1 2 1 4 1 5 1 6 1 23 1 50 1 29 1-29 1-47 1-20 1 17 1 26 1-8 1-27 1-22 1-9 1-2h4l1 2 1 2 1 0 1-1 1-2 1-1h30l1 3 1 22 1 71 1 90 1 2 1-75 1-71 1-33 1-8 1-1h4l1 1 1 2 1 6 1 4 1-2 1-6 1-4 1-1h2l1 2 1 8 1 13 1 5 1-8 1-11 1-6 1-3h5l1 1 1 9 1 31 1 43 1 5 1-33 1-35 1-16 1-4 1-1h6l1 1 1 1 1 1 1-1 1-1 1-1h7" stroke="#EDB120" vector-effect="non-scaling-stroke"/>
<path d="M0 0h16l1 1 1 6 1 13 1 1 1-11 1-5 1 3 1 0 1-4 1-3 1-1h9l1 1 1 3 1 2 1 0 1-3 1-2 1-1h1l1 1 1 2 1 3 1 1 1-3 1-2 1-2h1l1 1 1 7 1 26 1 44 1 13 1-30 1-36 1-19 1-5 1 2 1 3 1 0 1-3 1-2 1-1h18l1 1 1 1 1 4 1 7 1 9 1 7 1 6 1 25 1 62 1 46 1-34 1-63 1-21 1 40 1 38 1-25 1-53 1-35 1-12 1-3h4l1 1 1 2 1 1 1-2 1-1 1-1h30l1 3 1 19 1 62 1 84 1 5 1-67 1-67 1-30 1-8 1-1h4l1 1 1 6 1 12 1 5 1-6 1-10 1-6 1-2h2l1 3 1 9 1 13 1 3 1-9 1-11 1-6 1-2h5l1 4 1 18 1 42 1 30 1-18 1-39 1-26 1-9 1-2h8l1 1 1 1 1-1 1 0 1-1h6" stroke="#7E2F8E" vector-effect="non-scaling-stroke"/>
<path d="M0 0h16l1 1 1 5 1 13 1 3 1-11 1-6 1 3 1 2 1-4 1-5 1-1h9l1 1 1 3 1 1 1-1 1-2 1-1 1-1h1l1 1 1 3 1 4 1 0 1-3 1-3 1-1 1-1 1 1 1 8 1 25 1 34 1 2 1-27 1-27 1-12 1-3 1 1 1 2 1-1 1-2 1-1h20l1 1 1 3 1 7 1 9 1 9 1 10 1 27 1 44 1 7 1-40 1-42 1-6 1 37 1 37 1-15 1-42 1-32 1-11 1-3h3l1 1 1 2 1 2 1 0 1-2 1-2 1-1h30l1 5 1 25 1 72 1 73 1-15 1-72 1-59 1-23 1-5 1-1h4l1 2 1 6 1 14 1 8 1-7 1-12 1-8 1-2 1-1 1 1 1 2 1 8 1 8 1 0 1-7 1-7 1-4 1-1h5l1 4 1 18 1 41 1 30 1-17 1-39 1-26 1-9 1-2h19" stroke="#77AC30" vector-effect="non-scaling-stroke"/>
<path d="M0 0h15l1 2 1 7 1 11 1-3 1-10 1 0 1 2 1-3 1-4 1-2h9l1 1 1 2 1 3 1 1 1-3 1-2 1-2h2l1 2 1 3 1 4 1-1 1-4 1-2 1-2h1l1 3 1 14 1 35 1 27 1-13 1-33 1-23 1-8 1-2h24l1 1 1 1 1 3 1 5 1 6 1 6 1 15 1 41 1 43 1-12 1-47 1-28 1 24 1 49 1 4 1-43 1-43 1-19 1-5 1-1h3l1 1 1 2 1 1 1-1 1-1 1-2h30l1 1 1 10 1 44 1 82 1 36 1-48 1-70 1-40 1-13 1-2h4l1 1 1 3 1 12 1 13 1 0 1-12 1-11 1-5 1-1h1l1 1 1 4 1 6 1 2 1-4 1-5 1-3 1-1h5l1 1 1 9 1 31 1 47 1 8 1-34 1-38 1-18 1-5 1-1h7l1 1 1 1 1-1 1 0 1-1h8" stroke="#4DBEEE" vector-effect="non-scaling-stroke"/>
<path d="M0 0h16l1 1 1 9 1 18 1 0 1-15 1-4 1 6 1-2 1-8 1-4 1-1h8l1 1 1 4 1 7 1 4 1-4 1-6 1-4 1-2h1l1 2 1 4 1 6 1 1 1-5 1-5 1-2 1-1 1 2 1 12 1 40 1 54 1 2 1-43 1-42 1-19 1-4 1 5 1 6 1-2 1-6 1-4 1-1h18l1 1 1 2 1 7 1 11 1 15 1 11 1 6 1 23 1 70 1 60 1-33 1-75 1-26 1 44 1 26 1-39 1-58 1-33 1-10 1-2h3l1 1 1 3 1 3 1 0 1-3 1-2 1-2h30l1 4 1 28 1 89 1 114 1 2 1-95 1-90 1-40 1-10 1-2h4l1 2 1 10 1 21 1 14 1-10 1-19 1-13 1-4 1-1 1 1 1 5 1 14 1 18 1 0 1-15 1-14 1-7 1-2h4l1 1 1 9 1 38 1 67 1 27 1-42 1-57 1-32 1-9 1-2h7l1 2 1 4 1 2 1-2 1-3 1-2 1-1h5" stroke="#A2142F" vector-effect="non-scaling-stroke"/>
<path d="M0 0h18l1 1 1 6 1 16 1 5 1-13 1-7 1 4 1-1 1-7 1-3 1-1h9l1 3 1 4 1 4 1-2 1-4 1-3 1-2h1l1 1 1 4 1 4 1 0 1-3 1-3 1-2 1-1 1 1 1 7 1 27 1 39 1 7 1-29 1-32 1-15 1-4 1 1 1 1 1-1 1-1 1-1h19l1 1 1 1 1 4 1 8 1 9 1 9 1 14 1 34 1 32 1-16 1-44 1-28 1 12 1 48 1 26 1-28 1-45 1-27 1-8 1-2h4l1 1 1 2 1 0 1-1 1-1 1-1h30l1 3 1 22 1 68 1 85 1 0 1-72 1-68 1-30 1-7 1-1h4l1 2 1 6 1 11 1 4 1-7 1-9 1-5 1-2h1l1 1 1 4 1 12 1 13 1-1 1-11 1-11 1-5 1-2h4l1 1 1 4 1 23 1 46 1 26 1-24 1-41 1-25 1-8 1-2h7l1 1 1 1 1 0 1 0 1-1 1-1h4" stroke="#0072BD" vector-effect="non-scaling-stroke"/>
<path d="M0 0h18l1 5 1 18 1 14 1-12 1-13 1 1 1 0 1-7 1-5 1-1h8l1 1 1 2 1 6 1 4 1-2 1-5 1-4 1-2h1l1 1 1 4 1 5 1 1 1-3 1-5 1-2 1-1 1 1 1 7 1 29 1 48 1 16 1-32 1-40 1-22 1-5 1 1 1 4 1-1 1-3 1-2 1-1h19l1 1 1 3 1 7 1 9 1 10 1 15 1 46 1 72 1 13 1-61 1-64 1-8 1 58 1 62 1-21 1-67 1-51 1-19 1-4 1-1h2l1 1 1 2 1 3 1 0 1-2 1-2 1-2h30l1 5 1 31 1 99 1 123 1 0 1-105 1-98 1-43 1-10 1-2h4l1 1 1 7 1 19 1 19 1-4 1-19 1-15 1-6 1-2 1 1 1 3 1 10 1 14 1 2 1-10 1-12 1-6 1-2h5l1 3 1 21 1 64 1 73 1-5 1-65 1-59 1-25 1-6 1-1h6l1 2 1 3 1 1 1-1 1-2 1-2 1-1h4" stroke="#D95319" vector-effect="non-scaling-stroke"/>
<path d="M0 0h16l1 2 1 10 1 14 1-4 1-11 1 3 1 1 1-7 1-6 1-2h9l1 2 1 4 1 4 1-1 1-3 1-4 1-2h1l1 1 1 3 1 5 1 1 1-3 1-4 1-2 1-1 1 1 1 5 1 22 1 44 1 23 1-24 1-39 1-23 1-7 1 0 1 2 1 1 1-2 1-2 1-1h19l1 1 1 2 1 5 1 8 1 9 1 11 1 35 1 80 1 53 1-44 1-80 1-38 1 33 1 58 1-2 1-54 1-49 1-22 1-5 1-1h2l1 1 1 1 1 4 1 1 1-2 1-3 1-1 1-1h29l1 1 1 11 1 54 1 110 1 63 1-56 1-98 1-61 1-20 1-4h4l1 1 1 5 1 14 1 12 1-4 1-13 1-10 1-4 1-1h1l1 3 1 9 1 13 1 3 1-9 1-11 1-6 1-2h4l1 1 1 5 1 29 1 67 1 52 1-28 1-63 1-44 1-15 1-4h7l1 1 1 1 1 1 1-1 1-1 1-1h7" stroke="#EDB120" vector-effect="non-scaling-stroke"/>
<path d="M0 0h18l1 1 1 6 1 12 1 1 1-11 1-5 1 2 1 0 1-4 1-2h9l1 1 1 2 1 3 1 2 1-2 1-3 1-2 1-1h1l1 1 1 4 1 4 1 0 1-4 1-3 1-1 1-1 1 1 1 9 1 28 1 33 1-2 1-29 1-26 1-11 1-1 1 2 1 2 1-2 1-3 1-1h19l1 1 1 1 1 3 1 5 1 5 1 5 1 14 1 48 1 64 1 1 1-56 1-50 1 3 1 43 1 16 1-31 1-42 1-22 1-7 1-1h4l1 2 1 1 1 0 1-1 1-1 1-1h29l1 1 1 6 1 35 1 88 1 72 1-32 1-83 1-60 1-22 1-4 1-1h4l1 3 1 8 1 15 1 5 1-10 1-12 1-7 1-2h1l1 1 1 5 1 11 1 8 1-4 1-10 1-7 1-3 1-1h4l1 1 1 5 1 25 1 57 1 37 1-26 1-52 1-33 1-12 1-2h9l1 1 1-1h6" stroke="#7E2F8E" vector-effect="non-scaling-stroke"/>
<path d="M0 0h18l1 1 1 7 1 14 1 1 1-11 1-1 1 5 1-4 1-8 1-3 1-1h8l1 1 1 1 1 4 1 2 1-2 1-3 1-2 1-1h1l1 1 1 3 1 3 1 0 1-3 1-2 1-2h1l1 2 1 9 1 29 1 35 1-1 1-31 1-28 1-12 1-2 1 1 1 3 1-1 1-2 1-2h19l1 1 1 1 1 4 1 7 1 9 1 9 1 13 1 41 1 61 1 5 1-55 1-52 1-4 1 43 1 24 1-27 1-44 1-26 1-8 1-2h3l1 1 1 3 1 2 1-1 1-2 1-2 1-1h29l1 1 1 6 1 36 1 97 1 91 1-26 1-95 1-74 1-29 1-6 1-1h4l1 2 1 5 1 11 1 4 1-7 1-8 1-5 1-2h1l1 1 1 3 1 10 1 11 1 0 1-9 1-10 1-4 1-2h4l1 1 1 11 1 40 1 66 1 19 1-45 1-54 1-29 1-8 1-1h7l1 1 1 1 1 0 1-1 1 0 1-1h4" stroke="#77AC30" vector-effect="non-scaling-stroke"/>
<path d="M0 0h17l1 1 1 9 1 17 1 0 1-13 1-2 1 5 1-5 1-8 1-3 1-1h9l1 2 1 5 1 5 1-1 1-5 1-4 1-1 1 0 1 2 1 5 1 4 1-2 1-5 1-3 1-2h1l1 3 1 15 1 39 1 38 1-12 1-39 1-30 1-11 1-1 1 5 1 5 1-2 1-6 1-3 1-1h18l1 1 1 2 1 5 1 10 1 13 1 12 1 20 1 59 1 88 1 6 1-78 1-74 1 1 1 69 1 37 1-45 1-70 1-41 1-12 1-3h3l1 1 1 3 1 3 1-1 1-2 1-3 1-1h29l1 1 1 9 1 47 1 107 1 76 1-46 1-99 1-67 1-23 1-4 1-1h4l1 2 1 10 1 19 1 9 1-11 1-16 1-10 1-2 1-1 1 1 1 4 1 12 1 13 1-1 1-11 1-11 1-5 1-2h4l1 1 1 12 1 46 1 78 1 25 1-51 1-65 1-34 1-10 1-2h7l1 1 1 2 1 1 1-1 1-2 1-1h5" stroke="#4DBEEE" vector-effect="non-scaling-stroke"/>
<path d="M0 0h18l1 2 1 9 1 16 1-2 1-11 1 1 1 0 1-7 1-6 1-2h9l1 1 1 4 1 3 1 0 1-3 1-3 1-2h2l1 2 1 4 1 2 1-2 1-3 1-2 1-1h1l1 4 1 18 1 38 1 25 1-19 1-34 1-23 1-7 1 0 1 1 1-1 1-1 1-1h20l1 1 1 4 1 7 1 10 1 10 1 7 1 15 1 45 1 45 1-18 1-56 1-37 1 12 1 35 1 1 1-32 1-31 1-14 1-3 1-1h3l1 1 1 2 1 2 1 0 1-2 1-2 1-1h29l1 1 1 11 1 49 1 98 1 53 1-53 1-86 1-53 1-17 1-3h4l1 1 1 4 1 10 1 12 1-3 1-10 1-9 1-4 1-1h1l1 2 1 8 1 15 1 9 1-7 1-14 1-9 1-3 1-1h4l1 2 1 12 1 41 1 53 1 2 1-44 1-42 1-19 1-4 1-1h6l1 1 1 2 1 1 1 0 1-2 1-1 1-1h4" stroke="#A2142F" vector-effect="non-scaling-stroke"/>
<path d="M0 0h16l1 4 1 12 1 8 1-9 1-7 1 4 1 4 1-7 1-7 1-2h9l1 1 1 2 1 4 1 0 1-2 1-3 1-1 1-1 1 1 1 3 1 5 1 2 1-3 1-4 1-3 1-1h1l1 3 1 18 1 42 1 36 1-15 1-41 1-29 1-11 1 0 1 3 1 1 1-3 1-3 1-1h19l1 1 1 3 1 6 1 9 1 11 1 10 1 25 1 51 1 27 1-36 1-56 1-23 1 29 1 52 1 5 1-43 1-44 1-21 1-5 1-1h3l1 1 1 2 1 1 1 0 1-2 1-1 1-1h29l1 1 1 8 1 45 1 103 1 75 1-44 1-96 1-64 1-23 1-4 1-1h4l1 2 1 8 1 11 1 2 1-9 1-9 1-4 1-1h1l1 2 1 5 1 11 1 5 1-5 1-9 1-6 1-2 1-1h4l1 2 1 13 1 40 1 46 1-4 1-41 1-37 1-15 1-3 1-1h6l1 1 1 2 1 2 1-1 1-1 1-2 1-1h6" stroke="#0072BD" vector-effect="non-scaling-stroke"/>
<path d="M0 0h17l1 2 1 10 1 11 1-6 1-10 1 0 1 2 1-4 1-4 1-1h9l1 1 1 3 1 4 1 1 1-3 1-3 1-2 1-1h1l1 2 1 3 1 1 1-1 1-2 1-2 1-1h1l1 4 1 19 1 40 1 24 1-20 1-36 1-22 1-7 1 0 1 3 1 0 1-3 1-1 1-1h19l1 1 1 2 1 6 1 9 1 9 1 9 1 18 1 40 1 25 1-27 1-47 1-26 1 10 1 33 1 12 1-23 1-30 1-16 1-4 1-1h3l1 2 1 2 1 0 1-1 1-2 1-1h30l1 1 1 6 1 34 1 77 1 53 1-35 1-70 1-46 1-16 1-4h5l1 3 1 10 1 13 1 0 1-10 1-10 1-5 1-1h1l1 2 1 4 1 6 1 2 1-4 1-6 1-3 1-1h5l1 2 1 15 1 47 1 59 1 0 1-50 1-46 1-21 1-5 1-1h7l1 1 1 1 1 0 1 0 1-1 1-1h5" stroke="#D95319" vector-effect="non-scaling-stroke"/>
<path d="M0 0h17l1 1 1 5 1 14 1 4 1-11 1-3 1 6 1-3 1-8 1-4 1-1h9l1 2 1 5 1 4 1-1 1-5 1-3 1-2h1l1 1 1 3 1 5 1 1 1-3 1-4 1-2 1-1h1l1 4 1 19 1 37 1 22 1-19 1-34 1-21 1-6 1 2 1 4 1 0 1-4 1-3 1-1h19l1 2 1 3 1 5 1 7 1 6 1 9 1 34 1 66 1 26 1-46 1-60 1-19 1 33 1 35 1-15 1-42 1-30 1-11 1-3h3l1 1 1 2 1 3 1 1 1-2 1-3 1-1 1-1h29l1 5 1 28 1 89 1 106 1-5 1-92 1-85 1-36 1-9 1-1h4l1 2 1 7 1 16 1 9 1-7 1-14 1-9 1-3 1-1h1l1 2 1 7 1 12 1 4 1-7 1-10 1-6 1-2h5l1 2 1 12 1 41 1 54 1 2 1-44 1-42 1-19 1-5 1-1h6l1 1 1 2 1 1 1-1 1-2 1-1h5" stroke="#EDB120" vector-effect="non-scaling-stroke"/>
<path d="M0 0h16l1 1 1 9 1 18 1 1 1-14 1-1 1 6 1-7 1-9 1-3 1-1h8l1 1 1 3 1 6 1 4 1-2 1-6 1-4 1-2h1l1 2 1 5 1 4 1-1 1-4 1-4 1-2h1l1 2 1 12 1 37 1 42 1-4 1-38 1-33 1-14 1-2 1 5 1 5 1-3 1-5 1-3 1-1h18l1 1 1 1 1 4 1 8 1 10 1 8 1 15 1 54 1 87 1 18 1-70 1-73 1-9 1 54 1 33 1-36 1-57 1-35 1-11 1-2h3l1 2 1 3 1 3 1-1 1-3 1-3 1-1h29l1 1 1 6 1 37 1 94 1 81 1-31 1-90 1-67 1-25 1-5 1-1h4l1 3 1 12 1 21 1 9 1-13 1-18 1-10 1-3 1-1 1 2 1 10 1 18 1 12 1-8 1-17 1-11 1-5 1-1h4l1 1 1 9 1 40 1 74 1 32 1-44 1-63 1-36 1-11 1-2h6l1 1 1 3 1 2 1-1 1-2 1-2 1-1h6" stroke="#7E2F8E" vector-effect="non-scaling-stroke"/>
<path d="M0 0h19l1 3 1 8 1 2 1-7 1-3 1 2 1 0 1-3 1-1 1-1h9l1 1 1 2 1 3 1 0 1-3 1-2 1-1h1l1 1 1 1 1 2 1 1 1-1 1-2 1-2h2l1 5 1 18 1 37 1 18 1-20 1-32 1-19 1-6 1 0 1 0 1 0 1 0 1-1h20l1 1 1 1 1 3 1 4 1 4 1 5 1 21 1 55 1 48 1-21 1-56 1-30 1 13 1 19 1-12 1-28 1-19 1-6 1-2h4l1 2 1 1 1 0 1-1 1-1 1-1h30l1 2 1 12 1 44 1 69 1 15 1-49 1-56 1-28 1-8 1-1h4l1 1 1 2 1 9 1 7 1-1 1-8 1-7 1-2 1-1 1 1 1 3 1 9 1 11 1 0 1-9 1-9 1-5 1-1h5l1 2 1 14 1 41 1 47 1-5 1-43 1-36 1-16 1-3 1-1h6l1 1 1 1 1 1 1-1 1-1 1-1h4" stroke="#77AC30" vector-effect="non-scaling-stroke"/>
<path d="M0 0h16l1 2 1 11 1 21 1 0 1-16 1-2 1 6 1-8 1-10 1-3 1-1h8l1 1 1 4 1 5 1 1 1-4 1-4 1-2 1-1h1l1 3 1 4 1 4 1-2 1-4 1-3 1-2h1l1 2 1 11 1 37 1 50 1 4 1-40 1-40 1-18 1-2 1 3 1 1 1-3 1-4 1-1h19l1 1 1 3 1 6 1 10 1 12 1 10 1 21 1 56 1 55 1-23 1-68 1-42 1 21 1 54 1 7 1-46 1-48 1-22 1-6 1-1h3l1 1 1 3 1 3 1-1 1-3 1-2 1-1h29l1 1 1 11 1 52 1 114 1 74 1-55 1-103 1-67 1-22 1-4 1-1h4l1 2 1 9 1 16 1 7 1-9 1-14 1-8 1-3h1l1 2 1 9 1 20 1 14 1-7 1-18 1-13 1-6 1-1h4l1 2 1 16 1 54 1 79 1 13 1-60 1-64 1-31 1-8 1-1h7l1 2 1 1 1 1 1-1 1-2 1-1h6" stroke="#4DBEEE" vector-effect="non-scaling-stroke"/>
<path d="M0 0h17l1 1 1 6 1 13 1 1 1-9 1-2 1 3 1-5 1-6 1-2h10l1 2 1 4 1 2 1-2 1-3 1-2 1-1h1l1 2 1 4 1 3 1-1 1-4 1-2 1-2h1l1 2 1 10 1 29 1 33 1-4 1-31 1-25 1-11 1-2 1 2 1 1 1-2 1-1 1-1h20l1 1 1 2 1 5 1 6 1 5 1 9 1 30 1 44 1 5 1-38 1-35 1 5 1 41 1 16 1-28 1-39 1-22 1-6 1-1h3l1 1 1 1 1 1 1 0 1-1 1-1 1-1h29l1 1 1 7 1 34 1 76 1 49 1-36 1-69 1-44 1-15 1-3h5l1 2 1 8 1 14 1 4 1-9 1-11 1-6 1-2h1l1 1 1 4 1 11 1 12 1-2 1-10 1-10 1-5 1-1h4l1 1 1 7 1 30 1 58 1 26 1-33 1-50 1-28 1-9 1-2h18" stroke="#A2142F" vector-effect="non-scaling-stroke"/>
<path d="M0 0h18l1 2 1 13 1 19 1-4 1-17 1-2 1 6 1-6 1-7 1-3 1-1h8l1 1 1 4 1 5 1 1 1-4 1-4 1-2 1-1 1 1 1 2 1 4 1 3 1-2 1-4 1-3 1-1h1l1 3 1 14 1 39 1 37 1-11 1-38 1-30 1-11 1-1 1 2 1 1 1-2 1-2 1-1h19l1 1 1 3 1 5 1 9 1 9 1 7 1 21 1 50 1 37 1-27 1-57 1-33 1 14 1 51 1 24 1-32 1-46 1-26 1-8 1-2h3l1 2 1 2 1 1 1-1 1-2 1-2h30l1 1 1 6 1 35 1 87 1 73 1-30 1-84 1-60 1-23 1-4 1-1h4l1 3 1 11 1 14 1 2 1-11 1-12 1-5 1-2h1l1 1 1 6 1 13 1 11 1-4 1-12 1-10 1-4 1-1h4l1 1 1 9 1 34 1 55 1 15 1-38 1-45 1-23 1-7 1-1h6l1 1 1 2 1 2 1-1 1-2 1-1 1-1h4" stroke="#0072BD" vector-effect="non-scaling-stroke"/>
<path d="M0 0h17l1 1 1 8 1 13 1-1 1-11 1-1 1 4 1-4 1-6 1-3h10l1 2 1 5 1 4 1-2 1-4 1-3 1-2 1 1 1 2 1 4 1 2 1-2 1-4 1-2 1-1h1l1 2 1 12 1 36 1 41 1-4 1-37 1-33 1-13 1-2 1 3 1 2 1-2 1-3 1-2h19l1 1 1 2 1 5 1 8 1 9 1 7 1 10 1 40 1 61 1 7 1-53 1-51 1 5 1 58 1 32 1-37 1-57 1-34 1-11 1-2h3l1 1 1 2 1 2 1-1 1-2 1-1 1-1h30l1 6 1 34 1 93 1 91 1-22 1-92 1-74 1-29 1-6 1-1h4l1 3 1 9 1 12 1 1 1-9 1-10 1-5 1-1h1l1 1 1 3 1 9 1 9 1-2 1-8 1-8 1-3 1-1h4l1 1 1 6 1 27 1 53 1 25 1-30 1-45 1-27 1-8 1-2h7l1 1 1 1 1 0 1-1 1-1h6" stroke="#D95319" vector-effect="non-scaling-stroke"/>
<path d="M0 0h22l1 3 1 20 1 61 1 62 1-16 1-46 1 15 1 65 1-4 1-69 1-61 1-24 1-5 1-1h174" stroke="#0072BD" vector-effect="non-scaling-stroke"/>
<path d="M0 0h59l1 4 1 21 1 49 1 33 1-26 1-45 1-27 1-8 1-1h30l1 1 1 1 1 6 1 12 1 19 1 19 1 9 1-7 1-15 1-17 1-14 1-8 1-4 1-1 1-1h37l1 1 1 5 1 33 1 90 1 97 1-8 1-86 1-82 1-38 1-10 1-2h26l1 5 1 27 1 71 1 57 1-29 1-53 1 3 1 39 1-3 1-5 1 47 1 36 1-44 1-76 1-52 1-18 1-4 1-1h5" stroke="#0072BD" vector-effect="non-scaling-stroke"/>
<path d="M0 0h58l1 3 1 17 1 37 1 23 1-21 1-33 1-20 1-5 1-1h82l1 2 1 13 1 51 1 85 1 34 1-49 1-73 1-45 1-15 1-3h5l1 1 1 5 1 12 1 9 1-7 1-11 1-7 1-2h17l1 2 1 16 1 45 1 42 1-15 1-46 1-31 1-11 1-2h12" stroke="#4DBEEE" vector-effect="non-scaling-stroke"/>
</g></g>
<rect x="59" y="477.9" width="262" height="80" fill="none" stroke="#6e6e6e"/>
<text x="59.4" y="571.7" font-size="12.8" text-anchor="middle">38.4</text>
<text x="111.8" y="571.7" font-size="12.8" text-anchor="middle">38.8</text>
<text x="164.2" y="571.7" font-size="12.8" text-anchor="middle">39.2</text>
<text x="216.6" y="571.7" font-size="12.8" text-anchor="middle">39.6</text>
<text x="269" y="571.7" font-size="12.8" text-anchor="middle">40</text>
<text x="321.4" y="571.7" font-size="12.8" text-anchor="middle">40.4</text>
<text x="49.4" y="561.3" font-size="12.2" text-anchor="middle">0</text>
<text x="49.4" y="534.6" font-size="12.2" text-anchor="middle">0.5</text>
<text x="49.4" y="508" font-size="12.2" text-anchor="middle">1</text>
<text x="49.4" y="481.3" font-size="12.2" text-anchor="middle">1.5</text>
<path d="M59 557.9v-3M59 477.9v3M85.2 557.9v-3M85.2 477.9v3M111.4 557.9v-3M111.4 477.9v3M137.6 557.9v-3M137.6 477.9v3M163.8 557.9v-3M163.8 477.9v3M190 557.9v-3M190 477.9v3M216.2 557.9v-3M216.2 477.9v3M242.4 557.9v-3M242.4 477.9v3M268.6 557.9v-3M268.6 477.9v3M294.8 557.9v-3M294.8 477.9v3M321 557.9v-3M321 477.9v3M59 557.9h3M321 557.9h-3M59 531.2h3M321 531.2h-3M59 504.6h3M321 504.6h-3M59 477.9h3M321 477.9h-3" stroke="#6e6e6e" stroke-width=".9"/>
<clipPath id="cc2"><rect x="399.2" y="478.4" width="261.8" height="79.5"/></clipPath>
<g clip-path="url(#cc2)"><g transform="translate(399.2 557.50) scale(1.2526 -.2)" fill="none" stroke-width="0.7" stroke-linejoin="round">
<path d="M0 0h18l1 2 1 11 1 20 1-4 1-16 1-4 1 4 1-4 1-6 1-3h9l1 1 1 5 1 6 1 2 1-4 1-6 1-3 1-1h1l1 2 1 5 1 3 1-1 1-4 1-3 1-2h1l1 4 1 18 1 48 1 39 1-17 1-45 1-32 1-12 1 0 1 6 1 1 1-4 1-4 1-2h19l1 1 1 3 1 7 1 11 1 14 1 14 1 35 1 67 1 33 1-49 1-71 1-27 1 36 1 53 1-8 1-52 1-44 1-18 1-4 1-1h2l1 1 1 1 1 4 1 1 1-2 1-3 1-1 1-1h29l1 6 1 35 1 98 1 98 1-24 1-97 1-78 1-30 1-7 1-1h4l1 1 1 5 1 14 1 13 1-4 1-14 1-10 1-4 1-1 1 1 1 6 1 14 1 14 1-3 1-14 1-12 1-5 1-1h5l1 4 1 23 1 59 1 54 1-19 1-58 1-43 1-16 1-4h7l1 2 1 2 1 1 1-1 1-2 1-1 1-1h3" stroke="#0072BD" vector-effect="non-scaling-stroke"/>
<path d="M0 0h18l1 3 1 15 1 24 1-6 1-21 1-6 1 7 1-2 1-8 1-5 1-1h8l1 2 1 5 1 6 1 1 1-5 1-6 1-2 1-1 1 1 1 3 1 5 1 3 1-3 1-4 1-4 1-1 1 1 1 6 1 29 1 56 1 25 1-33 1-47 1-27 1-8 1 1 1 4 1 1 1-4 1-3 1-1h19l1 1 1 3 1 7 1 12 1 12 1 10 1 23 1 69 1 72 1-23 1-81 1-51 1 29 1 64 1-2 1-60 1-55 1-23 1-6 1-1h2l1 1 1 1 1 3 1 1 1-2 1-2 1-2h30l1 6 1 37 1 100 1 100 1-24 1-101 1-79 1-31 1-7 1-1h4l1 2 1 8 1 20 1 14 1-9 1-18 1-12 1-4 1-1 1 1 1 6 1 16 1 19 1 0 1-16 1-16 1-8 1-2h5l1 5 1 27 1 73 1 68 1-20 1-72 1-55 1-21 1-4 1-1h5l1 1 1 1 1 2 1 1 1-2 1-2 1-1h4" stroke="#D95319" vector-effect="non-scaling-stroke"/>
<path d="M0 0h18l1 1 1 7 1 14 1 1 1-12 1-4 1 4 1-2 1-6 1-2 1-1h8l1 1 1 3 1 5 1 3 1-2 1-5 1-4 1-1h1l1 2 1 3 1 2 1-1 1-3 1-2 1-1h1l1 1 1 10 1 31 1 41 1 2 1-33 1-33 1-15 1-2 1 3 1 3 1-2 1-4 1-2h19l1 1 1 1 1 4 1 8 1 11 1 11 1 18 1 50 1 60 1-9 1-63 1-43 1 20 1 50 1-3 1-48 1-44 1-19 1-4 1-1h3l1 2 1 2 1 1 1-1 1-2 1-1 1-1h29l1 2 1 18 1 68 1 105 1 22 1-75 1-85 1-42 1-11 1-2h5l1 3 1 10 1 12 1 0 1-10 1-10 1-4 1-1h1l1 2 1 6 1 11 1 4 1-7 1-9 1-5 1-2h5l1 3 1 20 1 52 1 51 1-14 1-52 1-41 1-15 1-4h7l1 1 1 0 1 1 1-1 1-1h5" stroke="#EDB120" vector-effect="non-scaling-stroke"/>
<path d="M0 0h18l1 1 1 8 1 10 1-4 1-9 1 0 1 3 1-2 1-5 1-2h9l1 1 1 3 1 3 1 1 1-3 1-3 1-1 1-1 1 1 1 2 1 4 1 2 1-2 1-4 1-2 1-1h1l1 4 1 18 1 39 1 25 1-19 1-35 1-23 1-7 1-1 1 2 1 0 1-1 1-1 1-1h19l1 1 1 1 1 4 1 6 1 6 1 10 1 32 1 62 1 31 1-41 1-60 1-23 1 31 1 49 1-1 1-44 1-41 1-18 1-4 1-1h2l1 1 1 1 1 2 1 1 1-2 1-2 1-1h30l1 3 1 17 1 60 1 80 1 4 1-65 1-63 1-28 1-7 1-1h4l1 2 1 6 1 11 1 2 1-7 1-9 1-4 1-1h1l1 1 1 4 1 11 1 11 1-1 1-11 1-9 1-5 1-1h5l1 4 1 20 1 46 1 36 1-19 1-44 1-30 1-11 1-2h17" stroke="#7E2F8E" vector-effect="non-scaling-stroke"/>
<path d="M0 0h18l1 1 1 8 1 14 1-2 1-12 1-5 1 3 1 0 1-4 1-2 1-1h8l1 1 1 1 1 3 1 0 1-2 1-2 1-1h2l1 1 1 2 1 2 1 0 1-2 1-2 1-1h1l1 3 1 14 1 36 1 29 1-13 1-34 1-24 1-9 1-1 1 2 1 1 1-1 1-2 1-1h19l1 1 1 2 1 4 1 6 1 6 1 5 1 15 1 37 1 26 1-21 1-40 1-17 1 23 1 39 1-1 1-35 1-32 1-14 1-4h4l1 1 1 2 1 1 1-1 1-1 1-2h30l1 1 1 12 1 44 1 69 1 17 1-49 1-57 1-28 1-8 1-1h4l1 1 1 3 1 6 1 3 1-3 1-5 1-4 1-1h1l1 1 1 4 1 10 1 10 1-2 1-9 1-9 1-4 1-1h5l1 5 1 23 1 52 1 35 1-23 1-48 1-31 1-11 1-2h7l1 1 1 2 1 0 1-1 1-1 1-1h4" stroke="#77AC30" vector-effect="non-scaling-stroke"/>
<path d="M0 0h18l1 4 1 14 1 10 1-9 1-11 1 3 1 0 1-5 1-5 1-1h9l1 1 1 3 1 5 1 0 1-3 1-4 1-1 1-1h1l1 1 1 3 1 2 1-1 1-2 1-2 1-1 1 1 1 4 1 22 1 40 1 17 1-24 1-34 1-19 1-6 1 1 1 2 1 0 1-2 1-1 1-1h19l1 1 1 3 1 5 1 8 1 7 1 6 1 17 1 38 1 22 1-25 1-37 1-5 1 27 1 8 1-25 1-30 1-15 1-4 1-1h4l1 2 1 2 1 1 1-1 1-2 1-1 1-1h29l1 3 1 21 1 63 1 72 1-7 1-66 1-56 1-24 1-5 1-1h4l1 4 1 10 1 14 1 0 1-11 1-11 1-5 1-1h2l1 2 1 5 1 6 1-1 1-5 1-4 1-2 1-1h4l1 1 1 4 1 22 1 44 1 22 1-24 1-38 1-23 1-7 1-1h7l1 1 1 1 1 0 1-1 1-1h5" stroke="#4DBEEE" vector-effect="non-scaling-stroke"/>
<path d="M0 0h19l1 3 1 8 1 2 1-6 1 0 1 5 1-3 1-6 1-2 1-1h8l1 1 1 4 1 3 1 0 1-3 1-3 1-2h2l1 1 1 2 1 3 1 0 1-3 1-2 1-1h1l1 1 1 10 1 28 1 33 1-3 1-29 1-26 1-11 1-2 1 1 1 1 1-1 1-1 1-1h20l1 1 1 3 1 3 1 5 1 4 1 15 1 37 1 30 1-16 1-39 1-19 1 21 1 36 1-2 1-33 1-30 1-12 1-4h4l1 1 1 1 1 1 1-1 1-1 1-1h30l1 2 1 15 1 56 1 86 1 17 1-62 1-69 1-34 1-9 1-2h4l1 1 1 3 1 8 1 7 1-3 1-8 1-6 1-2h2l1 2 1 7 1 9 1 2 1-6 1-8 1-4 1-2h5l1 5 1 26 1 57 1 40 1-26 1-53 1-35 1-11 1-3h8l1 1 1 0 1 0 1-1h5" stroke="#A2142F" vector-effect="non-scaling-stroke"/>
<path d="M0 0h18l1 3 1 12 1 12 1-8 1-11 1-1 1 2 1-4 1-4 1-1h9l1 1 1 3 1 4 1 1 1-3 1-4 1-1 1-1h1l1 2 1 3 1 3 1-2 1-3 1-2 1-1h1l1 5 1 20 1 43 1 25 1-22 1-38 1-24 1-7 1 1 1 3 1-1 1-3 1-1 1-1h19l1 2 1 3 1 5 1 8 1 6 1 7 1 27 1 61 1 35 1-37 1-59 1-19 1 35 1 34 1-20 1-44 1-31 1-11 1-2h4l1 2 1 2 1 0 1-1 1-2 1-1h30l1 6 1 32 1 89 1 85 1-24 1-88 1-68 1-26 1-5 1-1h4l1 1 1 5 1 10 1 3 1-5 1-8 1-5 1-1h1l1 1 1 4 1 10 1 7 1-3 1-9 1-7 1-2 1-1h4l1 1 1 10 1 34 1 48 1 4 1-37 1-38 1-17 1-4 1-1h7l1 1 1 1 1 0 1-1 1-1h5" stroke="#0072BD" vector-effect="non-scaling-stroke"/>
<path d="M0 0h18l1 1 1 9 1 19 1 0 1-15 1-5 1 6 1-2 1-8 1-4 1-1h8l1 1 1 3 1 6 1 2 1-3 1-5 1-3 1-1h1l1 1 1 3 1 4 1 0 1-3 1-3 1-1 1-1 1 1 1 8 1 28 1 43 1 7 1-31 1-34 1-17 1-2 1 4 1 3 1-3 1-5 1-2h19l1 2 1 3 1 7 1 11 1 11 1 9 1 22 1 63 1 56 1-29 1-74 1-45 1 13 1 48 1 11 1-38 1-42 1-21 1-6 1-1h3l1 2 1 3 1 1 1-1 1-2 1-2 1-1h29l1 5 1 29 1 83 1 88 1-15 1-85 1-70 1-28 1-6 1-1h4l1 1 1 6 1 16 1 13 1-6 1-14 1-11 1-4 1-1h1l1 3 1 9 1 16 1 7 1-9 1-14 1-8 1-3 1-1h3l1 1 1 5 1 30 1 73 1 56 1-30 1-68 1-47 1-16 1-4h6l1 1 1 2 1 2 1 0 1-1 1-3 1-1h4" stroke="#D95319" vector-effect="non-scaling-stroke"/>
<path d="M0 0h18l1 1 1 6 1 12 1-2 1-9 1-3 1 2 1-2 1-3 1-2h9l1 1 1 3 1 5 1 1 1-3 1-4 1-2 1-1 1 1 1 2 1 4 1 2 1-3 1-3 1-2 1-1h1l1 2 1 11 1 30 1 31 1-6 1-31 1-25 1-10 1-2 1 1 1 0 1 0 1-1h20l1 1 1 1 1 2 1 4 1 4 1 5 1 19 1 55 1 54 1-16 1-58 1-38 1 10 1 30 1-2 1-29 1-27 1-12 1-3h4l1 1 1 1 1 1 1-1 1-1 1-1h30l1 3 1 23 1 75 1 98 1 4 1-81 1-77 1-35 1-9 1-1h4l1 1 1 5 1 10 1 4 1-5 1-8 1-5 1-2h1l1 1 1 3 1 9 1 9 1-1 1-9 1-8 1-3 1-1h5l1 5 1 23 1 52 1 33 1-25 1-46 1-30 1-10 1-2h7l1 1 1 2 1 0 1-1 1-1 1-1h4" stroke="#EDB120" vector-effect="non-scaling-stroke"/>
<path d="M0 0h18l1 2 1 9 1 14 1-4 1-11 1 0 1 3 1-5 1-6 1-2h9l1 1 1 3 1 3 1-1 1-2 1-3 1-1h1l1 1 1 3 1 3 1 1 1-3 1-3 1-1 1-1h1l1 4 1 19 1 41 1 25 1-20 1-37 1-23 1-7 1 0 1 3 1 0 1-2 1-2 1-1h19l1 2 1 4 1 7 1 9 1 8 1 6 1 25 1 61 1 43 1-35 1-65 1-30 1 29 1 48 1-6 1-45 1-40 1-17 1-3 1-1h2l1 1 1 1 1 3 1 0 1-2 1-2 1-1h30l1 4 1 23 1 66 1 70 1-14 1-67 1-55 1-21 1-5 1-1h4l1 1 1 6 1 11 1 5 1-6 1-10 1-5 1-2h1l1 1 1 3 1 7 1 5 1-3 1-6 1-5 1-2h5l1 1 1 4 1 24 1 52 1 31 1-26 1-46 1-29 1-9 1-2h7l1 2 1 1 1 0 1-1 1-1 1-1h4" stroke="#7E2F8E" vector-effect="non-scaling-stroke"/>
<path d="M0 0h18l1 1 1 8 1 20 1 5 1-16 1-6 1 8 1-3 1-10 1-6 1-1h8l1 2 1 4 1 8 1 2 1-5 1-6 1-4 1-1h1l1 2 1 5 1 4 1-1 1-4 1-4 1-2h1l1 4 1 18 1 45 1 38 1-16 1-44 1-31 1-11 1-1 1 6 1 5 1-3 1-6 1-3 1-1h18l1 2 1 4 1 9 1 14 1 14 1 10 1 24 1 69 1 68 1-28 1-84 1-51 1 22 1 54 1-2 1-52 1-47 1-20 1-5 1-1h2l1 1 1 1 1 3 1 1 1-2 1-2 1-1 1-1h29l1 4 1 27 1 87 1 109 1 0 1-92 1-87 1-38 1-9 1-1h4l1 1 1 5 1 17 1 18 1-2 1-17 1-14 1-6 1-2 1 1 1 3 1 12 1 20 1 6 1-12 1-17 1-9 1-3 1-1h4l1 3 1 17 1 56 1 66 1-4 1-58 1-52 1-22 1-5 1-1h6l1 2 1 2 1 1 1-1 1-2 1-2h4" stroke="#77AC30" vector-effect="non-scaling-stroke"/>
<path d="M0 0h18l1 1 1 5 1 19 1 9 1-14 1-11 1 1 1-2 1-5 1-2 1-1h8l1 1 1 2 1 5 1 4 1-2 1-5 1-3 1-2h1l1 2 1 4 1 3 1-1 1-4 1-2 1-2h1l1 2 1 12 1 36 1 41 1-5 1-37 1-32 1-13 1-3 1 2 1 2 1-1 1-3 1-1h19l1 1 1 3 1 6 1 10 1 10 1 10 1 31 1 70 1 44 1-42 1-72 1-34 1 24 1 36 1-11 1-40 1-31 1-12 1-3h4l1 1 1 2 1 1 1-1 1-2 1-1h30l1 3 1 21 1 78 1 113 1 18 1-86 1-90 1-44 1-11 1-2h4l1 1 1 4 1 11 1 12 1-3 1-11 1-9 1-4 1-1h1l1 3 1 10 1 13 1 3 1-9 1-12 1-6 1-2h5l1 4 1 22 1 55 1 44 1-20 1-52 1-37 1-13 1-3h7l1 2 1 2 1 1 1-2 1-1 1-2h4" stroke="#4DBEEE" vector-effect="non-scaling-stroke"/>
<path d="M0 0h18l1 1 1 10 1 18 1-2 1-15 1-3 1 3 1-3 1-6 1-3h9l1 1 1 3 1 4 1 2 1-3 1-4 1-2 1-1h1l1 2 1 4 1 4 1-1 1-4 1-3 1-2h1l1 2 1 11 1 32 1 36 1-5 1-33 1-28 1-12 1-1 1 3 1 4 1-2 1-4 1-2 1-1h18l1 1 1 2 1 6 1 8 1 9 1 6 1 13 1 41 1 45 1-13 1-51 1-31 1 23 1 55 1 7 1-45 1-47 1-22 1-6 1-1h3l1 2 1 2 1 2 1-1 1-3 1-1 1-1h29l1 4 1 24 1 73 1 85 1-7 1-76 1-67 1-29 1-6 1-1h4l1 1 1 7 1 14 1 9 1-7 1-13 1-8 1-2 1-1h1l1 3 1 11 1 15 1 3 1-10 1-13 1-6 1-3h5l1 3 1 17 1 50 1 55 1-8 1-51 1-44 1-17 1-4 1-1h6l1 1 1 1 1 0 1-1 1 0 1-1h4" stroke="#A2142F" vector-effect="non-scaling-stroke"/>
<path d="M0 0h18l1 3 1 12 1 15 1-8 1-11 1 4 1 3 1-8 1-7 1-3h9l1 1 1 4 1 5 1 1 1-4 1-4 1-2 1-1h1l1 2 1 4 1 3 1-1 1-4 1-3 1-1h1l1 4 1 18 1 44 1 34 1-18 1-41 1-29 1-10 1 0 1 3 1 2 1-2 1-3 1-2h19l1 2 1 3 1 8 1 12 1 12 1 12 1 34 1 78 1 54 1-46 1-85 1-42 1 30 1 62 1 2 1-54 1-52 1-23 1-6 1-1h3l1 2 1 2 1 1 1-1 1-2 1-1 1-1h29l1 6 1 34 1 93 1 91 1-25 1-92 1-72 1-28 1-6 1-1h4l1 1 1 7 1 15 1 11 1-7 1-14 1-9 1-3 1-1 1 1 1 5 1 14 1 13 1-3 1-13 1-11 1-5 1-1h4l1 1 1 10 1 42 1 74 1 29 1-46 1-63 1-35 1-10 1-2h7l1 2 1 2 1 0 1-1 1-2 1-1h4" stroke="#0072BD" vector-effect="non-scaling-stroke"/>
<path d="M0 0h18l1 3 1 13 1 15 1-7 1-13 1-1 1 1 1-6 1-4 1-1h9l1 2 1 4 1 4 1-1 1-4 1-3 1-2h1l1 1 1 2 1 4 1 3 1-2 1-4 1-3 1-1 1 1 1 4 1 21 1 42 1 23 1-23 1-37 1-23 1-6 1 1 1 5 1 0 1-3 1-4 1-1h19l1 1 1 2 1 6 1 8 1 10 1 19 1 52 1 78 1 9 1-67 1-68 1-16 1 34 1 31 1-19 1-41 1-27 1-10 1-2h3l1 1 1 1 1 2 1 0 1-1 1-2 1-1h29l1 1 1 6 1 38 1 97 1 84 1-33 1-93 1-69 1-25 1-5 1-1h4l1 2 1 7 1 14 1 8 1-7 1-13 1-8 1-2 1-1 1 1 1 4 1 11 1 11 1-2 1-11 1-9 1-4 1-1h4l1 1 1 6 1 32 1 64 1 34 1-34 1-57 1-33 1-11 1-2h7l1 1 1 1 1 0 1-1 1 0 1-1h4" stroke="#D95319" vector-effect="non-scaling-stroke"/>
<path d="M0 0h18l1 1 1 7 1 16 1 1 1-12 1-2 1 3 1-5 1-6 1-3h9l1 1 1 3 1 4 1 0 1-3 1-3 1-2h2l1 2 1 4 1 2 1-1 1-4 1-2 1-1 1 1 1 5 1 22 1 40 1 17 1-25 1-34 1-19 1-6 1-1 1 1 1 1 1-1 1-1h20l1 1 1 3 1 6 1 9 1 10 1 8 1 18 1 45 1 33 1-27 1-49 1-13 1 41 1 37 1-23 1-50 1-34 1-12 1-3h4l1 2 1 2 1 1 1-1 1-2 1-1 1-1h29l1 2 1 16 1 56 1 82 1 13 1-61 1-67 1-31 1-9 1-1h4l1 1 1 5 1 10 1 4 1-5 1-9 1-4 1-2h2l1 2 1 7 1 8 1 1 1-7 1-7 1-3 1-1h5l1 5 1 23 1 52 1 35 1-24 1-47 1-31 1-11 1-2h7l1 1 1 0 1 0 1 0 1-1h5" stroke="#EDB120" vector-effect="non-scaling-stroke"/>
<path d="M0 0h18l1 1 1 4 1 11 1 2 1-8 1-2 1 2 1-3 1-5 1-2h9l1 1 1 2 1 3 1 1 1-3 1-2 1-1 1-1h1l1 2 1 3 1 2 1-1 1-3 1-2 1-1h1l1 2 1 10 1 29 1 32 1-5 1-31 1-24 1-10 1-2 1 2 1 1 1-2 1-1 1-1h19l1 1 1 1 1 3 1 5 1 6 1 7 1 23 1 51 1 34 1-29 1-51 1-20 1 25 1 32 1-11 1-37 1-27 1-11 1-2h4l1 1 1 1 1 1 1-1 1-1 1-1h30l1 3 1 22 1 64 1 73 1-8 1-67 1-57 1-24 1-5 1-1h4l1 1 1 4 1 8 1 6 1-4 1-8 1-5 1-2h2l1 3 1 8 1 9 1 0 1-7 1-8 1-4 1-1h4l1 1 1 5 1 28 1 59 1 34 1-30 1-52 1-32 1-11 1-2h9l1 1 1-1h6" stroke="#7E2F8E" vector-effect="non-scaling-stroke"/>
<path d="M0 0h18l1 2 1 13 1 25 1-2 1-20 1-6 1 5 1-5 1-8 1-3 1-1h8l1 2 1 5 1 6 1 1 1-5 1-5 1-3 1-1 1 1 1 3 1 5 1 2 1-3 1-4 1-3 1-1h1l1 5 1 21 1 46 1 29 1-22 1-42 1-26 1-9 1 1 1 7 1 2 1-4 1-5 1-3h19l1 1 1 4 1 8 1 12 1 14 1 15 1 39 1 77 1 39 1-55 1-80 1-30 1 49 1 74 1-5 1-68 1-61 1-26 1-6 1-1h3l1 2 1 2 1 2 1-2 1-2 1-1 1-1h28l1 1 1 6 1 41 1 109 1 102 1-32 1-107 1-82 1-31 1-6 1-1h4l1 3 1 12 1 22 1 8 1-14 1-18 1-10 1-2 1-1 1 2 1 9 1 19 1 15 1-7 1-18 1-13 1-6 1-1h4l1 1 1 9 1 41 1 79 1 36 1-46 1-67 1-39 1-12 1-2h6l1 1 1 2 1 4 1 1 1-3 1-3 1-1 1-1h3" stroke="#77AC30" vector-effect="non-scaling-stroke"/>
<path d="M0 0h18l1 1 1 4 1 15 1 5 1-11 1-5 1 4 1-4 1-6 1-3h9l1 1 1 3 1 5 1 2 1-3 1-5 1-2 1-1 1 1 1 2 1 5 1 3 1-3 1-4 1-3 1-1h1l1 4 1 18 1 44 1 36 1-17 1-42 1-30 1-11 1-1 1 2 1 2 1-1 1-3 1-1h19l1 1 1 3 1 7 1 11 1 12 1 10 1 21 1 58 1 54 1-27 1-69 1-42 1 23 1 60 1 10 1-48 1-52 1-24 1-7 1-1h3l1 1 1 2 1 2 1-1 1-1 1-2 1-1h29l1 2 1 14 1 55 1 90 1 24 1-61 1-74 1-38 1-10 1-2h5l1 3 1 9 1 11 1 0 1-9 1-9 1-4 1-1h1l1 3 1 9 1 14 1 4 1-9 1-12 1-7 1-2h5l1 3 1 16 1 52 1 60 1-4 1-54 1-47 1-21 1-4 1-1h6l1 1 1 2 1 0 1-1 1-1 1-1h4" stroke="#4DBEEE" vector-effect="non-scaling-stroke"/>
<path d="M0 0h18l1 1 1 11 1 22 1 1 1-17 1-2 1 6 1-8 1-10 1-3 1-1h8l1 1 1 4 1 6 1 3 1-4 1-5 1-4 1-1 1 1 1 2 1 5 1 4 1-2 1-5 1-3 1-2h1l1 5 1 21 1 49 1 31 1-22 1-44 1-29 1-9 1 0 1 5 1 2 1-3 1-4 1-2h19l1 2 1 4 1 9 1 13 1 12 1 8 1 18 1 58 1 67 1-18 1-73 1-41 1 42 1 70 1-9 1-70 1-60 1-25 1-6 1-1h2l1 1 1 1 1 4 1 1 1-1 1-3 1-2 1-1h29l1 5 1 31 1 104 1 135 1 5 1-111 1-108 1-47 1-12 1-2h4l1 2 1 8 1 22 1 18 1-8 1-20 1-15 1-6 1-1 1 1 1 5 1 14 1 19 1 2 1-15 1-15 1-8 1-3h5l1 5 1 26 1 72 1 71 1-18 1-73 1-56 1-22 1-4 1-1h6l1 1 1 3 1 2 1-1 1-2 1-2 1-1h3" stroke="#A2142F" vector-effect="non-scaling-stroke"/>
<path d="M0 0h18l1 2 1 12 1 20 1-4 1-17 1-3 1 4 1-5 1-6 1-3h9l1 2 1 3 1 4 1-1 1-3 1-3 1-2h1l1 1 1 2 1 4 1 2 1-2 1-4 1-2 1-1h1l1 4 1 21 1 45 1 31 1-21 1-42 1-27 1-9 1-1 1 3 1 1 1-2 1-2 1-1h19l1 1 1 3 1 5 1 9 1 9 1 12 1 36 1 63 1 21 1-48 1-60 1-18 1 42 1 55 1-10 1-53 1-44 1-18 1-4 1-1h2l1 1 1 2 1 2 1 1 1-2 1-3 1-1h30l1 6 1 33 1 99 1 108 1-17 1-101 1-85 1-34 1-8 1-1h4l1 1 1 6 1 17 1 16 1-5 1-17 1-12 1-5 1-1 1 2 1 6 1 15 1 11 1-6 1-13 1-10 1-4 1-1h4l1 1 1 7 1 32 1 62 1 30 1-36 1-53 1-32 1-9 1-2h6l1 1 1 1 1 2 1 0 1-2 1-1 1-1h4" stroke="#0072BD" vector-effect="non-scaling-stroke"/>
<path d="M0 0h18l1 1 1 5 1 14 1 4 1-11 1-4 1 2 1-4 1-5 1-2h9l1 1 1 2 1 5 1 3 1-2 1-4 1-4 1-1h1l1 2 1 3 1 3 1-1 1-3 1-3 1-1h1l1 3 1 14 1 39 1 34 1-11 1-38 1-28 1-10 1-2 1 3 1 1 1-1 1-3 1-1h19l1 1 1 2 1 6 1 10 1 12 1 11 1 24 1 58 1 48 1-30 1-67 1-35 1 26 1 44 1-7 1-45 1-38 1-16 1-3 1-1h3l1 1 1 3 1 1 1-1 1-2 1-1 1-1h29l1 2 1 18 1 66 1 103 1 22 1-74 1-83 1-41 1-11 1-2h4l1 1 1 4 1 11 1 13 1-2 1-12 1-10 1-4 1-1h1l1 3 1 8 1 11 1 3 1-9 1-9 1-5 1-2h5l1 4 1 24 1 63 1 60 1-18 1-62 1-48 1-19 1-3 1-1h6l1 1 1 2 1 0 1-1 1-1 1-1h4" stroke="#D95319" vector-effect="non-scaling-stroke"/>
<path d="M0 0h18l1 1 1 8 1 20 1 5 1-16 1-7 1 4 1-4 1-7 1-3 1-1h9l1 2 1 4 1 2 1-1 1-3 1-3 1-1h1l1 2 1 3 1 4 1-1 1-3 1-3 1-2h1l1 2 1 11 1 35 1 42 1-3 1-37 1-32 1-14 1-1 1 4 1 1 1-4 1-3 1-1h19l1 1 1 2 1 5 1 7 1 7 1 7 1 21 1 57 1 53 1-22 1-64 1-35 1 28 1 57 1 3 1-50 1-49 1-22 1-5 1-1h3l1 1 1 2 1 1 1-1 1-2 1-1h30l1 2 1 14 1 57 1 90 1 22 1-63 1-73 1-37 1-10 1-2h4l1 1 1 6 1 15 1 13 1-6 1-14 1-10 1-4 1-1 1 1 1 4 1 10 1 12 1-1 1-11 1-9 1-5 1-1h5l1 3 1 19 1 56 1 61 1-8 1-58 1-48 1-20 1-4 1-1h6l1 2 1 2 1 1 1-1 1-2 1-2h4" stroke="#EDB120" vector-effect="non-scaling-stroke"/>
<path d="M0 0h18l1 2 1 10 1 16 1-4 1-13 1-1 1 3 1-5 1-6 1-2h9l1 1 1 4 1 6 1 2 1-4 1-5 1-3 1-1h1l1 2 1 4 1 3 1-1 1-4 1-3 1-1h1l1 2 1 15 1 39 1 40 1-9 1-39 1-32 1-13 1-1 1 2 1 1 1-2 1-2 1-1h19l1 1 1 4 1 6 1 10 1 10 1 11 1 34 1 67 1 31 1-47 1-66 1-18 1 49 1 56 1-18 1-61 1-47 1-18 1-3 1-1h2l1 1 1 2 1 2 1 1 1-2 1-2 1-2h30l1 3 1 21 1 75 1 106 1 12 1-82 1-84 1-39 1-10 1-2h4l1 2 1 9 1 18 1 7 1-10 1-15 1-8 1-3h1l1 1 1 6 1 15 1 15 1-4 1-14 1-12 1-5 1-2h5l1 5 1 24 1 58 1 43 1-25 1-53 1-37 1-12 1-3h6l1 1 1 1 1 3 1 0 1-2 1-2 1-1h4" stroke="#7E2F8E" vector-effect="non-scaling-stroke"/>
<path d="M0 0h18l1 2 1 8 1 14 1-4 1-11 1-1 1 3 1-4 1-5 1-2h9l1 1 1 3 1 5 1 1 1-3 1-4 1-2 1-1h1l1 2 1 3 1 1 1-1 1-3 1-1 1-1 1 1 1 5 1 23 1 43 1 19 1-26 1-37 1-21 1-6 1-1h24l1 1 1 2 1 3 1 4 1 4 1 4 1 13 1 37 1 32 1-16 1-37 1-10 1 35 1 30 1-20 1-42 1-28 1-10 1-2h3l1 1 1 1 1 2 1 0 1-1 1-2 1-1h30l1 4 1 23 1 65 1 65 1-16 1-65 1-51 1-20 1-4 1-1h4l1 1 1 4 1 6 1 3 1-4 1-6 1-3 1-1h1l1 1 1 6 1 12 1 10 1-5 1-11 1-9 1-3 1-1h5l1 5 1 21 1 47 1 30 1-23 1-42 1-27 1-9 1-2h7l1 2 1 1 1 1 1-1 1-2 1-1h4" stroke="#77AC30" vector-effect="non-scaling-stroke"/>
<path d="M0 0h18l1 1 1 9 1 17 1-1 1-14 1-6 1 2 1-1 1-4 1-3h9l1 1 1 3 1 5 1 1 1-3 1-4 1-2 1-1h1l1 1 1 3 1 2 1-1 1-2 1-2 1-1h1l1 1 1 8 1 28 1 40 1 5 1-31 1-32 1-15 1-3 1 2 1 2 1-1 1-3 1-1h19l1 1 1 2 1 4 1 8 1 8 1 7 1 13 1 40 1 49 1-7 1-51 1-37 1 10 1 37 1 1 1-33 1-33 1-15 1-3 1-1h3l1 1 1 2 1 1 1-1 1-1 1-2h30l1 3 1 22 1 78 1 106 1 10 1-84 1-85 1-39 1-9 1-2h4l1 1 1 5 1 9 1 6 1-5 1-9 1-5 1-2h2l1 3 1 8 1 9 1 0 1-8 1-7 1-4 1-1h4l1 1 1 5 1 26 1 52 1 27 1-28 1-46 1-27 1-8 1-2h7l1 1 1 2 1 1 1-1 1-2 1-1h4" stroke="#4DBEEE" vector-effect="non-scaling-stroke"/>
<path d="M0 0h18l1 2 1 15 1 26 1-5 1-22 1-7 1 6 1-3 1-8 1-3 1-1h8l1 1 1 3 1 5 1 2 1-3 1-4 1-3 1-1h1l1 2 1 4 1 4 1-1 1-4 1-3 1-2h1l1 1 1 9 1 32 1 48 1 9 1-36 1-39 1-18 1-3 1 6 1 3 1-4 1-5 1-2 1-1h18l1 1 1 3 1 7 1 10 1 11 1 11 1 34 1 71 1 38 1-47 1-70 1-23 1 45 1 48 1-22 1-57 1-41 1-16 1-3h3l1 1 1 1 1 4 1 1 1-2 1-2 1-2 1-1h29l1 4 1 27 1 88 1 113 1 2 1-94 1-89 1-40 1-10 1-1h4l1 1 1 7 1 18 1 17 1-4 1-18 1-14 1-6 1-1 1 2 1 8 1 19 1 14 1-6 1-18 1-12 1-6 1-1h4l1 1 1 9 1 42 1 85 1 45 1-47 1-74 1-44 1-14 1-3h6l1 1 1 1 1 2 1 0 1-1 1-2 1-1h4" stroke="#A2142F" vector-effect="non-scaling-stroke"/>
<path d="M0 0h18l1 1 1 9 1 18 1 2 1-15 1-7 1 6 1-1 1-8 1-4 1-1h8l1 2 1 4 1 6 1 0 1-5 1-4 1-2 1-1h1l1 1 1 3 1 4 1 2 1-3 1-4 1-2 1-1 1 2 1 12 1 35 1 37 1-5 1-36 1-30 1-12 1-1 1 4 1 4 1-3 1-4 1-2 1-1h18l1 1 1 2 1 5 1 8 1 9 1 7 1 10 1 37 1 60 1 9 1-51 1-48 1 10 1 48 1 9 1-42 1-45 1-22 1-6 1-1h3l1 1 1 2 1 2 1-1 1-2 1-1 1-1h29l1 3 1 18 1 70 1 104 1 19 1-77 1-84 1-41 1-10 1-2h4l1 1 1 5 1 14 1 13 1-5 1-13 1-10 1-4 1-1h1l1 2 1 6 1 13 1 6 1-6 1-11 1-7 1-2 1-1h4l1 6 1 27 1 69 1 55 1-26 1-65 1-46 1-16 1-4h7l1 1 1 2 1 1 1-1 1-1 1-2h4" stroke="#0072BD" vector-effect="non-scaling-stroke"/>
<path d="M0 0h18l1 1 1 9 1 21 1 4 1-17 1-8 1 5 1-2 1-8 1-4 1-1h8l1 1 1 5 1 7 1 2 1-4 1-6 1-4 1-1 1 1 1 3 1 5 1 2 1-3 1-4 1-3 1-1h1l1 2 1 14 1 39 1 42 1-8 1-40 1-32 1-13 1-1 1 4 1 2 1-3 1-4 1-2h19l1 2 1 3 1 8 1 11 1 11 1 10 1 30 1 74 1 58 1-39 1-82 1-44 1 26 1 54 1 0 1-50 1-46 1-20 1-5 1-1h2l1 1 1 1 1 4 1 2 1-2 1-3 1-2 1-1h29l1 5 1 30 1 91 1 103 1-10 1-94 1-82 1-34 1-8 1-1h4l1 3 1 13 1 21 1 6 1-14 1-17 1-9 1-3h1l1 1 1 5 1 14 1 16 1-2 1-13 1-13 1-6 1-2h5l1 6 1 27 1 66 1 52 1-27 1-62 1-43 1-16 1-3h6l1 1 1 1 1 3 1 1 1-2 1-2 1-2h4" stroke="#D95319" vector-effect="non-scaling-stroke"/>
<path d="M0 0h18l1 1 1 7 1 14 1-1 1-12 1-3 1 5 1-1 1-6 1-3 1-1h8l1 1 1 3 1 4 1 3 1-3 1-4 1-3 1-1h1l1 1 1 3 1 3 1 0 1-3 1-3 1-1h1l1 2 1 10 1 31 1 35 1-3 1-32 1-28 1-12 1-2 1 0 1 1 1 0 1-1 1-1h20l1 1 1 3 1 4 1 7 1 7 1 10 1 38 1 63 1 16 1-48 1-50 1 3 1 44 1 12 1-38 1-43 1-22 1-6 1-1h3l1 1 1 2 1 2 1-1 1-2 1-1 1-1h29l1 2 1 14 1 59 1 102 1 34 1-66 1-85 1-45 1-13 1-2h5l1 3 1 7 1 8 1-1 1-7 1-7 1-2 1-1h1l1 2 1 6 1 10 1 3 1-6 1-8 1-5 1-2h5l1 5 1 24 1 56 1 39 1-24 1-52 1-34 1-11 1-3h8l1 1 1 0 1 0 1-1h5" stroke="#EDB120" vector-effect="non-scaling-stroke"/>
<path d="M0 0h18l1 1 1 6 1 23 1 14 1-17 1-16 1 2 1 0 1-7 1-5 1-1h9l1 3 1 5 1 4 1-2 1-5 1-3 1-2h1l1 1 1 4 1 4 1 1 1-4 1-3 1-2 1-1 1 1 1 7 1 28 1 51 1 19 1-32 1-43 1-23 1-6 1 2 1 4 1 0 1-4 1-3 1-1h18l1 1 1 2 1 6 1 11 1 13 1 13 1 29 1 74 1 73 1-28 1-88 1-53 1 28 1 71 1 6 1-61 1-61 1-28 1-7 1-1h3l1 1 1 2 1 3 1 0 1-2 1-3 1-1h29l1 2 1 17 1 66 1 110 1 32 1-74 1-91 1-47 1-13 1-2h4l1 1 1 5 1 15 1 17 1-2 1-16 1-13 1-6 1-1 1 1 1 4 1 13 1 18 1 4 1-13 1-16 1-8 1-3h5l1 3 1 22 1 66 1 76 1-7 1-68 1-60 1-25 1-6 1-1h5l1 1 1 1 1 3 1 0 1-1 1-2 1-2h4" stroke="#7E2F8E" vector-effect="non-scaling-stroke"/>
<path d="M0 0h18l1 1 1 11 1 21 1 0 1-18 1-7 1 8 1 0 1-9 1-5 1-2h8l1 1 1 4 1 6 1 1 1-3 1-5 1-3 1-1h1l1 2 1 4 1 4 1-1 1-4 1-3 1-2h1l1 2 1 13 1 40 1 47 1-3 1-42 1-37 1-16 1-3 1 3 1 4 1-1 1-4 1-2 1-1h18l1 1 1 2 1 6 1 11 1 13 1 14 1 26 1 62 1 53 1-30 1-74 1-41 1 28 1 64 1 7 1-53 1-56 1-25 1-7 1-1h3l1 2 1 3 1 2 1-1 1-3 1-2 1-1h29l1 2 1 18 1 69 1 110 1 28 1-77 1-90 1-45 1-13 1-2h4l1 1 1 5 1 18 1 22 1 0 1-18 1-18 1-8 1-2h1l1 3 1 10 1 18 1 10 1-10 1-16 1-11 1-3 1-1h4l1 5 1 29 1 72 1 62 1-26 1-69 1-50 1-19 1-4h6l1 1 1 2 1 3 1 2 1-2 1-4 1-1 1-1h3" stroke="#77AC30" vector-effect="non-scaling-stroke"/>
<path d="M0 0h18l1 1 1 11 1 23 1 2 1-16 1-4 1 0 1-8 1-7 1-2h9l1 2 1 4 1 6 1 1 1-4 1-5 1-3 1-1 1 1 1 2 1 6 1 4 1-2 1-5 1-4 1-2h1l1 3 1 15 1 44 1 47 1-7 1-45 1-38 1-15 1-1 1 5 1 4 1-4 1-5 1-2 1-1h18l1 2 1 3 1 8 1 12 1 12 1 11 1 33 1 82 1 62 1-44 1-88 1-44 1 33 1 59 1-7 1-58 1-50 1-21 1-4 1-1h3l1 2 1 3 1 3 1-1 1-3 1-3 1-1h29l1 4 1 30 1 99 1 127 1 4 1-106 1-101 1-44 1-11 1-2h4l1 2 1 11 1 21 1 13 1-11 1-19 1-12 1-4 1-1 1 1 1 6 1 15 1 16 1-2 1-14 1-14 1-6 1-2h4l1 1 1 6 1 34 1 83 1 64 1-32 1-78 1-55 1-19 1-4h6l1 1 1 2 1 3 1 0 1-2 1-2 1-2h4" stroke="#4DBEEE" vector-effect="non-scaling-stroke"/>
<path d="M0 0h18l1 1 1 7 1 15 1 0 1-12 1-1 1 6 1-5 1-7 1-3 1-1h8l1 1 1 4 1 5 1 1 1-4 1-4 1-2 1-1 1 1 1 2 1 5 1 2 1-2 1-4 1-3 1-1h1l1 4 1 19 1 43 1 29 1-20 1-39 1-26 1-8 1 0 1 5 1 2 1-3 1-4 1-2h19l1 2 1 3 1 8 1 12 1 10 1 8 1 24 1 65 1 58 1-30 1-75 1-47 1 13 1 41 1 2 1-36 1-37 1-16 1-4 1-1h2l1 1 1 1 1 2 1 0 1-2 1-1 1-1h30l1 3 1 19 1 72 1 109 1 21 1-80 1-88 1-43 1-11 1-2h4l1 1 1 5 1 12 1 8 1-6 1-10 1-7 1-2 1-1 1 1 1 5 1 14 1 12 1-3 1-13 1-10 1-5 1-1h4l1 1 1 8 1 34 1 64 1 30 1-38 1-56 1-32 1-9 1-2h6l1 1 1 1 1 2 1 0 1-1 1-2 1-1h4" stroke="#A2142F" vector-effect="non-scaling-stroke"/>
<path d="M0 0h18l1 1 1 11 1 22 1 1 1-18 1-9 1 6 1-1 1-7 1-5 1-1h8l1 1 1 3 1 6 1 3 1-2 1-6 1-3 1-2 1 1 1 1 1 5 1 3 1-2 1-4 1-3 1-1h1l1 2 1 10 1 34 1 43 1 0 1-36 1-34 1-15 1-2 1 2 1 2 1-2 1-3 1-1h19l1 1 1 2 1 6 1 9 1 11 1 11 1 27 1 63 1 49 1-35 1-70 1-38 1 26 1 57 1 7 1-48 1-48 1-23 1-6 1-1h3l1 1 1 3 1 2 1-1 1-2 1-2 1-1h29l1 4 1 24 1 83 1 113 1 9 1-90 1-90 1-41 1-10 1-2h4l1 1 1 4 1 13 1 13 1-3 1-13 1-10 1-4 1-1h1l1 2 1 8 1 14 1 5 1-8 1-11 1-7 1-3h5l1 5 1 25 1 61 1 47 1-24 1-57 1-40 1-14 1-3h7l1 2 1 1 1 1 1-2 1-1 1-1h4" stroke="#0072BD" vector-effect="non-scaling-stroke"/>
<path d="M0 0h18l1 1 1 9 1 22 1 2 1-17 1-7 1 4 1-4 1-7 1-2 1-1h8l1 2 1 5 1 6 1 0 1-5 1-5 1-2 1-1h1l1 3 1 4 1 4 1-1 1-5 1-3 1-2h1l1 1 1 8 1 29 1 43 1 8 1-31 1-36 1-16 1-3 1 5 1 1 1-4 1-3 1-2h19l1 2 1 3 1 7 1 10 1 9 1 7 1 26 1 71 1 61 1-32 1-77 1-43 1 31 1 63 1 2 1-56 1-53 1-24 1-6 1-1h3l1 2 1 2 1 1 1-1 1-2 1-2h30l1 5 1 29 1 90 1 107 1-7 1-94 1-85 1-35 1-9 1-1h4l1 1 1 4 1 14 1 17 1-1 1-15 1-13 1-6 1-1 1 1 1 2 1 9 1 12 1 0 1-9 1-9 1-4 1-2h5l1 3 1 16 1 54 1 66 1-1 1-57 1-52 1-23 1-5 1-1h6l1 2 1 2 1 1 1-2 1-2 1-1h4" stroke="#D95319" vector-effect="non-scaling-stroke"/>
<path d="M0 0h18l1 2 1 11 1 12 1-6 1-11 1 0 1 5 1-4 1-6 1-3h9l1 1 1 3 1 6 1 2 1-4 1-4 1-3 1-1 1 1 1 2 1 4 1 3 1-2 1-4 1-3 1-1h1l1 2 1 12 1 40 1 46 1-2 1-41 1-37 1-16 1-2 1 3 1 2 1-2 1-3 1-2h19l1 1 1 3 1 5 1 10 1 12 1 11 1 28 1 57 1 33 1-38 1-62 1-24 1 28 1 34 1-14 1-41 1-29 1-11 1-3h4l1 1 1 3 1 1 1-1 1-2 1-1 1-1h29l1 3 1 21 1 72 1 97 1 6 1-78 1-76 1-35 1-9 1-1h4l1 2 1 6 1 13 1 6 1-7 1-11 1-7 1-2h2l1 3 1 8 1 11 1 1 1-8 1-9 1-4 1-2h4l1 1 1 8 1 36 1 72 1 37 1-40 1-63 1-37 1-12 1-2h7l1 2 1 2 1 1 1-2 1-1 1-2h4" stroke="#EDB120" vector-effect="non-scaling-stroke"/>
<path d="M0 0h18l1 1 1 7 1 17 1 1 1-13 1-2 1 6 1-5 1-8 1-3 1-1h8l1 1 1 3 1 6 1 1 1-3 1-4 1-3 1-1h1l1 2 1 4 1 3 1-1 1-4 1-2 1-2h1l1 2 1 11 1 36 1 47 1 2 1-39 1-38 1-16 1-1 1 5 1 0 1-4 1-4 1-1h19l1 1 1 4 1 7 1 11 1 12 1 9 1 24 1 57 1 38 1-36 1-63 1-27 1 35 1 56 1-5 1-52 1-46 1-20 1-4 1-1h3l1 2 1 3 1 1 1-1 1-3 1-1 1-1h29l1 5 1 30 1 91 1 104 1-10 1-95 1-82 1-34 1-8 1-1h4l1 1 1 5 1 13 1 12 1-5 1-13 1-9 1-3 1-1h1l1 3 1 8 1 12 1 3 1-9 1-10 1-5 1-2h5l1 3 1 19 1 60 1 69 1-6 1-62 1-54 1-23 1-5 1-1h6l1 2 1 1 1 1 1-1 1-2 1-1h4" stroke="#7E2F8E" vector-effect="non-scaling-stroke"/>
<path d="M0 0h18l1 1 1 4 1 8 1 0 1-7 1 1 1 3 1-3 1-5 1-2h9l1 1 1 1 1 3 1 2 1-2 1-3 1-1 1-1h1l1 1 1 2 1 2 1 0 1-2 1-2 1-1h1l1 2 1 11 1 31 1 29 1-8 1-31 1-23 1-9 1-1 1 1 1 0 1-1 1-1h20l1 1 1 3 1 5 1 8 1 9 1 10 1 29 1 58 1 27 1-40 1-58 1-21 1 31 1 42 1-8 1-43 1-35 1-14 1-4h4l1 1 1 1 1 1 1-1 1-1 1-1h30l1 1 1 8 1 37 1 76 1 42 1-41 1-67 1-40 1-13 1-3h4l1 1 1 5 1 12 1 10 1-4 1-12 1-8 1-3 1-1 1 1 1 3 1 9 1 8 1-1 1-9 1-7 1-3 1-1h5l1 3 1 18 1 48 1 46 1-12 1-48 1-37 1-15 1-3h17" stroke="#77AC30" vector-effect="non-scaling-stroke"/>
<path d="M0 0h19l1 3 1 8 1 5 1-7 1-4 1 0 1-1 1-2 1-2h9l1 1 1 2 1 4 1 2 1-1 1-4 1-3 1-1h1l1 1 1 3 1 4 1 0 1-3 1-3 1-2h1l1 2 1 10 1 33 1 38 1-4 1-34 1-29 1-13 1-2 1 0 1 1 1-1 1 0 1-1h20l1 1 1 3 1 4 1 4 1 3 1 7 1 28 1 49 1 13 1-36 1-36 1 3 1 22 1-5 1-26 1-22 1-10 1-2h4l1 1 1 1 1 1 1-1 1-1 1-1h30l1 2 1 17 1 55 1 72 1 3 1-59 1-57 1-26 1-6 1-1h4l1 1 1 4 1 10 1 9 1-3 1-10 1-7 1-3 1-1h1l1 2 1 7 1 9 1 1 1-6 1-8 1-4 1-1h5l1 4 1 18 1 48 1 42 1-16 1-46 1-34 1-13 1-3h7l1 1 1 2 1 0 1 0 1-2 1-1h4" stroke="#4DBEEE" vector-effect="non-scaling-stroke"/>
<path d="M0 0h19l1 3 1 9 1 2 1-6 1-3 1 2 1-2 1-3 1-2h9l1 1 1 2 1 4 1 3 1-2 1-4 1-3 1-1h1l1 1 1 2 1 3 1-1 1-2 1-2 1-1h1l1 1 1 8 1 27 1 39 1 5 1-30 1-31 1-15 1-3 1-1h23l1 1 1 1 1 4 1 6 1 8 1 7 1 13 1 36 1 38 1-13 1-45 1-29 1 11 1 34 1 6 1-29 1-30 1-15 1-3 1-1h3l1 1 1 2 1 2 1-1 1-2 1-1 1-1h29l1 4 1 26 1 77 1 83 1-12 1-78 1-66 1-27 1-6 1-1h4l1 1 1 2 1 9 1 8 1-1 1-9 1-7 1-2 1-1h1l1 1 1 5 1 6 1 1 1-4 1-5 1-3 1-1h4l1 1 1 5 1 29 1 60 1 36 1-30 1-54 1-34 1-11 1-2h8l1 1 1 0 1 0 1-1h5" stroke="#A2142F" vector-effect="non-scaling-stroke"/>
<path d="M0 0h18l1 2 1 10 1 16 1-4 1-13 1-3 1 2 1-4 1-4 1-2h9l1 1 1 2 1 5 1 1 1-2 1-4 1-2 1-1h1l1 2 1 3 1 2 1-2 1-2 1-2 1-1h1l1 2 1 10 1 32 1 40 1-2 1-34 1-31 1-13 1-3 1 0 1 0 1 0 1-1h20l1 1 1 2 1 4 1 6 1 5 1 6 1 18 1 46 1 33 1-24 1-47 1-16 1 31 1 35 1-14 1-41 1-31 1-11 1-3h4l1 1 1 2 1 0 1-1 1-1 1-1h30l1 2 1 16 1 57 1 78 1 7 1-61 1-62 1-29 1-7 1-1h4l1 1 1 4 1 7 1 3 1-4 1-6 1-4 1-1h2l1 2 1 6 1 6 1 1 1-6 1-5 1-3 1-1h4l1 1 1 6 1 27 1 54 1 26 1-30 1-47 1-27 1-8 1-2h9l1 1 1-1h6" stroke="#0072BD" vector-effect="non-scaling-stroke"/>
<path d="M0 0h19l1 5 1 13 1 7 1-10 1-6 1 3 1-4 1-5 1-3h9l1 1 1 2 1 3 1 1 1-2 1-3 1-1 1-1h1l1 1 1 2 1 2 1 0 1-2 1-2 1-1h1l1 2 1 9 1 30 1 35 1-3 1-31 1-28 1-11 1-2 1-1 1 1 1-1h21l1 1 1 1 1 3 1 5 1 5 1 3 1 8 1 32 1 51 1 8 1-40 1-34 1 17 1 48 1 3 1-43 1-43 1-19 1-5 1-1h3l1 1 1 1 1 1 1 0 1-2 1-1h30l1 1 1 13 1 49 1 85 1 28 1-56 1-70 1-38 1-10 1-2h5l1 3 1 9 1 9 1-1 1-9 1-7 1-3 1-1h1l1 1 1 4 1 6 1 3 1-3 1-6 1-4 1-1h5l1 2 1 15 1 47 1 58 1 0 1-50 1-46 1-20 1-5 1-1h7l1 1 1 0 1 0 1-1h5" stroke="#D95319" vector-effect="non-scaling-stroke"/>
<path d="M0 0h22l1 1 1 15 1 65 1 89 1-15 1-82 1-55 1-16 1-2h178" stroke="#0072BD" vector-effect="non-scaling-stroke"/>
<path d="M0 0h22l1 1 1 15 1 63 1 86 1-15 1-80 1-53 1-15 1-2h156l1 2 1 15 1 44 1 19 1-14 1 40 1 78 1-12 1-79 1-64 1-24 1-4 1-1h9" stroke="#0072BD" vector-effect="non-scaling-stroke"/>
<path d="M0 0h186l1 2 1 15 1 42 1 15 1-20 1 19 1 46 1-11 1-51 1-40 1-14 1-3h11" stroke="#0072BD" vector-effect="non-scaling-stroke"/>
</g></g>
<rect x="399.2" y="477.9" width="261.8" height="80" fill="none" stroke="#6e6e6e"/>
<text x="399.6" y="571.7" font-size="12.8" text-anchor="middle">38.4</text>
<text x="452" y="571.7" font-size="12.8" text-anchor="middle">38.8</text>
<text x="504.3" y="571.7" font-size="12.8" text-anchor="middle">39.2</text>
<text x="556.7" y="571.7" font-size="12.8" text-anchor="middle">39.6</text>
<text x="609" y="571.7" font-size="12.8" text-anchor="middle">40</text>
<text x="661.4" y="571.7" font-size="12.8" text-anchor="middle">40.4</text>
<text x="389.6" y="561.3" font-size="12.2" text-anchor="middle">0</text>
<text x="389.6" y="534.6" font-size="12.2" text-anchor="middle">0.5</text>
<text x="389.6" y="508" font-size="12.2" text-anchor="middle">1</text>
<text x="389.6" y="481.3" font-size="12.2" text-anchor="middle">1.5</text>
<path d="M399.2 557.9v-3M399.2 477.9v3M425.4 557.9v-3M425.4 477.9v3M451.6 557.9v-3M451.6 477.9v3M477.7 557.9v-3M477.7 477.9v3M503.9 557.9v-3M503.9 477.9v3M530.1 557.9v-3M530.1 477.9v3M556.3 557.9v-3M556.3 477.9v3M582.5 557.9v-3M582.5 477.9v3M608.6 557.9v-3M608.6 477.9v3M634.8 557.9v-3M634.8 477.9v3M661 557.9v-3M661 477.9v3M399.2 557.9h3M661 557.9h-3M399.2 531.2h3M661 531.2h-3M399.2 504.6h3M661 504.6h-3M399.2 477.9h3M661 477.9h-3" stroke="#6e6e6e" stroke-width=".9"/>
<clipPath id="cd1"><rect x="59.1" y="590.4" width="262.2" height="79.3"/></clipPath>
<g clip-path="url(#cd1)"><g transform="translate(59.1 669.50) scale(1.2486 -.2)" fill="none" stroke-width="0.7" stroke-linejoin="round">
<path d="M0 0h24l1 1 1 0 1 1 1 2 1 2 1 3 1 5 1 5 1 7 1 8 1 8 1 9 1 8 1 6 1 4 1 2 1-1 1-2 1-4 1-5 1-5 1-6 1-7 1-6 1-6 1-6 1-5 1-4 1-3 1-3 1-2 1-2 1-1 1-1 1-1 1 0 1-1h20l1 1 1 0 1 1 1 2 1 3 1 4 1 6 1 8 1 11 1 14 1 16 1 17 1 17 1 16 1 13 1 9 1 3 1-2 1-4 1-8 1-10 1-12 1-13 1-14 1-12 1-13 1-10 1-10 1-8 1-6 1-6 1-4 1-2 1-3 1-1 1-1 1-1 1 0 1-1h7l1 1 1 0 1 0 1 1 1 1 1 1 1 1 1 1 1 1 1 1 1 1 1-1 1 0 1-1 1-1 1-1 1-2 1 0 1-1 1-1 1 0 1-1h34l1 1 1 0 1 1 1 1 1 1 1 1 1 2 1 1 1 1 1 1 1 0 1-1 1 0 1-1 1-1 1-1 1-1 1-1 1-1 1-1 1-1 1 0 1 0 1-1h3" stroke="#0072BD" vector-effect="non-scaling-stroke"/>
<path d="M0 0h7l1 1 1 1 1 1 1 2 1 3 1 4 1 6 1 8 1 10 1 12 1 14 1 14 1 14 1 12 1 9 1 6 1 1 1-2 1-5 1-7 1-8 1-10 1-11 1-10 1-11 1-10 1-8 1-8 1-7 1-5 1-4 1-4 1-2 1-2 1-1 1-1 1-1 1 0 1-1h14l1 1 1 0 1 1 1 3 1 3 1 6 1 9 1 13 1 18 1 24 1 30 1 35 1 40 1 40 1 38 1 32 1 22 1 10 1-2 1-10 1-17 1-22 1-27 1-30 1-30 1-30 1-29 1-25 1-23 1-19 1-16 1-12 1-10 1-7 1-5 1-4 1-2 1-2 1-1 1-1 1 0 1-1h2l1 1 1 0 1 1 1 2 1 4 1 4 1 7 1 8 1 8 1 9 1 7 1 3 1 1 1-2 1-4 1-6 1-6 1-6 1-7 1-6 1-4 1-4 1-3 1-2 1 0 1 0 1 1 1 1 1 1 1 1 1 0 1 0 1-1 1-1 1-1 1-1 1-1 1-1 1-1 1-1 1 0 1-1h18l1 1 1 1 1 1 1 2 1 3 1 5 1 6 1 6 1 7 1 7 1 5 1 3 1 0 1-1 1-3 1-4 1-5 1-5 1-5 1-5 1-4 1-4 1-3 1-3 1-1 1-2 1-1 1 0 1 0 1-1h16" stroke="#D95319" vector-effect="non-scaling-stroke"/>
<path d="M0 0h24l1 1 1 0 1 1 1 1 1 2 1 3 1 4 1 5 1 6 1 7 1 8 1 9 1 8 1 7 1 5 1 3 1 0 1-1 1-3 1-4 1-6 1-6 1-6 1-6 1-7 1-5 1-6 1-4 1-4 1-3 1-2 1-2 1-2 1-1 1-1 1 0 1 0 1-1h18l1 1 1 1 1 1 1 2 1 3 1 5 1 8 1 10 1 13 1 16 1 19 1 20 1 21 1 19 1 14 1 10 1 3 1-2 1-6 1-10 1-12 1-14 1-15 1-16 1-15 1-14 1-13 1-11 1-9 1-8 1-6 1-4 1-4 1-2 1-2 1-1 1-1 1 0 1-1h4l1 1 1 0 1 1 1 1 1 1 1 2 1 2 1 2 1 2 1 2 1 1 1 0 1-1 1-1 1-2 1-2 1-2 1-1 1-2 1-1 1-1 1-1 1 0 1-1h34l1 1 1 0 1 1 1 1 1 2 1 1 1 2 1 2 1 2 1 1 1 1 1 0 1-1 1-1 1-1 1-2 1-1 1-2 1-1 1-1 1-1 1-1 1-1 1 0 1 0 1-1h3" stroke="#EDB120" vector-effect="non-scaling-stroke"/>
<path d="M0 0h8l1 1 1 0 1 1 1 2 1 2 1 4 1 5 1 7 1 9 1 12 1 12 1 14 1 14 1 13 1 10 1 8 1 2 1 0 1-4 1-6 1-8 1-9 1-10 1-11 1-10 1-10 1-9 1-8 1-7 1-6 1-5 1-3 1-3 1-2 1-2 1-1 1-1 1 0 1 0 1-1h14l1 1 1 0 1 2 1 2 1 4 1 6 1 10 1 13 1 18 1 23 1 29 1 33 1 35 1 35 1 31 1 24 1 15 1 3 1-4 1-12 1-17 1-21 1-25 1-27 1-26 1-26 1-24 1-21 1-19 1-15 1-12 1-10 1-8 1-5 1-4 1-3 1-2 1-1 1-1 1 0 1-1h2l1 1 1 0 1 2 1 2 1 4 1 7 1 8 1 11 1 11 1 12 1 10 1 6 1 2 1-2 1-5 1-7 1-9 1-9 1-9 1-8 1-7 1-6 1-4 1-3 1-2 1 0 1 0 1 1 1 1 1 1 1 0 1 0 1-1 1-1 1-1 1-1 1-1 1-1 1 0 1-1 1 0 1-1h18l1 1 1 0 1 1 1 2 1 3 1 4 1 5 1 6 1 7 1 7 1 5 1 4 1 1 1-1 1-3 1-3 1-5 1-5 1-5 1-5 1-4 1-4 1-3 1-2 1-2 1-1 1-1 1-1 1 0 1-1h15" stroke="#7E2F8E" vector-effect="non-scaling-stroke"/>
<path d="M0 0h7l1 1 1 0 1 1 1 1 1 2 1 4 1 4 1 7 1 9 1 11 1 13 1 16 1 15 1 16 1 14 1 10 1 7 1 1 1-2 1-5 1-7 1-10 1-11 1-12 1-12 1-12 1-11 1-10 1-8 1-8 1-6 1-5 1-3 1-3 1-2 1-2 1-1 1-1 1 0 1-1h14l1 1 1 0 1 1 1 2 1 3 1 6 1 8 1 12 1 16 1 22 1 27 1 31 1 35 1 36 1 33 1 28 1 19 1 8 1-3 1-9 1-15 1-20 1-24 1-26 1-27 1-27 1-25 1-23 1-19 1-17 1-14 1-10 1-9 1-6 1-5 1-3 1-2 1-2 1 0 1-1 1 0 1-1 1 1 1 0 1 1 1 1 1 3 1 5 1 7 1 9 1 11 1 12 1 11 1 8 1 5 1 0 1-3 1-6 1-7 1-9 1-9 1-8 1-8 1-6 1-6 1-3 1-3 1-1 1-1 1 1 1 1 1 2 1 1 1 1 1 0 1 0 1-1 1-1 1-2 1-1 1-1 1-1 1-1 1-1 1 0 1-1h18l1 1 1 1 1 1 1 3 1 3 1 4 1 6 1 7 1 7 1 6 1 5 1 2 1 1 1-2 1-3 1-4 1-5 1-5 1-5 1-5 1-4 1-4 1-3 1-2 1-2 1-1 1-1 1 0 1-1h16" stroke="#77AC30" vector-effect="non-scaling-stroke"/>
<path d="M0 0h9l1 1 1 1 1 1 1 2 1 3 1 5 1 6 1 9 1 11 1 14 1 15 1 17 1 17 1 15 1 13 1 8 1 3 1-1 1-5 1-7 1-10 1-11 1-13 1-13 1-12 1-12 1-11 1-10 1-8 1-7 1-5 1-5 1-3 1-3 1-1 1-2 1 0 1-1 1 0 1-1h14l1 1 1 1 1 1 1 3 1 4 1 6 1 10 1 14 1 18 1 23 1 28 1 32 1 33 1 32 1 27 1 21 1 11 1 1 1-6 1-13 1-17 1-21 1-24 1-25 1-24 1-24 1-22 1-19 1-17 1-13 1-11 1-9 1-6 1-5 1-3 1-3 1-1 1-1 1-1 1 0 1-1h2l1 1 1 0 1 1 1 2 1 3 1 5 1 6 1 9 1 9 1 9 1 8 1 5 1 2 1-2 1-3 1-6 1-6 1-8 1-7 1-6 1-6 1-4 1-4 1-2 1-1 1 0 1 0 1 1 1 1 1 1 1 1 1-1 1 0 1-1 1-1 1-1 1-1 1-1 1-1 1-1 1 0 1-1h18l1 1 1 0 1 1 1 2 1 2 1 4 1 5 1 5 1 7 1 6 1 5 1 4 1 1 1 0 1-2 1-4 1-4 1-4 1-5 1-5 1-4 1-4 1-3 1-2 1-2 1-1 1-1 1-1 1 0 1-1h14" stroke="#4DBEEE" vector-effect="non-scaling-stroke"/>
<path d="M0 0h9l1 1 1 0 1 1 1 2 1 2 1 4 1 4 1 7 1 9 1 10 1 11 1 13 1 13 1 11 1 9 1 6 1 3 1-2 1-3 1-6 1-7 1-8 1-10 1-9 1-10 1-9 1-8 1-7 1-6 1-5 1-4 1-4 1-2 1-2 1-1 1-1 1-1 1 0 1-1h15l1 1 1 0 1 2 1 2 1 4 1 5 1 9 1 13 1 16 1 22 1 27 1 30 1 33 1 32 1 28 1 23 1 13 1 3 1-5 1-11 1-16 1-20 1-23 1-24 1-25 1-23 1-22 1-20 1-17 1-14 1-11 1-9 1-7 1-5 1-4 1-2 1-2 1-1 1-1 1 0 1-1h3l1 1 1 0 1 1 1 1 1 2 1 2 1 3 1 3 1 3 1 2 1 1 1-1 1-1 1-1 1-2 1-2 1-2 1-3 1-1 1-2 1-1 1-1 1 0 1 0 1 1 1 1 1 1 1 1 1 0 1 0 1 0 1 0 1-1 1-1 1-1 1-1 1 0 1-1 1 0 1-1h20l1 1 1 1 1 1 1 2 1 3 1 4 1 5 1 5 1 6 1 6 1 4 1 2 1 0 1-1 1-3 1-3 1-5 1-4 1-4 1-5 1-3 1-3 1-3 1-2 1-1 1-1 1-1 1 0 1-1h14" stroke="#A2142F" vector-effect="non-scaling-stroke"/>
<path d="M0 0h10l1 1 1 0 1 2 1 1 1 3 1 4 1 5 1 6 1 8 1 10 1 10 1 11 1 10 1 8 1 6 1 3 1 0 1-3 1-4 1-5 1-7 1-8 1-8 1-8 1-7 1-7 1-7 1-5 1-5 1-3 1-3 1-3 1-1 1-1 1-1 1-1 1 0 1-1h15l1 1 1 0 1 1 1 2 1 3 1 5 1 6 1 10 1 13 1 17 1 21 1 23 1 24 1 24 1 21 1 16 1 8 1 1 1-4 1-8 1-13 1-15 1-18 1-18 1-18 1-18 1-16 1-15 1-12 1-10 1-8 1-7 1-5 1-3 1-3 1-2 1-1 1-1 1 0 1-1h6l1 1 1 0 1 1 1 2 1 1 1 2 1 2 1 2 1 1 1 0 1-1 1 0 1-1 1-2 1-1 1-1 1-2 1-1 1-1 1 0 1 0 1 0 1 0 1 1 1 0 1 1 1 0 1 0 1 0 1 0 1-1 1 0 1-1 1 0 1-1 1 0 1-1h21l1 1 1 1 1 1 1 2 1 2 1 4 1 4 1 4 1 4 1 4 1 2 1 1 1-1 1-2 1-2 1-3 1-3 1-3 1-3 1-3 1-3 1-2 1-1 1-2 1 0 1-1 1 0 1-1h15" stroke="#0072BD" vector-effect="non-scaling-stroke"/>
<path d="M0 0h24l1 1 1 0 1 1 1 2 1 2 1 4 1 5 1 6 1 8 1 9 1 10 1 10 1 10 1 9 1 7 1 3 1 0 1-2 1-3 1-6 1-6 1-8 1-8 1-8 1-7 1-7 1-7 1-5 1-5 1-4 1-3 1-2 1-2 1-1 1-1 1-1 1 0 1-1h18l1 1 1 1 1 1 1 3 1 4 1 5 1 9 1 11 1 15 1 18 1 20 1 22 1 21 1 20 1 15 1 8 1 2 1-3 1-7 1-11 1-13 1-15 1-17 1-16 1-16 1-15 1-13 1-12 1-9 1-8 1-6 1-4 1-4 1-2 1-2 1-1 1-1 1 0 1-1h6l1 1 1 0 1 1 1 1 1 2 1 1 1 1 1 1 1 0 1 0 1 0 1-1 1-1 1-1 1-2 1 0 1-1 1-1 1 0 1-1h37l1 1 1 0 1 1 1 1 1 1 1 2 1 2 1 1 1 2 1 1 1 0 1 0 1 0 1-1 1-2 1-1 1-1 1-2 1-1 1-1 1-1 1 0 1-1 1 0 1-1h3" stroke="#D95319" vector-effect="non-scaling-stroke"/>
<path d="M0 0h26l1 1 1 0 1 1 1 2 1 2 1 2 1 4 1 4 1 6 1 6 1 6 1 6 1 6 1 4 1 2 1 1 1-1 1-2 1-4 1-3 1-5 1-5 1-4 1-5 1-4 1-4 1-4 1-3 1-2 1-2 1-1 1-1 1-1 1-1 1 0 1-1h19l1 1 1 0 1 1 1 2 1 3 1 4 1 6 1 8 1 10 1 12 1 14 1 14 1 14 1 13 1 10 1 5 1 1 1-3 1-5 1-7 1-9 1-11 1-11 1-11 1-10 1-10 1-9 1-7 1-6 1-5 1-4 1-3 1-2 1-2 1-1 1-1 1 0 1-1h8l1 1 1 0 1 0 1 1 1 0 1 1 1 1 1 1 1 1 1 1 1 0 1-1 1 0 1-1 1-1 1-1 1-1 1 0 1-1 1 0 1-1h34l1 1 1 0 1 1 1 1 1 2 1 2 1 2 1 1 1 2 1 1 1 0 1 0 1-1 1-1 1-2 1-1 1-1 1-2 1-1 1-1 1-1 1-1 1 0 1 0 1-1h3" stroke="#EDB120" vector-effect="non-scaling-stroke"/>
<path d="M0 0h10l1 1 1 0 1 1 1 1 1 2 1 4 1 4 1 6 1 8 1 9 1 11 1 12 1 12 1 10 1 9 1 6 1 2 1 0 1-3 1-5 1-7 1-8 1-9 1-9 1-8 1-9 1-8 1-6 1-6 1-5 1-4 1-3 1-2 1-2 1-1 1-1 1-1 1 0 1-1h16l1 1 1 0 1 1 1 1 1 2 1 4 1 5 1 7 1 9 1 11 1 13 1 14 1 14 1 14 1 10 1 7 1 3 1-1 1-4 1-7 1-8 1-10 1-11 1-11 1-10 1-10 1-9 1-8 1-6 1-6 1-4 1-3 1-3 1-1 1-2 1 0 1-1 1 0 1-1h5l1 1 1 0 1 1 1 1 1 1 1 2 1 2 1 2 1 1 1 1 1 0 1 0 1-1 1-1 1-2 1-1 1-2 1-1 1-1 1-1 1 0 1-1 1 0 1 0 1 1 1 0 1 0 1 1 1 0 1 0 1 0 1-1 1 0 1-1 1 0 1 0 1 0 1-1h21l1 1 1 0 1 1 1 2 1 2 1 3 1 3 1 4 1 3 1 3 1 2 1 1 1-1 1-1 1-2 1-2 1-3 1-3 1-2 1-3 1-2 1-2 1-1 1-1 1-1 1 0 1 0 1-1h14" stroke="#7E2F8E" vector-effect="non-scaling-stroke"/>
<path d="M0 0h10l1 1 1 0 1 1 1 2 1 3 1 4 1 6 1 7 1 11 1 12 1 14 1 16 1 15 1 15 1 12 1 8 1 3 1-1 1-3 1-7 1-8 1-11 1-11 1-12 1-12 1-11 1-10 1-9 1-8 1-7 1-5 1-4 1-3 1-3 1-1 1-2 1 0 1-1 1 0 1-1h14l1 1 1 0 1 1 1 3 1 3 1 6 1 8 1 12 1 17 1 22 1 27 1 31 1 34 1 34 1 31 1 25 1 17 1 5 1-4 1-10 1-15 1-21 1-23 1-26 1-26 1-25 1-24 1-21 1-18 1-16 1-12 1-10 1-8 1-6 1-4 1-3 1-1 1-2 1-1 1 0 1 0 1-1 1 1 1 0 1 1 1 3 1 4 1 6 1 10 1 14 1 16 1 19 1 19 1 15 1 10 1 2 1-3 1-8 1-11 1-14 1-14 1-14 1-13 1-12 1-9 1-7 1-4 1-3 1-2 1 0 1 1 1 1 1 1 1 1 1 0 1-1 1-1 1-1 1-1 1-2 1-1 1-1 1 0 1-1 1 0 1-1h18l1 1 1 1 1 1 1 2 1 3 1 5 1 6 1 7 1 8 1 8 1 7 1 4 1 1 1-1 1-3 1-4 1-5 1-6 1-6 1-6 1-5 1-5 1-3 1-3 1-2 1-2 1-1 1-1 1 0 1-1h12" stroke="#77AC30" vector-effect="non-scaling-stroke"/>
<path d="M0 0h9l1 1 1 0 1 1 1 2 1 2 1 3 1 5 1 7 1 9 1 11 1 13 1 14 1 14 1 14 1 11 1 8 1 4 1 0 1-4 1-5 1-8 1-9 1-10 1-11 1-11 1-10 1-10 1-8 1-8 1-6 1-5 1-4 1-3 1-2 1-2 1-1 1-1 1 0 1 0 1-1h14l1 1 1 0 1 1 1 2 1 4 1 5 1 8 1 12 1 16 1 22 1 27 1 32 1 35 1 36 1 34 1 28 1 19 1 8 1-3 1-9 1-15 1-20 1-24 1-27 1-27 1-27 1-25 1-23 1-20 1-16 1-14 1-11 1-9 1-6 1-4 1-4 1-2 1-1 1-1 1-1 1 0 1-1h3l1 1 1 1 1 1 1 3 1 4 1 4 1 6 1 7 1 5 1 5 1 2 1 0 1-1 1-3 1-4 1-5 1-5 1-4 1-4 1-4 1-2 1-2 1-1 1 0 1 0 1 1 1 2 1 1 1 1 1 0 1-1 1 0 1-1 1-2 1-1 1-1 1-1 1-1 1 0 1 0 1-1h18l1 1 1 0 1 1 1 2 1 3 1 4 1 6 1 6 1 8 1 7 1 7 1 4 1 2 1-1 1-2 1-4 1-4 1-6 1-6 1-5 1-5 1-5 1-3 1-3 1-2 1-2 1-1 1-1 1 0 1-1h13" stroke="#4DBEEE" vector-effect="non-scaling-stroke"/>
<path d="M0 0h14l1 1 1 1 1 1 1 2 1 2 1 4 1 6 1 7 1 9 1 11 1 11 1 13 1 11 1 10 1 8 1 4 1 0 1-2 1-4 1-6 1-8 1-9 1-9 1-9 1-9 1-8 1-8 1-6 1-6 1-4 1-4 1-2 1-2 1-2 1-1 1-1 1 0 1 0 1-1h15l1 1 1 0 1 2 1 2 1 4 1 5 1 8 1 11 1 15 1 19 1 22 1 25 1 26 1 24 1 20 1 15 1 6 1-1 1-5 1-11 1-14 1-17 1-18 1-20 1-19 1-18 1-16 1-14 1-13 1-10 1-8 1-6 1-5 1-3 1-2 1-2 1-1 1-1 1 0 1-1h5l1 1 1 0 1 2 1 1 1 2 1 3 1 3 1 3 1 2 1 2 1 0 1-1 1-1 1-2 1-2 1-2 1-3 1-2 1-1 1-2 1 0 1-1 1 0 1 1 1 1 1 1 1 1 1 1 1 1 1-1 1 0 1-1 1-1 1-1 1-1 1-1 1 0 1-1 1 0 1-1h18l1 1 1 0 1 1 1 2 1 2 1 4 1 4 1 5 1 5 1 4 1 4 1 2 1 0 1-2 1-2 1-3 1-3 1-4 1-4 1-3 1-3 1-3 1-2 1-1 1-2 1 0 1-1 1 0 1-1h10" stroke="#A2142F" vector-effect="non-scaling-stroke"/>
<path d="M0 0h8l1 1 1 0 1 1 1 1 1 2 1 4 1 5 1 7 1 9 1 11 1 13 1 16 1 15 1 16 1 14 1 10 1 6 1 1 1-2 1-5 1-8 1-10 1-11 1-12 1-12 1-11 1-11 1-10 1-9 1-7 1-6 1-5 1-4 1-3 1-2 1-1 1-1 1-1 1 0 1-1h14l1 1 1 0 1 1 1 2 1 3 1 5 1 8 1 12 1 16 1 21 1 27 1 31 1 34 1 36 1 34 1 28 1 19 1 9 1-2 1-9 1-14 1-20 1-24 1-26 1-27 1-27 1-25 1-22 1-20 1-17 1-14 1-11 1-8 1-7 1-4 1-4 1-2 1-1 1-1 1-1 1 0 1-1h2l1 1 1 0 1 1 1 1 1 3 1 3 1 4 1 5 1 5 1 4 1 3 1 1 1 0 1-2 1-3 1-3 1-4 1-3 1-4 1-3 1-2 1-2 1-1 1-1 1 1 1 0 1 2 1 1 1 2 1 0 1 0 1 0 1-1 1-1 1-1 1-2 1-1 1-1 1 0 1-1 1 0 1-1h18l1 1 1 0 1 1 1 2 1 2 1 4 1 5 1 6 1 7 1 7 1 6 1 4 1 2 1-1 1-2 1-3 1-5 1-5 1-5 1-5 1-5 1-4 1-3 1-3 1-2 1-1 1-1 1-1 1 0 1-1h14" stroke="#0072BD" vector-effect="non-scaling-stroke"/>
<path d="M0 0h5l1 1 1 0 1 1 1 1 1 2 1 3 1 4 1 5 1 7 1 9 1 10 1 11 1 11 1 9 1 9 1 5 1 2 1 0 1-3 1-5 1-6 1-7 1-8 1-8 1-8 1-8 1-7 1-6 1-6 1-4 1-4 1-3 1-2 1-1 1-2 1 0 1-1 1 0 1-1h15l1 1 1 0 1 1 1 2 1 3 1 4 1 7 1 9 1 13 1 16 1 20 1 22 1 23 1 22 1 19 1 14 1 8 1 1 1-5 1-8 1-12 1-15 1-16 1-18 1-17 1-16 1-16 1-13 1-11 1-10 1-7 1-6 1-5 1-3 1-2 1-2 1-1 1-1 1 0 1-1h4l1 1 1 1 1 1 1 3 1 3 1 5 1 7 1 7 1 7 1 6 1 3 1 1 1-1 1-3 1-4 1-5 1-5 1-6 1-5 1-4 1-3 1-3 1-2 1-1 1 0 1 0 1 1 1 1 1 0 1 0 1 0 1 0 1-1 1-1 1 0 1-1 1-1 1 0 1 0 1-1h19l1 1 1 1 1 1 1 2 1 3 1 4 1 5 1 5 1 5 1 4 1 3 1 1 1 0 1-2 1-2 1-4 1-4 1-4 1-3 1-4 1-3 1-2 1-2 1-2 1-1 1-1 1 0 1-1h20" stroke="#D95319" vector-effect="non-scaling-stroke"/>
<path d="M0 0h23l1 1 1 0 1 1 1 1 1 2 1 3 1 5 1 5 1 7 1 9 1 9 1 10 1 10 1 9 1 6 1 4 1 1 1-1 1-3 1-5 1-6 1-7 1-8 1-7 1-8 1-6 1-7 1-5 1-5 1-4 1-3 1-2 1-2 1-1 1-1 1-1 1 0 1-1h18l1 1 1 0 1 2 1 2 1 3 1 5 1 8 1 10 1 13 1 17 1 19 1 20 1 22 1 19 1 16 1 10 1 3 1-2 1-6 1-9 1-13 1-14 1-16 1-16 1-15 1-15 1-13 1-11 1-10 1-8 1-6 1-5 1-3 1-3 1-2 1-1 1-1 1 0 1 0 1-1h5l1 1 1 0 1 1 1 1 1 1 1 2 1 1 1 2 1 1 1 1 1 0 1 0 1-1 1-1 1-2 1-1 1-1 1-2 1-1 1 0 1-1 1 0 1-1h35l1 1 1 0 1 1 1 1 1 2 1 1 1 2 1 1 1 1 1 1 1 0 1-1 1-1 1-1 1-1 1-1 1-1 1-1 1-1 1-1 1 0 1-1 1 0 1-1h4" stroke="#EDB120" vector-effect="non-scaling-stroke"/>
<path d="M0 0h12l1 1 1 0 1 1 1 2 1 2 1 4 1 5 1 7 1 9 1 10 1 12 1 12 1 12 1 11 1 9 1 5 1 2 1-2 1-4 1-5 1-8 1-8 1-10 1-9 1-9 1-9 1-8 1-7 1-6 1-4 1-4 1-3 1-3 1-1 1-2 1 0 1-1 1 0 1-1h14l1 1 1 0 1 1 1 2 1 3 1 4 1 7 1 10 1 14 1 19 1 22 1 27 1 29 1 30 1 27 1 23 1 15 1 5 1-2 1-8 1-13 1-17 1-20 1-22 1-23 1-22 1-20 1-19 1-16 1-14 1-11 1-9 1-7 1-5 1-3 1-3 1-2 1-1 1-1 1 0 1-1h2l1 1 1 0 1 1 1 2 1 3 1 4 1 6 1 8 1 8 1 9 1 7 1 5 1 1 1-1 1-3 1-6 1-6 1-6 1-7 1-6 1-5 1-4 1-3 1-3 1-1 1 0 1 0 1 1 1 1 1 1 1 0 1 0 1-1 1 0 1-1 1-1 1-1 1-1 1-1 1 0 1 0 1-1h19l1 1 1 0 1 1 1 1 1 2 1 3 1 3 1 3 1 4 1 3 1 2 1 2 1 0 1-1 1-2 1-2 1-3 1-3 1-2 1-3 1-2 1-2 1-1 1-2 1 0 1-1 1 0 1-1h13" stroke="#7E2F8E" vector-effect="non-scaling-stroke"/>
<path d="M0 0h9l1 1 1 0 1 1 1 2 1 2 1 4 1 5 1 6 1 8 1 10 1 11 1 11 1 11 1 9 1 7 1 5 1 0 1-2 1-3 1-6 1-7 1-8 1-8 1-8 1-9 1-7 1-7 1-6 1-5 1-5 1-3 1-3 1-2 1-1 1-1 1-1 1 0 1 0 1-1h14l1 1 1 0 1 1 1 2 1 3 1 4 1 7 1 10 1 14 1 18 1 23 1 26 1 28 1 29 1 26 1 21 1 14 1 5 1-3 1-8 1-13 1-17 1-20 1-21 1-22 1-21 1-20 1-18 1-15 1-13 1-11 1-8 1-7 1-4 1-4 1-2 1-2 1-1 1-1 1 0 1-1h4l1 1 1 1 1 1 1 2 1 2 1 3 1 4 1 4 1 3 1 2 1 0 1 0 1-2 1-2 1-2 1-3 1-3 1-2 1-3 1-1 1-2 1 0 1 0 1 0 1 1 1 1 1 1 1 1 1 0 1 0 1-1 1 0 1-1 1-1 1-1 1-1 1-1 1 0 1 0 1-1h19l1 1 1 0 1 1 1 1 1 2 1 3 1 3 1 4 1 4 1 4 1 2 1 2 1 0 1-1 1-2 1-2 1-3 1-3 1-3 1-3 1-2 1-2 1-2 1-1 1-1 1-1 1 0 1-1h16" stroke="#77AC30" vector-effect="non-scaling-stroke"/>
<path d="M0 0h9l1 1 1 0 1 2 1 1 1 3 1 4 1 6 1 8 1 9 1 12 1 13 1 13 1 14 1 11 1 10 1 5 1 1 1-1 1-5 1-6 1-8 1-10 1-10 1-10 1-10 1-10 1-8 1-8 1-6 1-5 1-5 1-3 1-2 1-2 1-1 1-1 1-1 1 0 1-1h14l1 1 1 0 1 1 1 2 1 3 1 5 1 8 1 11 1 15 1 20 1 25 1 29 1 31 1 32 1 29 1 24 1 15 1 6 1-3 1-9 1-14 1-19 1-21 1-24 1-24 1-24 1-22 1-20 1-17 1-14 1-12 1-10 1-7 1-5 1-4 1-3 1-2 1-1 1-1 1 0 1-1h3l1 1 1 1 1 1 1 2 1 4 1 4 1 6 1 6 1 5 1 5 1 3 1 0 1-1 1-3 1-4 1-4 1-5 1-4 1-4 1-4 1-2 1-2 1-1 1-1 1 1 1 0 1 2 1 1 1 1 1 0 1 0 1 0 1-1 1-1 1-1 1-2 1 0 1-1 1-1 1 0 1-1h19l1 1 1 1 1 1 1 2 1 3 1 3 1 5 1 6 1 6 1 5 1 4 1 3 1 0 1-1 1-3 1-3 1-5 1-4 1-4 1-5 1-3 1-3 1-3 1-2 1-1 1-1 1-1 1 0 1-1h15" stroke="#4DBEEE" vector-effect="non-scaling-stroke"/>
<path d="M0 0h6l1 1 1 0 1 1 1 1 1 3 1 3 1 5 1 6 1 9 1 10 1 13 1 13 1 14 1 13 1 11 1 8 1 3 1 0 1-3 1-5 1-8 1-8 1-10 1-11 1-10 1-10 1-9 1-8 1-7 1-6 1-5 1-4 1-3 1-2 1-2 1-1 1-1 1 0 1 0 1-1h14l1 1 1 0 1 1 1 2 1 4 1 5 1 8 1 12 1 16 1 21 1 26 1 30 1 33 1 33 1 31 1 25 1 16 1 6 1-3 1-9 1-15 1-20 1-23 1-24 1-26 1-25 1-23 1-21 1-18 1-15 1-13 1-9 1-8 1-6 1-4 1-3 1-1 1-2 1-1 1 0 1-1h3l1 1 1 0 1 1 1 2 1 3 1 4 1 5 1 5 1 6 1 4 1 4 1 1 1-1 1-2 1-3 1-4 1-5 1-4 1-4 1-3 1-3 1-2 1-1 1-1 1 1 1 0 1 2 1 1 1 1 1 1 1 0 1-1 1-1 1-1 1-1 1-1 1-1 1-1 1-1 1 0 1 0 1-1h18l1 1 1 0 1 1 1 2 1 2 1 3 1 3 1 4 1 4 1 4 1 2 1 2 1-1 1-1 1-2 1-2 1-3 1-3 1-3 1-3 1-3 1-2 1-1 1-1 1-1 1-1 1 0 1-1h18" stroke="#A2142F" vector-effect="non-scaling-stroke"/>
<path d="M0 0h24l1 1 1 0 1 1 1 1 1 3 1 3 1 4 1 5 1 7 1 9 1 9 1 9 1 9 1 8 1 6 1 4 1 0 1-2 1-3 1-5 1-6 1-6 1-8 1-7 1-7 1-6 1-6 1-5 1-4 1-4 1-3 1-2 1-1 1-1 1-1 1-1 1 0 1-1h18l1 1 1 0 1 1 1 1 1 3 1 4 1 5 1 7 1 10 1 12 1 15 1 15 1 16 1 15 1 12 1 8 1 3 1-1 1-4 1-7 1-10 1-10 1-12 1-12 1-12 1-11 1-10 1-9 1-7 1-6 1-5 1-3 1-3 1-2 1-1 1-1 1-1 1 0 1-1h8l1 1 1 0 1 1 1 1 1 1 1 1 1 1 1 1 1 1 1 0 1 0 1-1 1-1 1-1 1-1 1-1 1-1 1 0 1-1 1 0 1-1h34l1 1 1 1 1 1 1 1 1 2 1 2 1 2 1 3 1 2 1 1 1 1 1-1 1-1 1-1 1-1 1-2 1-2 1-2 1-1 1-2 1-1 1-1 1-1 1 0 1 0 1-1h2" stroke="#0072BD" vector-effect="non-scaling-stroke"/>
<path d="M0 0h9l1 1 1 1 1 1 1 2 1 3 1 4 1 7 1 8 1 11 1 14 1 15 1 16 1 16 1 15 1 12 1 7 1 3 1-2 1-4 1-7 1-10 1-11 1-12 1-12 1-12 1-12 1-10 1-10 1-8 1-6 1-5 1-4 1-4 1-2 1-2 1-1 1-1 1 0 1 0 1-1h14l1 1 1 1 1 1 1 3 1 4 1 7 1 10 1 15 1 19 1 25 1 30 1 34 1 36 1 36 1 31 1 23 1 14 1 1 1-6 1-12 1-19 1-22 1-26 1-27 1-28 1-26 1-24 1-21 1-19 1-15 1-12 1-10 1-7 1-6 1-3 1-3 1-2 1-1 1-1 1 0 1-1h2l1 1 1 1 1 2 1 3 1 6 1 9 1 13 1 15 1 18 1 19 1 15 1 11 1 3 1-3 1-7 1-10 1-13 1-13 1-14 1-13 1-11 1-9 1-7 1-5 1-3 1-1 1 0 1 0 1 1 1 1 1 0 1-1 1-1 1-1 1-1 1-1 1-1 1-1 1 0 1-1 1 0 1-1h18l1 1 1 0 1 1 1 2 1 2 1 3 1 5 1 5 1 6 1 5 1 5 1 3 1 2 1-1 1-2 1-3 1-4 1-4 1-5 1-4 1-4 1-3 1-3 1-2 1-2 1-1 1-1 1 0 1 0 1-1h14" stroke="#D95319" vector-effect="non-scaling-stroke"/>
<path d="M0 0h24l1 1 1 0 1 1 1 1 1 2 1 4 1 4 1 5 1 8 1 8 1 10 1 10 1 9 1 9 1 6 1 4 1 1 1-2 1-3 1-5 1-6 1-7 1-7 1-8 1-7 1-7 1-6 1-6 1-4 1-4 1-3 1-2 1-2 1-1 1-1 1-1 1 0 1-1h19l1 1 1 0 1 2 1 2 1 3 1 4 1 6 1 8 1 10 1 12 1 13 1 14 1 13 1 10 1 8 1 4 1-1 1-3 1-6 1-7 1-9 1-10 1-10 1-10 1-10 1-9 1-8 1-6 1-5 1-5 1-3 1-2 1-2 1-2 1 0 1-1 1 0 1-1h5l1 1 1 0 1 1 1 1 1 2 1 1 1 2 1 1 1 2 1 0 1 0 1 0 1-2 1-1 1-1 1-2 1-1 1-1 1-1 1-1 1 0 1-1h35l1 1 1 0 1 1 1 2 1 1 1 2 1 2 1 3 1 2 1 1 1 0 1 0 1-1 1-1 1-1 1-2 1-2 1-1 1-2 1-1 1-1 1-1 1-1 1 0 1 0 1-1h3" stroke="#EDB120" vector-effect="non-scaling-stroke"/>
<path d="M0 0h11l1 1 1 0 1 1 1 1 1 2 1 2 1 4 1 5 1 6 1 7 1 8 1 8 1 8 1 7 1 5 1 3 1 0 1-1 1-3 1-4 1-5 1-6 1-6 1-6 1-6 1-6 1-5 1-4 1-4 1-3 1-3 1-1 1-2 1-1 1-1 1 0 1 0 1-1h17l1 1 1 1 1 1 1 2 1 4 1 5 1 6 1 9 1 11 1 13 1 13 1 15 1 13 1 10 1 7 1 3 1-1 1-4 1-6 1-8 1-10 1-11 1-10 1-11 1-10 1-8 1-8 1-7 1-5 1-4 1-3 1-3 1-1 1-2 1 0 1-1 1 0 1-1h7l1 1 1 0 1 1 1 0 1 1 1 1 1 1 1 0 1 1 1 0 1-1 1 0 1-1 1 0 1-1 1-1 1 0 1-1 1 0 1 0 1 0 1 1 1 1 1 1 1 1 1 1 1 1 1 0 1 0 1-1 1-1 1-1 1-1 1-1 1 0 1-1 1 0 1-1h20l1 1 1 0 1 1 1 2 1 1 1 3 1 2 1 3 1 2 1 2 1 1 1 0 1-1 1-1 1-2 1-2 1-2 1-2 1-1 1-2 1-1 1-1 1-1 1-1 1 0 1-1h15" stroke="#7E2F8E" vector-effect="non-scaling-stroke"/>
<path d="M0 0h12l1 1 1 0 1 1 1 2 1 2 1 4 1 5 1 7 1 10 1 11 1 14 1 14 1 15 1 14 1 11 1 8 1 4 1 0 1-4 1-6 1-8 1-9 1-11 1-11 1-11 1-11 1-10 1-9 1-7 1-6 1-5 1-4 1-4 1-2 1-2 1-1 1-1 1 0 1 0 1-1h14l1 1 1 1 1 1 1 3 1 4 1 7 1 10 1 14 1 19 1 25 1 30 1 34 1 36 1 36 1 31 1 24 1 14 1 3 1-6 1-13 1-18 1-22 1-26 1-27 1-28 1-26 1-25 1-21 1-19 1-15 1-13 1-9 1-8 1-5 1-4 1-3 1-2 1-1 1-1 1 0 1-1h2l1 1 1 0 1 1 1 2 1 2 1 5 1 5 1 7 1 7 1 7 1 6 1 3 1 0 1-2 1-3 1-4 1-6 1-5 1-6 1-5 1-4 1-3 1-2 1-1 1-1 1 0 1 1 1 2 1 1 1 1 1 1 1-1 1 0 1-1 1-2 1-1 1-1 1-1 1-1 1-1 1 0 1-1h19l1 1 1 1 1 1 1 2 1 4 1 4 1 5 1 5 1 6 1 5 1 3 1 2 1-1 1-2 1-2 1-4 1-4 1-4 1-5 1-3 1-4 1-3 1-2 1-1 1-2 1-1 1 0 1 0 1-1h11" stroke="#77AC30" vector-effect="non-scaling-stroke"/>
<path d="M0 0h10l1 1 1 1 1 1 1 2 1 3 1 4 1 5 1 7 1 9 1 10 1 11 1 11 1 11 1 8 1 7 1 2 1 0 1-3 1-4 1-6 1-8 1-8 1-8 1-9 1-8 1-7 1-7 1-5 1-5 1-4 1-3 1-2 1-2 1-1 1-1 1-1 1 0 1-1h16l1 1 1 1 1 1 1 2 1 4 1 5 1 7 1 10 1 11 1 15 1 15 1 16 1 16 1 13 1 9 1 5 1-1 1-4 1-6 1-9 1-11 1-11 1-13 1-12 1-11 1-11 1-9 1-8 1-6 1-5 1-4 1-3 1-2 1-2 1-1 1-1 1 0 1-1h7l1 1 1 0 1 1 1 0 1 1 1 2 1 1 1 1 1 0 1 0 1 0 1 0 1-1 1-1 1-1 1-1 1-1 1 0 1-1 1 0 1 0 1 0 1 0 1 0 1 0 1 0 1 1 1 0 1 0 1 0 1-1 1 0 1 0 1 0 1-1h23l1 1 1 0 1 1 1 2 1 2 1 3 1 4 1 4 1 4 1 3 1 3 1 1 1-1 1-1 1-2 1-3 1-3 1-3 1-3 1-3 1-2 1-2 1-1 1-2 1 0 1-1 1 0 1-1h15" stroke="#4DBEEE" vector-effect="non-scaling-stroke"/>
<path d="M0 0h10l1 1 1 0 1 1 1 2 1 3 1 3 1 5 1 7 1 9 1 10 1 11 1 12 1 11 1 10 1 7 1 5 1 0 1-2 1-3 1-6 1-7 1-9 1-8 1-9 1-9 1-8 1-7 1-6 1-6 1-4 1-4 1-2 1-2 1-2 1-1 1-1 1 0 1 0 1-1h14l1 1 1 1 1 1 1 3 1 4 1 7 1 10 1 14 1 19 1 25 1 29 1 33 1 34 1 33 1 29 1 22 1 11 1 1 1-7 1-12 1-18 1-22 1-25 1-26 1-26 1-25 1-22 1-20 1-18 1-14 1-11 1-9 1-7 1-5 1-3 1-3 1-1 1-1 1-1 1 0 1-1h3l1 1 1 1 1 2 1 3 1 4 1 7 1 8 1 10 1 10 1 9 1 7 1 2 1-1 1-3 1-6 1-7 1-7 1-8 1-7 1-6 1-6 1-3 1-3 1-2 1 0 1 0 1 1 1 1 1 0 1 0 1 0 1 0 1-1 1-1 1-1 1-1 1-1 1-1 1 0 1 0 1-1h18l1 1 1 0 1 1 1 1 1 3 1 3 1 5 1 5 1 7 1 6 1 6 1 4 1 2 1 0 1-2 1-3 1-4 1-4 1-5 1-5 1-5 1-4 1-3 1-3 1-2 1-1 1-1 1-1 1 0 1-1h14" stroke="#A2142F" vector-effect="non-scaling-stroke"/>
<path d="M0 0h10l1 1 1 0 1 1 1 2 1 2 1 4 1 5 1 7 1 8 1 10 1 11 1 12 1 11 1 10 1 8 1 4 1 1 1-2 1-4 1-5 1-8 1-8 1-8 1-9 1-9 1-8 1-7 1-6 1-6 1-4 1-4 1-2 1-2 1-2 1-1 1-1 1 0 1 0 1-1h15l1 1 1 0 1 1 1 2 1 3 1 5 1 7 1 10 1 14 1 17 1 21 1 24 1 25 1 24 1 22 1 16 1 9 1 1 1-4 1-9 1-13 1-16 1-18 1-19 1-19 1-18 1-16 1-15 1-13 1-10 1-9 1-6 1-5 1-4 1-3 1-2 1-1 1-1 1 0 1-1h6l1 1 1 0 1 1 1 1 1 2 1 2 1 1 1 1 1 1 1 0 1 0 1-1 1-1 1-1 1-1 1-1 1-1 1-1 1-1 1 0 1 0 1 0 1 1 1 1 1 1 1 1 1 1 1 0 1 0 1 0 1-1 1-1 1-1 1-1 1-1 1-1 1 0 1 0 1-1h19l1 1 1 0 1 1 1 1 1 2 1 3 1 3 1 3 1 4 1 3 1 2 1 1 1-1 1-1 1-1 1-3 1-2 1-3 1-2 1-3 1-2 1-1 1-2 1-1 1-1 1 0 1 0 1-1h14" stroke="#0072BD" vector-effect="non-scaling-stroke"/>
<path d="M0 0h10l1 1 1 0 1 1 1 2 1 2 1 4 1 5 1 7 1 9 1 11 1 13 1 14 1 14 1 14 1 11 1 8 1 3 1-1 1-3 1-6 1-8 1-9 1-10 1-11 1-11 1-10 1-10 1-8 1-7 1-6 1-5 1-4 1-3 1-2 1-2 1-1 1-1 1 0 1 0 1-1h14l1 1 1 0 1 2 1 2 1 4 1 5 1 9 1 13 1 17 1 22 1 27 1 31 1 33 1 33 1 30 1 23 1 15 1 3 1-4 1-11 1-16 1-21 1-23 1-25 1-25 1-25 1-23 1-20 1-17 1-15 1-12 1-9 1-7 1-6 1-3 1-3 1-2 1-1 1-1 1 0 1-1h3l1 1 1 1 1 2 1 3 1 5 1 6 1 9 1 11 1 10 1 10 1 7 1 3 1-1 1-4 1-5 1-7 1-8 1-9 1-7 1-7 1-6 1-4 1-3 1-2 1-1 1 0 1 1 1 1 1 1 1 1 1 1 1-1 1 0 1-1 1-1 1-1 1-1 1-1 1-1 1-1 1 0 1-1h17l1 1 1 0 1 1 1 1 1 3 1 3 1 5 1 5 1 7 1 6 1 6 1 4 1 2 1 0 1-2 1-3 1-4 1-4 1-5 1-5 1-5 1-4 1-3 1-3 1-2 1-1 1-1 1-1 1 0 1-1h13" stroke="#D95319" vector-effect="non-scaling-stroke"/>
<path d="M0 0h11l1 1 1 0 1 1 1 2 1 2 1 3 1 5 1 5 1 7 1 8 1 8 1 9 1 8 1 6 1 5 1 1 1 0 1-2 1-4 1-5 1-5 1-7 1-6 1-7 1-6 1-5 1-5 1-5 1-3 1-3 1-2 1-2 1-1 1-1 1-1 1 0 1 0 1-1h15l1 1 1 0 1 2 1 2 1 3 1 5 1 7 1 11 1 13 1 18 1 20 1 23 1 23 1 22 1 19 1 13 1 6 1-1 1-5 1-9 1-13 1-16 1-17 1-17 1-18 1-16 1-16 1-13 1-11 1-9 1-7 1-6 1-4 1-3 1-3 1-1 1-1 1-1 1 0 1-1h6l1 1 1 0 1 1 1 1 1 2 1 1 1 2 1 1 1 1 1 0 1 0 1-1 1-1 1-1 1-1 1-1 1-1 1-1 1-1 1 0 1-1 1 0 1 1 1 1 1 1 1 1 1 0 1 1 1 0 1-1 1 0 1-1 1-1 1 0 1-1 1-1 1 0 1 0 1-1h19l1 1 1 0 1 1 1 1 1 2 1 2 1 3 1 3 1 3 1 2 1 2 1 1 1 0 1-1 1-2 1-2 1-2 1-2 1-3 1-2 1-1 1-2 1-1 1-1 1-1 1 0 1-1h15" stroke="#EDB120" vector-effect="non-scaling-stroke"/>
<path d="M0 0h9l1 1 1 0 1 1 1 1 1 2 1 4 1 4 1 6 1 8 1 9 1 10 1 11 1 11 1 10 1 8 1 6 1 1 1-1 1-3 1-5 1-6 1-8 1-8 1-9 1-8 1-8 1-7 1-7 1-5 1-4 1-4 1-3 1-2 1-2 1-1 1 0 1-1 1 0 1-1h14l1 1 1 0 1 1 1 2 1 3 1 5 1 7 1 10 1 15 1 19 1 23 1 26 1 29 1 30 1 26 1 22 1 13 1 5 1-3 1-9 1-14 1-17 1-20 1-22 1-22 1-22 1-20 1-18 1-16 1-13 1-11 1-8 1-7 1-4 1-4 1-2 1-2 1-1 1-1 1 0 1-1h4l1 1 1 1 1 1 1 2 1 4 1 4 1 6 1 5 1 6 1 4 1 2 1 0 1-1 1-3 1-3 1-5 1-4 1-4 1-4 1-3 1-3 1-2 1-1 1 0 1 0 1 1 1 1 1 1 1 1 1 1 1-1 1 0 1-1 1-1 1-1 1-1 1-1 1 0 1-1 1 0 1-1h18l1 1 1 0 1 1 1 1 1 2 1 3 1 3 1 4 1 5 1 4 1 3 1 2 1 1 1-1 1-2 1-2 1-3 1-3 1-4 1-3 1-3 1-2 1-2 1-2 1-1 1 0 1-1 1 0 1-1h15" stroke="#7E2F8E" vector-effect="non-scaling-stroke"/>
<path d="M0 0h11l1 1 1 1 1 1 1 2 1 3 1 4 1 6 1 9 1 10 1 12 1 14 1 14 1 14 1 12 1 10 1 6 1 1 1-3 1-4 1-7 1-9 1-10 1-11 1-10 1-11 1-10 1-9 1-8 1-6 1-6 1-4 1-4 1-2 1-2 1-1 1-1 1-1 1 0 1-1h14l1 1 1 0 1 2 1 2 1 4 1 6 1 10 1 13 1 19 1 25 1 31 1 37 1 40 1 40 1 38 1 30 1 21 1 8 1-3 1-11 1-18 1-23 1-27 1-30 1-31 1-30 1-28 1-26 1-22 1-19 1-15 1-12 1-10 1-7 1-5 1-3 1-3 1-1 1-1 1-1 1 0 1 0 1 0 1 0 1 1 1 2 1 4 1 7 1 9 1 14 1 16 1 18 1 18 1 15 1 9 1 2 1-3 1-8 1-11 1-13 1-14 1-14 1-12 1-11 1-9 1-6 1-5 1-2 1-2 1 1 1 1 1 1 1 2 1 0 1 0 1 0 1-1 1-2 1-1 1-2 1-1 1-1 1-1 1-1 1 0 1-1h18l1 1 1 1 1 1 1 2 1 4 1 4 1 6 1 6 1 7 1 7 1 5 1 3 1 0 1-2 1-2 1-4 1-5 1-5 1-6 1-5 1-4 1-4 1-3 1-2 1-2 1-1 1-1 1 0 1-1h13" stroke="#77AC30" vector-effect="non-scaling-stroke"/>
<path d="M0 0h9l1 1 1 0 1 1 1 2 1 3 1 4 1 6 1 8 1 11 1 13 1 15 1 17 1 16 1 16 1 14 1 9 1 4 1 0 1-4 1-7 1-9 1-11 1-12 1-12 1-13 1-12 1-12 1-10 1-8 1-7 1-6 1-5 1-3 1-3 1-2 1-1 1-1 1-1 1 0 1-1h14l1 1 1 0 1 1 1 2 1 4 1 6 1 8 1 13 1 17 1 23 1 28 1 33 1 37 1 37 1 35 1 28 1 20 1 7 1-2 1-10 1-16 1-21 1-26 1-27 1-28 1-28 1-26 1-23 1-21 1-17 1-14 1-12 1-8 1-7 1-4 1-4 1-2 1-1 1-1 1-1 1 0 1-1h2l1 1 1 0 1 1 1 2 1 3 1 3 1 5 1 6 1 6 1 6 1 4 1 1 1 0 1-2 1-3 1-4 1-5 1-4 1-5 1-4 1-3 1-2 1-2 1 0 1-1 1 1 1 1 1 1 1 1 1 1 1 0 1 0 1-1 1-1 1-1 1-1 1-1 1-1 1-1 1 0 1 0 1-1h18l1 1 1 1 1 1 1 2 1 3 1 4 1 6 1 7 1 7 1 7 1 5 1 4 1 1 1-1 1-3 1-4 1-5 1-5 1-6 1-5 1-4 1-4 1-4 1-2 1-2 1-1 1-1 1-1 1 0 1-1h13" stroke="#4DBEEE" vector-effect="non-scaling-stroke"/>
<path d="M0 0h6l1 1 1 0 1 1 1 1 1 2 1 4 1 4 1 6 1 9 1 10 1 12 1 13 1 14 1 13 1 10 1 8 1 4 1 0 1-2 1-6 1-7 1-8 1-10 1-10 1-10 1-10 1-9 1-8 1-7 1-6 1-5 1-4 1-3 1-2 1-2 1-1 1-1 1 0 1 0 1-1h15l1 1 1 1 1 1 1 2 1 4 1 5 1 8 1 11 1 15 1 18 1 22 1 24 1 25 1 23 1 20 1 14 1 6 1-2 1-6 1-10 1-14 1-16 1-18 1-19 1-19 1-17 1-16 1-14 1-11 1-10 1-8 1-6 1-4 1-3 1-3 1-1 1-1 1-1 1 0 1-1h3l1 1 1 0 1 2 1 2 1 3 1 5 1 6 1 6 1 7 1 5 1 4 1 1 1-1 1-3 1-4 1-4 1-5 1-5 1-5 1-4 1-3 1-2 1-2 1-1 1 0 1 1 1 1 1 1 1 1 1 1 1 0 1-1 1 0 1-1 1-1 1-1 1-1 1-1 1-1 1 0 1-1h19l1 1 1 1 1 1 1 2 1 3 1 3 1 5 1 6 1 6 1 6 1 4 1 2 1 1 1-2 1-2 1-4 1-4 1-4 1-5 1-4 1-4 1-3 1-3 1-2 1-1 1-1 1-1 1 0 1-1h17" stroke="#A2142F" vector-effect="non-scaling-stroke"/>
<path d="M0 0h10l1 1 1 0 1 1 1 1 1 2 1 2 1 4 1 6 1 6 1 8 1 9 1 10 1 10 1 9 1 7 1 5 1 1 1-1 1-2 1-5 1-5 1-7 1-7 1-8 1-7 1-7 1-7 1-5 1-5 1-4 1-3 1-3 1-1 1-2 1-1 1-1 1 0 1 0 1-1h15l1 1 1 0 1 2 1 2 1 3 1 5 1 8 1 12 1 15 1 19 1 24 1 27 1 28 1 28 1 25 1 19 1 10 1 2 1-5 1-10 1-14 1-18 1-21 1-21 1-22 1-20 1-19 1-17 1-15 1-12 1-9 1-8 1-6 1-4 1-3 1-2 1-2 1 0 1-1 1 0 1-1h4l1 1 1 0 1 1 1 2 1 1 1 3 1 2 1 2 1 2 1 1 1 0 1-1 1-1 1-1 1-2 1-2 1-2 1-1 1-1 1-1 1-1 1 0 1 0 1 1 1 0 1 1 1 1 1 1 1 0 1-1 1 0 1-1 1 0 1-1 1-1 1-1 1 0 1 0 1-1h19l1 1 1 0 1 1 1 2 1 2 1 3 1 4 1 4 1 5 1 4 1 3 1 2 1 0 1-1 1-2 1-3 1-3 1-4 1-3 1-3 1-3 1-2 1-2 1-2 1-1 1-1 1 0 1 0 1-1h14" stroke="#0072BD" vector-effect="non-scaling-stroke"/>
<path d="M0 0h9l1 1 1 0 1 1 1 1 1 2 1 4 1 5 1 6 1 9 1 11 1 13 1 15 1 15 1 15 1 13 1 9 1 5 1 1 1-3 1-5 1-7 1-10 1-11 1-11 1-11 1-12 1-10 1-9 1-8 1-7 1-6 1-4 1-3 1-3 1-2 1-1 1-1 1-1 1 0 1-1h14l1 1 1 0 1 1 1 2 1 3 1 5 1 8 1 11 1 15 1 20 1 24 1 28 1 30 1 30 1 27 1 22 1 14 1 4 1-4 1-9 1-14 1-18 1-21 1-23 1-23 1-22 1-21 1-18 1-17 1-13 1-11 1-9 1-6 1-5 1-4 1-2 1-2 1-1 1-1 1 0 1-1h4l1 1 1 0 1 2 1 1 1 3 1 3 1 4 1 4 1 4 1 2 1 1 1 0 1-2 1-2 1-3 1-3 1-3 1-2 1-3 1-2 1-1 1-1 1 0 1 0 1 1 1 1 1 1 1 1 1 0 1 0 1 0 1-1 1-1 1-1 1-1 1-1 1 0 1-1 1 0 1-1h18l1 1 1 0 1 1 1 2 1 2 1 3 1 5 1 5 1 6 1 6 1 6 1 3 1 2 1-1 1-2 1-3 1-4 1-4 1-5 1-4 1-4 1-4 1-3 1-2 1-2 1-1 1-1 1-1 1 0 1-1h14" stroke="#D95319" vector-effect="non-scaling-stroke"/>
<path d="M0 0h7l1 1 1 0 1 1 1 2 1 2 1 4 1 4 1 6 1 7 1 9 1 10 1 9 1 9 1 8 1 6 1 3 1 0 1-2 1-4 1-5 1-7 1-6 1-8 1-7 1-7 1-7 1-5 1-6 1-4 1-3 1-3 1-2 1-1 1-2 1 0 1-1 1 0 1-1h15l1 1 1 0 1 1 1 2 1 3 1 5 1 7 1 11 1 14 1 20 1 24 1 27 1 31 1 31 1 29 1 23 1 16 1 5 1-2 1-9 1-13 1-18 1-21 1-23 1-24 1-23 1-21 1-20 1-17 1-14 1-12 1-9 1-7 1-5 1-4 1-3 1-2 1-1 1-1 1 0 1-1h4l1 1 1 1 1 1 1 3 1 3 1 5 1 7 1 6 1 7 1 6 1 3 1 1 1-2 1-3 1-4 1-5 1-5 1-5 1-5 1-4 1-3 1-2 1-2 1-1 1 0 1 0 1 1 1 0 1 0 1 0 1-1 1 0 1-1 1 0 1-1 1 0 1 0 1-1h21l1 1 1 0 1 2 1 2 1 2 1 4 1 5 1 5 1 6 1 5 1 4 1 2 1 0 1-1 1-3 1-3 1-4 1-4 1-4 1-4 1-4 1-3 1-2 1-2 1-1 1-1 1-1 1 0 1-1h17" stroke="#EDB120" vector-effect="non-scaling-stroke"/>
<path d="M0 0h9l1 1 1 0 1 1 1 2 1 3 1 3 1 6 1 6 1 9 1 10 1 11 1 11 1 11 1 10 1 7 1 4 1 0 1-2 1-4 1-5 1-8 1-8 1-8 1-9 1-8 1-8 1-7 1-6 1-5 1-5 1-3 1-3 1-2 1-1 1-1 1-1 1 0 1 0 1-1h14l1 1 1 0 1 1 1 2 1 3 1 5 1 7 1 10 1 15 1 19 1 23 1 27 1 30 1 30 1 28 1 22 1 15 1 6 1-3 1-9 1-13 1-18 1-20 1-23 1-23 1-22 1-21 1-19 1-16 1-14 1-11 1-9 1-7 1-5 1-3 1-3 1-2 1-1 1-1 1 0 1-1h3l1 1 1 1 1 1 1 3 1 4 1 6 1 8 1 9 1 10 1 9 1 6 1 3 1 0 1-3 1-5 1-7 1-7 1-7 1-7 1-6 1-6 1-3 1-3 1-2 1-1 1 0 1 0 1 1 1 0 1 1 1-1 1 0 1 0 1-1 1-1 1 0 1-1 1-1 1 0 1 0 1-1h18l1 1 1 0 1 1 1 2 1 2 1 3 1 5 1 5 1 6 1 6 1 5 1 3 1 2 1-1 1-2 1-3 1-4 1-4 1-5 1-4 1-4 1-4 1-2 1-3 1-1 1-2 1 0 1-1 1 0 1-1h15" stroke="#7E2F8E" vector-effect="non-scaling-stroke"/>
<path d="M0 0h10l1 1 1 1 1 1 1 1 1 3 1 4 1 6 1 7 1 9 1 11 1 12 1 12 1 12 1 11 1 7 1 5 1 0 1-2 1-4 1-6 1-8 1-9 1-9 1-10 1-9 1-8 1-8 1-6 1-6 1-5 1-3 1-3 1-2 1-2 1-1 1-1 1 0 1 0 1-1h14l1 1 1 1 1 1 1 3 1 4 1 6 1 9 1 13 1 17 1 21 1 24 1 28 1 27 1 26 1 22 1 15 1 6 1-2 1-7 1-12 1-15 1-19 1-20 1-21 1-21 1-20 1-17 1-16 1-13 1-10 1-9 1-6 1-5 1-4 1-2 1-2 1-1 1-1 1 0 1-1h4l1 1 1 1 1 1 1 3 1 3 1 5 1 6 1 7 1 7 1 5 1 3 1 1 1-2 1-3 1-4 1-5 1-5 1-5 1-4 1-4 1-3 1-2 1-2 1 0 1 0 1 0 1 1 1 1 1 1 1 0 1 0 1-1 1 0 1-1 1-1 1-1 1-1 1-1 1 0 1 0 1-1h18l1 1 1 0 1 1 1 2 1 2 1 4 1 5 1 6 1 6 1 7 1 6 1 4 1 2 1-1 1-2 1-3 1-4 1-5 1-5 1-5 1-5 1-4 1-3 1-3 1-2 1-1 1-1 1-1 1 0 1-1h14" stroke="#77AC30" vector-effect="non-scaling-stroke"/>
<path d="M0 0h24l1 1 1 0 1 2 1 1 1 2 1 4 1 4 1 6 1 6 1 8 1 8 1 8 1 8 1 5 1 4 1 1 1-1 1-2 1-4 1-5 1-5 1-6 1-7 1-6 1-5 1-6 1-4 1-4 1-3 1-3 1-2 1-1 1-2 1 0 1-1 1 0 1-1h20l1 1 1 0 1 1 1 2 1 2 1 4 1 5 1 6 1 7 1 9 1 9 1 10 1 8 1 7 1 4 1 1 1-2 1-3 1-4 1-6 1-6 1-7 1-7 1-7 1-7 1-5 1-5 1-4 1-4 1-2 1-2 1-2 1-1 1-1 1 0 1 0 1-1h6l1 1 1 0 1 0 1 1 1 1 1 1 1 0 1 1 1 1 1 0 1 1 1-1 1 0 1-1 1 0 1-1 1-1 1-1 1 0 1-1 1 0 1-1h37l1 1 1 0 1 1 1 1 1 1 1 1 1 1 1 0 1 1 1 0 1 0 1-1 1 0 1-1 1-1 1-1 1 0 1-1 1 0 1-1 1 0 1 0 1-1h4" stroke="#4DBEEE" vector-effect="non-scaling-stroke"/>
<path d="M0 0h8l1 1 1 0 1 1 1 2 1 2 1 4 1 6 1 7 1 9 1 11 1 14 1 14 1 14 1 13 1 11 1 8 1 3 1-1 1-4 1-6 1-8 1-9 1-11 1-11 1-11 1-10 1-9 1-9 1-7 1-6 1-4 1-4 1-3 1-2 1-2 1-1 1-1 1 0 1 0 1-1h13l1 1 1 0 1 1 1 2 1 4 1 5 1 9 1 12 1 17 1 22 1 27 1 32 1 35 1 36 1 32 1 27 1 18 1 7 1-3 1-9 1-16 1-21 1-24 1-26 1-27 1-27 1-24 1-23 1-19 1-16 1-14 1-10 1-8 1-7 1-4 1-3 1-2 1-2 1-1 1 0 1 0 1-1h1l1 1 1 0 1 2 1 3 1 4 1 8 1 11 1 14 1 17 1 19 1 17 1 13 1 7 1-1 1-5 1-9 1-12 1-13 1-14 1-13 1-12 1-10 1-8 1-6 1-3 1-2 1-1 1 1 1 1 1 1 1 1 1 0 1-1 1-1 1-1 1-1 1-2 1-1 1-1 1-1 1-1 1 0 1-1h17l1 1 1 0 1 1 1 2 1 3 1 4 1 5 1 7 1 7 1 7 1 6 1 5 1 2 1-1 1-2 1-3 1-5 1-5 1-6 1-5 1-5 1-5 1-3 1-3 1-2 1-2 1-1 1-1 1 0 1-1h16" stroke="#A2142F" vector-effect="non-scaling-stroke"/>
<path d="M0 0h22l1 1 1 0 1 1 1 1 1 2 1 3 1 5 1 6 1 7 1 10 1 11 1 11 1 12 1 11 1 9 1 6 1 2 1 0 1-3 1-5 1-7 1-8 1-8 1-9 1-9 1-9 1-7 1-7 1-6 1-5 1-4 1-3 1-2 1-2 1-1 1-1 1-1 1 0 1-1h19l1 1 1 0 1 2 1 2 1 3 1 6 1 8 1 11 1 15 1 18 1 22 1 24 1 25 1 24 1 20 1 13 1 7 1-1 1-6 1-11 1-13 1-17 1-18 1-19 1-19 1-17 1-16 1-14 1-12 1-10 1-7 1-6 1-5 1-3 1-2 1-2 1-1 1-1 1 0 1-1h2l1 1 1 0 1 1 1 1 1 3 1 3 1 4 1 5 1 4 1 4 1 3 1 0 1-1 1-2 1-3 1-4 1-3 1-4 1-3 1-3 1-2 1-1 1-1 1-1 1 0 1-1h31l1 1 1 0 1 1 1 1 1 2 1 2 1 2 1 3 1 2 1 2 1 1 1 0 1 0 1-1 1-2 1-2 1-2 1-1 1-2 1-2 1-1 1-1 1-1 1-1 1 0 1 0 1-1h4" stroke="#0072BD" vector-effect="non-scaling-stroke"/>
<path d="M0 0h8l1 1 1 0 1 2 1 1 1 3 1 3 1 5 1 7 1 8 1 10 1 11 1 11 1 10 1 9 1 7 1 3 1 0 1-2 1-4 1-6 1-7 1-8 1-8 1-8 1-8 1-7 1-7 1-6 1-5 1-4 1-3 1-2 1-2 1-1 1-1 1-1 1 0 1-1h16l1 1 1 0 1 1 1 2 1 3 1 5 1 6 1 10 1 12 1 15 1 18 1 20 1 20 1 19 1 15 1 11 1 4 1-1 1-5 1-8 1-12 1-13 1-15 1-15 1-15 1-15 1-12 1-12 1-9 1-8 1-6 1-5 1-3 1-3 1-1 1-2 1-1 1 0 1 0 1-1h4l1 1 1 1 1 1 1 3 1 4 1 4 1 6 1 6 1 6 1 5 1 2 1 0 1-2 1-3 1-4 1-4 1-5 1-5 1-4 1-3 1-3 1-1 1-2 1 0 1 0 1 1 1 1 1 0 1 1 1 0 1 0 1-1 1-1 1 0 1-1 1-1 1-1 1 0 1 0 1-1h20l1 1 1 1 1 1 1 2 1 3 1 4 1 5 1 6 1 5 1 5 1 3 1 2 1-1 1-1 1-3 1-4 1-4 1-4 1-4 1-4 1-3 1-3 1-2 1-1 1-2 1-1 1 0 1 0 1-1h15" stroke="#D95319" vector-effect="non-scaling-stroke"/>
<path d="M0 0h24l1 1 1 0 1 1 1 1 1 2 1 2 1 4 1 5 1 6 1 7 1 8 1 9 1 8 1 7 1 6 1 3 1 1 1-2 1-3 1-4 1-5 1-6 1-6 1-6 1-7 1-6 1-5 1-4 1-4 1-4 1-2 1-2 1-2 1-1 1 0 1-1 1 0 1-1h17l1 1 1 0 1 1 1 2 1 3 1 4 1 6 1 8 1 11 1 13 1 15 1 17 1 17 1 16 1 12 1 8 1 3 1-2 1-5 1-7 1-10 1-12 1-13 1-13 1-12 1-12 1-10 1-9 1-8 1-6 1-5 1-4 1-3 1-2 1-1 1-1 1-1 1 0 1-1h5l1 1 1 0 1 1 1 1 1 1 1 1 1 1 1 2 1 1 1 1 1 1 1 1 1 0 1 0 1-1 1-1 1-2 1-1 1-2 1-1 1-1 1-1 1-1 1 0 1-1h34l1 1 1 0 1 1 1 1 1 2 1 2 1 2 1 1 1 2 1 1 1 0 1-1 1 0 1-1 1-2 1-1 1-1 1-2 1-1 1-1 1-1 1-1 1 0 1 0 1-1h3" stroke="#EDB120" vector-effect="non-scaling-stroke"/>
<path d="M0 0h10l1 1 1 1 1 1 1 2 1 2 1 4 1 6 1 7 1 9 1 11 1 12 1 12 1 12 1 10 1 8 1 4 1 0 1-3 1-4 1-6 1-8 1-9 1-9 1-9 1-9 1-8 1-8 1-6 1-6 1-4 1-4 1-2 1-2 1-2 1-1 1-1 1 0 1 0 1-1h14l1 1 1 0 1 1 1 2 1 3 1 5 1 7 1 11 1 15 1 19 1 24 1 27 1 30 1 30 1 28 1 23 1 15 1 5 1-3 1-9 1-14 1-17 1-21 1-23 1-23 1-22 1-22 1-18 1-17 1-14 1-11 1-9 1-7 1-5 1-3 1-3 1-2 1-1 1-1 1 0 1-1h5l1 1 1 0 1 1 1 1 1 2 1 1 1 2 1 2 1 2 1 0 1 0 1 0 1-1 1-2 1-1 1-1 1-2 1-1 1-1 1-1 1 0 1 0 1 0 1 1 1 1 1 1 1 0 1 1 1-1 1 0 1-1 1 0 1-1 1-1 1 0 1-1 1 0 1-1h20l1 1 1 0 1 1 1 2 1 2 1 3 1 5 1 5 1 5 1 5 1 4 1 2 1 1 1-1 1-2 1-3 1-4 1-4 1-4 1-4 1-3 1-3 1-2 1-2 1-1 1-1 1-1 1 0 1-1h14" stroke="#7E2F8E" vector-effect="non-scaling-stroke"/>
<path d="M0 0h9l1 1 1 1 1 1 1 2 1 3 1 5 1 6 1 9 1 11 1 14 1 16 1 17 1 17 1 16 1 12 1 8 1 3 1-1 1-5 1-7 1-10 1-11 1-13 1-13 1-12 1-13 1-11 1-9 1-9 1-7 1-5 1-5 1-3 1-3 1-1 1-2 1 0 1-1 1 0 1-1h14l1 1 1 1 1 2 1 2 1 5 1 7 1 11 1 15 1 20 1 25 1 31 1 34 1 36 1 34 1 30 1 22 1 11 1 1 1-7 1-14 1-19 1-23 1-26 1-27 1-27 1-25 1-24 1-20 1-18 1-15 1-11 1-9 1-7 1-5 1-4 1-2 1-2 1-1 1-1 1 0 1-1h2l1 1 1 0 1 2 1 2 1 4 1 6 1 8 1 9 1 11 1 10 1 9 1 4 1 1 1-2 1-5 1-6 1-8 1-8 1-8 1-7 1-6 1-5 1-3 1-3 1-1 1 0 1 1 1 2 1 1 1 2 1 0 1 0 1-1 1-1 1-1 1-2 1-1 1-2 1-1 1 0 1-1 1 0 1-1h17l1 1 1 1 1 2 1 2 1 4 1 5 1 6 1 7 1 8 1 7 1 5 1 3 1 0 1-1 1-3 1-5 1-5 1-6 1-6 1-5 1-5 1-4 1-3 1-2 1-2 1-2 1-1 1 0 1 0 1-1h14" stroke="#77AC30" vector-effect="non-scaling-stroke"/>
<path d="M0 0h10l1 1 1 1 1 1 1 2 1 2 1 4 1 6 1 7 1 9 1 11 1 12 1 12 1 12 1 10 1 8 1 4 1 0 1-2 1-5 1-6 1-8 1-8 1-9 1-10 1-9 1-8 1-8 1-6 1-6 1-4 1-4 1-2 1-2 1-2 1-1 1-1 1 0 1 0 1-1h14l1 1 1 0 1 2 1 2 1 3 1 5 1 9 1 11 1 16 1 21 1 25 1 28 1 31 1 30 1 28 1 21 1 13 1 3 1-4 1-10 1-15 1-19 1-22 1-23 1-23 1-23 1-21 1-18 1-17 1-13 1-11 1-8 1-7 1-5 1-3 1-2 1-2 1-1 1-1 1 0 1-1h3l1 1 1 0 1 1 1 2 1 3 1 3 1 5 1 4 1 5 1 4 1 2 1 0 1-1 1-2 1-3 1-3 1-4 1-3 1-4 1-2 1-3 1-1 1-1 1-1 1 0 1 1 1 1 1 1 1 0 1 1 1 0 1-1 1 0 1-1 1-1 1-1 1 0 1-1 1 0 1 0 1-1h19l1 1 1 0 1 2 1 1 1 3 1 3 1 5 1 4 1 5 1 5 1 3 1 2 1 0 1-2 1-2 1-3 1-4 1-3 1-4 1-3 1-4 1-2 1-2 1-2 1-1 1-1 1 0 1 0 1-1h14" stroke="#4DBEEE" vector-effect="non-scaling-stroke"/>
<path d="M0 0h11l1 1 1 0 1 1 1 1 1 2 1 3 1 3 1 6 1 6 1 8 1 9 1 9 1 9 1 8 1 6 1 4 1 1 1-1 1-3 1-4 1-6 1-6 1-7 1-7 1-7 1-6 1-6 1-5 1-5 1-3 1-3 1-2 1-2 1-1 1-1 1-1 1 0 1-1h16l1 1 1 0 1 1 1 2 1 4 1 4 1 7 1 10 1 13 1 16 1 18 1 21 1 21 1 19 1 16 1 11 1 5 1-2 1-5 1-9 1-12 1-14 1-15 1-16 1-16 1-15 1-13 1-11 1-10 1-8 1-6 1-5 1-4 1-3 1-1 1-2 1-1 1 0 1 0 1-1h6l1 1 1 0 1 1 1 1 1 1 1 1 1 2 1 0 1 1 1 0 1-1 1 0 1-1 1-1 1-1 1-1 1-1 1 0 1-1 1 0 1 0 1 0 1 1 1 0 1 1 1 0 1 1 1 0 1-1 1 0 1 0 1-1 1 0 1-1 1 0 1 0 1-1h21l1 1 1 0 1 2 1 1 1 3 1 2 1 4 1 4 1 4 1 3 1 2 1 0 1 0 1-2 1-2 1-2 1-3 1-3 1-3 1-2 1-3 1-1 1-2 1-1 1-1 1 0 1 0 1-1h13" stroke="#A2142F" vector-effect="non-scaling-stroke"/>
<path d="M0 0h9l1 1 1 1 1 1 1 2 1 2 1 4 1 6 1 6 1 9 1 10 1 11 1 11 1 10 1 9 1 6 1 3 1-1 1-2 1-5 1-5 1-8 1-7 1-9 1-8 1-8 1-7 1-7 1-6 1-4 1-4 1-3 1-2 1-2 1-1 1-1 1-1 1 0 1-1h15l1 1 1 1 1 1 1 3 1 4 1 6 1 9 1 13 1 18 1 22 1 26 1 29 1 31 1 29 1 26 1 18 1 9 1 0 1-6 1-12 1-16 1-20 1-22 1-23 1-23 1-22 1-20 1-18 1-15 1-12 1-10 1-8 1-6 1-4 1-3 1-2 1-2 1-1 1 0 1 0 1-1h4l1 1 1 0 1 1 1 2 1 2 1 2 1 3 1 3 1 1 1 2 1 0 1-1 1-1 1-2 1-2 1-2 1-2 1-2 1-1 1-1 1-1 1 0 1-1 1 1 1 0 1 1 1 1 1 0 1 0 1 0 1 0 1 0 1-1 1-1 1 0 1-1 1 0 1 0 1-1h21l1 1 1 1 1 1 1 2 1 3 1 3 1 4 1 5 1 5 1 3 1 3 1 1 1-1 1-1 1-3 1-3 1-3 1-4 1-3 1-3 1-3 1-2 1-2 1-1 1-1 1-1 1 0 1-1h15" stroke="#0072BD" vector-effect="non-scaling-stroke"/>
<path d="M0 0h11l1 1 1 0 1 1 1 2 1 2 1 3 1 5 1 6 1 8 1 10 1 11 1 11 1 11 1 10 1 8 1 5 1 1 1-1 1-4 1-5 1-7 1-8 1-8 1-9 1-8 1-8 1-7 1-7 1-5 1-5 1-3 1-3 1-2 1-2 1-1 1-1 1 0 1 0 1-1h15l1 1 1 1 1 1 1 2 1 4 1 6 1 8 1 12 1 14 1 18 1 21 1 23 1 23 1 20 1 17 1 10 1 4 1-3 1-7 1-10 1-14 1-16 1-17 1-17 1-17 1-16 1-14 1-12 1-10 1-9 1-6 1-5 1-4 1-3 1-1 1-2 1-1 1 0 1 0 1-1h5l1 1 1 1 1 1 1 1 1 2 1 2 1 2 1 2 1 1 1 0 1 0 1-1 1-1 1-2 1-1 1-2 1-1 1-1 1-1 1-1 1-1 1 0 1 0 1 1 1 0 1 1 1 1 1 0 1 0 1 0 1-1 1 0 1-1 1 0 1-1 1 0 1 0 1-1h21l1 1 1 1 1 1 1 2 1 3 1 4 1 4 1 5 1 5 1 4 1 3 1 1 1-1 1-2 1-2 1-3 1-4 1-4 1-3 1-4 1-3 1-2 1-2 1-1 1-1 1-1 1 0 1-1h13" stroke="#D95319" vector-effect="non-scaling-stroke"/>
<path d="M0 0h10l1 1 1 1 1 1 1 1 1 3 1 4 1 4 1 7 1 7 1 9 1 9 1 10 1 8 1 7 1 5 1 1 1 0 1-3 1-4 1-5 1-7 1-7 1-7 1-7 1-6 1-6 1-6 1-4 1-4 1-3 1-3 1-2 1-1 1-1 1-1 1 0 1 0 1-1h15l1 1 1 0 1 2 1 2 1 3 1 6 1 8 1 11 1 16 1 21 1 25 1 28 1 30 1 30 1 26 1 21 1 12 1 2 1-4 1-10 1-15 1-19 1-21 1-23 1-23 1-22 1-21 1-18 1-15 1-13 1-11 1-8 1-6 1-5 1-3 1-3 1-1 1-1 1-1 1 0 1-1h6l1 1 1 0 1 1 1 1 1 2 1 1 1 1 1 1 1 1 1 0 1 0 1-1 1-1 1-1 1-1 1-1 1-1 1-1 1 0 1-1 1 0 1 1 1 0 1 1 1 0 1 1 1 0 1 0 1 0 1-1 1 0 1-1 1 0 1-1 1 0 1 0 1-1h20l1 1 1 1 1 1 1 2 1 3 1 3 1 5 1 5 1 5 1 5 1 3 1 1 1 0 1-1 1-3 1-3 1-4 1-4 1-4 1-3 1-3 1-3 1-2 1-2 1-1 1-1 1 0 1 0 1-1h14" stroke="#EDB120" vector-effect="non-scaling-stroke"/>
<path d="M0 0h9l1 1 1 0 1 1 1 2 1 2 1 3 1 5 1 7 1 9 1 11 1 12 1 14 1 14 1 13 1 11 1 7 1 4 1-1 1-3 1-6 1-7 1-9 1-10 1-11 1-10 1-10 1-10 1-8 1-7 1-6 1-4 1-4 1-3 1-2 1-2 1-1 1-1 1 0 1 0 1-1h14l1 1 1 1 1 1 1 3 1 4 1 6 1 10 1 13 1 19 1 24 1 29 1 32 1 35 1 34 1 31 1 23 1 13 1 2 1-5 1-12 1-18 1-22 1-24 1-27 1-26 1-25 1-24 1-20 1-18 1-15 1-12 1-9 1-8 1-5 1-3 1-3 1-2 1-1 1-1 1 0 1-1h4l1 1 1 0 1 2 1 1 1 3 1 3 1 3 1 4 1 3 1 2 1 0 1 0 1-2 1-2 1-2 1-3 1-2 1-3 1-2 1-2 1-1 1 0 1 0 1 1 1 1 1 1 1 2 1 1 1 0 1 0 1-1 1-1 1-1 1-1 1-1 1-1 1-1 1-1 1 0 1-1h19l1 1 1 0 1 1 1 2 1 2 1 3 1 4 1 4 1 4 1 3 1 3 1 1 1-1 1-1 1-2 1-3 1-3 1-3 1-3 1-2 1-3 1-2 1-1 1-1 1-1 1-1 1 0 1-1h15" stroke="#7E2F8E" vector-effect="non-scaling-stroke"/>
<path d="M0 0h11l1 1 1 0 1 1 1 1 1 3 1 3 1 5 1 7 1 9 1 11 1 13 1 14 1 15 1 14 1 12 1 8 1 5 1 0 1-3 1-6 1-7 1-10 1-10 1-11 1-11 1-11 1-10 1-9 1-7 1-7 1-5 1-4 1-3 1-3 1-1 1-2 1 0 1-1 1 0 1-1h14l1 1 1 0 1 1 1 2 1 3 1 5 1 8 1 11 1 16 1 20 1 25 1 30 1 33 1 33 1 30 1 26 1 17 1 6 1-2 1-9 1-14 1-19 1-23 1-24 1-25 1-25 1-23 1-21 1-18 1-16 1-12 1-10 1-8 1-5 1-4 1-3 1-2 1-2 1-1 1 0 1-1h3l1 1 1 0 1 1 1 3 1 3 1 5 1 6 1 8 1 9 1 8 1 6 1 4 1 0 1-2 1-4 1-6 1-6 1-6 1-7 1-5 1-5 1-4 1-3 1-1 1-1 1 0 1 1 1 1 1 1 1 0 1 1 1 0 1-1 1-1 1-1 1-1 1-1 1-1 1 0 1-1 1 0 1-1h18l1 1 1 0 1 1 1 1 1 2 1 3 1 3 1 5 1 4 1 4 1 4 1 2 1 1 1-1 1-2 1-2 1-3 1-4 1-3 1-3 1-3 1-3 1-2 1-1 1-2 1 0 1-1 1 0 1-1h12" stroke="#77AC30" vector-effect="non-scaling-stroke"/>
<path d="M0 0h23l1 1 1 0 1 1 1 1 1 2 1 3 1 4 1 5 1 6 1 8 1 7 1 8 1 7 1 7 1 4 1 2 1-1 1-2 1-3 1-4 1-5 1-6 1-6 1-6 1-6 1-5 1-4 1-4 1-4 1-2 1-3 1-1 1-1 1-1 1-1 1 0 1-1h21l1 1 1 0 1 1 1 2 1 2 1 4 1 6 1 7 1 10 1 12 1 13 1 15 1 14 1 13 1 10 1 6 1 1 1-2 1-5 1-7 1-9 1-10 1-11 1-11 1-10 1-10 1-9 1-7 1-7 1-5 1-4 1-3 1-2 1-2 1-1 1-1 1 0 1 0 1-1h5l1 1 1 0 1 1 1 0 1 2 1 1 1 1 1 2 1 1 1 0 1 0 1-1 1-1 1-1 1-1 1-1 1-1 1-1 1-1 1 0 1 0 1-1h35l1 1 1 0 1 1 1 1 1 1 1 1 1 2 1 1 1 1 1 0 1 1 1-1 1 0 1-1 1-1 1-1 1-1 1-1 1-1 1-1 1 0 1-1 1 0 1-1h4" stroke="#4DBEEE" vector-effect="non-scaling-stroke"/>
<path d="M0 0h9l1 1 1 0 1 1 1 1 1 2 1 4 1 4 1 7 1 8 1 11 1 12 1 14 1 13 1 14 1 11 1 8 1 4 1 0 1-2 1-6 1-7 1-9 1-10 1-10 1-11 1-10 1-9 1-8 1-8 1-6 1-5 1-4 1-3 1-2 1-2 1-1 1 0 1-1 1 0 1-1h14l1 1 1 1 1 1 1 2 1 4 1 6 1 10 1 13 1 19 1 24 1 29 1 33 1 35 1 36 1 32 1 24 1 16 1 3 1-5 1-11 1-18 1-21 1-26 1-26 1-28 1-26 1-24 1-22 1-18 1-16 1-13 1-10 1-7 1-6 1-4 1-3 1-2 1-1 1-1 1 0 1-1h2l1 1 1 0 1 1 1 2 1 3 1 5 1 5 1 7 1 8 1 7 1 5 1 2 1 0 1-2 1-3 1-5 1-6 1-5 1-5 1-5 1-4 1-3 1-3 1-1 1-1 1 0 1 1 1 1 1 1 1 1 1 1 1 0 1 0 1-1 1-1 1-1 1-1 1-1 1-1 1-1 1 0 1 0 1-1h18l1 1 1 1 1 1 1 2 1 3 1 5 1 5 1 6 1 6 1 5 1 4 1 3 1-1 1-1 1-3 1-4 1-4 1-5 1-4 1-4 1-4 1-3 1-3 1-2 1-1 1-1 1-1 1 0 1-1h14" stroke="#A2142F" vector-effect="non-scaling-stroke"/>
<path d="M0 0h10l1 1 1 1 1 1 1 3 1 4 1 6 1 10 1 13 1 17 1 21 1 22 1 23 1 21 1 16 1 9 1 1 1-5 1-9 1-13 1-15 1-18 1-17 1-17 1-16 1-13 1-12 1-9 1-8 1-5 1-4 1-3 1-2 1-1 1-1 1 0 1-1h36l1 1 1 1 1 2 1 4 1 6 1 10 1 15 1 21 1 28 1 32 1 37 1 36 1 33 1 23 1 11 1-1 1-9 1-17 1-22 1-25 1-26 1-24 1-20 1-13 1-4 1 3 1 8 1 11 1 7 1 0 1-6 1-11 1-14 1-16 1-17 1-16 1-14 1-11 1-8 1-6 1-4 1-2 1-1 1-1 1-1h83" stroke="#0072BD" vector-effect="non-scaling-stroke"/>
<path d="M0 0h26l1 1 1 1 1 1 1 3 1 4 1 7 1 11 1 13 1 17 1 19 1 19 1 17 1 12 1 6 1-1 1-6 1-9 1-12 1-14 1-14 1-14 1-14 1-11 1-10 1-7 1-6 1-5 1-3 1-2 1-1 1-1 1 0 1-1h126l1 1 1 1 1 1 1 2 1 2 1 3 1 3 1 2 1 1 1 0 1-1 1-2 1-2 1-2 1-2 1-2 1-2 1-1 1-1 1 0 1-1h4" stroke="#0072BD" vector-effect="non-scaling-stroke"/>
<path d="M0 0h13l1 1 1 1 1 1 1 3 1 4 1 6 1 9 1 12 1 15 1 17 1 18 1 17 1 14 1 10 1 3 1-2 1-5 1-9 1-11 1-13 1-14 1-13 1-13 1-11 1-10 1-8 1-6 1-5 1-4 1-2 1-2 1-1 1-1 1 0 1-1h18l1 1 1 0 1 2 1 2 1 4 1 6 1 10 1 15 1 19 1 25 1 28 1 31 1 31 1 26 1 19 1 9 1-2 1-8 1-14 1-19 1-21 1-24 1-23 1-23 1-20 1-18 1-14 1-12 1-9 1-7 1-5 1-3 1-2 1-2 1-1 1 0 1-1h2l1 1 1 1 1 2 1 3 1 7 1 11 1 16 1 21 1 26 1 28 1 25 1 18 1 8 1-3 1-9 1-15 1-19 1-21 1-20 1-19 1-17 1-13 1-10 1-8 1-5 1-3 1-2 1-2 1 0 1-1h75" stroke="#A2142F" vector-effect="non-scaling-stroke"/>
</g></g>
<rect x="59.1" y="589.9" width="262.2" height="79.8" fill="none" stroke="#6e6e6e"/>
<text x="81.4" y="683.5" font-size="12.8" text-anchor="middle">45.4</text>
<text x="125.1" y="683.5" font-size="12.8" text-anchor="middle">45.6</text>
<text x="168.7" y="683.5" font-size="12.8" text-anchor="middle">45.8</text>
<text x="212.5" y="683.5" font-size="12.8" text-anchor="middle">46</text>
<text x="256.1" y="683.5" font-size="12.8" text-anchor="middle">46.2</text>
<text x="299.8" y="683.5" font-size="12.8" text-anchor="middle">46.4</text>
<text x="51.1" y="673.1" font-size="12.2" text-anchor="middle">0</text>
<text x="51.1" y="650.3" font-size="12.2" text-anchor="middle">2</text>
<text x="51.1" y="627.5" font-size="12.2" text-anchor="middle">4</text>
<text x="51.1" y="604.7" font-size="12.2" text-anchor="middle">6</text>
<path d="M81 669.7v-3M81 589.9v3M124.7 669.7v-3M124.7 589.9v3M168.3 669.7v-3M168.3 589.9v3M212.1 669.7v-3M212.1 589.9v3M255.7 669.7v-3M255.7 589.9v3M299.4 669.7v-3M299.4 589.9v3M59.1 669.7h3M321.3 669.7h-3M59.1 646.9h3M321.3 646.9h-3M59.1 624.1h3M321.3 624.1h-3M59.1 601.3h3M321.3 601.3h-3" stroke="#6e6e6e" stroke-width=".9"/>
<clipPath id="cd2"><rect x="399" y="590.4" width="262" height="79.3"/></clipPath>
<g clip-path="url(#cd2)"><g transform="translate(399 669.50) scale(1.2476 -.2)" fill="none" stroke-width="0.7" stroke-linejoin="round">
<path d="M0 0h16l1 1 1 1 1 1 1 3 1 4 1 6 1 8 1 11 1 12 1 12 1 13 1 10 1 6 1 2 1-2 1-4 1-7 1-8 1-9 1-10 1-9 1-9 1-8 1-6 1-5 1-4 1-3 1-2 1-2 1 0 1-1 1 0 1-1h23l1 1 1 1 1 1 1 3 1 5 1 8 1 10 1 13 1 17 1 17 1 18 1 14 1 10 1 3 1-2 1-7 1-9 1-12 1-13 1-13 1-13 1-12 1-10 1-8 1-7 1-5 1-3 1-3 1-1 1-1 1-1 1-1h7l1 1 1 0 1 1 1 2 1 1 1 2 1 2 1 1 1 0 1 0 1-1 1 0 1-2 1-1 1-1 1-1 1-1 1-1 1 0 1 0 1 1 1 1 1 1 1 0 1 1 1 0 1-1 1 0 1-1 1-1 1 0 1-1 1-1 1 0 1 0 1-1h24l1 1 1 0 1 2 1 1 1 3 1 3 1 4 1 4 1 4 1 4 1 3 1 1 1 0 1-2 1-2 1-3 1-3 1-3 1-4 1-3 1-2 1-2 1-2 1-1 1-1 1-1 1 0 1-1h11" stroke="#0072BD" vector-effect="non-scaling-stroke"/>
<path d="M0 0h16l1 1 1 0 1 2 1 2 1 3 1 5 1 6 1 8 1 9 1 9 1 9 1 7 1 4 1 1 1-2 1-3 1-5 1-7 1-6 1-8 1-6 1-7 1-5 1-4 1-4 1-3 1-2 1-1 1-1 1-1 1 0 1-1h24l1 1 1 1 1 1 1 3 1 5 1 6 1 10 1 12 1 14 1 15 1 15 1 12 1 8 1 1 1-2 1-6 1-8 1-11 1-11 1-12 1-11 1-10 1-8 1-7 1-6 1-4 1-3 1-2 1-1 1-1 1 0 1-1h4l1 1 1 0 1 1 1 2 1 3 1 4 1 6 1 5 1 5 1 4 1 2 1 0 1-1 1-3 1-4 1-4 1-4 1-4 1-3 1-3 1-2 1-2 1 0 1 0 1 0 1 0 1 1 1 0 1 0 1 0 1 0 1-1 1 0 1-1 1 0 1-1 1 0 1-1h24l1 1 1 0 1 1 1 1 1 3 1 3 1 4 1 5 1 5 1 6 1 5 1 3 1 1 1 0 1-2 1-3 1-3 1-4 1-5 1-4 1-4 1-3 1-3 1-2 1-2 1-1 1-1 1 0 1 0 1-1h10" stroke="#D95319" vector-effect="non-scaling-stroke"/>
<path d="M0 0h15l1 1 1 0 1 1 1 2 1 3 1 4 1 7 1 8 1 9 1 11 1 11 1 9 1 7 1 4 1 0 1-3 1-5 1-7 1-7 1-9 1-8 1-7 1-7 1-6 1-5 1-4 1-3 1-2 1-1 1-1 1-1 1 0 1-1h23l1 1 1 0 1 2 1 2 1 4 1 6 1 9 1 12 1 16 1 17 1 18 1 16 1 12 1 6 1 0 1-4 1-8 1-11 1-13 1-13 1-14 1-12 1-11 1-9 1-8 1-6 1-4 1-3 1-2 1-1 1-1 1 0 1-1h4l1 1 1 0 1 1 1 1 1 2 1 2 1 3 1 2 1 2 1 1 1 0 1-1 1-1 1-1 1-2 1-2 1-2 1-1 1-2 1-1 1 0 1 0 1 0 1 1 1 1 1 1 1 0 1 1 1 0 1-1 1 0 1-1 1-1 1-1 1 0 1-1 1 0 1-1h25l1 1 1 0 1 1 1 1 1 1 1 2 1 2 1 2 1 2 1 2 1 0 1 1 1-1 1-1 1-1 1-2 1-1 1-2 1-1 1-2 1-1 1-1 1 0 1-1 1 0 1-1h13" stroke="#EDB120" vector-effect="non-scaling-stroke"/>
<path d="M0 0h15l1 1 1 1 1 2 1 3 1 5 1 7 1 11 1 14 1 17 1 20 1 20 1 18 1 15 1 7 1 1 1-4 1-9 1-11 1-14 1-15 1-15 1-15 1-13 1-11 1-10 1-7 1-6 1-4 1-3 1-2 1-1 1-1 1 0 1-1h21l1 1 1 0 1 2 1 3 1 6 1 9 1 15 1 22 1 29 1 37 1 42 1 43 1 40 1 31 1 16 1 0 1-10 1-19 1-26 1-31 1-33 1-33 1-31 1-27 1-22 1-19 1-14 1-10 1-8 1-5 1-3 1-2 1-1 1-1 1 0 1-1 1 1 1 0 1 2 1 2 1 5 1 6 1 8 1 11 1 11 1 10 1 8 1 4 1-1 1-4 1-5 1-8 1-8 1-9 1-8 1-6 1-6 1-4 1-3 1-1 1 0 1 0 1 1 1 2 1 1 1 0 1 0 1 0 1-1 1-1 1-2 1-1 1-1 1-1 1-1 1 0 1 0 1-1h21l1 1 1 0 1 1 1 2 1 2 1 4 1 5 1 7 1 7 1 8 1 8 1 5 1 4 1 0 1-2 1-3 1-5 1-5 1-6 1-6 1-6 1-5 1-4 1-3 1-3 1-2 1-1 1-1 1-1 1 0 1-1h10" stroke="#7E2F8E" vector-effect="non-scaling-stroke"/>
<path d="M0 0h15l1 1 1 1 1 1 1 2 1 4 1 6 1 7 1 10 1 12 1 13 1 13 1 11 1 8 1 3 1-1 1-3 1-7 1-8 1-9 1-10 1-10 1-9 1-8 1-7 1-5 1-5 1-3 1-2 1-2 1-1 1-1 1 0 1-1h23l1 1 1 1 1 2 1 4 1 6 1 10 1 14 1 19 1 24 1 27 1 28 1 25 1 19 1 10 1-1 1-7 1-12 1-17 1-20 1-21 1-21 1-20 1-17 1-14 1-12 1-9 1-6 1-5 1-3 1-2 1-1 1-1 1 0 1-1h5l1 1 1 0 1 1 1 1 1 1 1 1 1 1 1 0 1 0 1 0 1 0 1-1 1-1 1 0 1-1 1-1 1 0 1-1 1 0 1 0 1 0 1 1 1 1 1 0 1 1 1 0 1 0 1 0 1-1 1 0 1-1 1 0 1-1 1 0 1 0 1-1h24l1 1 1 0 1 1 1 2 1 2 1 3 1 4 1 5 1 5 1 5 1 3 1 3 1 0 1-1 1-2 1-3 1-3 1-4 1-4 1-3 1-3 1-3 1-2 1-2 1-1 1-1 1-1 1 0 1-1h11" stroke="#77AC30" vector-effect="non-scaling-stroke"/>
<path d="M0 0h15l1 1 1 0 1 1 1 2 1 3 1 5 1 7 1 9 1 10 1 13 1 12 1 11 1 9 1 5 1 0 1-3 1-5 1-7 1-9 1-9 1-10 1-9 1-8 1-7 1-5 1-5 1-3 1-3 1-2 1-1 1-1 1 0 1-1h23l1 1 1 1 1 1 1 3 1 5 1 8 1 11 1 16 1 20 1 23 1 24 1 23 1 18 1 10 1 1 1-5 1-11 1-14 1-17 1-18 1-18 1-17 1-16 1-12 1-11 1-8 1-6 1-4 1-3 1-2 1-1 1-1 1 0 1-1h3l1 1 1 0 1 2 1 2 1 3 1 5 1 5 1 5 1 5 1 4 1 1 1 0 1-2 1-3 1-4 1-4 1-4 1-4 1-3 1-3 1-1 1-2 1 0 1 0 1 1 1 1 1 1 1 0 1 0 1 0 1 0 1-1 1-1 1-1 1-1 1 0 1-1 1 0 1-1h23l1 1 1 0 1 1 1 2 1 3 1 3 1 4 1 4 1 5 1 4 1 3 1 2 1 0 1-2 1-2 1-3 1-3 1-3 1-4 1-3 1-3 1-2 1-2 1-2 1-1 1-1 1 0 1-1h12" stroke="#4DBEEE" vector-effect="non-scaling-stroke"/>
<path d="M0 0h16l1 1 1 1 1 1 1 3 1 4 1 6 1 9 1 12 1 14 1 16 1 15 1 14 1 11 1 5 1-1 1-4 1-7 1-9 1-11 1-12 1-12 1-12 1-10 1-8 1-7 1-6 1-4 1-3 1-2 1-2 1-1 1 0 1-1h23l1 1 1 1 1 3 1 4 1 6 1 10 1 14 1 18 1 22 1 25 1 24 1 21 1 14 1 5 1-3 1-8 1-12 1-16 1-18 1-19 1-18 1-17 1-14 1-12 1-9 1-7 1-5 1-4 1-2 1-2 1-1 1 0 1-1h4l1 1 1 0 1 1 1 1 1 1 1 2 1 2 1 2 1 1 1 0 1 0 1 0 1-2 1-1 1-1 1-2 1-1 1-1 1-1 1 0 1 0 1 0 1 1 1 1 1 2 1 1 1 0 1 0 1 0 1-1 1 0 1-1 1-1 1-1 1-1 1-1 1 0 1-1h24l1 1 1 0 1 2 1 1 1 3 1 4 1 4 1 5 1 5 1 4 1 3 1 2 1-1 1-1 1-2 1-3 1-4 1-4 1-3 1-4 1-3 1-2 1-2 1-2 1-1 1-1 1 0 1 0 1-1h10" stroke="#A2142F" vector-effect="non-scaling-stroke"/>
<path d="M0 0h16l1 1 1 1 1 2 1 2 1 4 1 6 1 8 1 9 1 11 1 10 1 11 1 7 1 5 1 0 1-2 1-4 1-6 1-8 1-8 1-8 1-8 1-8 1-6 1-5 1-4 1-3 1-2 1-2 1-1 1-1 1 0 1-1h23l1 1 1 1 1 2 1 3 1 6 1 10 1 13 1 19 1 23 1 26 1 27 1 25 1 18 1 10 1-1 1-6 1-12 1-17 1-19 1-20 1-21 1-19 1-16 1-14 1-11 1-9 1-6 1-5 1-3 1-2 1-1 1-1 1 0 1-1h5l1 1 1 0 1 1 1 1 1 2 1 1 1 1 1 1 1 0 1 0 1-1 1-1 1-1 1-1 1 0 1-1 1-1 1-1 1 0 1 0 1 0 1 1 1 0 1 1 1 0 1 0 1 0 1 0 1-1 1 0 1 0 1-1 1 0 1 0 1-1h25l1 1 1 0 1 1 1 2 1 3 1 3 1 5 1 5 1 5 1 5 1 4 1 2 1 0 1-1 1-2 1-4 1-3 1-4 1-4 1-4 1-3 1-3 1-2 1-2 1-1 1-1 1-1 1 0 1-1h11" stroke="#0072BD" vector-effect="non-scaling-stroke"/>
<path d="M0 0h15l1 1 1 1 1 1 1 3 1 4 1 5 1 8 1 9 1 11 1 11 1 11 1 8 1 6 1 1 1-2 1-4 1-6 1-7 1-9 1-8 1-9 1-7 1-7 1-6 1-4 1-3 1-3 1-2 1-1 1-1 1 0 1-1h24l1 1 1 0 1 2 1 3 1 4 1 8 1 11 1 15 1 20 1 23 1 24 1 23 1 18 1 11 1 2 1-5 1-9 1-14 1-17 1-18 1-18 1-18 1-15 1-13 1-11 1-8 1-6 1-5 1-3 1-2 1-1 1-1 1 0 1-1h3l1 1 1 1 1 2 1 3 1 4 1 6 1 6 1 7 1 6 1 4 1 1 1-1 1-2 1-4 1-5 1-5 1-5 1-5 1-3 1-3 1-2 1-1 1 0 1 0 1 1 1 1 1 1 1 0 1 0 1-1 1-1 1-1 1-1 1-1 1-1 1-1 1 0 1 0 1-1h24l1 1 1 0 1 1 1 2 1 2 1 3 1 4 1 4 1 4 1 4 1 2 1 1 1 0 1-1 1-2 1-3 1-3 1-3 1-3 1-3 1-2 1-2 1-2 1-1 1-1 1-1 1 0 1-1h11" stroke="#D95319" vector-effect="non-scaling-stroke"/>
<path d="M0 0h16l1 1 1 0 1 2 1 2 1 4 1 5 1 8 1 10 1 12 1 14 1 14 1 13 1 10 1 5 1 0 1-3 1-6 1-9 1-10 1-10 1-11 1-10 1-9 1-8 1-7 1-5 1-4 1-2 1-2 1-2 1-1 1 0 1-1h22l1 1 1 1 1 3 1 4 1 8 1 12 1 20 1 27 1 35 1 43 1 46 1 46 1 39 1 26 1 9 1-6 1-16 1-24 1-31 1-34 1-36 1-34 1-32 1-27 1-22 1-17 1-13 1-10 1-7 1-4 1-3 1-2 1-1 1 0 1 0 1 0 1 0 1 2 1 3 1 4 1 7 1 10 1 11 1 13 1 13 1 9 1 5 1 0 1-4 1-6 1-9 1-9 1-10 1-9 1-8 1-7 1-5 1-4 1-2 1-1 1 0 1 1 1 1 1 1 1 1 1 0 1 0 1-1 1-1 1-1 1-1 1-1 1-1 1-1 1 0 1 0 1-1h22l1 1 1 0 1 1 1 2 1 2 1 3 1 5 1 5 1 6 1 5 1 5 1 3 1 2 1-1 1-2 1-3 1-4 1-4 1-5 1-4 1-4 1-3 1-3 1-2 1-2 1-1 1-1 1 0 1 0 1-1h10" stroke="#EDB120" vector-effect="non-scaling-stroke"/>
<path d="M0 0h15l1 1 1 0 1 2 1 2 1 3 1 5 1 7 1 10 1 11 1 13 1 13 1 11 1 8 1 5 1-1 1-3 1-6 1-7 1-9 1-10 1-10 1-9 1-8 1-7 1-6 1-4 1-4 1-2 1-2 1-1 1-1 1 0 1-1h22l1 1 1 0 1 2 1 2 1 5 1 7 1 11 1 16 1 21 1 25 1 29 1 28 1 24 1 17 1 7 1-2 1-9 1-15 1-18 1-21 1-22 1-21 1-19 1-17 1-14 1-11 1-8 1-6 1-5 1-2 1-2 1-1 1-1 1-1h4l1 1 1 1 1 1 1 2 1 3 1 4 1 5 1 4 1 3 1 2 1 0 1-1 1-2 1-3 1-3 1-4 1-3 1-2 1-2 1-2 1-1 1 0 1 0 1 1 1 1 1 1 1 1 1 0 1 0 1 0 1-1 1-1 1-1 1-1 1-1 1-1 1 0 1 0 1-1h22l1 1 1 0 1 1 1 2 1 2 1 3 1 5 1 5 1 6 1 5 1 5 1 4 1 1 1 0 1-2 1-3 1-4 1-4 1-5 1-4 1-4 1-4 1-2 1-3 1-1 1-2 1 0 1-1 1 0 1-1h11" stroke="#7E2F8E" vector-effect="non-scaling-stroke"/>
<path d="M0 0h16l1 1 1 1 1 1 1 3 1 4 1 5 1 8 1 9 1 10 1 12 1 10 1 8 1 5 1 2 1-2 1-4 1-7 1-7 1-8 1-9 1-8 1-7 1-7 1-5 1-4 1-4 1-2 1-2 1-1 1-1 1 0 1-1h23l1 1 1 0 1 2 1 3 1 5 1 8 1 12 1 17 1 22 1 26 1 28 1 28 1 24 1 15 1 5 1-4 1-10 1-15 1-19 1-21 1-22 1-21 1-19 1-16 1-14 1-10 1-8 1-6 1-4 1-3 1-2 1-1 1 0 1-1h3l1 1 1 1 1 1 1 3 1 4 1 5 1 6 1 7 1 5 1 5 1 1 1 0 1-2 1-4 1-4 1-5 1-5 1-5 1-4 1-3 1-2 1-1 1 0 1 0 1 0 1 1 1 1 1 1 1 0 1-1 1 0 1-1 1-1 1-1 1-1 1 0 1-1 1 0 1-1h23l1 1 1 0 1 1 1 1 1 3 1 3 1 4 1 4 1 5 1 5 1 4 1 2 1 1 1-1 1-2 1-3 1-3 1-4 1-4 1-3 1-3 1-3 1-2 1-2 1-1 1-1 1-1 1 0 1-1h11" stroke="#77AC30" vector-effect="non-scaling-stroke"/>
<path d="M0 0h16l1 1 1 0 1 1 1 2 1 3 1 4 1 6 1 8 1 9 1 10 1 10 1 9 1 6 1 3 1-1 1-3 1-4 1-7 1-7 1-7 1-8 1-7 1-7 1-5 1-4 1-4 1-2 1-2 1-2 1-1 1 0 1-1h24l1 1 1 1 1 2 1 3 1 6 1 9 1 13 1 17 1 22 1 24 1 26 1 23 1 17 1 9 1 0 1-7 1-11 1-16 1-18 1-19 1-19 1-18 1-16 1-13 1-10 1-8 1-6 1-4 1-3 1-2 1-1 1-1 1-1h5l1 1 1 0 1 1 1 2 1 2 1 2 1 2 1 1 1 2 1 0 1-1 1 0 1-2 1-1 1-2 1-1 1-2 1-1 1-1 1 0 1 0 1 0 1 1 1 1 1 0 1 1 1 0 1 0 1 0 1-1 1-1 1 0 1-1 1 0 1-1 1 0 1-1h24l1 1 1 0 1 1 1 1 1 3 1 2 1 4 1 4 1 4 1 4 1 3 1 1 1 0 1-1 1-2 1-2 1-3 1-3 1-3 1-3 1-3 1-2 1-2 1-1 1-1 1-1 1 0 1-1h11" stroke="#4DBEEE" vector-effect="non-scaling-stroke"/>
<path d="M0 0h14l1 1 1 0 1 1 1 3 1 3 1 6 1 9 1 12 1 16 1 18 1 20 1 20 1 16 1 12 1 5 1-2 1-6 1-10 1-12 1-15 1-15 1-15 1-14 1-12 1-11 1-8 1-7 1-5 1-3 1-3 1-1 1-1 1-1 1 0 1-1h22l1 1 1 1 1 3 1 4 1 8 1 11 1 18 1 24 1 30 1 36 1 38 1 35 1 28 1 16 1 2 1-7 1-15 1-22 1-26 1-28 1-28 1-27 1-24 1-20 1-17 1-12 1-10 1-7 1-4 1-3 1-2 1-1 1-1 1 0 1-1 1 1 1 0 1 2 1 2 1 5 1 8 1 12 1 16 1 20 1 22 1 20 1 15 1 8 1-1 1-7 1-11 1-15 1-16 1-16 1-15 1-13 1-11 1-8 1-6 1-3 1-2 1 0 1 0 1 1 1 1 1 0 1 0 1-1 1-1 1-1 1-1 1-1 1-1 1-1 1-1 1 0 1-1h22l1 1 1 1 1 1 1 2 1 4 1 4 1 6 1 7 1 7 1 7 1 5 1 3 1 1 1-1 1-3 1-4 1-5 1-6 1-5 1-5 1-5 1-4 1-3 1-2 1-2 1-2 1 0 1-1 1 0 1-1h10" stroke="#A2142F" vector-effect="non-scaling-stroke"/>
<path d="M0 0h16l1 1 1 1 1 1 1 3 1 3 1 6 1 8 1 11 1 12 1 14 1 14 1 12 1 8 1 4 1-1 1-4 1-6 1-9 1-10 1-10 1-10 1-10 1-9 1-7 1-6 1-5 1-4 1-2 1-2 1-1 1-1 1 0 1-1h22l1 1 1 0 1 2 1 3 1 5 1 9 1 14 1 20 1 27 1 35 1 39 1 40 1 37 1 28 1 15 1 0 1-10 1-18 1-24 1-29 1-31 1-30 1-28 1-25 1-22 1-16 1-13 1-10 1-7 1-4 1-3 1-2 1-2 1 0 1-1h1l1 1 1 0 1 1 1 3 1 3 1 7 1 9 1 11 1 14 1 14 1 11 1 8 1 2 1-2 1-6 1-8 1-10 1-10 1-11 1-9 1-8 1-6 1-4 1-2 1-1 1 0 1 0 1 1 1 1 1 0 1 0 1-1 1-1 1-1 1-1 1-1 1-1 1-1 1-1 1 0 1-1h23l1 1 1 0 1 2 1 2 1 3 1 4 1 5 1 6 1 6 1 6 1 5 1 3 1 0 1-1 1-2 1-4 1-4 1-5 1-5 1-5 1-4 1-3 1-3 1-2 1-2 1-1 1-1 1 0 1-1h10" stroke="#0072BD" vector-effect="non-scaling-stroke"/>
<path d="M0 0h14l1 1 1 0 1 2 1 2 1 4 1 6 1 8 1 12 1 15 1 17 1 18 1 18 1 14 1 9 1 2 1-2 1-6 1-10 1-12 1-13 1-14 1-13 1-13 1-11 1-9 1-7 1-5 1-5 1-2 1-3 1-1 1-1 1 0 1-1h22l1 1 1 1 1 2 1 3 1 7 1 11 1 16 1 24 1 32 1 40 1 44 1 44 1 40 1 28 1 13 1-2 1-13 1-22 1-28 1-33 1-34 1-33 1-31 1-27 1-22 1-18 1-14 1-10 1-7 1-4 1-3 1-2 1-2 1 0 1-1h1l1 1 1 0 1 1 1 2 1 4 1 6 1 7 1 10 1 11 1 11 1 8 1 5 1 0 1-2 1-6 1-7 1-8 1-8 1-8 1-7 1-5 1-5 1-2 1-2 1 0 1 0 1 1 1 2 1 0 1 0 1 0 1-1 1-1 1-1 1-2 1-1 1-1 1 0 1-1 1 0 1-1h23l1 1 1 1 1 1 1 2 1 3 1 5 1 5 1 6 1 6 1 6 1 4 1 3 1 0 1-2 1-2 1-4 1-5 1-4 1-5 1-5 1-4 1-3 1-2 1-2 1-2 1-1 1-1 1 0 1-1h11" stroke="#D95319" vector-effect="non-scaling-stroke"/>
<path d="M0 0h16l1 1 1 1 1 1 1 2 1 4 1 5 1 6 1 9 1 9 1 9 1 8 1 7 1 3 1 1 1-2 1-4 1-6 1-6 1-7 1-7 1-7 1-6 1-5 1-4 1-4 1-2 1-2 1-2 1 0 1-1 1 0 1-1h24l1 1 1 0 1 2 1 2 1 4 1 6 1 8 1 10 1 13 1 13 1 13 1 11 1 6 1 2 1-2 1-5 1-7 1-9 1-10 1-10 1-10 1-9 1-7 1-6 1-5 1-4 1-2 1-2 1-1 1-1 1 0 1-1h6l1 1 1 0 1 1 1 1 1 1 1 2 1 1 1 0 1 0 1 0 1 0 1-1 1-1 1-1 1-1 1-1 1 0 1-1 1 0 1 0 1 1 1 1 1 0 1 1 1 1 1 0 1 0 1 0 1-1 1 0 1-1 1-1 1 0 1-1 1 0 1-1h24l1 1 1 0 1 1 1 1 1 2 1 3 1 4 1 5 1 4 1 5 1 4 1 2 1 1 1-1 1-1 1-3 1-3 1-4 1-4 1-3 1-3 1-3 1-2 1-2 1-1 1-1 1-1 1 0 1-1h11" stroke="#EDB120" vector-effect="non-scaling-stroke"/>
<path d="M0 0h15l1 1 1 0 1 1 1 3 1 3 1 5 1 8 1 10 1 12 1 15 1 15 1 13 1 11 1 7 1 1 1-2 1-6 1-8 1-10 1-11 1-12 1-11 1-10 1-8 1-7 1-6 1-4 1-4 1-2 1-1 1-1 1-1 1 0 1-1h21l1 1 1 0 1 2 1 3 1 5 1 8 1 13 1 19 1 24 1 30 1 34 1 34 1 29 1 21 1 9 1-2 1-10 1-17 1-22 1-25 1-25 1-26 1-23 1-20 1-17 1-13 1-10 1-8 1-5 1-3 1-3 1-1 1-1 1 0 1-1h3l1 1 1 1 1 1 1 3 1 3 1 5 1 6 1 5 1 5 1 4 1 1 1-1 1-2 1-4 1-4 1-4 1-4 1-4 1-3 1-3 1-1 1-1 1 1 1 0 1 1 1 1 1 1 1 0 1 0 1-1 1-1 1-1 1-1 1-1 1-1 1-1 1 0 1-1h24l1 1 1 0 1 2 1 2 1 2 1 4 1 5 1 6 1 6 1 5 1 5 1 2 1 1 1-1 1-3 1-3 1-4 1-5 1-4 1-5 1-4 1-3 1-2 1-2 1-2 1-1 1-1 1 0 1-1h11" stroke="#7E2F8E" vector-effect="non-scaling-stroke"/>
<path d="M0 0h15l1 1 1 1 1 2 1 3 1 5 1 7 1 10 1 12 1 15 1 16 1 15 1 13 1 9 1 3 1-1 1-5 1-8 1-10 1-12 1-12 1-12 1-11 1-9 1-9 1-6 1-5 1-4 1-3 1-2 1-1 1-1 1 0 1-1h22l1 1 1 0 1 2 1 2 1 5 1 8 1 12 1 18 1 24 1 31 1 35 1 36 1 33 1 25 1 14 1 0 1-9 1-16 1-22 1-25 1-28 1-27 1-25 1-23 1-18 1-16 1-11 1-9 1-6 1-4 1-3 1-2 1-1 1 0 1-1h2l1 1 1 0 1 1 1 2 1 3 1 4 1 5 1 5 1 5 1 5 1 2 1 0 1-1 1-3 1-3 1-4 1-4 1-4 1-4 1-3 1-2 1-1 1-1 1 0 1 1 1 1 1 1 1 1 1 0 1 0 1 0 1-1 1-1 1-1 1-1 1-1 1 0 1-1 1 0 1-1h23l1 1 1 0 1 2 1 1 1 3 1 4 1 5 1 6 1 6 1 6 1 4 1 3 1 0 1-1 1-2 1-3 1-5 1-4 1-5 1-4 1-4 1-3 1-3 1-2 1-2 1-1 1-1 1 0 1-1h11" stroke="#77AC30" vector-effect="non-scaling-stroke"/>
<path d="M0 0h15l1 1 1 0 1 2 1 2 1 4 1 6 1 9 1 11 1 15 1 17 1 18 1 17 1 14 1 9 1 2 1-2 1-7 1-9 1-12 1-13 1-14 1-13 1-12 1-11 1-9 1-7 1-6 1-4 1-3 1-2 1-1 1-1 1 0 1-1h21l1 1 1 0 1 2 1 2 1 5 1 9 1 14 1 21 1 29 1 37 1 44 1 47 1 45 1 36 1 23 1 5 1-8 1-18 1-26 1-32 1-35 1-36 1-33 1-31 1-26 1-21 1-16 1-13 1-9 1-6 1-4 1-2 1-2 1-1 1 0 1-1h1l1 1 1 0 1 1 1 2 1 3 1 5 1 6 1 7 1 8 1 6 1 5 1 1 1-1 1-2 1-5 1-5 1-6 1-5 1-5 1-5 1-3 1-2 1-1 1-1 1 1 1 1 1 2 1 2 1 1 1 0 1 0 1-1 1-1 1-2 1-1 1-2 1-1 1-1 1-1 1 0 1-1h22l1 1 1 1 1 1 1 2 1 3 1 4 1 6 1 6 1 7 1 6 1 6 1 3 1 0 1-1 1-3 1-3 1-5 1-5 1-5 1-5 1-4 1-4 1-3 1-3 1-1 1-2 1-1 1 0 1 0 1-1h10" stroke="#4DBEEE" vector-effect="non-scaling-stroke"/>
<path d="M0 0h15l1 1 1 1 1 1 1 3 1 4 1 6 1 9 1 12 1 15 1 17 1 17 1 16 1 13 1 7 1 0 1-3 1-7 1-10 1-12 1-13 1-13 1-12 1-12 1-10 1-8 1-6 1-5 1-4 1-2 1-2 1-1 1-1 1 0 1-1h22l1 1 1 1 1 2 1 4 1 6 1 10 1 16 1 22 1 28 1 34 1 37 1 36 1 31 1 19 1 6 1-5 1-13 1-20 1-24 1-28 1-28 1-27 1-25 1-21 1-17 1-14 1-10 1-7 1-5 1-4 1-2 1-1 1-1 1 0 1-1h2l1 1 1 1 1 2 1 3 1 5 1 7 1 8 1 10 1 9 1 7 1 4 1 0 1-3 1-4 1-6 1-7 1-7 1-7 1-6 1-5 1-3 1-3 1-1 1 0 1 1 1 1 1 1 1 1 1 0 1 0 1-1 1-1 1-1 1-1 1-1 1-1 1-1 1-1 1 0 1-1h23l1 1 1 1 1 1 1 3 1 3 1 4 1 6 1 6 1 6 1 6 1 5 1 2 1 0 1-2 1-3 1-4 1-4 1-5 1-5 1-5 1-4 1-3 1-2 1-3 1-1 1-1 1-1 1 0 1-1h10" stroke="#A2142F" vector-effect="non-scaling-stroke"/>
<path d="M0 0h16l1 1 1 0 1 2 1 2 1 3 1 5 1 6 1 8 1 10 1 10 1 10 1 9 1 5 1 2 1-1 1-3 1-6 1-6 1-8 1-8 1-7 1-7 1-7 1-5 1-4 1-3 1-3 1-2 1-1 1-1 1 0 1-1h23l1 1 1 0 1 2 1 3 1 5 1 8 1 12 1 17 1 22 1 26 1 28 1 28 1 23 1 15 1 4 1-4 1-10 1-15 1-19 1-21 1-22 1-20 1-19 1-16 1-14 1-10 1-8 1-5 1-4 1-3 1-2 1-1 1 0 1-1h5l1 1 1 0 1 1 1 2 1 1 1 2 1 1 1 1 1 1 1 0 1-1 1-1 1-1 1-1 1-1 1-1 1-1 1-1 1-1 1 0 1 0 1 0 1 1 1 0 1 1 1 0 1 0 1 0 1-1 1 0 1 0 1-1 1 0 1 0 1-1h26l1 1 1 0 1 1 1 1 1 2 1 2 1 2 1 3 1 2 1 2 1 2 1 0 1 0 1-1 1-2 1-2 1-2 1-2 1-2 1-1 1-2 1-1 1-1 1-1 1 0 1 0 1-1h12" stroke="#0072BD" vector-effect="non-scaling-stroke"/>
<path d="M0 0h15l1 1 1 1 1 1 1 3 1 4 1 6 1 9 1 11 1 14 1 14 1 15 1 13 1 9 1 4 1-1 1-4 1-7 1-9 1-11 1-11 1-11 1-11 1-9 1-8 1-6 1-5 1-4 1-3 1-2 1-1 1-1 1 0 1-1h23l1 1 1 0 1 2 1 3 1 5 1 8 1 12 1 18 1 23 1 28 1 30 1 31 1 25 1 18 1 6 1-3 1-11 1-15 1-21 1-22 1-24 1-22 1-21 1-18 1-14 1-12 1-9 1-6 1-4 1-3 1-2 1-1 1-1 1 0 1-1h1l1 1 1 0 1 1 1 2 1 4 1 4 1 6 1 6 1 7 1 5 1 4 1 0 1-1 1-3 1-4 1-5 1-5 1-5 1-4 1-4 1-3 1-2 1-1 1 0 1 0 1 1 1 1 1 1 1 1 1 1 1 0 1-1 1-1 1-1 1-1 1-1 1-1 1 0 1-1 1 0 1-1h22l1 1 1 1 1 1 1 3 1 3 1 5 1 5 1 7 1 7 1 6 1 5 1 3 1 0 1-2 1-3 1-4 1-5 1-5 1-5 1-5 1-4 1-4 1-3 1-2 1-2 1-1 1-1 1 0 1-1h11" stroke="#D95319" vector-effect="non-scaling-stroke"/>
<path d="M0 0h16l1 1 1 0 1 1 1 2 1 3 1 4 1 5 1 7 1 8 1 8 1 8 1 6 1 4 1 1 1-1 1-3 1-5 1-5 1-6 1-6 1-6 1-6 1-5 1-4 1-3 1-2 1-2 1-2 1 0 1-1 1 0 1-1h23l1 1 1 0 1 1 1 3 1 4 1 7 1 11 1 15 1 20 1 25 1 27 1 27 1 24 1 16 1 6 1-2 1-9 1-14 1-17 1-20 1-21 1-20 1-19 1-16 1-13 1-11 1-8 1-6 1-4 1-3 1-1 1-2 1 0 1-1h4l1 1 1 0 1 2 1 1 1 2 1 3 1 3 1 2 1 2 1 0 1 0 1-1 1-1 1-2 1-2 1-2 1-2 1-2 1-1 1 0 1-1 1 0 1 1 1 1 1 0 1 1 1 0 1 0 1-1 1 0 1-1 1-1 1 0 1-1 1 0 1 0 1-1h25l1 1 1 0 1 2 1 1 1 3 1 3 1 4 1 4 1 4 1 4 1 2 1 1 1-1 1-1 1-2 1-3 1-3 1-3 1-3 1-3 1-3 1-2 1-1 1-1 1-1 1-1 1 0 1-1h11" stroke="#EDB120" vector-effect="non-scaling-stroke"/>
<path d="M0 0h15l1 1 1 0 1 2 1 2 1 4 1 6 1 9 1 12 1 16 1 18 1 20 1 19 1 17 1 11 1 4 1-2 1-6 1-10 1-13 1-14 1-15 1-15 1-14 1-12 1-10 1-9 1-6 1-5 1-3 1-3 1-1 1-1 1-1 1-1h22l1 1 1 1 1 2 1 4 1 8 1 11 1 18 1 24 1 32 1 38 1 41 1 40 1 33 1 22 1 6 1-5 1-15 1-22 1-28 1-30 1-31 1-30 1-28 1-23 1-19 1-15 1-12 1-8 1-5 1-4 1-3 1-1 1-1 1 0 1-1h2l1 1 1 1 1 2 1 4 1 6 1 9 1 11 1 13 1 14 1 11 1 8 1 2 1-2 1-6 1-8 1-9 1-10 1-10 1-9 1-8 1-6 1-4 1-2 1-1 1 0 1 0 1 1 1 1 1 0 1 0 1-1 1-1 1-1 1-2 1-1 1-1 1 0 1-1 1 0 1-1h22l1 1 1 0 1 1 1 2 1 2 1 4 1 4 1 6 1 6 1 6 1 5 1 4 1 1 1-1 1-2 1-3 1-4 1-4 1-5 1-4 1-4 1-4 1-3 1-2 1-2 1-2 1 0 1-1 1 0 1-1h10" stroke="#7E2F8E" vector-effect="non-scaling-stroke"/>
<path d="M0 0h14l1 1 1 0 1 2 1 2 1 3 1 6 1 8 1 12 1 14 1 16 1 17 1 16 1 13 1 9 1 2 1-3 1-6 1-9 1-11 1-13 1-13 1-12 1-12 1-10 1-8 1-7 1-5 1-4 1-3 1-2 1-1 1-1 1 0 1-1h22l1 1 1 2 1 2 1 5 1 9 1 14 1 20 1 29 1 36 1 44 1 46 1 45 1 36 1 23 1 5 1-8 1-17 1-26 1-32 1-34 1-35 1-34 1-30 1-26 1-21 1-16 1-13 1-9 1-6 1-4 1-2 1-2 1-1 1 0 1-1h1l1 1 1 0 1 2 1 3 1 4 1 7 1 10 1 11 1 12 1 12 1 8 1 4 1-1 1-3 1-7 1-8 1-9 1-9 1-9 1-7 1-6 1-5 1-2 1-2 1 0 1 1 1 1 1 1 1 1 1 0 1 0 1-1 1-1 1-1 1-2 1-1 1-1 1-1 1-1 1 0 1-1h22l1 1 1 0 1 2 1 2 1 2 1 4 1 5 1 6 1 5 1 6 1 4 1 3 1 0 1-1 1-2 1-4 1-4 1-4 1-5 1-4 1-4 1-3 1-3 1-2 1-1 1-1 1-1 1 0 1-1h12" stroke="#77AC30" vector-effect="non-scaling-stroke"/>
<path d="M0 0h16l1 1 1 1 1 2 1 3 1 4 1 7 1 9 1 12 1 15 1 15 1 15 1 14 1 9 1 4 1-2 1-4 1-8 1-10 1-11 1-12 1-11 1-11 1-10 1-8 1-7 1-5 1-4 1-3 1-2 1-1 1-1 1 0 1-1h22l1 1 1 0 1 2 1 2 1 5 1 7 1 11 1 16 1 20 1 25 1 27 1 26 1 23 1 15 1 5 1-4 1-9 1-14 1-18 1-20 1-20 1-20 1-18 1-16 1-12 1-11 1-7 1-6 1-3 1-3 1-2 1-1 1 0 1-1h4l1 1 1 0 1 1 1 2 1 2 1 2 1 3 1 2 1 1 1 1 1-1 1 0 1-2 1-2 1-1 1-2 1-2 1-1 1-1 1-1 1 0 1 0 1 1 1 1 1 1 1 1 1 1 1 0 1 0 1-1 1 0 1-1 1-1 1-1 1-1 1-1 1 0 1 0 1-1h23l1 1 1 1 1 1 1 2 1 3 1 3 1 5 1 5 1 5 1 5 1 4 1 1 1 0 1-1 1-3 1-3 1-4 1-4 1-4 1-4 1-3 1-3 1-2 1-1 1-2 1 0 1-1 1 0 1-1h10" stroke="#4DBEEE" vector-effect="non-scaling-stroke"/>
<path d="M0 0h16l1 1 1 0 1 2 1 2 1 3 1 5 1 7 1 9 1 11 1 11 1 11 1 9 1 7 1 2 1-1 1-4 1-5 1-7 1-9 1-8 1-9 1-7 1-7 1-6 1-5 1-4 1-2 1-2 1-2 1-1 1 0 1 0 1-1h23l1 1 1 1 1 1 1 3 1 6 1 8 1 13 1 19 1 23 1 29 1 30 1 30 1 25 1 16 1 5 1-5 1-11 1-16 1-21 1-23 1-23 1-22 1-21 1-17 1-14 1-11 1-9 1-6 1-4 1-3 1-1 1-2 1 0 1-1h5l1 1 1 0 1 0 1 1 1 1 1 1 1 1 1 1 1 0 1 0 1-1 1 0 1-1 1-1 1 0 1-1 1 0 1-1 1 0 1 1 1 0 1 1 1 1 1 0 1 1 1 0 1-1 1 0 1-1 1 0 1-1 1 0 1-1 1 0 1-1h25l1 1 1 1 1 1 1 1 1 3 1 2 1 4 1 3 1 4 1 2 1 2 1 0 1-1 1-1 1-2 1-3 1-2 1-3 1-3 1-2 1-2 1-1 1-1 1-1 1-1 1 0 1-1h12" stroke="#A2142F" vector-effect="non-scaling-stroke"/>
<path d="M0 0h15l1 1 1 1 1 1 1 3 1 5 1 6 1 9 1 12 1 14 1 16 1 16 1 14 1 10 1 5 1-1 1-4 1-8 1-9 1-12 1-12 1-12 1-11 1-10 1-9 1-7 1-5 1-4 1-3 1-2 1-2 1-1 1 0 1-1h22l1 1 1 0 1 2 1 3 1 5 1 9 1 13 1 20 1 27 1 33 1 37 1 39 1 34 1 26 1 13 1-1 1-10 1-17 1-24 1-27 1-30 1-28 1-27 1-24 1-20 1-15 1-13 1-8 1-7 1-4 1-3 1-2 1-1 1 0 1-1h2l1 1 1 1 1 2 1 3 1 5 1 8 1 10 1 12 1 12 1 11 1 8 1 2 1-2 1-4 1-8 1-8 1-10 1-9 1-8 1-7 1-5 1-4 1-2 1-1 1 0 1 2 1 1 1 1 1 0 1 0 1-1 1-1 1-2 1-1 1-2 1-1 1-1 1-1 1 0 1 0 1-1h22l1 1 1 0 1 1 1 2 1 3 1 3 1 5 1 5 1 7 1 6 1 4 1 4 1 1 1-1 1-2 1-4 1-4 1-4 1-5 1-4 1-4 1-4 1-3 1-2 1-2 1-1 1-1 1 0 1 0 1-1h10" stroke="#0072BD" vector-effect="non-scaling-stroke"/>
<path d="M0 0h15l1 1 1 0 1 1 1 2 1 3 1 4 1 6 1 7 1 9 1 9 1 9 1 8 1 5 1 2 1-1 1-3 1-5 1-5 1-7 1-7 1-7 1-7 1-5 1-5 1-4 1-3 1-2 1-2 1-1 1-1 1 0 1-1h25l1 1 1 1 1 1 1 3 1 5 1 6 1 9 1 12 1 13 1 14 1 13 1 10 1 6 1 1 1-3 1-6 1-8 1-10 1-10 1-11 1-10 1-8 1-8 1-6 1-5 1-3 1-2 1-2 1-1 1-1 1 0 1-1h6l1 1 1 1 1 1 1 1 1 2 1 2 1 1 1 1 1 1 1 0 1-1 1-1 1-1 1-2 1-1 1-1 1-1 1-1 1 0 1 0 1 0 1 0 1 1 1 1 1 0 1 1 1 0 1-1 1 0 1-1 1 0 1-1 1-1 1 0 1 0 1-1h25l1 1 1 1 1 1 1 2 1 3 1 3 1 5 1 4 1 5 1 4 1 3 1 1 1 0 1-2 1-2 1-4 1-3 1-4 1-3 1-4 1-2 1-3 1-2 1-1 1-1 1-1 1 0 1-1h11" stroke="#D95319" vector-effect="non-scaling-stroke"/>
<path d="M0 0h15l1 1 1 1 1 1 1 2 1 4 1 6 1 9 1 11 1 13 1 15 1 15 1 13 1 10 1 5 1 0 1-4 1-6 1-9 1-11 1-11 1-12 1-10 1-10 1-8 1-7 1-5 1-4 1-3 1-2 1-2 1-1 1 0 1-1h22l1 1 1 0 1 2 1 3 1 5 1 9 1 14 1 20 1 29 1 36 1 41 1 44 1 42 1 32 1 19 1 2 1-9 1-18 1-26 1-30 1-33 1-33 1-31 1-28 1-24 1-19 1-15 1-11 1-8 1-5 1-4 1-2 1-1 1-1 1 0 1-1h2l1 1 1 1 1 2 1 4 1 5 1 7 1 9 1 10 1 10 1 7 1 5 1 0 1-3 1-5 1-6 1-7 1-8 1-7 1-7 1-5 1-3 1-2 1-1 1 0 1 0 1 1 1 1 1 1 1-1 1 0 1-1 1-2 1-1 1-1 1-1 1-1 1-1 1 0 1-1h23l1 1 1 0 1 1 1 2 1 3 1 4 1 4 1 6 1 7 1 6 1 5 1 3 1 1 1-1 1-2 1-4 1-4 1-5 1-4 1-5 1-4 1-4 1-3 1-2 1-1 1-2 1-1 1 0 1 0 1-1h10" stroke="#EDB120" vector-effect="non-scaling-stroke"/>
<path d="M0 0h15l1 1 1 0 1 2 1 2 1 4 1 6 1 8 1 11 1 13 1 15 1 15 1 14 1 11 1 5 1 0 1-3 1-6 1-9 1-11 1-11 1-12 1-11 1-10 1-8 1-7 1-6 1-4 1-3 1-2 1-2 1-1 1 0 1-1h23l1 1 1 1 1 3 1 4 1 7 1 11 1 17 1 22 1 28 1 32 1 34 1 30 1 24 1 13 1 0 1-8 1-14 1-20 1-24 1-25 1-25 1-24 1-21 1-17 1-14 1-11 1-8 1-6 1-4 1-2 1-2 1-1 1 0 1-1h2l1 1 1 0 1 1 1 2 1 3 1 5 1 6 1 7 1 8 1 7 1 5 1 2 1-1 1-3 1-4 1-6 1-6 1-5 1-6 1-4 1-3 1-3 1-1 1-1 1 1 1 1 1 1 1 1 1 0 1 0 1 0 1-1 1-1 1-1 1-1 1-1 1-1 1-1 1 0 1 0 1-1h22l1 1 1 0 1 1 1 2 1 3 1 4 1 5 1 6 1 7 1 6 1 6 1 4 1 1 1-1 1-2 1-4 1-4 1-5 1-5 1-5 1-5 1-3 1-4 1-2 1-2 1-1 1-1 1-1 1 0 1-1h10" stroke="#7E2F8E" vector-effect="non-scaling-stroke"/>
<path d="M0 0h16l1 1 1 1 1 1 1 2 1 3 1 4 1 6 1 7 1 8 1 8 1 7 1 6 1 3 1 0 1-2 1-3 1-5 1-6 1-6 1-6 1-6 1-5 1-4 1-4 1-3 1-2 1-2 1-1 1-1 1 0 1-1h24l1 1 1 0 1 1 1 3 1 4 1 7 1 10 1 14 1 19 1 22 1 24 1 23 1 20 1 13 1 4 1-4 1-8 1-13 1-16 1-18 1-18 1-18 1-16 1-14 1-11 1-9 1-6 1-5 1-3 1-3 1-1 1-1 1 0 1-1h6l1 1 1 0 1 1 1 1 1 1 1 1 1 1 1 1 1 0 1-1 1 0 1-1 1-1 1 0 1-1 1-1 1 0 1-1 1 0 1 0 1 0 1 0 1 0 1 0 1 1 1 0 1 0 1 0 1-1 1 0 1 0 1 0 1 0 1-1h27l1 1 1 1 1 1 1 1 1 2 1 3 1 3 1 2 1 3 1 2 1 0 1 0 1-1 1-1 1-2 1-2 1-2 1-2 1-2 1-2 1-1 1-1 1-1 1-1 1 0 1-1h12" stroke="#77AC30" vector-effect="non-scaling-stroke"/>
<path d="M0 0h16l1 1 1 1 1 1 1 2 1 4 1 6 1 8 1 10 1 12 1 14 1 14 1 11 1 9 1 4 1-1 1-3 1-7 1-8 1-10 1-10 1-11 1-9 1-9 1-7 1-6 1-5 1-3 1-3 1-2 1-1 1-1 1 0 1-1h23l1 1 1 1 1 3 1 4 1 6 1 11 1 15 1 20 1 25 1 28 1 29 1 26 1 19 1 9 1-1 1-8 1-14 1-18 1-20 1-22 1-22 1-20 1-17 1-15 1-12 1-9 1-6 1-5 1-3 1-2 1-1 1-1 1 0 1-1h2l1 1 1 0 1 2 1 2 1 3 1 4 1 6 1 6 1 6 1 5 1 3 1 0 1-1 1-3 1-4 1-5 1-5 1-4 1-4 1-4 1-2 1-2 1-1 1 0 1 0 1 0 1 1 1 1 1 0 1 0 1-1 1 0 1-1 1 0 1-1 1-1 1 0 1 0 1-1h24l1 1 1 1 1 1 1 2 1 4 1 4 1 5 1 6 1 6 1 5 1 4 1 1 1 0 1-2 1-3 1-3 1-5 1-4 1-4 1-5 1-3 1-3 1-2 1-2 1-1 1-1 1-1 1 0 1-1h10" stroke="#4DBEEE" vector-effect="non-scaling-stroke"/>
<path d="M0 0h16l1 1 1 0 1 1 1 2 1 3 1 5 1 6 1 7 1 9 1 9 1 9 1 7 1 5 1 1 1-1 1-3 1-5 1-6 1-7 1-7 1-6 1-7 1-5 1-5 1-4 1-3 1-2 1-1 1-1 1-1 1 0 1-1h24l1 1 1 0 1 2 1 2 1 5 1 7 1 9 1 13 1 17 1 18 1 19 1 17 1 12 1 6 1 0 1-5 1-9 1-12 1-13 1-15 1-14 1-13 1-11 1-10 1-7 1-6 1-5 1-3 1-2 1-1 1-1 1 0 1-1h3l1 1 1 0 1 1 1 2 1 2 1 3 1 4 1 3 1 4 1 3 1 1 1-1 1-1 1-2 1-3 1-3 1-3 1-2 1-3 1-1 1-2 1 0 1 0 1 0 1 0 1 1 1 1 1 0 1 0 1 0 1 0 1-1 1-1 1-1 1 0 1-1 1 0 1 0 1-1h25l1 1 1 0 1 1 1 1 1 2 1 2 1 2 1 2 1 2 1 1 1 0 1 0 1-1 1-1 1-1 1-2 1-1 1-2 1-1 1-1 1-1 1-1 1-1 1 0 1 0 1-1h12" stroke="#A2142F" vector-effect="non-scaling-stroke"/>
<path d="M0 0h16l1 1 1 1 1 1 1 3 1 5 1 6 1 9 1 12 1 13 1 15 1 15 1 12 1 9 1 3 1-1 1-4 1-7 1-10 1-10 1-12 1-11 1-10 1-9 1-8 1-7 1-5 1-3 1-3 1-2 1-1 1-1 1 0 1-1h22l1 1 1 1 1 1 1 4 1 6 1 9 1 15 1 21 1 29 1 34 1 38 1 38 1 34 1 23 1 10 1-4 1-11 1-20 1-24 1-28 1-30 1-28 1-27 1-22 1-19 1-15 1-12 1-8 1-6 1-4 1-2 1-2 1-1 1 0 1-1h1l1 1 1 0 1 2 1 2 1 5 1 6 1 9 1 11 1 12 1 11 1 9 1 4 1-1 1-3 1-6 1-8 1-9 1-9 1-8 1-7 1-6 1-5 1-3 1-2 1 0 1 0 1 0 1 1 1 1 1 0 1 0 1-1 1 0 1-1 1-1 1-1 1-1 1-1 1 0 1 0 1-1h23l1 1 1 1 1 1 1 2 1 4 1 4 1 5 1 7 1 6 1 6 1 4 1 2 1 0 1-1 1-3 1-4 1-5 1-5 1-4 1-5 1-4 1-3 1-3 1-2 1-1 1-1 1-1 1 0 1-1h10" stroke="#0072BD" vector-effect="non-scaling-stroke"/>
<path d="M0 0h15l1 1 1 0 1 1 1 2 1 3 1 5 1 8 1 10 1 13 1 16 1 16 1 17 1 13 1 10 1 4 1-2 1-5 1-8 1-11 1-12 1-13 1-12 1-12 1-10 1-9 1-7 1-5 1-4 1-3 1-2 1-2 1-1 1 0 1-1h22l1 1 1 1 1 3 1 4 1 7 1 11 1 17 1 22 1 28 1 32 1 33 1 30 1 24 1 12 1 0 1-8 1-14 1-20 1-24 1-25 1-25 1-23 1-20 1-18 1-14 1-10 1-8 1-6 1-4 1-2 1-2 1-1 1 0 1-1h2l1 1 1 0 1 1 1 2 1 4 1 5 1 6 1 8 1 8 1 7 1 5 1 2 1-1 1-3 1-5 1-5 1-6 1-6 1-6 1-4 1-4 1-3 1-1 1-1 1 0 1 1 1 1 1 1 1 0 1 0 1 0 1-1 1-1 1-1 1-1 1-1 1 0 1-1 1 0 1-1h23l1 1 1 0 1 2 1 1 1 3 1 4 1 4 1 5 1 6 1 5 1 4 1 2 1 0 1-1 1-2 1-3 1-4 1-4 1-4 1-4 1-4 1-3 1-2 1-2 1-1 1-1 1-1 1 0 1-1h11" stroke="#D95319" vector-effect="non-scaling-stroke"/>
<path d="M0 0h14l1 1 1 0 1 2 1 2 1 4 1 5 1 9 1 11 1 15 1 17 1 18 1 18 1 14 1 9 1 3 1-2 1-6 1-9 1-12 1-13 1-14 1-14 1-12 1-11 1-9 1-7 1-6 1-4 1-3 1-2 1-2 1-1 1 0 1-1h22l1 1 1 0 1 2 1 3 1 6 1 9 1 14 1 20 1 28 1 33 1 39 1 39 1 35 1 26 1 13 1-2 1-10 1-19 1-24 1-28 1-30 1-29 1-28 1-23 1-20 1-16 1-13 1-8 1-7 1-4 1-3 1-2 1-1 1 0 1-1h1l1 1 1 0 1 2 1 3 1 5 1 7 1 9 1 13 1 13 1 13 1 10 1 5 1 0 1-4 1-7 1-8 1-10 1-11 1-9 1-8 1-7 1-5 1-4 1-2 1-1 1 0 1 1 1 0 1 1 1 0 1 0 1-1 1 0 1-1 1-1 1-1 1-1 1-1 1 0 1 0 1-1h23l1 1 1 1 1 1 1 2 1 4 1 5 1 6 1 7 1 8 1 7 1 6 1 4 1 1 1-2 1-3 1-4 1-5 1-6 1-6 1-5 1-5 1-5 1-3 1-3 1-2 1-1 1-1 1-1 1 0 1-1h10" stroke="#EDB120" vector-effect="non-scaling-stroke"/>
<path d="M0 0h15l1 1 1 0 1 1 1 2 1 4 1 5 1 9 1 11 1 14 1 17 1 18 1 17 1 16 1 10 1 4 1-2 1-6 1-9 1-11 1-13 1-14 1-14 1-12 1-11 1-10 1-7 1-6 1-5 1-3 1-2 1-2 1-1 1 0 1-1h22l1 1 1 1 1 1 1 4 1 6 1 9 1 15 1 21 1 28 1 34 1 38 1 38 1 33 1 23 1 10 1-3 1-12 1-19 1-25 1-28 1-29 1-28 1-26 1-23 1-19 1-15 1-11 1-8 1-6 1-4 1-2 1-2 1-1 1 0 1-1h2l1 1 1 0 1 2 1 2 1 3 1 4 1 6 1 6 1 5 1 5 1 2 1 0 1-1 1-3 1-4 1-5 1-4 1-5 1-3 1-3 1-2 1-2 1 0 1 0 1 1 1 2 1 1 1 1 1 1 1-1 1 0 1-1 1-2 1-1 1-1 1-1 1-1 1-1 1 0 1-1h23l1 1 1 1 1 1 1 2 1 3 1 3 1 5 1 6 1 5 1 5 1 4 1 2 1 0 1-1 1-3 1-3 1-4 1-5 1-4 1-4 1-3 1-3 1-2 1-2 1-1 1-1 1-1 1 0 1-1h10" stroke="#7E2F8E" vector-effect="non-scaling-stroke"/>
<path d="M0 0h15l1 1 1 0 1 1 1 2 1 2 1 4 1 5 1 7 1 8 1 10 1 9 1 8 1 6 1 3 1 0 1-2 1-5 1-5 1-7 1-7 1-7 1-7 1-6 1-5 1-4 1-3 1-3 1-2 1-1 1-1 1 0 1-1h24l1 1 1 1 1 2 1 4 1 6 1 9 1 14 1 19 1 24 1 27 1 29 1 26 1 20 1 11 1 0 1-6 1-13 1-17 1-20 1-21 1-22 1-20 1-17 1-15 1-12 1-10 1-6 1-5 1-4 1-2 1-1 1-1 1 0 1-1h4l1 1 1 1 1 1 1 1 1 3 1 2 1 3 1 2 1 2 1 0 1 0 1-1 1-2 1-2 1-2 1-2 1-2 1-1 1-1 1-1 1 0 1 1 1 0 1 1 1 2 1 1 1 0 1 0 1 0 1-1 1-1 1-1 1-1 1 0 1-1 1-1 1 0 1-1h24l1 1 1 1 1 1 1 2 1 3 1 3 1 4 1 5 1 5 1 3 1 3 1 1 1-1 1-1 1-3 1-3 1-3 1-4 1-3 1-3 1-3 1-2 1-2 1-1 1-1 1-1 1 0 1-1h11" stroke="#77AC30" vector-effect="non-scaling-stroke"/>
<path d="M0 0h15l1 1 1 0 1 2 1 2 1 4 1 5 1 9 1 12 1 14 1 17 1 19 1 17 1 15 1 10 1 3 1-2 1-7 1-9 1-12 1-13 1-14 1-14 1-12 1-11 1-10 1-7 1-6 1-4 1-3 1-2 1-2 1-1 1 0 1-1h22l1 1 1 1 1 2 1 4 1 7 1 10 1 16 1 22 1 27 1 33 1 34 1 32 1 26 1 16 1 2 1-6 1-14 1-19 1-24 1-25 1-26 1-25 1-22 1-18 1-16 1-11 1-9 1-6 1-5 1-3 1-1 1-2 1 0 1-1h2l1 1 1 0 1 2 1 2 1 5 1 7 1 9 1 13 1 14 1 14 1 12 1 7 1 1 1-3 1-7 1-9 1-10 1-11 1-10 1-9 1-8 1-6 1-4 1-2 1-1 1 0 1 1 1 1 1 0 1 0 1 0 1-1 1-1 1-2 1-1 1-1 1-1 1-1 1 0 1 0 1-1h22l1 1 1 0 1 1 1 2 1 3 1 4 1 5 1 7 1 7 1 7 1 5 1 4 1 2 1-1 1-2 1-4 1-4 1-6 1-5 1-5 1-5 1-4 1-3 1-3 1-2 1-1 1-1 1-1 1 0 1-1h10" stroke="#4DBEEE" vector-effect="non-scaling-stroke"/>
<path d="M0 0h15l1 1 1 0 1 2 1 2 1 4 1 5 1 9 1 12 1 15 1 17 1 19 1 18 1 15 1 10 1 3 1-2 1-7 1-9 1-12 1-14 1-14 1-14 1-12 1-12 1-9 1-8 1-6 1-4 1-3 1-2 1-2 1-1 1 0 1-1h21l1 1 1 0 1 2 1 2 1 6 1 9 1 14 1 21 1 30 1 37 1 45 1 48 1 45 1 37 1 23 1 5 1-9 1-18 1-27 1-32 1-36 1-36 1-34 1-31 1-26 1-21 1-17 1-13 1-8 1-7 1-4 1-2 1-2 1-1 1 0 1-1h1l1 1 1 1 1 1 1 3 1 5 1 6 1 9 1 11 1 11 1 10 1 7 1 2 1-1 1-4 1-6 1-8 1-8 1-9 1-7 1-7 1-5 1-3 1-2 1-1 1 0 1 1 1 1 1 1 1 1 1-1 1 0 1-1 1-1 1-1 1-2 1-1 1-1 1-1 1 0 1 0 1-1h22l1 1 1 0 1 1 1 2 1 2 1 4 1 5 1 5 1 6 1 6 1 5 1 3 1 1 1 0 1-3 1-3 1-4 1-4 1-5 1-4 1-4 1-4 1-3 1-2 1-1 1-2 1-1 1 0 1 0 1-1h10" stroke="#A2142F" vector-effect="non-scaling-stroke"/>
<path d="M0 0h15l1 1 1 0 1 1 1 2 1 3 1 6 1 7 1 10 1 13 1 16 1 16 1 16 1 14 1 9 1 3 1-2 1-5 1-8 1-11 1-12 1-13 1-12 1-11 1-10 1-9 1-7 1-5 1-4 1-3 1-2 1-1 1-1 1 0 1-1h22l1 1 1 1 1 3 1 4 1 8 1 13 1 19 1 27 1 35 1 42 1 46 1 44 1 37 1 24 1 7 1-6 1-17 1-24 1-30 1-34 1-35 1-33 1-30 1-26 1-21 1-17 1-12 1-9 1-6 1-4 1-3 1-2 1-1 1 0 1-1 1 1 1 0 1 1 1 2 1 3 1 6 1 8 1 11 1 13 1 14 1 12 1 9 1 3 1-2 1-4 1-8 1-10 1-10 1-10 1-10 1-7 1-7 1-4 1-3 1-1 1-1 1 1 1 1 1 1 1 1 1-1 1 0 1-1 1-1 1-2 1-1 1-1 1-1 1-1 1 0 1 0 1-1h22l1 1 1 1 1 1 1 2 1 3 1 5 1 6 1 7 1 7 1 7 1 6 1 4 1 1 1-1 1-3 1-4 1-5 1-6 1-5 1-6 1-5 1-4 1-3 1-3 1-2 1-1 1-1 1-1 1 0 1-1h10" stroke="#0072BD" vector-effect="non-scaling-stroke"/>
<path d="M0 0h14l1 1 1 1 1 1 1 3 1 5 1 6 1 10 1 13 1 16 1 19 1 19 1 17 1 14 1 8 1 1 1-4 1-7 1-11 1-13 1-14 1-14 1-14 1-13 1-11 1-9 1-7 1-5 1-4 1-3 1-2 1-1 1-1 1 0 1-1h22l1 1 1 1 1 3 1 4 1 8 1 12 1 17 1 25 1 31 1 37 1 39 1 36 1 30 1 17 1 3 1-7 1-15 1-22 1-27 1-29 1-30 1-27 1-25 1-21 1-17 1-14 1-10 1-7 1-5 1-3 1-2 1-1 1-1 1 0 1-1h1l1 1 1 1 1 2 1 3 1 6 1 8 1 12 1 15 1 17 1 16 1 13 1 7 1 0 1-5 1-8 1-10 1-13 1-13 1-11 1-11 1-8 1-7 1-4 1-3 1-1 1 0 1 1 1 1 1 0 1 0 1 0 1-1 1-1 1-1 1-2 1-1 1-1 1 0 1-1 1 0 1-1h22l1 1 1 0 1 2 1 1 1 3 1 4 1 6 1 6 1 6 1 7 1 5 1 4 1 1 1-1 1-2 1-4 1-4 1-5 1-6 1-4 1-5 1-4 1-3 1-2 1-2 1-1 1-1 1-1 1 0 1-1h11" stroke="#D95319" vector-effect="non-scaling-stroke"/>
<path d="M0 0h15l1 1 1 0 1 1 1 2 1 4 1 5 1 7 1 10 1 11 1 14 1 14 1 13 1 10 1 5 1 1 1-3 1-5 1-8 1-9 1-11 1-10 1-10 1-10 1-8 1-6 1-5 1-4 1-3 1-2 1-2 1-1 1 0 1-1h23l1 1 1 1 1 3 1 5 1 7 1 13 1 18 1 24 1 31 1 36 1 37 1 35 1 26 1 15 1 1 1-9 1-16 1-22 1-26 1-28 1-28 1-26 1-23 1-20 1-16 1-12 1-9 1-6 1-5 1-3 1-1 1-2 1 0 1-1h2l1 1 1 1 1 2 1 3 1 5 1 7 1 9 1 11 1 10 1 10 1 6 1 1 1-2 1-4 1-7 1-8 1-8 1-8 1-7 1-6 1-5 1-3 1-2 1-1 1 0 1 1 1 0 1 1 1 0 1 0 1-1 1 0 1-1 1-1 1-1 1-1 1-1 1 0 1 0 1-1h22l1 1 1 0 1 1 1 2 1 2 1 4 1 5 1 5 1 6 1 6 1 6 1 3 1 1 1 0 1-2 1-4 1-4 1-4 1-5 1-4 1-5 1-3 1-3 1-3 1-1 1-2 1 0 1-1 1 0 1-1h11" stroke="#EDB120" vector-effect="non-scaling-stroke"/>
<path d="M0 0h16l1 1 1 1 1 1 1 3 1 4 1 6 1 9 1 11 1 13 1 14 1 14 1 12 1 8 1 4 1-1 1-5 1-7 1-9 1-10 1-11 1-10 1-10 1-9 1-7 1-6 1-5 1-4 1-2 1-2 1-1 1-1 1 0 1-1h23l1 1 1 1 1 2 1 4 1 6 1 9 1 14 1 20 1 24 1 27 1 29 1 26 1 21 1 10 1 1 1-7 1-12 1-18 1-20 1-21 1-22 1-20 1-18 1-15 1-12 1-9 1-7 1-5 1-4 1-2 1-1 1-1 1 0 1-1h2l1 1 1 1 1 2 1 3 1 5 1 8 1 9 1 12 1 11 1 11 1 6 1 2 1-2 1-4 1-7 1-9 1-9 1-8 1-8 1-7 1-5 1-3 1-2 1-1 1 0 1 0 1 1 1 0 1 0 1-1 1 0 1-1 1-1 1-1 1-1 1 0 1-1 1 0 1-1h24l1 1 1 1 1 1 1 2 1 4 1 4 1 5 1 6 1 6 1 6 1 4 1 2 1-1 1-1 1-3 1-4 1-4 1-5 1-5 1-4 1-4 1-3 1-2 1-2 1-1 1-1 1-1 1 0 1-1h10" stroke="#7E2F8E" vector-effect="non-scaling-stroke"/>
<path d="M0 0h16l1 1 1 1 1 1 1 3 1 4 1 6 1 9 1 10 1 13 1 13 1 13 1 10 1 7 1 3 1-2 1-4 1-7 1-9 1-9 1-10 1-10 1-9 1-8 1-7 1-5 1-4 1-4 1-2 1-1 1-1 1-1 1 0 1-1h22l1 1 1 1 1 1 1 4 1 5 1 9 1 13 1 19 1 23 1 28 1 30 1 29 1 23 1 14 1 3 1-5 1-11 1-17 1-20 1-22 1-23 1-21 1-20 1-16 1-14 1-10 1-8 1-6 1-3 1-3 1-2 1-1 1 0 1-1h5l1 1 1 0 1 1 1 2 1 1 1 2 1 2 1 1 1 1 1 0 1 0 1-1 1-1 1-2 1-1 1-1 1-1 1-1 1-1 1 0 1 0 1 1 1 0 1 1 1 1 1 1 1 0 1-1 1 0 1-1 1-1 1 0 1-1 1-1 1 0 1 0 1-1h24l1 1 1 0 1 2 1 1 1 3 1 3 1 3 1 4 1 4 1 3 1 3 1 0 1 0 1-2 1-2 1-2 1-3 1-3 1-3 1-3 1-2 1-2 1-2 1-1 1 0 1-1 1 0 1-1h11" stroke="#77AC30" vector-effect="non-scaling-stroke"/>
<path d="M0 0h16l1 1 1 0 1 1 1 2 1 3 1 4 1 5 1 7 1 9 1 9 1 8 1 7 1 5 1 2 1-1 1-3 1-5 1-6 1-6 1-7 1-6 1-6 1-6 1-4 1-4 1-3 1-2 1-1 1-1 1-1 1 0 1-1h23l1 1 1 1 1 1 1 3 1 5 1 8 1 12 1 15 1 20 1 23 1 24 1 22 1 18 1 9 1 1 1-6 1-10 1-14 1-17 1-18 1-18 1-17 1-15 1-12 1-11 1-7 1-6 1-4 1-3 1-2 1-1 1-1 1 0 1-1h4l1 1 1 0 1 1 1 2 1 2 1 2 1 2 1 2 1 2 1 0 1 0 1-1 1-1 1-2 1-2 1-2 1-1 1-1 1-1 1-1 1 0 1 0 1 0 1 1 1 1 1 1 1 1 1 0 1 0 1-1 1 0 1-1 1-1 1-1 1 0 1-1 1 0 1-1h24l1 1 1 0 1 1 1 1 1 2 1 2 1 3 1 3 1 2 1 3 1 2 1 0 1 0 1-1 1-1 1-2 1-2 1-3 1-2 1-2 1-2 1-1 1-1 1-1 1-1 1 0 1-1h12" stroke="#4DBEEE" vector-effect="non-scaling-stroke"/>
<path d="M0 0h15l1 1 1 1 1 1 1 3 1 4 1 5 1 9 1 10 1 13 1 13 1 14 1 12 1 8 1 3 1 0 1-4 1-7 1-8 1-10 1-11 1-10 1-10 1-8 1-8 1-6 1-4 1-4 1-2 1-2 1-1 1-1 1 0 1-1h23l1 1 1 1 1 3 1 4 1 7 1 11 1 16 1 22 1 26 1 30 1 30 1 28 1 19 1 10 1-2 1-8 1-15 1-18 1-22 1-24 1-22 1-21 1-19 1-15 1-12 1-10 1-7 1-4 1-4 1-2 1-1 1-1 1 0 1-1h3l1 1 1 0 1 2 1 1 1 3 1 3 1 4 1 4 1 3 1 2 1 0 1-1 1-1 1-3 1-3 1-2 1-3 1-3 1-2 1-1 1-1 1 0 1 0 1 1 1 1 1 1 1 1 1 0 1 0 1-1 1 0 1-1 1-1 1-1 1-1 1-1 1 0 1 0 1-1h23l1 1 1 1 1 1 1 2 1 4 1 4 1 6 1 6 1 7 1 6 1 4 1 2 1 0 1-1 1-3 1-4 1-5 1-5 1-5 1-4 1-4 1-4 1-2 1-2 1-2 1-1 1-1 1 0 1-1h11" stroke="#A2142F" vector-effect="non-scaling-stroke"/>
<path d="M0 0h17l1 1 1 1 1 1 1 3 1 3 1 5 1 6 1 8 1 8 1 8 1 7 1 5 1 2 1 0 1-3 1-3 1-5 1-6 1-7 1-6 1-6 1-5 1-4 1-4 1-2 1-3 1-1 1-1 1-1 1 0 1-1h24l1 1 1 1 1 2 1 4 1 5 1 9 1 12 1 16 1 18 1 21 1 19 1 17 1 11 1 3 1-3 1-7 1-11 1-14 1-15 1-15 1-15 1-13 1-12 1-9 1-8 1-5 1-4 1-3 1-2 1-1 1-1 1 0 1-1h4l1 1 1 1 1 1 1 2 1 2 1 3 1 3 1 2 1 2 1 1 1-1 1-1 1-2 1-2 1-2 1-2 1-2 1-2 1-1 1-1 1 0 1 0 1 0 1 0 1 1 1 0 1 0 1 0 1 0 1 0 1-1 1 0 1 0 1-1 1 0 1 0 1-1h26l1 1 1 0 1 1 1 2 1 1 1 2 1 2 1 3 1 1 1 1 1 1 1 0 1-1 1-1 1-2 1-1 1-2 1-2 1-1 1-1 1-1 1-1 1-1 1 0 1 0 1-1h12" stroke="#0072BD" vector-effect="non-scaling-stroke"/>
<path d="M0 0h14l1 1 1 0 1 2 1 2 1 4 1 6 1 9 1 12 1 17 1 19 1 23 1 23 1 21 1 17 1 11 1 2 1-4 1-8 1-12 1-15 1-17 1-18 1-17 1-16 1-14 1-12 1-10 1-7 1-6 1-4 1-3 1-2 1-2 1-1 1 0 1-1h21l1 1 1 1 1 2 1 3 1 5 1 9 1 12 1 16 1 20 1 23 1 24 1 23 1 18 1 11 1 3 1-4 1-9 1-13 1-16 1-18 1-19 1-17 1-16 1-15 1-11 1-10 1-7 1-5 1-4 1-3 1-1 1-1 1-1 1-1h105" stroke="#0072BD" vector-effect="non-scaling-stroke"/>
<path d="M0 0h76l1 1 1 1 1 2 1 4 1 4 1 6 1 6 1 6 1 3 1 1 1-1 1-3 1-4 1-4 1-5 1-4 1-4 1-3 1-2 1-2 1-1 1 0 1-1h111" stroke="#77AC30" vector-effect="non-scaling-stroke"/>
<path d="M0 0h76l1 1 1 1 1 1 1 3 1 3 1 5 1 4 1 4 1 3 1 1 1-1 1-2 1-3 1-4 1-3 1-4 1-2 1-2 1-2 1-1 1-1 1 0 1-1h111" stroke="#4DBEEE" vector-effect="non-scaling-stroke"/>
<path d="M0 0h78l1 1 1 0 1 1 1 1 1 1 1 1 1 1 1 0 1-1 1 0 1-1 1 0 1-1 1-1 1-1 1 0 1 0 1-1h10l1 1 1 1 1 2 1 4 1 7 1 12 1 16 1 22 1 27 1 27 1 25 1 17 1 6 1-4 1-10 1-15 1-19 1-21 1-21 1-19 1-16 1-13 1-9 1-8 1-4 1-4 1-1 1-2 1 0 1-1h74" stroke="#A2142F" vector-effect="non-scaling-stroke"/>
</g></g>
<rect x="399" y="589.9" width="262" height="79.8" fill="none" stroke="#6e6e6e"/>
<text x="421.2" y="683.5" font-size="12.8" text-anchor="middle">45.4</text>
<text x="464.9" y="683.5" font-size="12.8" text-anchor="middle">45.6</text>
<text x="508.6" y="683.5" font-size="12.8" text-anchor="middle">45.8</text>
<text x="552.2" y="683.5" font-size="12.8" text-anchor="middle">46</text>
<text x="595.9" y="683.5" font-size="12.8" text-anchor="middle">46.2</text>
<text x="639.6" y="683.5" font-size="12.8" text-anchor="middle">46.4</text>
<text x="391" y="673.1" font-size="12.2" text-anchor="middle">0</text>
<text x="391" y="650.3" font-size="12.2" text-anchor="middle">2</text>
<text x="391" y="627.5" font-size="12.2" text-anchor="middle">4</text>
<text x="391" y="604.7" font-size="12.2" text-anchor="middle">6</text>
<path d="M420.8 669.7v-3M420.8 589.9v3M464.5 669.7v-3M464.5 589.9v3M508.2 669.7v-3M508.2 589.9v3M551.8 669.7v-3M551.8 589.9v3M595.5 669.7v-3M595.5 589.9v3M639.2 669.7v-3M639.2 589.9v3M399 669.7h3M661 669.7h-3M399 646.9h3M661 646.9h-3M399 624.1h3M661 624.1h-3M399 601.3h3M661 601.3h-3" stroke="#6e6e6e" stroke-width=".9"/>
<text x="188.1" y="699.3" font-size="13" text-anchor="middle">Time (min)</text>
<text x="532" y="699.3" font-size="13" text-anchor="middle">Time (min)</text>
<text transform="translate(8.7 36) scale(0.945 1)" x="-.2" y="0" font-size="42.8">A</text>
<text x="-.5" y="264.9" font-size="41" text-anchor="start">a</text>
<path d="M39 264.9L39 236.2L36.6 236.2Q35.3 241.1 27.3 242.1L27.3 244.5L35.1 244.5L35.1 264.9Z"/>
<text x="339.9" y="268" font-size="41" text-anchor="start">a</text>
<text transform="translate(364.3 268) scale(1.072 1)" x="-2.1" y="0" font-size="41">2</text>
<text x="7.8" y="376.3" font-size="41" text-anchor="start">b</text>
<path d="M46.6 376.3L46.6 346.9L44.1 346.9Q42.8 351.9 35.6 352.9L35.6 355.4L42.6 355.4L42.6 376.3Z"/>
<text x="340.1" y="377.5" font-size="41" text-anchor="start">b</text>
<text transform="translate(364.3 377.5) scale(1.099 1)" x="-2.1" y="0" font-size="41">2</text>
<text transform="translate(3.4 496.6) scale(1.050 1)" x="-1.8" y="0" font-size="41">c</text>
<path d="M38.7 496.6L38.7 467.8L36.3 467.8Q35 472.7 27.3 473.7L27.3 476.2L34.8 476.2L34.8 496.6Z"/>
<text transform="translate(341.2 498.2) scale(1.050 1)" x="-1.8" y="0" font-size="41">c</text>
<text transform="translate(361.7 498.2) scale(1.094 1)" x="-2.1" y="0" font-size="41">2</text>
<text x="7.3" y="612.8" font-size="41" text-anchor="start">d</text>
<path d="M46.6 612.8L46.6 583.2L44.1 583.2Q42.8 588.2 35.6 589.3L35.6 591.8L42.6 591.8L42.6 612.8Z"/>
<text x="340.1" y="614.1" font-size="41" text-anchor="start">d</text>
<text transform="translate(364.8 614.1) scale(1.045 1)" x="-2.1" y="0" font-size="41">2</text>
</svg></body></html>
